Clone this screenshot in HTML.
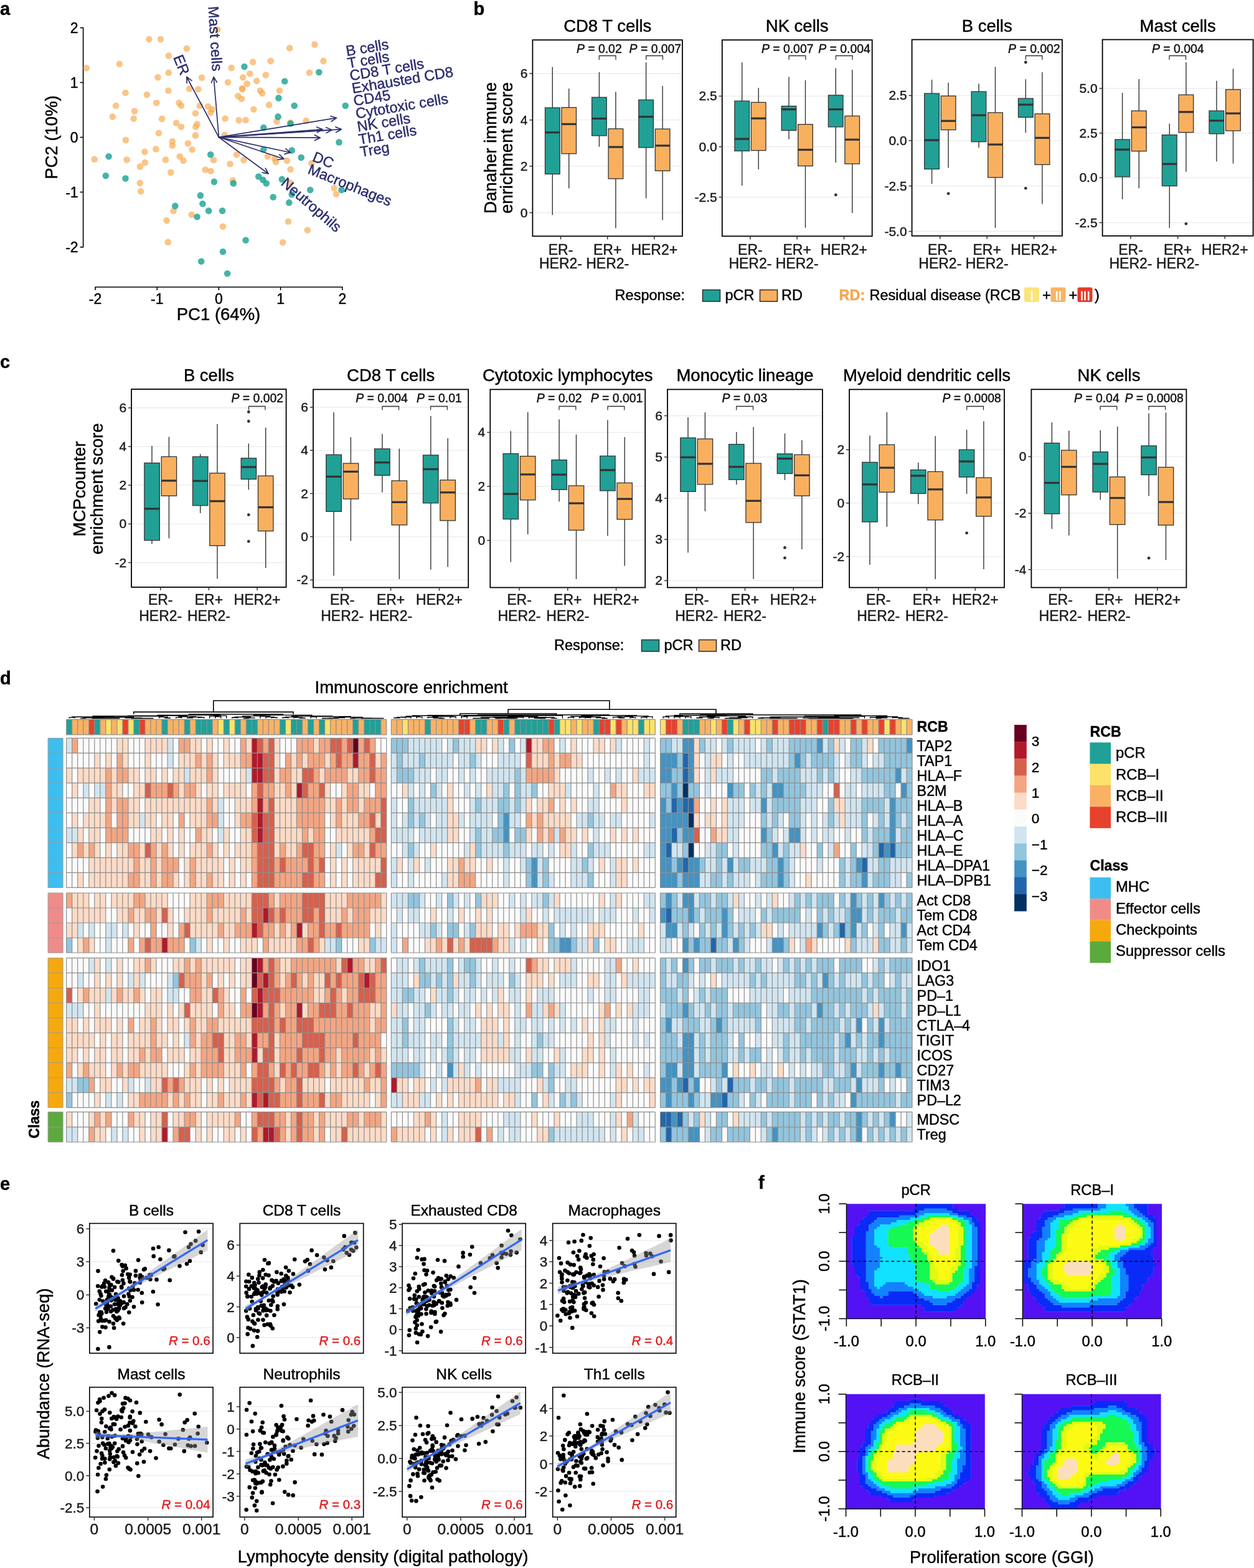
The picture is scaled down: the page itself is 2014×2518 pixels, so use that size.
<!DOCTYPE html>
<html><head><meta charset="utf-8"><title>Figure</title>
<style>html,body{margin:0;padding:0;background:#fff;}svg{display:block;}text{font-family:"Liberation Sans", Arial, Helvetica, sans-serif;}</style>
</head><body>
<svg width="2014" height="2518" viewBox="0 0 2014 2518">
<rect width="2014" height="2518" fill="#fff"/>
<text x="0" y="23.5" font-size="29" font-weight="bold" stroke="#000" stroke-width="0.45">a</text>
<line x1="133.6" y1="44" x2="133.6" y2="397.5" stroke="#000" stroke-width="1.6"/>
<line x1="128.6" y1="44.5" x2="133.6" y2="44.5" stroke="#000" stroke-width="1.6"/>
<text x="125.6" y="52.5" font-size="23" text-anchor="end" stroke="#000" stroke-width="0.45">2</text>
<line x1="128.6" y1="132.5" x2="133.6" y2="132.5" stroke="#000" stroke-width="1.6"/>
<text x="125.6" y="140.5" font-size="23" text-anchor="end" stroke="#000" stroke-width="0.45">1</text>
<line x1="128.6" y1="220.5" x2="133.6" y2="220.5" stroke="#000" stroke-width="1.6"/>
<text x="125.6" y="228.5" font-size="23" text-anchor="end" stroke="#000" stroke-width="0.45">0</text>
<line x1="128.6" y1="308.5" x2="133.6" y2="308.5" stroke="#000" stroke-width="1.6"/>
<text x="125.6" y="316.5" font-size="23" text-anchor="end" stroke="#000" stroke-width="0.45">-1</text>
<line x1="128.6" y1="396.8" x2="133.6" y2="396.8" stroke="#000" stroke-width="1.6"/>
<text x="125.6" y="404.8" font-size="23" text-anchor="end" stroke="#000" stroke-width="0.45">-2</text>
<line x1="152.5" y1="461" x2="550.5" y2="461" stroke="#000" stroke-width="1.6"/>
<line x1="153" y1="461" x2="153" y2="466" stroke="#000" stroke-width="1.6"/>
<text x="153" y="488" font-size="23" text-anchor="middle" stroke="#000" stroke-width="0.45">-2</text>
<line x1="252.3" y1="461" x2="252.3" y2="466" stroke="#000" stroke-width="1.6"/>
<text x="252.3" y="488" font-size="23" text-anchor="middle" stroke="#000" stroke-width="0.45">-1</text>
<line x1="351.4" y1="461" x2="351.4" y2="466" stroke="#000" stroke-width="1.6"/>
<text x="351.4" y="488" font-size="23" text-anchor="middle" stroke="#000" stroke-width="0.45">0</text>
<line x1="450.6" y1="461" x2="450.6" y2="466" stroke="#000" stroke-width="1.6"/>
<text x="450.6" y="488" font-size="23" text-anchor="middle" stroke="#000" stroke-width="0.45">1</text>
<line x1="549.8" y1="461" x2="549.8" y2="466" stroke="#000" stroke-width="1.6"/>
<text x="549.8" y="488" font-size="23" text-anchor="middle" stroke="#000" stroke-width="0.45">2</text>
<text x="351" y="514" font-size="27.5" text-anchor="middle" stroke="#000" stroke-width="0.45">PC1 (64%)</text>
<text x="92" y="220.5" font-size="27.5" text-anchor="middle" stroke="#000" stroke-width="0.45" transform="rotate(-90 92 220.5)">PC2 (10%)</text>
<g fill="#F7A94E" fill-opacity="0.68">
<circle cx="138.9" cy="109.3" r="5.3"/>
<circle cx="239.4" cy="63.1" r="5.3"/>
<circle cx="257.9" cy="63.1" r="5.3"/>
<circle cx="299.8" cy="78" r="5.3"/>
<circle cx="270.7" cy="89.5" r="5.3"/>
<circle cx="191.8" cy="102.7" r="5.3"/>
<circle cx="349.2" cy="47.6" r="5.3"/>
<circle cx="465.2" cy="77.2" r="5.3"/>
<circle cx="505.3" cy="71.4" r="5.3"/>
<circle cx="519.4" cy="97.9" r="5.3"/>
<circle cx="434.7" cy="97.9" r="5.3"/>
<circle cx="406.1" cy="99.6" r="5.3"/>
<circle cx="371.7" cy="108.9" r="5.3"/>
<circle cx="270.7" cy="116.8" r="5.3"/>
<circle cx="253.5" cy="124.3" r="5.3"/>
<circle cx="324.1" cy="124.8" r="5.3"/>
<circle cx="401.2" cy="118.2" r="5.3"/>
<circle cx="426.8" cy="120.4" r="5.3"/>
<circle cx="496.9" cy="116.8" r="5.3"/>
<circle cx="201.5" cy="149" r="5.3"/>
<circle cx="235.9" cy="152.1" r="5.3"/>
<circle cx="270.3" cy="145.5" r="5.3"/>
<circle cx="304.2" cy="142.4" r="5.3"/>
<circle cx="318.3" cy="143.3" r="5.3"/>
<circle cx="366" cy="132.3" r="5.3"/>
<circle cx="412.3" cy="130.1" r="5.3"/>
<circle cx="390.2" cy="124.3" r="5.3"/>
<circle cx="396.8" cy="134.5" r="5.3"/>
<circle cx="388.9" cy="142" r="5.3"/>
<circle cx="382.3" cy="154.3" r="5.3"/>
<circle cx="388" cy="158.7" r="5.3"/>
<circle cx="389.3" cy="143.3" r="5.3"/>
<circle cx="418" cy="145.5" r="5.3"/>
<circle cx="421.1" cy="149.9" r="5.3"/>
<circle cx="448.9" cy="145.5" r="5.3"/>
<circle cx="186.1" cy="169.8" r="5.3"/>
<circle cx="216" cy="178.6" r="5.3"/>
<circle cx="251.3" cy="165.3" r="5.3"/>
<circle cx="287.5" cy="165.3" r="5.3"/>
<circle cx="291" cy="169.8" r="5.3"/>
<circle cx="321" cy="169.8" r="5.3"/>
<circle cx="334.2" cy="171.1" r="5.3"/>
<circle cx="340.8" cy="175.5" r="5.3"/>
<circle cx="338.2" cy="180.8" r="5.3"/>
<circle cx="313.9" cy="182.1" r="5.3"/>
<circle cx="432.1" cy="168.4" r="5.3"/>
<circle cx="407.4" cy="175.5" r="5.3"/>
<circle cx="180.8" cy="187.4" r="5.3"/>
<circle cx="214.7" cy="190.5" r="5.3"/>
<circle cx="260.1" cy="190.9" r="5.3"/>
<circle cx="283.1" cy="197.5" r="5.3"/>
<circle cx="291" cy="203.7" r="5.3"/>
<circle cx="316.6" cy="199.3" r="5.3"/>
<circle cx="314.4" cy="203.7" r="5.3"/>
<circle cx="361.6" cy="190.5" r="5.3"/>
<circle cx="383.6" cy="193.1" r="5.3"/>
<circle cx="394.6" cy="192.7" r="5.3"/>
<circle cx="444.4" cy="194.9" r="5.3"/>
<circle cx="491.6" cy="194" r="5.3"/>
<circle cx="466.5" cy="197.1" r="5.3"/>
<circle cx="254.9" cy="213.8" r="5.3"/>
<circle cx="313.9" cy="217.4" r="5.3"/>
<circle cx="360.7" cy="216.9" r="5.3"/>
<circle cx="201.9" cy="224.9" r="5.3"/>
<circle cx="276.9" cy="227.1" r="5.3"/>
<circle cx="302" cy="230.2" r="5.3"/>
<circle cx="276.9" cy="233.7" r="5.3"/>
<circle cx="250.4" cy="239.4" r="5.3"/>
<circle cx="308.6" cy="240.3" r="5.3"/>
<circle cx="232.4" cy="243.8" r="5.3"/>
<circle cx="151.7" cy="255.7" r="5.3"/>
<circle cx="203.7" cy="256.6" r="5.3"/>
<circle cx="288.8" cy="251.3" r="5.3"/>
<circle cx="294.5" cy="257.9" r="5.3"/>
<circle cx="232.8" cy="261" r="5.3"/>
<circle cx="265.9" cy="256.6" r="5.3"/>
<circle cx="343" cy="257.1" r="5.3"/>
<circle cx="380.1" cy="248.2" r="5.3"/>
<circle cx="391.5" cy="257.1" r="5.3"/>
<circle cx="429.9" cy="251.3" r="5.3"/>
<circle cx="440.9" cy="254.9" r="5.3"/>
<circle cx="443.1" cy="260.1" r="5.3"/>
<circle cx="460.8" cy="257.9" r="5.3"/>
<circle cx="500.4" cy="262.3" r="5.3"/>
<circle cx="224.9" cy="267.6" r="5.3"/>
<circle cx="274.3" cy="276.9" r="5.3"/>
<circle cx="329.8" cy="272.5" r="5.3"/>
<circle cx="338.6" cy="274.7" r="5.3"/>
<circle cx="369.5" cy="263.2" r="5.3"/>
<circle cx="466.5" cy="272" r="5.3"/>
<circle cx="224.9" cy="294.1" r="5.3"/>
<circle cx="226.2" cy="307.3" r="5.3"/>
<circle cx="373.9" cy="289.7" r="5.3"/>
<circle cx="466" cy="293.2" r="5.3"/>
<circle cx="536.6" cy="302" r="5.3"/>
<circle cx="540.1" cy="311.7" r="5.3"/>
<circle cx="278.7" cy="338.6" r="5.3"/>
<circle cx="307.8" cy="344.8" r="5.3"/>
<circle cx="267.6" cy="354.1" r="5.3"/>
<circle cx="358" cy="363.8" r="5.3"/>
<circle cx="463" cy="355.8" r="5.3"/>
<circle cx="493.8" cy="369.5" r="5.3"/>
<circle cx="269.8" cy="388.9" r="5.3"/>
<circle cx="454.1" cy="389.3" r="5.3"/>
</g><g fill="#17A093" fill-opacity="0.8">
<circle cx="392.4" cy="107.1" r="5.3"/>
<circle cx="512.3" cy="116" r="5.3"/>
<circle cx="457.2" cy="130.5" r="5.3"/>
<circle cx="447.5" cy="157.4" r="5.3"/>
<circle cx="472.7" cy="169.8" r="5.3"/>
<circle cx="554.7" cy="169.8" r="5.3"/>
<circle cx="446.6" cy="187.4" r="5.3"/>
<circle cx="423.3" cy="205" r="5.3"/>
<circle cx="466.5" cy="198.4" r="5.3"/>
<circle cx="544.5" cy="228.4" r="5.3"/>
<circle cx="423.3" cy="240.3" r="5.3"/>
<circle cx="468.7" cy="241.6" r="5.3"/>
<circle cx="483.7" cy="253.1" r="5.3"/>
<circle cx="338.2" cy="248.2" r="5.3"/>
<circle cx="174.6" cy="251.3" r="5.3"/>
<circle cx="169.8" cy="282.2" r="5.3"/>
<circle cx="201.5" cy="286.6" r="5.3"/>
<circle cx="343.9" cy="291.9" r="5.3"/>
<circle cx="374.8" cy="294.5" r="5.3"/>
<circle cx="415.3" cy="283.5" r="5.3"/>
<circle cx="422.4" cy="288.8" r="5.3"/>
<circle cx="427.7" cy="294.5" r="5.3"/>
<circle cx="452.8" cy="287.9" r="5.3"/>
<circle cx="498.2" cy="305.1" r="5.3"/>
<circle cx="548.5" cy="305.1" r="5.3"/>
<circle cx="438.7" cy="316.6" r="5.3"/>
<circle cx="468.7" cy="312.2" r="5.3"/>
<circle cx="464.3" cy="325.4" r="5.3"/>
<circle cx="321.9" cy="313.9" r="5.3"/>
<circle cx="325.4" cy="327.2" r="5.3"/>
<circle cx="281.3" cy="330.7" r="5.3"/>
<circle cx="335.1" cy="338.6" r="5.3"/>
<circle cx="316.6" cy="348.3" r="5.3"/>
<circle cx="357.1" cy="338.6" r="5.3"/>
<circle cx="394.6" cy="385.8" r="5.3"/>
<circle cx="358" cy="404.3" r="5.3"/>
<circle cx="323.2" cy="419.8" r="5.3"/>
<circle cx="365.1" cy="439.2" r="5.3"/>
</g>
<g stroke="#2B2E6E" stroke-width="1.7" fill="none" stroke-linecap="round" stroke-linejoin="round">
<path d="M351.4 220.3L540.5 189.3M532.3 195L540.5 189.3L530.9 186.5"/>
<path d="M351.4 220.3L517.9 207.7M509.2 212.7L517.9 207.7L508.6 204"/>
<path d="M351.4 220.3L533 208.5M524.3 213.4L533 208.5L523.7 204.7"/>
<path d="M351.4 220.3L548.3 207.7M539.6 212.6L548.3 207.7L539 203.9"/>
<path d="M351.4 220.3L514.3 221.2M505.3 225.5L514.3 221.2L505.3 216.8"/>
<path d="M351.4 220.3L466.7 245M457 247.4L466.7 245L458.8 238.9"/>
<path d="M351.4 220.3L456 255.2M446.1 256.5L456 255.2L448.8 248.2"/>
<path d="M351.4 220.3L431 279M421.2 277.2L431 279L426.3 270.2"/>
<path d="M351.4 220.3L299.8 123.5M307.9 129.4L299.8 123.5L300.2 133.5"/>
<path d="M351.4 220.3L343.2 123.5M348.3 132.1L343.2 123.5L339.6 132.8"/>
</g>
<text x="557" y="90" font-size="23.5" fill="#2B2E6E" stroke="#2B2E6E" stroke-width="0.45" transform="rotate(-9.5 557 90)">B cells</text>
<text x="559.5" y="109.5" font-size="23.5" fill="#2B2E6E" stroke="#2B2E6E" stroke-width="0.45" transform="rotate(-9.5 559.5 109.5)">T cells</text>
<text x="563" y="129.5" font-size="23.5" fill="#2B2E6E" stroke="#2B2E6E" stroke-width="0.45" transform="rotate(-9.5 563 129.5)">CD8 T cells</text>
<text x="566.6" y="150" font-size="23.5" fill="#2B2E6E" stroke="#2B2E6E" stroke-width="0.45" transform="rotate(-9.5 566.6 150)">Exhausted CD8</text>
<text x="569" y="170" font-size="23.5" fill="#2B2E6E" stroke="#2B2E6E" stroke-width="0.45" transform="rotate(-9.5 569 170)">CD45</text>
<text x="572.6" y="190.5" font-size="23.5" fill="#2B2E6E" stroke="#2B2E6E" stroke-width="0.45" transform="rotate(-9.5 572.6 190.5)">Cytotoxic cells</text>
<text x="575" y="211.5" font-size="23.5" fill="#2B2E6E" stroke="#2B2E6E" stroke-width="0.45" transform="rotate(-9.5 575 211.5)">NK cells</text>
<text x="577.3" y="232" font-size="23.5" fill="#2B2E6E" stroke="#2B2E6E" stroke-width="0.45" transform="rotate(-9.5 577.3 232)">Th1 cells</text>
<text x="579.7" y="252" font-size="23.5" fill="#2B2E6E" stroke="#2B2E6E" stroke-width="0.45" transform="rotate(-9.5 579.7 252)">Treg</text>
<text x="500.5" y="258" font-size="23.5" fill="#2B2E6E" stroke="#2B2E6E" stroke-width="0.45" transform="rotate(22 500.5 258)">DC</text>
<text x="493" y="278" font-size="23.5" fill="#2B2E6E" stroke="#2B2E6E" stroke-width="0.45" transform="rotate(22 493 278)">Macrophages</text>
<text x="450" y="296" font-size="23.5" fill="#2B2E6E" stroke="#2B2E6E" stroke-width="0.45" transform="rotate(41 450 296)">Neutrophils</text>
<text x="278" y="92" font-size="23.5" fill="#2B2E6E" stroke="#2B2E6E" stroke-width="0.45" transform="rotate(68 278 92)">ER</text>
<text x="334.5" y="10.5" font-size="23.5" fill="#2B2E6E" stroke="#2B2E6E" stroke-width="0.45" transform="rotate(86.5 334.5 10.5)">Mast cells</text>
<text x="760.5" y="24" font-size="29" font-weight="bold" stroke="#000" stroke-width="0.45">b</text>
<line x1="855.4" y1="118" x2="1095.9" y2="118" stroke="#EBEBEB" stroke-width="1.3"/>
<line x1="855.4" y1="192.7" x2="1095.9" y2="192.7" stroke="#EBEBEB" stroke-width="1.3"/>
<line x1="855.4" y1="266.9" x2="1095.9" y2="266.9" stroke="#EBEBEB" stroke-width="1.3"/>
<line x1="855.4" y1="341.5" x2="1095.9" y2="341.5" stroke="#EBEBEB" stroke-width="1.3"/>
<line x1="887.3" y1="107.6" x2="887.3" y2="173" stroke="#333" stroke-width="1.4"/>
<line x1="887.3" y1="279.5" x2="887.3" y2="345.2" stroke="#333" stroke-width="1.4"/>
<rect x="875.5" y="173" width="23.6" height="106.5" fill="#21A096" stroke="#333" stroke-width="1.3"/>
<line x1="875.5" y1="212.7" x2="899.1" y2="212.7" stroke="#333" stroke-width="3.2"/>
<line x1="913.7" y1="142.2" x2="913.7" y2="172.6" stroke="#333" stroke-width="1.4"/>
<line x1="913.7" y1="246.8" x2="913.7" y2="302.5" stroke="#333" stroke-width="1.4"/>
<rect x="901.9" y="172.6" width="23.6" height="74.2" fill="#F9B05E" stroke="#333" stroke-width="1.3"/>
<line x1="901.9" y1="199.3" x2="925.5" y2="199.3" stroke="#333" stroke-width="3.2"/>
<line x1="962.4" y1="115.8" x2="962.4" y2="156.3" stroke="#333" stroke-width="1.4"/>
<line x1="962.4" y1="217.9" x2="962.4" y2="235.7" stroke="#333" stroke-width="1.4"/>
<rect x="950.6" y="156.3" width="23.6" height="61.6" fill="#21A096" stroke="#333" stroke-width="1.3"/>
<line x1="950.6" y1="190.4" x2="974.2" y2="190.4" stroke="#333" stroke-width="3.2"/>
<line x1="988.9" y1="147.4" x2="988.9" y2="206.8" stroke="#333" stroke-width="1.4"/>
<line x1="988.9" y1="286.9" x2="988.9" y2="366.4" stroke="#333" stroke-width="1.4"/>
<rect x="977.1" y="206.8" width="23.6" height="80.2" fill="#F9B05E" stroke="#333" stroke-width="1.3"/>
<line x1="977.1" y1="236.1" x2="1000.7" y2="236.1" stroke="#333" stroke-width="3.2"/>
<line x1="1037.6" y1="100.2" x2="1037.6" y2="160.4" stroke="#333" stroke-width="1.4"/>
<line x1="1037.6" y1="236.8" x2="1037.6" y2="318.5" stroke="#333" stroke-width="1.4"/>
<rect x="1025.8" y="160.4" width="23.6" height="76.5" fill="#21A096" stroke="#333" stroke-width="1.3"/>
<line x1="1025.8" y1="187.5" x2="1049.4" y2="187.5" stroke="#333" stroke-width="3.2"/>
<line x1="1064.1" y1="138.1" x2="1064.1" y2="207.1" stroke="#333" stroke-width="1.4"/>
<line x1="1064.1" y1="274.3" x2="1064.1" y2="353.4" stroke="#333" stroke-width="1.4"/>
<rect x="1052.3" y="207.1" width="23.6" height="67.2" fill="#F9B05E" stroke="#333" stroke-width="1.3"/>
<line x1="1052.3" y1="233.9" x2="1075.9" y2="233.9" stroke="#333" stroke-width="3.2"/>
<rect x="855.4" y="64.2" width="240.5" height="315.1" fill="none" stroke="#000" stroke-width="1.8"/>
<line x1="850.4" y1="118" x2="855.4" y2="118" stroke="#333" stroke-width="1.5"/>
<text x="847.4" y="125" font-size="21" text-anchor="end" fill="#1a1a1a" stroke="#1a1a1a" stroke-width="0.45">6</text>
<line x1="850.4" y1="192.7" x2="855.4" y2="192.7" stroke="#333" stroke-width="1.5"/>
<text x="847.4" y="199.7" font-size="21" text-anchor="end" fill="#1a1a1a" stroke="#1a1a1a" stroke-width="0.45">4</text>
<line x1="850.4" y1="266.9" x2="855.4" y2="266.9" stroke="#333" stroke-width="1.5"/>
<text x="847.4" y="273.9" font-size="21" text-anchor="end" fill="#1a1a1a" stroke="#1a1a1a" stroke-width="0.45">2</text>
<line x1="850.4" y1="341.5" x2="855.4" y2="341.5" stroke="#333" stroke-width="1.5"/>
<text x="847.4" y="348.5" font-size="21" text-anchor="end" fill="#1a1a1a" stroke="#1a1a1a" stroke-width="0.45">0</text>
<line x1="900.5" y1="379.4" x2="900.5" y2="384.4" stroke="#333" stroke-width="1.5"/>
<line x1="975.7" y1="379.4" x2="975.7" y2="384.4" stroke="#333" stroke-width="1.5"/>
<line x1="1050.8" y1="379.4" x2="1050.8" y2="384.4" stroke="#333" stroke-width="1.5"/>
<text x="900.5" y="408.5" font-size="23" text-anchor="middle" fill="#1a1a1a" stroke="#1a1a1a" stroke-width="0.45">ER-</text>
<text x="975.7" y="408.5" font-size="23" text-anchor="middle" fill="#1a1a1a" stroke="#1a1a1a" stroke-width="0.45">ER+</text>
<text x="1050.8" y="408.5" font-size="23" text-anchor="middle" fill="#1a1a1a" stroke="#1a1a1a" stroke-width="0.45">HER2+</text>
<text x="900.5" y="431" font-size="23" text-anchor="middle" fill="#1a1a1a" stroke="#1a1a1a" stroke-width="0.45">HER2-</text>
<text x="975.7" y="431" font-size="23" text-anchor="middle" fill="#1a1a1a" stroke="#1a1a1a" stroke-width="0.45">HER2-</text>
<text x="975.7" y="50.5" font-size="27.5" text-anchor="middle" stroke="#000" stroke-width="0.45">CD8 T cells</text>
<text x="925.9" y="84.5" font-size="19.4" fill="#111" stroke="#111" stroke-width="0.45"><tspan font-style="italic">P</tspan> = 0.02</text>
<path d="M962.3 96V89.5H989V96" stroke="#333" stroke-width="1.3" fill="none"/>
<text x="1010.6" y="84.5" font-size="19.4" fill="#111" stroke="#111" stroke-width="0.45"><tspan font-style="italic">P</tspan> = 0.007</text>
<path d="M1037.7 96V89.5H1064.4V96" stroke="#333" stroke-width="1.3" fill="none"/>
<line x1="1159.8" y1="154.4" x2="1400.7" y2="154.4" stroke="#EBEBEB" stroke-width="1.3"/>
<line x1="1159.8" y1="235.7" x2="1400.7" y2="235.7" stroke="#EBEBEB" stroke-width="1.3"/>
<line x1="1159.8" y1="316.6" x2="1400.7" y2="316.6" stroke="#EBEBEB" stroke-width="1.3"/>
<line x1="1191.7" y1="100.2" x2="1191.7" y2="162.2" stroke="#333" stroke-width="1.4"/>
<line x1="1191.7" y1="242.4" x2="1191.7" y2="298.1" stroke="#333" stroke-width="1.4"/>
<rect x="1179.9" y="162.2" width="23.6" height="80.2" fill="#21A096" stroke="#333" stroke-width="1.3"/>
<line x1="1179.9" y1="223.1" x2="1203.5" y2="223.1" stroke="#333" stroke-width="3.2"/>
<line x1="1218.2" y1="141.1" x2="1218.2" y2="164.4" stroke="#333" stroke-width="1.4"/>
<line x1="1218.2" y1="241.6" x2="1218.2" y2="272.1" stroke="#333" stroke-width="1.4"/>
<rect x="1206.4" y="164.4" width="23.6" height="77.2" fill="#F9B05E" stroke="#333" stroke-width="1.3"/>
<line x1="1206.4" y1="190.1" x2="1230" y2="190.1" stroke="#333" stroke-width="3.2"/>
<line x1="1267" y1="123.6" x2="1267" y2="170.4" stroke="#333" stroke-width="1.4"/>
<line x1="1267" y1="209.4" x2="1267" y2="223.8" stroke="#333" stroke-width="1.4"/>
<rect x="1255.2" y="170.4" width="23.6" height="39" fill="#21A096" stroke="#333" stroke-width="1.3"/>
<line x1="1255.2" y1="175.6" x2="1278.8" y2="175.6" stroke="#333" stroke-width="3.2"/>
<line x1="1293.5" y1="128.8" x2="1293.5" y2="199.7" stroke="#333" stroke-width="1.4"/>
<line x1="1293.5" y1="266.5" x2="1293.5" y2="365.6" stroke="#333" stroke-width="1.4"/>
<rect x="1281.7" y="199.7" width="23.6" height="66.8" fill="#F9B05E" stroke="#333" stroke-width="1.3"/>
<line x1="1281.7" y1="240.5" x2="1305.3" y2="240.5" stroke="#333" stroke-width="3.2"/>
<line x1="1342.3" y1="109.5" x2="1342.3" y2="152.9" stroke="#333" stroke-width="1.4"/>
<line x1="1342.3" y1="203.8" x2="1342.3" y2="261" stroke="#333" stroke-width="1.4"/>
<rect x="1330.4" y="152.9" width="23.6" height="50.9" fill="#21A096" stroke="#333" stroke-width="1.3"/>
<line x1="1330.4" y1="175.6" x2="1354.1" y2="175.6" stroke="#333" stroke-width="3.2"/>
<circle cx="1342.3" cy="312.9" r="2.4" fill="#333"/>
<line x1="1368.8" y1="112.1" x2="1368.8" y2="186.3" stroke="#333" stroke-width="1.4"/>
<line x1="1368.8" y1="263.2" x2="1368.8" y2="342.2" stroke="#333" stroke-width="1.4"/>
<rect x="1356.9" y="186.3" width="23.6" height="76.8" fill="#F9B05E" stroke="#333" stroke-width="1.3"/>
<line x1="1356.9" y1="224.2" x2="1380.6" y2="224.2" stroke="#333" stroke-width="3.2"/>
<rect x="1159.8" y="64.2" width="240.9" height="315.1" fill="none" stroke="#000" stroke-width="1.8"/>
<line x1="1154.8" y1="154.4" x2="1159.8" y2="154.4" stroke="#333" stroke-width="1.5"/>
<text x="1151.8" y="161.4" font-size="21" text-anchor="end" fill="#1a1a1a" stroke="#1a1a1a" stroke-width="0.45">2.5</text>
<line x1="1154.8" y1="235.7" x2="1159.8" y2="235.7" stroke="#333" stroke-width="1.5"/>
<text x="1151.8" y="242.7" font-size="21" text-anchor="end" fill="#1a1a1a" stroke="#1a1a1a" stroke-width="0.45">0.0</text>
<line x1="1154.8" y1="316.6" x2="1159.8" y2="316.6" stroke="#333" stroke-width="1.5"/>
<text x="1151.8" y="323.6" font-size="21" text-anchor="end" fill="#1a1a1a" stroke="#1a1a1a" stroke-width="0.45">-2.5</text>
<line x1="1204.9" y1="379.4" x2="1204.9" y2="384.4" stroke="#333" stroke-width="1.5"/>
<line x1="1280.2" y1="379.4" x2="1280.2" y2="384.4" stroke="#333" stroke-width="1.5"/>
<line x1="1355.5" y1="379.4" x2="1355.5" y2="384.4" stroke="#333" stroke-width="1.5"/>
<text x="1204.9" y="408.5" font-size="23" text-anchor="middle" fill="#1a1a1a" stroke="#1a1a1a" stroke-width="0.45">ER-</text>
<text x="1280.2" y="408.5" font-size="23" text-anchor="middle" fill="#1a1a1a" stroke="#1a1a1a" stroke-width="0.45">ER+</text>
<text x="1355.5" y="408.5" font-size="23" text-anchor="middle" fill="#1a1a1a" stroke="#1a1a1a" stroke-width="0.45">HER2+</text>
<text x="1204.9" y="431" font-size="23" text-anchor="middle" fill="#1a1a1a" stroke="#1a1a1a" stroke-width="0.45">HER2-</text>
<text x="1280.2" y="431" font-size="23" text-anchor="middle" fill="#1a1a1a" stroke="#1a1a1a" stroke-width="0.45">HER2-</text>
<text x="1280.2" y="50.5" font-size="27.5" text-anchor="middle" stroke="#000" stroke-width="0.45">NK cells</text>
<text x="1222.9" y="84.5" font-size="19.4" fill="#111" stroke="#111" stroke-width="0.45"><tspan font-style="italic">P</tspan> = 0.007</text>
<path d="M1267.1 96V89.5H1293.8V96" stroke="#333" stroke-width="1.3" fill="none"/>
<text x="1314.2" y="84.5" font-size="19.4" fill="#111" stroke="#111" stroke-width="0.45"><tspan font-style="italic">P</tspan> = 0.004</text>
<path d="M1342.4 96V89.5H1369.1V96" stroke="#333" stroke-width="1.3" fill="none"/>
<line x1="1464.6" y1="153.4" x2="1705.9" y2="153.4" stroke="#EBEBEB" stroke-width="1.3"/>
<line x1="1464.6" y1="225.8" x2="1705.9" y2="225.8" stroke="#EBEBEB" stroke-width="1.3"/>
<line x1="1464.6" y1="298.6" x2="1705.9" y2="298.6" stroke="#EBEBEB" stroke-width="1.3"/>
<line x1="1464.6" y1="371.5" x2="1705.9" y2="371.5" stroke="#EBEBEB" stroke-width="1.3"/>
<line x1="1496.6" y1="128" x2="1496.6" y2="150.1" stroke="#333" stroke-width="1.4"/>
<line x1="1496.6" y1="271.4" x2="1496.6" y2="295.3" stroke="#333" stroke-width="1.4"/>
<rect x="1484.7" y="150.1" width="23.7" height="121.4" fill="#21A096" stroke="#333" stroke-width="1.3"/>
<line x1="1484.7" y1="225.1" x2="1508.4" y2="225.1" stroke="#333" stroke-width="3.2"/>
<line x1="1523.1" y1="132.8" x2="1523.1" y2="154.1" stroke="#333" stroke-width="1.4"/>
<line x1="1523.1" y1="208.5" x2="1523.1" y2="269.6" stroke="#333" stroke-width="1.4"/>
<rect x="1511.3" y="154.1" width="23.7" height="54.4" fill="#F9B05E" stroke="#333" stroke-width="1.3"/>
<line x1="1511.3" y1="194.2" x2="1534.9" y2="194.2" stroke="#333" stroke-width="3.2"/>
<circle cx="1523.1" cy="310.8" r="2.4" fill="#333"/>
<line x1="1572" y1="134.6" x2="1572" y2="147.1" stroke="#333" stroke-width="1.4"/>
<line x1="1572" y1="227.7" x2="1572" y2="237.2" stroke="#333" stroke-width="1.4"/>
<rect x="1560.1" y="147.1" width="23.7" height="80.5" fill="#21A096" stroke="#333" stroke-width="1.3"/>
<line x1="1560.1" y1="185" x2="1583.8" y2="185" stroke="#333" stroke-width="3.2"/>
<line x1="1598.5" y1="107.4" x2="1598.5" y2="180.9" stroke="#333" stroke-width="1.4"/>
<line x1="1598.5" y1="285" x2="1598.5" y2="365.9" stroke="#333" stroke-width="1.4"/>
<rect x="1586.7" y="180.9" width="23.7" height="104.1" fill="#F9B05E" stroke="#333" stroke-width="1.3"/>
<line x1="1586.7" y1="232.1" x2="1610.3" y2="232.1" stroke="#333" stroke-width="3.2"/>
<line x1="1647.3" y1="127.3" x2="1647.3" y2="158.1" stroke="#333" stroke-width="1.4"/>
<line x1="1647.3" y1="188.3" x2="1647.3" y2="213.3" stroke="#333" stroke-width="1.4"/>
<rect x="1635.5" y="158.1" width="23.7" height="30.2" fill="#21A096" stroke="#333" stroke-width="1.3"/>
<line x1="1635.5" y1="168.1" x2="1659.2" y2="168.1" stroke="#333" stroke-width="3.2"/>
<circle cx="1647.3" cy="100" r="2.4" fill="#333"/>
<circle cx="1647.3" cy="302.3" r="2.4" fill="#333"/>
<line x1="1673.9" y1="115.9" x2="1673.9" y2="182.8" stroke="#333" stroke-width="1.4"/>
<line x1="1673.9" y1="264.4" x2="1673.9" y2="327.7" stroke="#333" stroke-width="1.4"/>
<rect x="1662.1" y="182.8" width="23.7" height="81.6" fill="#F9B05E" stroke="#333" stroke-width="1.3"/>
<line x1="1662.1" y1="221.4" x2="1685.7" y2="221.4" stroke="#333" stroke-width="3.2"/>
<rect x="1464.6" y="63.6" width="241.3" height="315.2" fill="none" stroke="#000" stroke-width="1.8"/>
<line x1="1459.6" y1="153.4" x2="1464.6" y2="153.4" stroke="#333" stroke-width="1.5"/>
<text x="1456.6" y="160.4" font-size="21" text-anchor="end" fill="#1a1a1a" stroke="#1a1a1a" stroke-width="0.45">2.5</text>
<line x1="1459.6" y1="225.8" x2="1464.6" y2="225.8" stroke="#333" stroke-width="1.5"/>
<text x="1456.6" y="232.8" font-size="21" text-anchor="end" fill="#1a1a1a" stroke="#1a1a1a" stroke-width="0.45">0.0</text>
<line x1="1459.6" y1="298.6" x2="1464.6" y2="298.6" stroke="#333" stroke-width="1.5"/>
<text x="1456.6" y="305.6" font-size="21" text-anchor="end" fill="#1a1a1a" stroke="#1a1a1a" stroke-width="0.45">-2.5</text>
<line x1="1459.6" y1="371.5" x2="1464.6" y2="371.5" stroke="#333" stroke-width="1.5"/>
<text x="1456.6" y="378.5" font-size="21" text-anchor="end" fill="#1a1a1a" stroke="#1a1a1a" stroke-width="0.45">-5.0</text>
<line x1="1509.8" y1="378.8" x2="1509.8" y2="383.8" stroke="#333" stroke-width="1.5"/>
<line x1="1585.2" y1="378.8" x2="1585.2" y2="383.8" stroke="#333" stroke-width="1.5"/>
<line x1="1660.6" y1="378.8" x2="1660.6" y2="383.8" stroke="#333" stroke-width="1.5"/>
<text x="1509.8" y="408.5" font-size="23" text-anchor="middle" fill="#1a1a1a" stroke="#1a1a1a" stroke-width="0.45">ER-</text>
<text x="1585.2" y="408.5" font-size="23" text-anchor="middle" fill="#1a1a1a" stroke="#1a1a1a" stroke-width="0.45">ER+</text>
<text x="1660.6" y="408.5" font-size="23" text-anchor="middle" fill="#1a1a1a" stroke="#1a1a1a" stroke-width="0.45">HER2+</text>
<text x="1509.8" y="431" font-size="23" text-anchor="middle" fill="#1a1a1a" stroke="#1a1a1a" stroke-width="0.45">HER2-</text>
<text x="1585.2" y="431" font-size="23" text-anchor="middle" fill="#1a1a1a" stroke="#1a1a1a" stroke-width="0.45">HER2-</text>
<text x="1585.2" y="50.5" font-size="27.5" text-anchor="middle" stroke="#000" stroke-width="0.45">B cells</text>
<text x="1619.1" y="84.5" font-size="19.4" fill="#111" stroke="#111" stroke-width="0.45"><tspan font-style="italic">P</tspan> = 0.002</text>
<path d="M1647.4 96V89.5H1673.9V96" stroke="#333" stroke-width="1.3" fill="none"/>
<line x1="1770.6" y1="142" x2="2012.6" y2="142" stroke="#EBEBEB" stroke-width="1.3"/>
<line x1="1770.6" y1="213.7" x2="2012.6" y2="213.7" stroke="#EBEBEB" stroke-width="1.3"/>
<line x1="1770.6" y1="285.4" x2="2012.6" y2="285.4" stroke="#EBEBEB" stroke-width="1.3"/>
<line x1="1770.6" y1="357.5" x2="2012.6" y2="357.5" stroke="#EBEBEB" stroke-width="1.3"/>
<line x1="1802.6" y1="149" x2="1802.6" y2="224" stroke="#333" stroke-width="1.4"/>
<line x1="1802.6" y1="283.9" x2="1802.6" y2="320" stroke="#333" stroke-width="1.4"/>
<rect x="1790.8" y="224" width="23.7" height="59.9" fill="#21A096" stroke="#333" stroke-width="1.3"/>
<line x1="1790.8" y1="240.2" x2="1814.5" y2="240.2" stroke="#333" stroke-width="3.2"/>
<line x1="1829.3" y1="126.9" x2="1829.3" y2="178" stroke="#333" stroke-width="1.4"/>
<line x1="1829.3" y1="242.7" x2="1829.3" y2="302.3" stroke="#333" stroke-width="1.4"/>
<rect x="1817.4" y="178" width="23.7" height="64.7" fill="#F9B05E" stroke="#333" stroke-width="1.3"/>
<line x1="1817.4" y1="204.5" x2="1841.1" y2="204.5" stroke="#333" stroke-width="3.2"/>
<line x1="1878.3" y1="198.6" x2="1878.3" y2="216.6" stroke="#333" stroke-width="1.4"/>
<line x1="1878.3" y1="298.6" x2="1878.3" y2="365.9" stroke="#333" stroke-width="1.4"/>
<rect x="1866.4" y="216.6" width="23.7" height="82" fill="#21A096" stroke="#333" stroke-width="1.3"/>
<line x1="1866.4" y1="263.3" x2="1890.1" y2="263.3" stroke="#333" stroke-width="3.2"/>
<line x1="1904.9" y1="100" x2="1904.9" y2="152.3" stroke="#333" stroke-width="1.4"/>
<line x1="1904.9" y1="212.6" x2="1904.9" y2="275.8" stroke="#333" stroke-width="1.4"/>
<rect x="1893" y="152.3" width="23.7" height="60.3" fill="#F9B05E" stroke="#333" stroke-width="1.3"/>
<line x1="1893" y1="179.8" x2="1916.8" y2="179.8" stroke="#333" stroke-width="3.2"/>
<circle cx="1904.9" cy="359.3" r="2.4" fill="#333"/>
<line x1="1953.9" y1="129.8" x2="1953.9" y2="178" stroke="#333" stroke-width="1.4"/>
<line x1="1953.9" y1="214.8" x2="1953.9" y2="259.3" stroke="#333" stroke-width="1.4"/>
<rect x="1942" y="178" width="23.7" height="36.8" fill="#21A096" stroke="#333" stroke-width="1.3"/>
<line x1="1942" y1="193.8" x2="1965.8" y2="193.8" stroke="#333" stroke-width="3.2"/>
<line x1="1980.5" y1="110.3" x2="1980.5" y2="143.8" stroke="#333" stroke-width="1.4"/>
<line x1="1980.5" y1="210" x2="1980.5" y2="262.6" stroke="#333" stroke-width="1.4"/>
<rect x="1968.6" y="143.8" width="23.7" height="66.2" fill="#F9B05E" stroke="#333" stroke-width="1.3"/>
<line x1="1968.6" y1="182.1" x2="1992.4" y2="182.1" stroke="#333" stroke-width="3.2"/>
<rect x="1770.6" y="63.6" width="242" height="315.2" fill="none" stroke="#000" stroke-width="1.8"/>
<line x1="1765.6" y1="142" x2="1770.6" y2="142" stroke="#333" stroke-width="1.5"/>
<text x="1762.6" y="149" font-size="21" text-anchor="end" fill="#1a1a1a" stroke="#1a1a1a" stroke-width="0.45">5.0</text>
<line x1="1765.6" y1="213.7" x2="1770.6" y2="213.7" stroke="#333" stroke-width="1.5"/>
<text x="1762.6" y="220.7" font-size="21" text-anchor="end" fill="#1a1a1a" stroke="#1a1a1a" stroke-width="0.45">2.5</text>
<line x1="1765.6" y1="285.4" x2="1770.6" y2="285.4" stroke="#333" stroke-width="1.5"/>
<text x="1762.6" y="292.4" font-size="21" text-anchor="end" fill="#1a1a1a" stroke="#1a1a1a" stroke-width="0.45">0.0</text>
<line x1="1765.6" y1="357.5" x2="1770.6" y2="357.5" stroke="#333" stroke-width="1.5"/>
<text x="1762.6" y="364.5" font-size="21" text-anchor="end" fill="#1a1a1a" stroke="#1a1a1a" stroke-width="0.45">-2.5</text>
<line x1="1816" y1="378.8" x2="1816" y2="383.8" stroke="#333" stroke-width="1.5"/>
<line x1="1891.6" y1="378.8" x2="1891.6" y2="383.8" stroke="#333" stroke-width="1.5"/>
<line x1="1967.2" y1="378.8" x2="1967.2" y2="383.8" stroke="#333" stroke-width="1.5"/>
<text x="1816" y="408.5" font-size="23" text-anchor="middle" fill="#1a1a1a" stroke="#1a1a1a" stroke-width="0.45">ER-</text>
<text x="1891.6" y="408.5" font-size="23" text-anchor="middle" fill="#1a1a1a" stroke="#1a1a1a" stroke-width="0.45">ER+</text>
<text x="1967.2" y="408.5" font-size="23" text-anchor="middle" fill="#1a1a1a" stroke="#1a1a1a" stroke-width="0.45">HER2+</text>
<text x="1816" y="431" font-size="23" text-anchor="middle" fill="#1a1a1a" stroke="#1a1a1a" stroke-width="0.45">HER2-</text>
<text x="1891.6" y="431" font-size="23" text-anchor="middle" fill="#1a1a1a" stroke="#1a1a1a" stroke-width="0.45">HER2-</text>
<text x="1891.6" y="50.5" font-size="27.5" text-anchor="middle" stroke="#000" stroke-width="0.45">Mast cells</text>
<text x="1850" y="84.5" font-size="19.4" fill="#111" stroke="#111" stroke-width="0.45"><tspan font-style="italic">P</tspan> = 0.004</text>
<path d="M1878 96V89.5H1904.5V96" stroke="#333" stroke-width="1.3" fill="none"/>
<text x="797" y="237.5" font-size="27.5" text-anchor="middle" stroke="#000" stroke-width="0.45" transform="rotate(-90 797 237.5)">Danaher immune</text>
<text x="823" y="237.5" font-size="27.5" text-anchor="middle" stroke="#000" stroke-width="0.45" transform="rotate(-90 823 237.5)">enrichment score</text>
<text x="987.6" y="482" font-size="23.5" stroke="#000" stroke-width="0.45">Response:</text>
<rect x="1128.5" y="465.5" width="28" height="18.5" fill="#21A096" stroke="#333" stroke-width="1.6"/>
<text x="1164.5" y="482" font-size="23.5" stroke="#000" stroke-width="0.45">pCR</text>
<rect x="1220.5" y="465.5" width="28" height="18.5" fill="#F9B05E" stroke="#333" stroke-width="1.6"/>
<text x="1255" y="482" font-size="23.5" stroke="#000" stroke-width="0.45">RD</text>
<text x="1347.5" y="482" font-size="23.5" font-weight="bold" fill="#F5A64A" stroke="#F5A64A" stroke-width="0.45">RD:</text>
<text x="1396.5" y="482" font-size="23.5" stroke="#000" stroke-width="0.45">Residual disease (RCB</text>
<rect x="1645" y="461.5" width="24" height="23.5" rx="2.5" fill="#FBE47A"/>
<text x="1657" y="482" font-size="21" text-anchor="middle" fill="#fff" stroke="#fff" stroke-width="0.45" letter-spacing="-0.5">I</text>
<rect x="1687.5" y="461.5" width="24" height="23.5" rx="2.5" fill="#F8B467"/>
<text x="1699.5" y="482" font-size="21" text-anchor="middle" fill="#fff" stroke="#fff" stroke-width="0.45" letter-spacing="-0.5">II</text>
<rect x="1730.5" y="461.5" width="24" height="23.5" rx="2.5" fill="#E43A26"/>
<text x="1742.5" y="482" font-size="21" text-anchor="middle" fill="#fff" stroke="#fff" stroke-width="0.45" letter-spacing="-0.5">III</text>
<text x="1674" y="482" font-size="23.5" stroke="#000" stroke-width="0.45">+</text>
<text x="1716.5" y="482" font-size="23.5" stroke="#000" stroke-width="0.45">+</text>
<text x="1758" y="482" font-size="23.5" stroke="#000" stroke-width="0.45">)</text>
<text x="0" y="590.5" font-size="29" font-weight="bold" stroke="#000" stroke-width="0.45">c</text>
<line x1="211.1" y1="655" x2="459.6" y2="655" stroke="#EBEBEB" stroke-width="1.3"/>
<line x1="211.1" y1="717.1" x2="459.6" y2="717.1" stroke="#EBEBEB" stroke-width="1.3"/>
<line x1="211.1" y1="779.2" x2="459.6" y2="779.2" stroke="#EBEBEB" stroke-width="1.3"/>
<line x1="211.1" y1="841.4" x2="459.6" y2="841.4" stroke="#EBEBEB" stroke-width="1.3"/>
<line x1="211.1" y1="903.5" x2="459.6" y2="903.5" stroke="#EBEBEB" stroke-width="1.3"/>
<line x1="244" y1="715.9" x2="244" y2="743.5" stroke="#333" stroke-width="1.4"/>
<line x1="244" y1="867.8" x2="244" y2="873.4" stroke="#333" stroke-width="1.4"/>
<rect x="231.9" y="743.5" width="24.4" height="124.2" fill="#21A096" stroke="#333" stroke-width="1.3"/>
<line x1="231.9" y1="817" x2="256.2" y2="817" stroke="#333" stroke-width="3.2"/>
<line x1="271.4" y1="701.7" x2="271.4" y2="733.4" stroke="#333" stroke-width="1.4"/>
<line x1="271.4" y1="796.3" x2="271.4" y2="864.5" stroke="#333" stroke-width="1.4"/>
<rect x="259.2" y="733.4" width="24.4" height="62.9" fill="#F9B05E" stroke="#333" stroke-width="1.3"/>
<line x1="259.2" y1="771.9" x2="283.6" y2="771.9" stroke="#333" stroke-width="3.2"/>
<line x1="321.7" y1="728.9" x2="321.7" y2="733.4" stroke="#333" stroke-width="1.4"/>
<line x1="321.7" y1="811.7" x2="321.7" y2="823.9" stroke="#333" stroke-width="1.4"/>
<rect x="309.5" y="733.4" width="24.4" height="78.4" fill="#21A096" stroke="#333" stroke-width="1.3"/>
<line x1="309.5" y1="772.3" x2="333.9" y2="772.3" stroke="#333" stroke-width="3.2"/>
<line x1="349" y1="681" x2="349" y2="759.8" stroke="#333" stroke-width="1.4"/>
<line x1="349" y1="876.3" x2="349" y2="929.5" stroke="#333" stroke-width="1.4"/>
<rect x="336.8" y="759.8" width="24.4" height="116.5" fill="#F9B05E" stroke="#333" stroke-width="1.3"/>
<line x1="336.8" y1="804.8" x2="361.2" y2="804.8" stroke="#333" stroke-width="3.2"/>
<line x1="399.3" y1="712.3" x2="399.3" y2="735.8" stroke="#333" stroke-width="1.4"/>
<line x1="399.3" y1="769.5" x2="399.3" y2="786.6" stroke="#333" stroke-width="1.4"/>
<rect x="387.2" y="735.8" width="24.4" height="33.7" fill="#21A096" stroke="#333" stroke-width="1.3"/>
<line x1="387.2" y1="750" x2="411.5" y2="750" stroke="#333" stroke-width="3.2"/>
<circle cx="399.3" cy="661.5" r="2.4" fill="#333"/>
<circle cx="399.3" cy="676.5" r="2.4" fill="#333"/>
<circle cx="399.3" cy="826.7" r="2.4" fill="#333"/>
<circle cx="399.3" cy="869.4" r="2.4" fill="#333"/>
<line x1="426.7" y1="686.7" x2="426.7" y2="764.2" stroke="#333" stroke-width="1.4"/>
<line x1="426.7" y1="852.7" x2="426.7" y2="912" stroke="#333" stroke-width="1.4"/>
<rect x="414.5" y="764.2" width="24.4" height="88.5" fill="#F9B05E" stroke="#333" stroke-width="1.3"/>
<line x1="414.5" y1="814.6" x2="438.9" y2="814.6" stroke="#333" stroke-width="3.2"/>
<rect x="211.1" y="625" width="248.5" height="317.9" fill="none" stroke="#000" stroke-width="1.8"/>
<line x1="206.1" y1="655" x2="211.1" y2="655" stroke="#333" stroke-width="1.5"/>
<text x="203.1" y="662" font-size="21" text-anchor="end" fill="#1a1a1a" stroke="#1a1a1a" stroke-width="0.45">6</text>
<line x1="206.1" y1="717.1" x2="211.1" y2="717.1" stroke="#333" stroke-width="1.5"/>
<text x="203.1" y="724.1" font-size="21" text-anchor="end" fill="#1a1a1a" stroke="#1a1a1a" stroke-width="0.45">4</text>
<line x1="206.1" y1="779.2" x2="211.1" y2="779.2" stroke="#333" stroke-width="1.5"/>
<text x="203.1" y="786.2" font-size="21" text-anchor="end" fill="#1a1a1a" stroke="#1a1a1a" stroke-width="0.45">2</text>
<line x1="206.1" y1="841.4" x2="211.1" y2="841.4" stroke="#333" stroke-width="1.5"/>
<text x="203.1" y="848.4" font-size="21" text-anchor="end" fill="#1a1a1a" stroke="#1a1a1a" stroke-width="0.45">0</text>
<line x1="206.1" y1="903.5" x2="211.1" y2="903.5" stroke="#333" stroke-width="1.5"/>
<text x="203.1" y="910.5" font-size="21" text-anchor="end" fill="#1a1a1a" stroke="#1a1a1a" stroke-width="0.45">-2</text>
<line x1="257.7" y1="942.9" x2="257.7" y2="947.9" stroke="#333" stroke-width="1.5"/>
<line x1="335.4" y1="942.9" x2="335.4" y2="947.9" stroke="#333" stroke-width="1.5"/>
<line x1="413" y1="942.9" x2="413" y2="947.9" stroke="#333" stroke-width="1.5"/>
<text x="257.7" y="971" font-size="23" text-anchor="middle" fill="#1a1a1a" stroke="#1a1a1a" stroke-width="0.45">ER-</text>
<text x="335.4" y="971" font-size="23" text-anchor="middle" fill="#1a1a1a" stroke="#1a1a1a" stroke-width="0.45">ER+</text>
<text x="413" y="971" font-size="23" text-anchor="middle" fill="#1a1a1a" stroke="#1a1a1a" stroke-width="0.45">HER2+</text>
<text x="257.7" y="996.5" font-size="23" text-anchor="middle" fill="#1a1a1a" stroke="#1a1a1a" stroke-width="0.45">HER2-</text>
<text x="335.4" y="996.5" font-size="23" text-anchor="middle" fill="#1a1a1a" stroke="#1a1a1a" stroke-width="0.45">HER2-</text>
<text x="335.4" y="612" font-size="27.5" text-anchor="middle" stroke="#000" stroke-width="0.45">B cells</text>
<text x="371.5" y="646" font-size="19.4" fill="#111" stroke="#111" stroke-width="0.45"><tspan font-style="italic">P</tspan> = 0.002</text>
<path d="M399.5 658.5V652.5H425.9V658.5" stroke="#333" stroke-width="1.3" fill="none"/>
<line x1="503" y1="654" x2="752.2" y2="654" stroke="#EBEBEB" stroke-width="1.3"/>
<line x1="503" y1="723.2" x2="752.2" y2="723.2" stroke="#EBEBEB" stroke-width="1.3"/>
<line x1="503" y1="792.5" x2="752.2" y2="792.5" stroke="#EBEBEB" stroke-width="1.3"/>
<line x1="503" y1="861.8" x2="752.2" y2="861.8" stroke="#EBEBEB" stroke-width="1.3"/>
<line x1="503" y1="931.4" x2="752.2" y2="931.4" stroke="#EBEBEB" stroke-width="1.3"/>
<line x1="536" y1="662" x2="536" y2="730.2" stroke="#333" stroke-width="1.4"/>
<line x1="536" y1="821.4" x2="536" y2="924.4" stroke="#333" stroke-width="1.4"/>
<rect x="523.8" y="730.2" width="24.5" height="91.2" fill="#21A096" stroke="#333" stroke-width="1.3"/>
<line x1="523.8" y1="765.4" x2="548.2" y2="765.4" stroke="#333" stroke-width="3.2"/>
<line x1="563.4" y1="702" x2="563.4" y2="744.1" stroke="#333" stroke-width="1.4"/>
<line x1="563.4" y1="801.2" x2="563.4" y2="868.7" stroke="#333" stroke-width="1.4"/>
<rect x="551.2" y="744.1" width="24.5" height="57.1" fill="#F9B05E" stroke="#333" stroke-width="1.3"/>
<line x1="551.2" y1="757.4" x2="575.6" y2="757.4" stroke="#333" stroke-width="3.2"/>
<line x1="613.9" y1="696.8" x2="613.9" y2="720.8" stroke="#333" stroke-width="1.4"/>
<line x1="613.9" y1="763.3" x2="613.9" y2="790.8" stroke="#333" stroke-width="1.4"/>
<rect x="601.6" y="720.8" width="24.5" height="42.5" fill="#21A096" stroke="#333" stroke-width="1.3"/>
<line x1="601.6" y1="742.7" x2="626.1" y2="742.7" stroke="#333" stroke-width="3.2"/>
<line x1="641.3" y1="720.5" x2="641.3" y2="772" stroke="#333" stroke-width="1.4"/>
<line x1="641.3" y1="843" x2="641.3" y2="930" stroke="#333" stroke-width="1.4"/>
<rect x="629.1" y="772" width="24.5" height="71" fill="#F9B05E" stroke="#333" stroke-width="1.3"/>
<line x1="629.1" y1="806.4" x2="653.5" y2="806.4" stroke="#333" stroke-width="3.2"/>
<line x1="691.8" y1="667.9" x2="691.8" y2="730.9" stroke="#333" stroke-width="1.4"/>
<line x1="691.8" y1="807.8" x2="691.8" y2="914.7" stroke="#333" stroke-width="1.4"/>
<rect x="679.5" y="730.9" width="24.5" height="76.9" fill="#21A096" stroke="#333" stroke-width="1.3"/>
<line x1="679.5" y1="753.5" x2="704" y2="753.5" stroke="#333" stroke-width="3.2"/>
<line x1="719.2" y1="703.8" x2="719.2" y2="770.9" stroke="#333" stroke-width="1.4"/>
<line x1="719.2" y1="836" x2="719.2" y2="910.5" stroke="#333" stroke-width="1.4"/>
<rect x="706.9" y="770.9" width="24.5" height="65.1" fill="#F9B05E" stroke="#333" stroke-width="1.3"/>
<line x1="706.9" y1="790.8" x2="731.4" y2="790.8" stroke="#333" stroke-width="3.2"/>
<rect x="503" y="625.4" width="249.2" height="318.1" fill="none" stroke="#000" stroke-width="1.8"/>
<line x1="498" y1="654" x2="503" y2="654" stroke="#333" stroke-width="1.5"/>
<text x="495" y="661" font-size="21" text-anchor="end" fill="#1a1a1a" stroke="#1a1a1a" stroke-width="0.45">6</text>
<line x1="498" y1="723.2" x2="503" y2="723.2" stroke="#333" stroke-width="1.5"/>
<text x="495" y="730.2" font-size="21" text-anchor="end" fill="#1a1a1a" stroke="#1a1a1a" stroke-width="0.45">4</text>
<line x1="498" y1="792.5" x2="503" y2="792.5" stroke="#333" stroke-width="1.5"/>
<text x="495" y="799.5" font-size="21" text-anchor="end" fill="#1a1a1a" stroke="#1a1a1a" stroke-width="0.45">2</text>
<line x1="498" y1="861.8" x2="503" y2="861.8" stroke="#333" stroke-width="1.5"/>
<text x="495" y="868.8" font-size="21" text-anchor="end" fill="#1a1a1a" stroke="#1a1a1a" stroke-width="0.45">0</text>
<line x1="498" y1="931.4" x2="503" y2="931.4" stroke="#333" stroke-width="1.5"/>
<text x="495" y="938.4" font-size="21" text-anchor="end" fill="#1a1a1a" stroke="#1a1a1a" stroke-width="0.45">-2</text>
<line x1="549.7" y1="943.6" x2="549.7" y2="948.6" stroke="#333" stroke-width="1.5"/>
<line x1="627.6" y1="943.6" x2="627.6" y2="948.6" stroke="#333" stroke-width="1.5"/>
<line x1="705.5" y1="943.6" x2="705.5" y2="948.6" stroke="#333" stroke-width="1.5"/>
<text x="549.7" y="971" font-size="23" text-anchor="middle" fill="#1a1a1a" stroke="#1a1a1a" stroke-width="0.45">ER-</text>
<text x="627.6" y="971" font-size="23" text-anchor="middle" fill="#1a1a1a" stroke="#1a1a1a" stroke-width="0.45">ER+</text>
<text x="705.5" y="971" font-size="23" text-anchor="middle" fill="#1a1a1a" stroke="#1a1a1a" stroke-width="0.45">HER2+</text>
<text x="549.7" y="996.5" font-size="23" text-anchor="middle" fill="#1a1a1a" stroke="#1a1a1a" stroke-width="0.45">HER2-</text>
<text x="627.6" y="996.5" font-size="23" text-anchor="middle" fill="#1a1a1a" stroke="#1a1a1a" stroke-width="0.45">HER2-</text>
<text x="627.6" y="612" font-size="27.5" text-anchor="middle" stroke="#000" stroke-width="0.45">CD8 T cells</text>
<text x="571.2" y="646" font-size="19.4" fill="#111" stroke="#111" stroke-width="0.45"><tspan font-style="italic">P</tspan> = 0.004</text>
<path d="M614 658.5V652.5H640.5V658.5" stroke="#333" stroke-width="1.3" fill="none"/>
<text x="669" y="646" font-size="19.4" fill="#111" stroke="#111" stroke-width="0.45"><tspan font-style="italic">P</tspan> = 0.01</text>
<path d="M691.6 658.5V652.5H718.4V658.5" stroke="#333" stroke-width="1.3" fill="none"/>
<line x1="787.3" y1="694.4" x2="1036.2" y2="694.4" stroke="#EBEBEB" stroke-width="1.3"/>
<line x1="787.3" y1="781" x2="1036.2" y2="781" stroke="#EBEBEB" stroke-width="1.3"/>
<line x1="787.3" y1="867.7" x2="1036.2" y2="867.7" stroke="#EBEBEB" stroke-width="1.3"/>
<line x1="820.3" y1="692.3" x2="820.3" y2="728.5" stroke="#333" stroke-width="1.4"/>
<line x1="820.3" y1="833.6" x2="820.3" y2="902.5" stroke="#333" stroke-width="1.4"/>
<rect x="808.1" y="728.5" width="24.4" height="105.1" fill="#21A096" stroke="#333" stroke-width="1.3"/>
<line x1="808.1" y1="793.2" x2="832.5" y2="793.2" stroke="#333" stroke-width="3.2"/>
<line x1="847.7" y1="662" x2="847.7" y2="732.6" stroke="#333" stroke-width="1.4"/>
<line x1="847.7" y1="803" x2="847.7" y2="857.9" stroke="#333" stroke-width="1.4"/>
<rect x="835.5" y="732.6" width="24.4" height="70.3" fill="#F9B05E" stroke="#333" stroke-width="1.3"/>
<line x1="835.5" y1="761.9" x2="859.9" y2="761.9" stroke="#333" stroke-width="3.2"/>
<line x1="898.1" y1="673.5" x2="898.1" y2="738.6" stroke="#333" stroke-width="1.4"/>
<line x1="898.1" y1="786.2" x2="898.1" y2="805.4" stroke="#333" stroke-width="1.4"/>
<rect x="885.9" y="738.6" width="24.4" height="47.7" fill="#21A096" stroke="#333" stroke-width="1.3"/>
<line x1="885.9" y1="762.2" x2="910.3" y2="762.2" stroke="#333" stroke-width="3.2"/>
<line x1="925.5" y1="697.8" x2="925.5" y2="780" stroke="#333" stroke-width="1.4"/>
<line x1="925.5" y1="851.3" x2="925.5" y2="930" stroke="#333" stroke-width="1.4"/>
<rect x="913.3" y="780" width="24.4" height="71.4" fill="#F9B05E" stroke="#333" stroke-width="1.3"/>
<line x1="913.3" y1="808.2" x2="937.7" y2="808.2" stroke="#333" stroke-width="3.2"/>
<line x1="975.9" y1="674.5" x2="975.9" y2="732.3" stroke="#333" stroke-width="1.4"/>
<line x1="975.9" y1="788" x2="975.9" y2="860.4" stroke="#333" stroke-width="1.4"/>
<rect x="963.7" y="732.3" width="24.4" height="55.7" fill="#21A096" stroke="#333" stroke-width="1.3"/>
<line x1="963.7" y1="754.9" x2="988.1" y2="754.9" stroke="#333" stroke-width="3.2"/>
<line x1="1003.2" y1="702" x2="1003.2" y2="775.5" stroke="#333" stroke-width="1.4"/>
<line x1="1003.2" y1="833.9" x2="1003.2" y2="908.8" stroke="#333" stroke-width="1.4"/>
<rect x="991" y="775.5" width="24.4" height="58.5" fill="#F9B05E" stroke="#333" stroke-width="1.3"/>
<line x1="991" y1="801.2" x2="1015.4" y2="801.2" stroke="#333" stroke-width="3.2"/>
<rect x="787.3" y="625.4" width="248.9" height="318.1" fill="none" stroke="#000" stroke-width="1.8"/>
<line x1="782.3" y1="694.4" x2="787.3" y2="694.4" stroke="#333" stroke-width="1.5"/>
<text x="779.3" y="701.4" font-size="21" text-anchor="end" fill="#1a1a1a" stroke="#1a1a1a" stroke-width="0.45">4</text>
<line x1="782.3" y1="781" x2="787.3" y2="781" stroke="#333" stroke-width="1.5"/>
<text x="779.3" y="788" font-size="21" text-anchor="end" fill="#1a1a1a" stroke="#1a1a1a" stroke-width="0.45">2</text>
<line x1="782.3" y1="867.7" x2="787.3" y2="867.7" stroke="#333" stroke-width="1.5"/>
<text x="779.3" y="874.7" font-size="21" text-anchor="end" fill="#1a1a1a" stroke="#1a1a1a" stroke-width="0.45">0</text>
<line x1="834" y1="943.6" x2="834" y2="948.6" stroke="#333" stroke-width="1.5"/>
<line x1="911.8" y1="943.6" x2="911.8" y2="948.6" stroke="#333" stroke-width="1.5"/>
<line x1="989.6" y1="943.6" x2="989.6" y2="948.6" stroke="#333" stroke-width="1.5"/>
<text x="834" y="971" font-size="23" text-anchor="middle" fill="#1a1a1a" stroke="#1a1a1a" stroke-width="0.45">ER-</text>
<text x="911.8" y="971" font-size="23" text-anchor="middle" fill="#1a1a1a" stroke="#1a1a1a" stroke-width="0.45">ER+</text>
<text x="989.6" y="971" font-size="23" text-anchor="middle" fill="#1a1a1a" stroke="#1a1a1a" stroke-width="0.45">HER2+</text>
<text x="834" y="996.5" font-size="23" text-anchor="middle" fill="#1a1a1a" stroke="#1a1a1a" stroke-width="0.45">HER2-</text>
<text x="911.8" y="996.5" font-size="23" text-anchor="middle" fill="#1a1a1a" stroke="#1a1a1a" stroke-width="0.45">HER2-</text>
<text x="911.8" y="612" font-size="27.5" text-anchor="middle" stroke="#000" stroke-width="0.45">Cytotoxic lymphocytes</text>
<text x="861.8" y="646" font-size="19.4" fill="#111" stroke="#111" stroke-width="0.45"><tspan font-style="italic">P</tspan> = 0.02</text>
<path d="M898 658.5V652.5H924.8V658.5" stroke="#333" stroke-width="1.3" fill="none"/>
<text x="948.8" y="646" font-size="19.4" fill="#111" stroke="#111" stroke-width="0.45"><tspan font-style="italic">P</tspan> = 0.001</text>
<path d="M976 658.5V652.5H1002.8V658.5" stroke="#333" stroke-width="1.3" fill="none"/>
<line x1="1072" y1="667.6" x2="1320.9" y2="667.6" stroke="#EBEBEB" stroke-width="1.3"/>
<line x1="1072" y1="734" x2="1320.9" y2="734" stroke="#EBEBEB" stroke-width="1.3"/>
<line x1="1072" y1="800.2" x2="1320.9" y2="800.2" stroke="#EBEBEB" stroke-width="1.3"/>
<line x1="1072" y1="866.3" x2="1320.9" y2="866.3" stroke="#EBEBEB" stroke-width="1.3"/>
<line x1="1072" y1="932.4" x2="1320.9" y2="932.4" stroke="#EBEBEB" stroke-width="1.3"/>
<line x1="1105" y1="670" x2="1105" y2="703.1" stroke="#333" stroke-width="1.4"/>
<line x1="1105" y1="789.4" x2="1105" y2="887.5" stroke="#333" stroke-width="1.4"/>
<rect x="1092.8" y="703.1" width="24.4" height="86.3" fill="#21A096" stroke="#333" stroke-width="1.3"/>
<line x1="1092.8" y1="734.4" x2="1117.2" y2="734.4" stroke="#333" stroke-width="3.2"/>
<line x1="1132.4" y1="662.3" x2="1132.4" y2="704.8" stroke="#333" stroke-width="1.4"/>
<line x1="1132.4" y1="777.9" x2="1132.4" y2="821.1" stroke="#333" stroke-width="1.4"/>
<rect x="1120.2" y="704.8" width="24.4" height="73.1" fill="#F9B05E" stroke="#333" stroke-width="1.3"/>
<line x1="1120.2" y1="744.8" x2="1144.6" y2="744.8" stroke="#333" stroke-width="3.2"/>
<line x1="1182.8" y1="693.7" x2="1182.8" y2="713.5" stroke="#333" stroke-width="1.4"/>
<line x1="1182.8" y1="770.2" x2="1182.8" y2="778.2" stroke="#333" stroke-width="1.4"/>
<rect x="1170.6" y="713.5" width="24.4" height="56.7" fill="#21A096" stroke="#333" stroke-width="1.3"/>
<line x1="1170.6" y1="749.7" x2="1195" y2="749.7" stroke="#333" stroke-width="3.2"/>
<line x1="1210.1" y1="685.7" x2="1210.1" y2="744.1" stroke="#333" stroke-width="1.4"/>
<line x1="1210.1" y1="839.2" x2="1210.1" y2="930" stroke="#333" stroke-width="1.4"/>
<rect x="1197.9" y="744.1" width="24.4" height="95" fill="#F9B05E" stroke="#333" stroke-width="1.3"/>
<line x1="1197.9" y1="804.3" x2="1222.4" y2="804.3" stroke="#333" stroke-width="3.2"/>
<line x1="1260.5" y1="696.1" x2="1260.5" y2="728.8" stroke="#333" stroke-width="1.4"/>
<line x1="1260.5" y1="760.5" x2="1260.5" y2="770.9" stroke="#333" stroke-width="1.4"/>
<rect x="1248.3" y="728.8" width="24.4" height="31.7" fill="#21A096" stroke="#333" stroke-width="1.3"/>
<line x1="1248.3" y1="736.5" x2="1272.8" y2="736.5" stroke="#333" stroke-width="3.2"/>
<circle cx="1260.5" cy="879.5" r="2.4" fill="#333"/>
<circle cx="1260.5" cy="895.9" r="2.4" fill="#333"/>
<line x1="1287.9" y1="706.9" x2="1287.9" y2="730.2" stroke="#333" stroke-width="1.4"/>
<line x1="1287.9" y1="796.3" x2="1287.9" y2="882" stroke="#333" stroke-width="1.4"/>
<rect x="1275.7" y="730.2" width="24.4" height="66.1" fill="#F9B05E" stroke="#333" stroke-width="1.3"/>
<line x1="1275.7" y1="763.3" x2="1300.1" y2="763.3" stroke="#333" stroke-width="3.2"/>
<rect x="1072" y="625.4" width="248.9" height="318.1" fill="none" stroke="#000" stroke-width="1.8"/>
<line x1="1067" y1="667.6" x2="1072" y2="667.6" stroke="#333" stroke-width="1.5"/>
<text x="1064" y="674.6" font-size="21" text-anchor="end" fill="#1a1a1a" stroke="#1a1a1a" stroke-width="0.45">6</text>
<line x1="1067" y1="734" x2="1072" y2="734" stroke="#333" stroke-width="1.5"/>
<text x="1064" y="741" font-size="21" text-anchor="end" fill="#1a1a1a" stroke="#1a1a1a" stroke-width="0.45">5</text>
<line x1="1067" y1="800.2" x2="1072" y2="800.2" stroke="#333" stroke-width="1.5"/>
<text x="1064" y="807.2" font-size="21" text-anchor="end" fill="#1a1a1a" stroke="#1a1a1a" stroke-width="0.45">4</text>
<line x1="1067" y1="866.3" x2="1072" y2="866.3" stroke="#333" stroke-width="1.5"/>
<text x="1064" y="873.3" font-size="21" text-anchor="end" fill="#1a1a1a" stroke="#1a1a1a" stroke-width="0.45">3</text>
<line x1="1067" y1="932.4" x2="1072" y2="932.4" stroke="#333" stroke-width="1.5"/>
<text x="1064" y="939.4" font-size="21" text-anchor="end" fill="#1a1a1a" stroke="#1a1a1a" stroke-width="0.45">2</text>
<line x1="1118.7" y1="943.6" x2="1118.7" y2="948.6" stroke="#333" stroke-width="1.5"/>
<line x1="1196.5" y1="943.6" x2="1196.5" y2="948.6" stroke="#333" stroke-width="1.5"/>
<line x1="1274.2" y1="943.6" x2="1274.2" y2="948.6" stroke="#333" stroke-width="1.5"/>
<text x="1118.7" y="971" font-size="23" text-anchor="middle" fill="#1a1a1a" stroke="#1a1a1a" stroke-width="0.45">ER-</text>
<text x="1196.5" y="971" font-size="23" text-anchor="middle" fill="#1a1a1a" stroke="#1a1a1a" stroke-width="0.45">ER+</text>
<text x="1274.2" y="971" font-size="23" text-anchor="middle" fill="#1a1a1a" stroke="#1a1a1a" stroke-width="0.45">HER2+</text>
<text x="1118.7" y="996.5" font-size="23" text-anchor="middle" fill="#1a1a1a" stroke="#1a1a1a" stroke-width="0.45">HER2-</text>
<text x="1196.5" y="996.5" font-size="23" text-anchor="middle" fill="#1a1a1a" stroke="#1a1a1a" stroke-width="0.45">HER2-</text>
<text x="1196.5" y="612" font-size="27.5" text-anchor="middle" stroke="#000" stroke-width="0.45">Monocytic lineage</text>
<text x="1159.4" y="646" font-size="19.4" fill="#111" stroke="#111" stroke-width="0.45"><tspan font-style="italic">P</tspan> = 0.03</text>
<path d="M1182.7 658.5V652.5H1209.5V658.5" stroke="#333" stroke-width="1.3" fill="none"/>
<line x1="1364.1" y1="722.2" x2="1612.9" y2="722.2" stroke="#EBEBEB" stroke-width="1.3"/>
<line x1="1364.1" y1="807.8" x2="1612.9" y2="807.8" stroke="#EBEBEB" stroke-width="1.3"/>
<line x1="1364.1" y1="893.8" x2="1612.9" y2="893.8" stroke="#EBEBEB" stroke-width="1.3"/>
<line x1="1397" y1="699.6" x2="1397" y2="742.4" stroke="#333" stroke-width="1.4"/>
<line x1="1397" y1="838.1" x2="1397" y2="907" stroke="#333" stroke-width="1.4"/>
<rect x="1384.8" y="742.4" width="24.4" height="95.7" fill="#21A096" stroke="#333" stroke-width="1.3"/>
<line x1="1384.8" y1="777.9" x2="1409.2" y2="777.9" stroke="#333" stroke-width="3.2"/>
<line x1="1424.4" y1="662" x2="1424.4" y2="714.2" stroke="#333" stroke-width="1.4"/>
<line x1="1424.4" y1="790.4" x2="1424.4" y2="846.1" stroke="#333" stroke-width="1.4"/>
<rect x="1412.2" y="714.2" width="24.4" height="76.2" fill="#F9B05E" stroke="#333" stroke-width="1.3"/>
<line x1="1412.2" y1="751.1" x2="1436.6" y2="751.1" stroke="#333" stroke-width="3.2"/>
<line x1="1474.8" y1="742.7" x2="1474.8" y2="754.6" stroke="#333" stroke-width="1.4"/>
<line x1="1474.8" y1="792.5" x2="1474.8" y2="809.6" stroke="#333" stroke-width="1.4"/>
<rect x="1462.6" y="754.6" width="24.4" height="37.9" fill="#21A096" stroke="#333" stroke-width="1.3"/>
<line x1="1462.6" y1="764" x2="1487" y2="764" stroke="#333" stroke-width="3.2"/>
<line x1="1502.2" y1="700.3" x2="1502.2" y2="757.4" stroke="#333" stroke-width="1.4"/>
<line x1="1502.2" y1="835" x2="1502.2" y2="930" stroke="#333" stroke-width="1.4"/>
<rect x="1490" y="757.4" width="24.4" height="77.6" fill="#F9B05E" stroke="#333" stroke-width="1.3"/>
<line x1="1490" y1="785.9" x2="1514.4" y2="785.9" stroke="#333" stroke-width="3.2"/>
<line x1="1552.6" y1="690.2" x2="1552.6" y2="722.2" stroke="#333" stroke-width="1.4"/>
<line x1="1552.6" y1="766.1" x2="1552.6" y2="793.2" stroke="#333" stroke-width="1.4"/>
<rect x="1540.4" y="722.2" width="24.4" height="43.9" fill="#21A096" stroke="#333" stroke-width="1.3"/>
<line x1="1540.4" y1="741" x2="1564.8" y2="741" stroke="#333" stroke-width="3.2"/>
<circle cx="1552.6" cy="855.9" r="2.4" fill="#333"/>
<line x1="1579.9" y1="676.6" x2="1579.9" y2="767.1" stroke="#333" stroke-width="1.4"/>
<line x1="1579.9" y1="829.1" x2="1579.9" y2="914" stroke="#333" stroke-width="1.4"/>
<rect x="1567.7" y="767.1" width="24.4" height="62" fill="#F9B05E" stroke="#333" stroke-width="1.3"/>
<line x1="1567.7" y1="798.8" x2="1592.2" y2="798.8" stroke="#333" stroke-width="3.2"/>
<rect x="1364.1" y="625.4" width="248.9" height="318.1" fill="none" stroke="#000" stroke-width="1.8"/>
<line x1="1359.1" y1="722.2" x2="1364.1" y2="722.2" stroke="#333" stroke-width="1.5"/>
<text x="1356.1" y="729.2" font-size="21" text-anchor="end" fill="#1a1a1a" stroke="#1a1a1a" stroke-width="0.45">2</text>
<line x1="1359.1" y1="807.8" x2="1364.1" y2="807.8" stroke="#333" stroke-width="1.5"/>
<text x="1356.1" y="814.8" font-size="21" text-anchor="end" fill="#1a1a1a" stroke="#1a1a1a" stroke-width="0.45">0</text>
<line x1="1359.1" y1="893.8" x2="1364.1" y2="893.8" stroke="#333" stroke-width="1.5"/>
<text x="1356.1" y="900.8" font-size="21" text-anchor="end" fill="#1a1a1a" stroke="#1a1a1a" stroke-width="0.45">-2</text>
<line x1="1410.7" y1="943.6" x2="1410.7" y2="948.6" stroke="#333" stroke-width="1.5"/>
<line x1="1488.5" y1="943.6" x2="1488.5" y2="948.6" stroke="#333" stroke-width="1.5"/>
<line x1="1566.3" y1="943.6" x2="1566.3" y2="948.6" stroke="#333" stroke-width="1.5"/>
<text x="1410.7" y="971" font-size="23" text-anchor="middle" fill="#1a1a1a" stroke="#1a1a1a" stroke-width="0.45">ER-</text>
<text x="1488.5" y="971" font-size="23" text-anchor="middle" fill="#1a1a1a" stroke="#1a1a1a" stroke-width="0.45">ER+</text>
<text x="1566.3" y="971" font-size="23" text-anchor="middle" fill="#1a1a1a" stroke="#1a1a1a" stroke-width="0.45">HER2+</text>
<text x="1410.7" y="996.5" font-size="23" text-anchor="middle" fill="#1a1a1a" stroke="#1a1a1a" stroke-width="0.45">HER2-</text>
<text x="1488.5" y="996.5" font-size="23" text-anchor="middle" fill="#1a1a1a" stroke="#1a1a1a" stroke-width="0.45">HER2-</text>
<text x="1488.5" y="612" font-size="27.5" text-anchor="middle" stroke="#000" stroke-width="0.45">Myeloid dendritic cells</text>
<text x="1513.4" y="646" font-size="19.4" fill="#111" stroke="#111" stroke-width="0.45"><tspan font-style="italic">P</tspan> = 0.0008</text>
<path d="M1552.7 658.5V652.5H1579.5V658.5" stroke="#333" stroke-width="1.3" fill="none"/>
<line x1="1656.4" y1="733.4" x2="1905.5" y2="733.4" stroke="#EBEBEB" stroke-width="1.3"/>
<line x1="1656.4" y1="824.2" x2="1905.5" y2="824.2" stroke="#EBEBEB" stroke-width="1.3"/>
<line x1="1656.4" y1="914.7" x2="1905.5" y2="914.7" stroke="#EBEBEB" stroke-width="1.3"/>
<line x1="1689.4" y1="678.2" x2="1689.4" y2="711.5" stroke="#333" stroke-width="1.4"/>
<line x1="1689.4" y1="825.1" x2="1689.4" y2="849.4" stroke="#333" stroke-width="1.4"/>
<rect x="1677.2" y="711.5" width="24.4" height="113.6" fill="#21A096" stroke="#333" stroke-width="1.3"/>
<line x1="1677.2" y1="775.4" x2="1701.7" y2="775.4" stroke="#333" stroke-width="3.2"/>
<line x1="1716.8" y1="691.6" x2="1716.8" y2="723.1" stroke="#333" stroke-width="1.4"/>
<line x1="1716.8" y1="794.6" x2="1716.8" y2="859.7" stroke="#333" stroke-width="1.4"/>
<rect x="1704.6" y="723.1" width="24.4" height="71.6" fill="#F9B05E" stroke="#333" stroke-width="1.3"/>
<line x1="1704.6" y1="749.7" x2="1729" y2="749.7" stroke="#333" stroke-width="3.2"/>
<line x1="1767.3" y1="690.9" x2="1767.3" y2="725.7" stroke="#333" stroke-width="1.4"/>
<line x1="1767.3" y1="790.1" x2="1767.3" y2="802.6" stroke="#333" stroke-width="1.4"/>
<rect x="1755" y="725.7" width="24.4" height="64.4" fill="#21A096" stroke="#333" stroke-width="1.3"/>
<line x1="1755" y1="744.9" x2="1779.5" y2="744.9" stroke="#333" stroke-width="3.2"/>
<line x1="1794.7" y1="685.1" x2="1794.7" y2="765.8" stroke="#333" stroke-width="1.4"/>
<line x1="1794.7" y1="842.4" x2="1794.7" y2="929.1" stroke="#333" stroke-width="1.4"/>
<rect x="1782.4" y="765.8" width="24.4" height="76.6" fill="#F9B05E" stroke="#333" stroke-width="1.3"/>
<line x1="1782.4" y1="799.7" x2="1806.9" y2="799.7" stroke="#333" stroke-width="3.2"/>
<line x1="1845.1" y1="663.7" x2="1845.1" y2="715.9" stroke="#333" stroke-width="1.4"/>
<line x1="1845.1" y1="762.4" x2="1845.1" y2="796.6" stroke="#333" stroke-width="1.4"/>
<rect x="1832.9" y="715.9" width="24.4" height="46.6" fill="#21A096" stroke="#333" stroke-width="1.3"/>
<line x1="1832.9" y1="734.6" x2="1857.3" y2="734.6" stroke="#333" stroke-width="3.2"/>
<circle cx="1845.1" cy="896.2" r="2.4" fill="#333"/>
<line x1="1872.5" y1="662.5" x2="1872.5" y2="750.4" stroke="#333" stroke-width="1.4"/>
<line x1="1872.5" y1="843.4" x2="1872.5" y2="899.3" stroke="#333" stroke-width="1.4"/>
<rect x="1860.3" y="750.4" width="24.4" height="92.9" fill="#F9B05E" stroke="#333" stroke-width="1.3"/>
<line x1="1860.3" y1="806.2" x2="1884.7" y2="806.2" stroke="#333" stroke-width="3.2"/>
<rect x="1656.4" y="625.3" width="249" height="318.2" fill="none" stroke="#000" stroke-width="1.8"/>
<line x1="1651.4" y1="733.4" x2="1656.4" y2="733.4" stroke="#333" stroke-width="1.5"/>
<text x="1648.4" y="740.4" font-size="21" text-anchor="end" fill="#1a1a1a" stroke="#1a1a1a" stroke-width="0.45">0</text>
<line x1="1651.4" y1="824.2" x2="1656.4" y2="824.2" stroke="#333" stroke-width="1.5"/>
<text x="1648.4" y="831.2" font-size="21" text-anchor="end" fill="#1a1a1a" stroke="#1a1a1a" stroke-width="0.45">-2</text>
<line x1="1651.4" y1="914.7" x2="1656.4" y2="914.7" stroke="#333" stroke-width="1.5"/>
<text x="1648.4" y="921.7" font-size="21" text-anchor="end" fill="#1a1a1a" stroke="#1a1a1a" stroke-width="0.45">-4</text>
<line x1="1703.1" y1="943.5" x2="1703.1" y2="948.5" stroke="#333" stroke-width="1.5"/>
<line x1="1781" y1="943.5" x2="1781" y2="948.5" stroke="#333" stroke-width="1.5"/>
<line x1="1858.8" y1="943.5" x2="1858.8" y2="948.5" stroke="#333" stroke-width="1.5"/>
<text x="1703.1" y="971" font-size="23" text-anchor="middle" fill="#1a1a1a" stroke="#1a1a1a" stroke-width="0.45">ER-</text>
<text x="1781" y="971" font-size="23" text-anchor="middle" fill="#1a1a1a" stroke="#1a1a1a" stroke-width="0.45">ER+</text>
<text x="1858.8" y="971" font-size="23" text-anchor="middle" fill="#1a1a1a" stroke="#1a1a1a" stroke-width="0.45">HER2+</text>
<text x="1703.1" y="996.5" font-size="23" text-anchor="middle" fill="#1a1a1a" stroke="#1a1a1a" stroke-width="0.45">HER2-</text>
<text x="1781" y="996.5" font-size="23" text-anchor="middle" fill="#1a1a1a" stroke="#1a1a1a" stroke-width="0.45">HER2-</text>
<text x="1781" y="612" font-size="27.5" text-anchor="middle" stroke="#000" stroke-width="0.45">NK cells</text>
<text x="1724.9" y="646" font-size="19.4" fill="#111" stroke="#111" stroke-width="0.45"><tspan font-style="italic">P</tspan> = 0.04</text>
<path d="M1767.1 658.5V652.5H1793.8V658.5" stroke="#333" stroke-width="1.3" fill="none"/>
<text x="1806.5" y="646" font-size="19.4" fill="#111" stroke="#111" stroke-width="0.45"><tspan font-style="italic">P</tspan> = 0.0008</text>
<path d="M1845 658.5V652.5H1871.6V658.5" stroke="#333" stroke-width="1.3" fill="none"/>
<text x="137" y="785" font-size="27.5" text-anchor="middle" stroke="#000" stroke-width="0.45" transform="rotate(-90 137 785)">MCPcounter</text>
<text x="165" y="785" font-size="27.5" text-anchor="middle" stroke="#000" stroke-width="0.45" transform="rotate(-90 165 785)">enrichment score</text>
<text x="890" y="1044" font-size="23.5" stroke="#000" stroke-width="0.45">Response:</text>
<rect x="1030.5" y="1027.5" width="28" height="18.5" fill="#21A096" stroke="#333" stroke-width="1.6"/>
<text x="1066.5" y="1044" font-size="23.5" stroke="#000" stroke-width="0.45">pCR</text>
<rect x="1122.5" y="1027.5" width="28" height="18.5" fill="#F9B05E" stroke="#333" stroke-width="1.6"/>
<text x="1157" y="1044" font-size="23.5" stroke="#000" stroke-width="0.45">RD</text>
<text x="0" y="1098.5" font-size="29" font-weight="bold" stroke="#000" stroke-width="0.45">d</text>
<text x="505.5" y="1112.8" font-size="27.5" stroke="#000" stroke-width="0.45">Immunoscore enrichment</text>
<path fill="#1FA198" d="M106.7 1155.4h9v24.4h-9zM151.8 1155.4h9v24.4h-9zM214.9 1155.4h9v24.4h-9zM260 1155.4h9v24.4h-9zM296.1 1155.4h9v24.4h-9zM314.2 1155.4h9v24.4h-9zM323.2 1155.4h9v24.4h-9zM332.2 1155.4h9v24.4h-9zM359.3 1155.4h9v24.4h-9zM377.3 1155.4h9v24.4h-9zM395.3 1155.4h9v24.4h-9zM404.4 1155.4h9v24.4h-9zM449.5 1155.4h9v24.4h-9zM467.5 1155.4h9v24.4h-9zM476.5 1155.4h9v24.4h-9zM494.6 1155.4h9v24.4h-9zM512.6 1155.4h9v24.4h-9zM566.7 1155.4h9v24.4h-9zM584.8 1155.4h9v24.4h-9zM593.8 1155.4h9v24.4h-9zM602.8 1155.4h9v24.4h-9zM682.5 1155.4h9v24.4h-9zM763.7 1155.4h9v24.4h-9zM772.7 1155.4h9v24.4h-9zM808.8 1155.4h9v24.4h-9zM826.8 1155.4h9v24.4h-9zM835.9 1155.4h9v24.4h-9zM844.9 1155.4h9v24.4h-9zM853.9 1155.4h9v24.4h-9zM862.9 1155.4h9v24.4h-9zM871.9 1155.4h9v24.4h-9zM890 1155.4h9v24.4h-9zM953.1 1155.4h9v24.4h-9zM1025.3 1155.4h9v24.4h-9zM1096.5 1155.4h9v24.4h-9zM1105.5 1155.4h9v24.4h-9zM1114.4 1155.4h9v24.4h-9zM1168.4 1155.4h9v24.4h-9zM1321.2 1155.4h9v24.4h-9z"/>
<path fill="#F9B264" d="M115.7 1155.4h9v24.4h-9zM124.7 1155.4h9v24.4h-9zM133.8 1155.4h9v24.4h-9zM160.8 1155.4h9v24.4h-9zM178.9 1155.4h9v24.4h-9zM233 1155.4h9v24.4h-9zM242 1155.4h9v24.4h-9zM251 1155.4h9v24.4h-9zM269.1 1155.4h9v24.4h-9zM278.1 1155.4h9v24.4h-9zM287.1 1155.4h9v24.4h-9zM305.1 1155.4h9v24.4h-9zM341.2 1155.4h9v24.4h-9zM386.3 1155.4h9v24.4h-9zM413.4 1155.4h9v24.4h-9zM422.4 1155.4h9v24.4h-9zM431.4 1155.4h9v24.4h-9zM440.4 1155.4h9v24.4h-9zM485.5 1155.4h9v24.4h-9zM503.6 1155.4h9v24.4h-9zM530.6 1155.4h9v24.4h-9zM539.7 1155.4h9v24.4h-9zM548.7 1155.4h9v24.4h-9zM557.7 1155.4h9v24.4h-9zM575.7 1155.4h9v24.4h-9zM611.8 1155.4h9v24.4h-9zM628.4 1155.4h9v24.4h-9zM637.4 1155.4h9v24.4h-9zM655.5 1155.4h9v24.4h-9zM664.5 1155.4h9v24.4h-9zM673.5 1155.4h9v24.4h-9zM691.5 1155.4h9v24.4h-9zM700.6 1155.4h9v24.4h-9zM709.6 1155.4h9v24.4h-9zM718.6 1155.4h9v24.4h-9zM727.6 1155.4h9v24.4h-9zM754.7 1155.4h9v24.4h-9zM781.7 1155.4h9v24.4h-9zM790.8 1155.4h9v24.4h-9zM817.8 1155.4h9v24.4h-9zM917 1155.4h9v24.4h-9zM935.1 1155.4h9v24.4h-9zM944.1 1155.4h9v24.4h-9zM998.2 1155.4h9v24.4h-9zM1087.5 1155.4h9v24.4h-9zM1123.4 1155.4h9v24.4h-9zM1132.4 1155.4h9v24.4h-9zM1150.4 1155.4h9v24.4h-9zM1186.4 1155.4h9v24.4h-9zM1222.3 1155.4h9v24.4h-9zM1231.3 1155.4h9v24.4h-9zM1249.3 1155.4h9v24.4h-9zM1258.3 1155.4h9v24.4h-9zM1294.2 1155.4h9v24.4h-9zM1303.2 1155.4h9v24.4h-9zM1348.2 1155.4h9v24.4h-9zM1357.2 1155.4h9v24.4h-9zM1375.2 1155.4h9v24.4h-9zM1393.1 1155.4h9v24.4h-9zM1402.1 1155.4h9v24.4h-9zM1438.1 1155.4h9v24.4h-9zM1456.1 1155.4h9v24.4h-9z"/>
<path fill="#E8412C" d="M142.8 1155.4h9v24.4h-9zM196.9 1155.4h9v24.4h-9zM224 1155.4h9v24.4h-9zM736.6 1155.4h9v24.4h-9zM745.7 1155.4h9v24.4h-9zM799.8 1155.4h9v24.4h-9zM881 1155.4h9v24.4h-9zM962.1 1155.4h9v24.4h-9zM971.2 1155.4h9v24.4h-9zM989.2 1155.4h9v24.4h-9zM1069.5 1155.4h9v24.4h-9zM1078.5 1155.4h9v24.4h-9zM1159.4 1155.4h9v24.4h-9zM1195.3 1155.4h9v24.4h-9zM1240.3 1155.4h9v24.4h-9zM1267.3 1155.4h9v24.4h-9zM1276.3 1155.4h9v24.4h-9zM1285.2 1155.4h9v24.4h-9zM1312.2 1155.4h9v24.4h-9zM1330.2 1155.4h9v24.4h-9zM1339.2 1155.4h9v24.4h-9zM1366.2 1155.4h9v24.4h-9zM1384.1 1155.4h9v24.4h-9zM1411.1 1155.4h9v24.4h-9zM1429.1 1155.4h9v24.4h-9z"/>
<path fill="#FCE269" d="M169.8 1155.4h9v24.4h-9zM187.9 1155.4h9v24.4h-9zM205.9 1155.4h9v24.4h-9zM350.2 1155.4h9v24.4h-9zM368.3 1155.4h9v24.4h-9zM458.5 1155.4h9v24.4h-9zM521.6 1155.4h9v24.4h-9zM646.4 1155.4h9v24.4h-9zM899 1155.4h9v24.4h-9zM908 1155.4h9v24.4h-9zM926.1 1155.4h9v24.4h-9zM980.2 1155.4h9v24.4h-9zM1007.2 1155.4h9v24.4h-9zM1016.3 1155.4h9v24.4h-9zM1034.3 1155.4h9v24.4h-9zM1043.3 1155.4h9v24.4h-9zM1060.5 1155.4h9v24.4h-9zM1141.4 1155.4h9v24.4h-9zM1177.4 1155.4h9v24.4h-9zM1204.3 1155.4h9v24.4h-9zM1213.3 1155.4h9v24.4h-9zM1420.1 1155.4h9v24.4h-9zM1447.1 1155.4h9v24.4h-9z"/>
<path fill="#D1E5F0" d="M106.7 1185.4h9v24h-9zM269.1 1185.4h9v24h-9zM269.1 1209.4h9v24h-9zM296.1 1233.4h9v24h-9zM395.3 1233.4h9v24h-9zM133.8 1257.4h9v24h-9zM151.8 1257.4h18v24h-18zM350.2 1281.4h9v24h-9zM224 1305.4h9v24h-9zM350.2 1305.4h9v24h-9zM106.7 1329.4h18v24h-18zM350.2 1329.4h9v24h-9zM539.7 1353.4h9v24h-9zM124.7 1482h9v24h-9zM142.8 1482h9v24h-9zM169.8 1482h18v24h-18zM196.9 1482h9v24h-9zM169.8 1506h9v24h-9zM314.2 1506h9v24h-9zM521.6 1506h18v24h-18zM602.8 1506h18v24h-18zM142.8 1538.4h9v24h-9zM169.8 1538.4h9v24h-9zM124.7 1562.4h9v24h-9zM205.9 1562.4h9v24h-9zM224 1562.4h9v24h-9zM269.1 1562.4h9v24h-9zM169.8 1586.5h9v24h-9zM269.1 1586.5h18v24h-18zM106.7 1610.5h27.1v24h-27.1zM296.1 1658.6h9v24h-9zM106.7 1730.6h18v24h-18zM205.9 1730.6h9v24h-9zM233 1730.6h9v24h-9zM169.8 1754.7h9v24h-9zM187.9 1754.7h9v24h-9zM106.7 1809.9h18v24.1h-18zM178.9 1809.9h9v24.1h-9zM196.9 1809.9h9v24.1h-9zM655.5 1185.4h54.1v24h-54.1zM718.6 1185.4h9v24h-9zM736.6 1185.4h27.1v24h-27.1zM799.8 1185.4h9v24h-9zM835.9 1185.4h9v24h-9zM899 1185.4h9v24h-9zM989.2 1185.4h9v24h-9zM1034.3 1185.4h9v24h-9zM628.4 1209.4h9v24h-9zM646.4 1209.4h27.1v24h-27.1zM682.5 1209.4h45.1v24h-45.1zM736.6 1209.4h18v24h-18zM763.7 1209.4h9v24h-9zM799.8 1209.4h36.1v24h-36.1zM1034.3 1209.4h9v24h-9zM628.4 1233.4h9v24h-9zM664.5 1233.4h27.1v24h-27.1zM700.6 1233.4h18v24h-18zM736.6 1233.4h9v24h-9zM754.7 1233.4h9v24h-9zM781.7 1233.4h45.1v24h-45.1zM835.9 1233.4h9v24h-9zM944.1 1233.4h9v24h-9zM971.2 1233.4h9v24h-9zM989.2 1233.4h9v24h-9zM1025.3 1233.4h27.1v24h-27.1zM655.5 1257.4h9v24h-9zM673.5 1257.4h9v24h-9zM700.6 1257.4h9v24h-9zM745.7 1257.4h9v24h-9zM763.7 1257.4h9v24h-9zM790.8 1257.4h18v24h-18zM835.9 1257.4h18v24h-18zM908 1257.4h9v24h-9zM953.1 1257.4h9v24h-9zM628.4 1281.4h9v24h-9zM664.5 1281.4h54.1v24h-54.1zM754.7 1281.4h9v24h-9zM772.7 1281.4h27.1v24h-27.1zM817.8 1281.4h9v24h-9zM835.9 1281.4h9v24h-9zM944.1 1281.4h18v24h-18zM628.4 1305.4h9v24h-9zM646.4 1305.4h9v24h-9zM664.5 1305.4h9v24h-9zM682.5 1305.4h9v24h-9zM700.6 1305.4h18v24h-18zM736.6 1305.4h9v24h-9zM754.7 1305.4h36.1v24h-36.1zM817.8 1305.4h18v24h-18zM926.1 1305.4h18v24h-18zM953.1 1305.4h18v24h-18zM980.2 1305.4h18v24h-18zM1043.3 1305.4h9v24h-9zM628.4 1329.4h36.1v24h-36.1zM673.5 1329.4h45.1v24h-45.1zM754.7 1329.4h9v24h-9zM772.7 1329.4h18v24h-18zM890 1329.4h9v24h-9zM953.1 1329.4h9v24h-9zM646.4 1353.4h9v24h-9zM664.5 1353.4h9v24h-9zM745.7 1353.4h9v24h-9zM772.7 1353.4h36.1v24h-36.1zM817.8 1353.4h27.1v24h-27.1zM853.9 1353.4h18v24h-18zM881 1353.4h9v24h-9zM917 1353.4h9v24h-9zM953.1 1353.4h27.1v24h-27.1zM1034.3 1353.4h18v24h-18zM628.4 1377.4h9v24h-9zM655.5 1377.4h9v24h-9zM682.5 1377.4h9v24h-9zM808.8 1377.4h9v24h-9zM835.9 1377.4h9v24h-9zM862.9 1377.4h9v24h-9zM917 1377.4h18v24h-18zM944.1 1377.4h9v24h-9zM980.2 1377.4h9v24h-9zM628.4 1401.4h9v24h-9zM655.5 1401.4h9v24h-9zM709.6 1401.4h9v24h-9zM808.8 1401.4h9v24h-9zM862.9 1401.4h9v24h-9zM881 1401.4h9v24h-9zM917 1401.4h27.1v24h-27.1zM980.2 1401.4h9v24h-9zM628.4 1434h27.1v24h-27.1zM673.5 1434h9v24h-9zM700.6 1434h9v24h-9zM727.6 1434h9v24h-9zM745.7 1434h9v24h-9zM817.8 1434h9v24h-9zM835.9 1434h9v24h-9zM853.9 1434h18v24h-18zM881 1434h9v24h-9zM980.2 1434h9v24h-9zM1034.3 1434h18v24h-18zM637.4 1458h9v24h-9zM655.5 1458h18v24h-18zM718.6 1458h9v24h-9zM835.9 1458h9v24h-9zM871.9 1458h9v24h-9zM890 1458h63.1v24h-63.1zM962.1 1458h27.1v24h-27.1zM1016.3 1458h9v24h-9zM1043.3 1458h9v24h-9zM628.4 1482h9v24h-9zM673.5 1482h18v24h-18zM700.6 1482h9v24h-9zM745.7 1482h9v24h-9zM899 1482h9v24h-9zM917 1482h9v24h-9zM628.4 1506h9v24h-9zM817.8 1506h9v24h-9zM835.9 1506h9v24h-9zM926.1 1506h18v24h-18zM1007.2 1506h27.1v24h-27.1zM637.4 1538.4h18v24h-18zM664.5 1538.4h9v24h-9zM682.5 1538.4h36.1v24h-36.1zM736.6 1538.4h9v24h-9zM763.7 1538.4h9v24h-9zM790.8 1538.4h9v24h-9zM817.8 1538.4h9v24h-9zM917 1538.4h9v24h-9zM971.2 1538.4h18v24h-18zM628.4 1562.4h27.1v24h-27.1zM691.5 1562.4h9v24h-9zM709.6 1562.4h9v24h-9zM736.6 1562.4h18v24h-18zM763.7 1562.4h9v24h-9zM781.7 1562.4h27.1v24h-27.1zM826.8 1562.4h9v24h-9zM899 1562.4h27.1v24h-27.1zM971.2 1562.4h18v24h-18zM1007.2 1562.4h45.1v24h-45.1zM628.4 1586.5h18v24h-18zM664.5 1586.5h18v24h-18zM700.6 1586.5h18v24h-18zM727.6 1586.5h9v24h-9zM745.7 1586.5h18v24h-18zM772.7 1586.5h9v24h-9zM790.8 1586.5h9v24h-9zM817.8 1586.5h18v24h-18zM862.9 1586.5h27.1v24h-27.1zM944.1 1586.5h9v24h-9zM971.2 1586.5h18v24h-18zM1025.3 1586.5h18v24h-18zM637.4 1610.5h18v24h-18zM664.5 1610.5h18v24h-18zM691.5 1610.5h9v24h-9zM709.6 1610.5h18v24h-18zM736.6 1610.5h18v24h-18zM826.8 1610.5h9v24h-9zM853.9 1610.5h18v24h-18zM899 1610.5h9v24h-9zM1016.3 1610.5h27.1v24h-27.1zM628.4 1634.5h18v24h-18zM664.5 1634.5h18v24h-18zM727.6 1634.5h9v24h-9zM745.7 1634.5h18v24h-18zM826.8 1634.5h18v24h-18zM853.9 1634.5h18v24h-18zM881 1634.5h9v24h-9zM899 1634.5h9v24h-9zM917 1634.5h9v24h-9zM971.2 1634.5h18v24h-18zM1016.3 1634.5h9v24h-9zM628.4 1658.6h18v24h-18zM655.5 1658.6h27.1v24h-27.1zM691.5 1658.6h18v24h-18zM727.6 1658.6h45.1v24h-45.1zM799.8 1658.6h9v24h-9zM826.8 1658.6h9v24h-9zM853.9 1658.6h9v24h-9zM871.9 1658.6h18v24h-18zM971.2 1658.6h9v24h-9zM1016.3 1658.6h9v24h-9zM1034.3 1658.6h9v24h-9zM628.4 1682.6h27.1v24h-27.1zM664.5 1682.6h18v24h-18zM691.5 1682.6h9v24h-9zM709.6 1682.6h9v24h-9zM727.6 1682.6h9v24h-9zM745.7 1682.6h18v24h-18zM817.8 1682.6h18v24h-18zM853.9 1682.6h18v24h-18zM899 1682.6h9v24h-9zM980.2 1682.6h9v24h-9zM673.5 1706.6h9v24h-9zM700.6 1706.6h9v24h-9zM727.6 1706.6h9v24h-9zM745.7 1706.6h9v24h-9zM763.7 1706.6h9v24h-9zM826.8 1706.6h27.1v24h-27.1zM890 1706.6h18v24h-18zM980.2 1706.6h9v24h-9zM1034.3 1706.6h9v24h-9zM691.5 1730.6h9v24h-9zM709.6 1730.6h9v24h-9zM799.8 1730.6h36.1v24h-36.1zM871.9 1730.6h9v24h-9zM908 1730.6h18v24h-18zM628.4 1754.7h18v24h-18zM673.5 1754.7h18v24h-18zM826.8 1754.7h9v24h-9zM881 1754.7h9v24h-9zM908 1754.7h9v24h-9zM926.1 1754.7h9v24h-9zM980.2 1754.7h9v24h-9zM709.6 1785.7h9v24.1h-9zM808.8 1785.7h27.1v24.1h-27.1zM926.1 1785.7h27.1v24.1h-27.1zM980.2 1785.7h9v24.1h-9zM1016.3 1785.7h9v24.1h-9zM709.6 1809.9h9v24.1h-9zM799.8 1809.9h9v24.1h-9zM817.8 1809.9h18v24.1h-18zM890 1809.9h81.2v24.1h-81.2zM980.2 1809.9h9v24.1h-9zM1016.3 1809.9h18v24.1h-18zM1078.5 1185.4h18v24h-18zM1132.4 1185.4h18v24h-18zM1159.4 1185.4h9v24h-9zM1177.4 1185.4h36v24h-36zM1222.3 1185.4h9v24h-9zM1240.3 1185.4h27v24h-27zM1321.2 1185.4h9v24h-9zM1348.2 1185.4h9v24h-9zM1384.1 1185.4h9v24h-9zM1132.4 1209.4h9v24h-9zM1168.4 1209.4h9v24h-9zM1195.3 1209.4h71.9v24h-71.9zM1294.2 1209.4h9v24h-9zM1339.2 1209.4h9v24h-9zM1357.2 1209.4h9v24h-9zM1384.1 1209.4h9v24h-9zM1402.1 1209.4h18v24h-18zM1132.4 1233.4h9v24h-9zM1150.4 1233.4h27v24h-27zM1240.3 1233.4h9v24h-9zM1285.2 1233.4h27v24h-27zM1321.2 1233.4h9v24h-9zM1339.2 1233.4h9v24h-9zM1366.2 1233.4h18v24h-18zM1447.1 1233.4h9v24h-9zM1132.4 1257.4h9v24h-9zM1213.3 1257.4h9v24h-9zM1231.3 1257.4h9v24h-9zM1294.2 1257.4h27v24h-27zM1357.2 1257.4h18v24h-18zM1384.1 1257.4h36v24h-36zM1168.4 1281.4h27v24h-27zM1204.3 1281.4h18v24h-18zM1231.3 1281.4h9v24h-9zM1285.2 1281.4h27v24h-27zM1357.2 1281.4h27v24h-27zM1420.1 1281.4h9v24h-9zM1168.4 1305.4h27v24h-27zM1231.3 1305.4h9v24h-9zM1249.3 1305.4h9v24h-9zM1285.2 1305.4h9v24h-9zM1303.2 1305.4h9v24h-9zM1321.2 1305.4h9v24h-9zM1339.2 1305.4h9v24h-9zM1357.2 1305.4h27v24h-27zM1402.1 1305.4h9v24h-9zM1420.1 1305.4h9v24h-9zM1447.1 1305.4h9v24h-9zM1168.4 1329.4h18v24h-18zM1240.3 1329.4h9v24h-9zM1258.3 1329.4h9v24h-9zM1285.2 1329.4h9v24h-9zM1303.2 1329.4h9v24h-9zM1321.2 1329.4h18v24h-18zM1357.2 1329.4h9v24h-9zM1393.1 1329.4h9v24h-9zM1438.1 1329.4h9v24h-9zM1078.5 1353.4h18v24h-18zM1132.4 1353.4h18v24h-18zM1177.4 1353.4h9v24h-9zM1249.3 1353.4h9v24h-9zM1267.3 1353.4h18v24h-18zM1330.2 1353.4h9v24h-9zM1384.1 1353.4h18v24h-18zM1132.4 1377.4h18v24h-18zM1159.4 1377.4h9v24h-9zM1177.4 1377.4h9v24h-9zM1204.3 1377.4h27v24h-27zM1267.3 1377.4h9v24h-9zM1312.2 1377.4h9v24h-9zM1357.2 1377.4h9v24h-9zM1393.1 1377.4h18v24h-18zM1429.1 1377.4h36v24h-36zM1123.4 1401.4h18v24h-18zM1159.4 1401.4h9v24h-9zM1177.4 1401.4h27v24h-27zM1213.3 1401.4h9v24h-9zM1267.3 1401.4h9v24h-9zM1357.2 1401.4h9v24h-9zM1393.1 1401.4h9v24h-9zM1429.1 1401.4h18v24h-18zM1087.5 1434h9v24h-9zM1114.4 1434h9v24h-9zM1141.4 1434h9v24h-9zM1168.4 1434h9v24h-9zM1186.4 1434h9v24h-9zM1213.3 1434h9v24h-9zM1231.3 1434h9v24h-9zM1267.3 1434h9v24h-9zM1285.2 1434h9v24h-9zM1303.2 1434h9v24h-9zM1357.2 1434h9v24h-9zM1384.1 1434h9v24h-9zM1402.1 1434h9v24h-9zM1429.1 1434h9v24h-9zM1447.1 1434h9v24h-9zM1123.4 1458h9v24h-9zM1186.4 1458h27v24h-27zM1231.3 1458h9v24h-9zM1294.2 1458h9v24h-9zM1321.2 1458h9v24h-9zM1339.2 1458h18v24h-18zM1384.1 1458h9v24h-9zM1402.1 1458h9v24h-9zM1438.1 1458h9v24h-9zM1060.5 1482h9v24h-9zM1087.5 1482h9v24h-9zM1105.5 1482h9v24h-9zM1132.4 1482h9v24h-9zM1150.4 1482h9v24h-9zM1177.4 1482h9v24h-9zM1195.3 1482h9v24h-9zM1213.3 1482h9v24h-9zM1249.3 1482h9v24h-9zM1267.3 1482h45v24h-45zM1330.2 1482h9v24h-9zM1375.2 1482h9v24h-9zM1402.1 1482h9v24h-9zM1429.1 1482h18v24h-18zM1456.1 1482h9v24h-9zM1060.5 1506h18v24h-18zM1168.4 1506h9v24h-9zM1195.3 1506h9v24h-9zM1231.3 1506h9v24h-9zM1285.2 1506h9v24h-9zM1375.2 1506h27v24h-27zM1429.1 1506h18v24h-18zM1456.1 1506h9v24h-9zM1069.5 1538.4h9v24h-9zM1141.4 1538.4h9v24h-9zM1177.4 1538.4h9v24h-9zM1195.3 1538.4h18v24h-18zM1222.3 1538.4h18v24h-18zM1249.3 1538.4h9v24h-9zM1267.3 1538.4h9v24h-9zM1285.2 1538.4h9v24h-9zM1303.2 1538.4h9v24h-9zM1402.1 1538.4h9v24h-9zM1420.1 1538.4h9v24h-9zM1069.5 1562.4h18v24h-18zM1105.5 1562.4h9v24h-9zM1123.4 1562.4h9v24h-9zM1159.4 1562.4h45v24h-45zM1213.3 1562.4h9v24h-9zM1231.3 1562.4h45v24h-45zM1294.2 1562.4h9v24h-9zM1312.2 1562.4h9v24h-9zM1339.2 1562.4h9v24h-9zM1357.2 1562.4h27v24h-27zM1393.1 1562.4h9v24h-9zM1429.1 1562.4h9v24h-9zM1447.1 1562.4h18v24h-18zM1087.5 1586.5h9v24h-9zM1114.4 1586.5h9v24h-9zM1132.4 1586.5h9v24h-9zM1204.3 1586.5h53.9v24h-53.9zM1267.3 1586.5h36v24h-36zM1384.1 1586.5h9v24h-9zM1402.1 1586.5h9v24h-9zM1447.1 1586.5h9v24h-9zM1060.5 1610.5h9v24h-9zM1114.4 1610.5h18v24h-18zM1141.4 1610.5h9v24h-9zM1168.4 1610.5h9v24h-9zM1231.3 1610.5h18v24h-18zM1267.3 1610.5h9v24h-9zM1303.2 1610.5h9v24h-9zM1339.2 1610.5h9v24h-9zM1357.2 1610.5h9v24h-9zM1393.1 1610.5h9v24h-9zM1411.1 1610.5h9v24h-9zM1447.1 1610.5h9v24h-9zM1078.5 1634.5h18v24h-18zM1123.4 1634.5h18v24h-18zM1168.4 1634.5h45v24h-45zM1240.3 1634.5h36v24h-36zM1294.2 1634.5h9v24h-9zM1348.2 1634.5h9v24h-9zM1366.2 1634.5h9v24h-9zM1402.1 1634.5h9v24h-9zM1420.1 1634.5h9v24h-9zM1087.5 1658.6h9v24h-9zM1114.4 1658.6h9v24h-9zM1132.4 1658.6h9v24h-9zM1168.4 1658.6h9v24h-9zM1213.3 1658.6h9v24h-9zM1240.3 1658.6h18v24h-18zM1267.3 1658.6h18v24h-18zM1339.2 1658.6h9v24h-9zM1366.2 1658.6h9v24h-9zM1384.1 1658.6h9v24h-9zM1114.4 1682.6h9v24h-9zM1132.4 1682.6h9v24h-9zM1168.4 1682.6h18v24h-18zM1195.3 1682.6h9v24h-9zM1231.3 1682.6h9v24h-9zM1249.3 1682.6h9v24h-9zM1267.3 1682.6h18v24h-18zM1294.2 1682.6h9v24h-9zM1339.2 1682.6h9v24h-9zM1375.2 1682.6h18v24h-18zM1402.1 1682.6h9v24h-9zM1420.1 1682.6h9v24h-9zM1087.5 1706.6h9v24h-9zM1114.4 1706.6h9v24h-9zM1222.3 1706.6h18v24h-18zM1267.3 1706.6h9v24h-9zM1285.2 1706.6h9v24h-9zM1303.2 1706.6h18v24h-18zM1339.2 1706.6h18v24h-18zM1375.2 1706.6h9v24h-9zM1141.4 1730.6h9v24h-9zM1159.4 1730.6h9v24h-9zM1204.3 1730.6h9v24h-9zM1231.3 1730.6h9v24h-9zM1267.3 1730.6h9v24h-9zM1321.2 1730.6h18v24h-18zM1366.2 1730.6h9v24h-9zM1384.1 1730.6h27v24h-27zM1429.1 1730.6h9v24h-9zM1123.4 1754.7h18v24h-18zM1186.4 1754.7h9v24h-9zM1213.3 1754.7h9v24h-9zM1267.3 1754.7h9v24h-9zM1321.2 1754.7h9v24h-9zM1339.2 1754.7h18v24h-18zM1438.1 1754.7h9v24h-9zM1105.5 1785.7h9v24.1h-9zM1132.4 1785.7h9v24.1h-9zM1186.4 1785.7h36v24.1h-36zM1231.3 1785.7h9v24.1h-9zM1285.2 1785.7h9v24.1h-9zM1303.2 1785.7h9v24.1h-9zM1321.2 1785.7h9v24.1h-9zM1348.2 1785.7h9v24.1h-9zM1393.1 1785.7h9v24.1h-9zM1411.1 1785.7h9v24.1h-9zM1456.1 1785.7h9v24.1h-9zM1132.4 1809.9h9v24.1h-9zM1222.3 1809.9h9v24.1h-9zM1285.2 1809.9h9v24.1h-9zM1303.2 1809.9h9v24.1h-9zM1321.2 1809.9h9v24.1h-9zM1339.2 1809.9h9v24.1h-9zM1357.2 1809.9h9v24.1h-9zM1402.1 1809.9h9v24.1h-9zM1420.1 1809.9h9v24.1h-9zM1438.1 1809.9h9v24.1h-9zM1456.1 1809.9h9v24.1h-9z"/>
<path fill="#F4A582" d="M115.7 1185.4h9v24h-9zM287.1 1185.4h18v24h-18zM386.3 1185.4h9v24h-9zM422.4 1185.4h9v24h-9zM476.5 1185.4h27.1v24h-27.1zM512.6 1185.4h18v24h-18zM548.7 1185.4h9v24h-9zM575.7 1185.4h9v24h-9zM593.8 1185.4h9v24h-9zM187.9 1209.4h9v24h-9zM314.2 1209.4h9v24h-9zM332.2 1209.4h9v24h-9zM386.3 1209.4h18v24h-18zM458.5 1209.4h9v24h-9zM476.5 1209.4h9v24h-9zM494.6 1209.4h27.1v24h-27.1zM530.6 1209.4h9v24h-9zM548.7 1209.4h18v24h-18zM575.7 1209.4h18v24h-18zM611.8 1209.4h9v24h-9zM169.8 1233.4h9v24h-9zM187.9 1233.4h18v24h-18zM332.2 1233.4h9v24h-9zM449.5 1233.4h18v24h-18zM503.6 1233.4h9v24h-9zM521.6 1233.4h36.1v24h-36.1zM575.7 1233.4h18v24h-18zM602.8 1233.4h18v24h-18zM169.8 1257.4h9v24h-9zM242 1257.4h27.1v24h-27.1zM278.1 1257.4h9v24h-9zM296.1 1257.4h18v24h-18zM404.4 1257.4h9v24h-9zM422.4 1257.4h18v24h-18zM458.5 1257.4h9v24h-9zM494.6 1257.4h18v24h-18zM557.7 1257.4h18v24h-18zM602.8 1257.4h18v24h-18zM169.8 1281.4h9v24h-9zM187.9 1281.4h18v24h-18zM332.2 1281.4h9v24h-9zM404.4 1281.4h9v24h-9zM422.4 1281.4h9v24h-9zM476.5 1281.4h45.1v24h-45.1zM539.7 1281.4h9v24h-9zM557.7 1281.4h18v24h-18zM584.8 1281.4h27.1v24h-27.1zM169.8 1305.4h9v24h-9zM187.9 1305.4h18v24h-18zM287.1 1305.4h9v24h-9zM332.2 1305.4h18v24h-18zM386.3 1305.4h18v24h-18zM476.5 1305.4h45.1v24h-45.1zM539.7 1305.4h9v24h-9zM575.7 1305.4h18v24h-18zM169.8 1329.4h36.1v24h-36.1zM314.2 1329.4h9v24h-9zM485.5 1329.4h9v24h-9zM503.6 1329.4h18v24h-18zM593.8 1329.4h9v24h-9zM124.7 1353.4h9v24h-9zM142.8 1353.4h9v24h-9zM205.9 1353.4h18v24h-18zM242 1353.4h9v24h-9zM260 1353.4h9v24h-9zM332.2 1353.4h9v24h-9zM404.4 1353.4h9v24h-9zM449.5 1353.4h9v24h-9zM476.5 1353.4h9v24h-9zM503.6 1353.4h18v24h-18zM566.7 1353.4h18v24h-18zM602.8 1353.4h18v24h-18zM214.9 1377.4h9v24h-9zM242 1377.4h9v24h-9zM260 1377.4h27.1v24h-27.1zM305.1 1377.4h9v24h-9zM404.4 1377.4h9v24h-9zM440.4 1377.4h9v24h-9zM458.5 1377.4h36.1v24h-36.1zM503.6 1377.4h9v24h-9zM205.9 1401.4h18v24h-18zM242 1401.4h9v24h-9zM260 1401.4h18v24h-18zM305.1 1401.4h9v24h-9zM332.2 1401.4h9v24h-9zM404.4 1401.4h9v24h-9zM440.4 1401.4h45.1v24h-45.1zM503.6 1401.4h18v24h-18zM106.7 1434h9v24h-9zM214.9 1434h18v24h-18zM332.2 1434h27.1v24h-27.1zM431.4 1434h9v24h-9zM449.5 1434h36.1v24h-36.1zM557.7 1434h54.1v24h-54.1zM205.9 1458h9v24h-9zM233 1458h18v24h-18zM332.2 1458h9v24h-9zM386.3 1458h9v24h-9zM440.4 1458h9v24h-9zM458.5 1458h27.1v24h-27.1zM503.6 1458h9v24h-9zM548.7 1458h9v24h-9zM566.7 1458h27.1v24h-27.1zM242 1482h9v24h-9zM287.1 1482h9v24h-9zM350.2 1482h9v24h-9zM377.3 1482h27.1v24h-27.1zM422.4 1482h18v24h-18zM449.5 1482h9v24h-9zM467.5 1482h9v24h-9zM494.6 1482h18v24h-18zM521.6 1482h18v24h-18zM548.7 1482h45.1v24h-45.1zM133.8 1506h9v24h-9zM205.9 1506h9v24h-9zM224 1506h9v24h-9zM242 1506h18v24h-18zM269.1 1506h27.1v24h-27.1zM422.4 1506h9v24h-9zM476.5 1506h18v24h-18zM503.6 1506h9v24h-9zM233 1538.4h9v24h-9zM296.1 1538.4h9v24h-9zM314.2 1538.4h9v24h-9zM422.4 1538.4h9v24h-9zM440.4 1538.4h9v24h-9zM467.5 1538.4h72.2v24h-72.2zM566.7 1538.4h18v24h-18zM602.8 1538.4h9v24h-9zM296.1 1562.4h27.1v24h-27.1zM332.2 1562.4h9v24h-9zM440.4 1562.4h9v24h-9zM458.5 1562.4h9v24h-9zM476.5 1562.4h9v24h-9zM494.6 1562.4h9v24h-9zM530.6 1562.4h9v24h-9zM548.7 1562.4h27.1v24h-27.1zM602.8 1562.4h18v24h-18zM133.8 1586.5h9v24h-9zM187.9 1586.5h9v24h-9zM214.9 1586.5h9v24h-9zM305.1 1586.5h18v24h-18zM350.2 1586.5h9v24h-9zM386.3 1586.5h9v24h-9zM449.5 1586.5h54.1v24h-54.1zM521.6 1586.5h9v24h-9zM539.7 1586.5h9v24h-9zM557.7 1586.5h18v24h-18zM602.8 1586.5h18v24h-18zM350.2 1610.5h9v24h-9zM386.3 1610.5h18v24h-18zM422.4 1610.5h9v24h-9zM440.4 1610.5h9v24h-9zM458.5 1610.5h18v24h-18zM494.6 1610.5h18v24h-18zM539.7 1610.5h18v24h-18zM566.7 1610.5h27.1v24h-27.1zM611.8 1610.5h9v24h-9zM205.9 1634.5h9v24h-9zM242 1634.5h9v24h-9zM305.1 1634.5h9v24h-9zM332.2 1634.5h18v24h-18zM440.4 1634.5h9v24h-9zM458.5 1634.5h18v24h-18zM503.6 1634.5h90.2v24h-90.2zM602.8 1634.5h18v24h-18zM242 1658.6h9v24h-9zM305.1 1658.6h9v24h-9zM323.2 1658.6h18v24h-18zM377.3 1658.6h18v24h-18zM413.4 1658.6h18v24h-18zM449.5 1658.6h36.1v24h-36.1zM521.6 1658.6h45.1v24h-45.1zM575.7 1658.6h36.1v24h-36.1zM224 1682.6h9v24h-9zM242 1682.6h18v24h-18zM323.2 1682.6h27.1v24h-27.1zM377.3 1682.6h27.1v24h-27.1zM449.5 1682.6h27.1v24h-27.1zM485.5 1682.6h27.1v24h-27.1zM521.6 1682.6h18v24h-18zM548.7 1682.6h45.1v24h-45.1zM602.8 1682.6h9v24h-9zM106.7 1706.6h9v24h-9zM133.8 1706.6h9v24h-9zM187.9 1706.6h9v24h-9zM205.9 1706.6h18v24h-18zM305.1 1706.6h9v24h-9zM323.2 1706.6h36.1v24h-36.1zM386.3 1706.6h9v24h-9zM404.4 1706.6h9v24h-9zM431.4 1706.6h9v24h-9zM458.5 1706.6h9v24h-9zM476.5 1706.6h18v24h-18zM512.6 1706.6h9v24h-9zM530.6 1706.6h9v24h-9zM548.7 1706.6h18v24h-18zM575.7 1706.6h9v24h-9zM593.8 1706.6h9v24h-9zM611.8 1706.6h9v24h-9zM142.8 1730.6h9v24h-9zM269.1 1730.6h9v24h-9zM287.1 1730.6h9v24h-9zM440.4 1730.6h9v24h-9zM458.5 1730.6h18v24h-18zM584.8 1730.6h9v24h-9zM611.8 1730.6h9v24h-9zM224 1754.7h45.1v24h-45.1zM278.1 1754.7h9v24h-9zM296.1 1754.7h9v24h-9zM350.2 1754.7h9v24h-9zM386.3 1754.7h9v24h-9zM449.5 1754.7h27.1v24h-27.1zM485.5 1754.7h27.1v24h-27.1zM530.6 1754.7h18v24h-18zM611.8 1754.7h9v24h-9zM151.8 1785.7h9v24.1h-9zM169.8 1785.7h9v24.1h-9zM205.9 1785.7h9v24.1h-9zM296.1 1785.7h18v24.1h-18zM377.3 1785.7h9v24.1h-9zM404.4 1785.7h9v24.1h-9zM440.4 1785.7h18v24.1h-18zM467.5 1785.7h9v24.1h-9zM485.5 1785.7h18v24.1h-18zM512.6 1785.7h9v24.1h-9zM557.7 1785.7h18v24.1h-18zM584.8 1785.7h27.1v24.1h-27.1zM142.8 1809.9h9v24.1h-9zM278.1 1809.9h9v24.1h-9zM413.4 1809.9h9v24.1h-9zM449.5 1809.9h9v24.1h-9zM467.5 1809.9h9v24.1h-9zM485.5 1809.9h18v24.1h-18zM512.6 1809.9h9v24.1h-9zM871.9 1185.4h18v24h-18zM881 1209.4h9v24h-9zM899 1209.4h18v24h-18zM844.9 1233.4h45.1v24h-45.1zM980.2 1257.4h9v24h-9zM881 1281.4h9v24h-9zM844.9 1305.4h9v24h-9zM862.9 1305.4h9v24h-9zM862.9 1329.4h9v24h-9zM881 1329.4h9v24h-9zM899 1329.4h9v24h-9zM736.6 1377.4h9v24h-9zM736.6 1401.4h27.1v24h-27.1zM835.9 1482h27.1v24h-27.1zM646.4 1506h9v24h-9zM700.6 1506h9v24h-9zM736.6 1506h9v24h-9zM790.8 1506h9v24h-9zM853.9 1538.4h9v24h-9zM989.2 1538.4h9v24h-9zM844.9 1610.5h9v24h-9zM881 1610.5h9v24h-9zM971.2 1610.5h9v24h-9zM763.7 1730.6h9v24h-9zM682.5 1785.7h9v24.1h-9zM1007.2 1785.7h9v24.1h-9zM628.4 1809.9h9v24.1h-9zM781.7 1809.9h9v24.1h-9zM1114.4 1281.4h9v24h-9zM1141.4 1329.4h9v24h-9zM1339.2 1353.4h9v24h-9zM1294.2 1506h9v24h-9z"/>
<path fill="#FBFBFB" d="M124.7 1185.4h63.1v24h-63.1zM205.9 1185.4h27.1v24h-27.1zM278.1 1185.4h9v24h-9zM323.2 1185.4h9v24h-9zM341.2 1185.4h18v24h-18zM368.3 1185.4h18v24h-18zM449.5 1185.4h27.1v24h-27.1zM602.8 1185.4h18v24h-18zM106.7 1209.4h45.1v24h-45.1zM160.8 1209.4h9v24h-9zM178.9 1209.4h9v24h-9zM205.9 1209.4h27.1v24h-27.1zM242 1209.4h27.1v24h-27.1zM278.1 1209.4h9v24h-9zM350.2 1209.4h9v24h-9zM449.5 1209.4h9v24h-9zM115.7 1233.4h9v24h-9zM224 1233.4h9v24h-9zM251 1233.4h9v24h-9zM269.1 1233.4h9v24h-9zM350.2 1233.4h36.1v24h-36.1zM106.7 1257.4h9v24h-9zM124.7 1257.4h9v24h-9zM142.8 1257.4h9v24h-9zM196.9 1257.4h18v24h-18zM323.2 1257.4h9v24h-9zM350.2 1257.4h9v24h-9zM395.3 1257.4h9v24h-9zM530.6 1257.4h18v24h-18zM593.8 1257.4h9v24h-9zM106.7 1281.4h36.1v24h-36.1zM160.8 1281.4h9v24h-9zM224 1281.4h9v24h-9zM359.3 1281.4h18v24h-18zM106.7 1305.4h9v24h-9zM124.7 1305.4h9v24h-9zM178.9 1305.4h9v24h-9zM251 1305.4h9v24h-9zM278.1 1305.4h9v24h-9zM296.1 1305.4h9v24h-9zM359.3 1305.4h18v24h-18zM521.6 1305.4h9v24h-9zM133.8 1329.4h9v24h-9zM160.8 1329.4h9v24h-9zM205.9 1329.4h36.1v24h-36.1zM260 1329.4h9v24h-9zM278.1 1329.4h9v24h-9zM296.1 1329.4h18v24h-18zM341.2 1329.4h9v24h-9zM368.3 1329.4h18v24h-18zM521.6 1329.4h18v24h-18zM106.7 1353.4h9v24h-9zM160.8 1353.4h9v24h-9zM178.9 1353.4h9v24h-9zM278.1 1353.4h9v24h-9zM296.1 1353.4h9v24h-9zM350.2 1353.4h9v24h-9zM368.3 1353.4h9v24h-9zM521.6 1353.4h9v24h-9zM548.7 1353.4h9v24h-9zM106.7 1377.4h36.1v24h-36.1zM287.1 1377.4h9v24h-9zM359.3 1377.4h9v24h-9zM377.3 1377.4h9v24h-9zM521.6 1377.4h9v24h-9zM539.7 1377.4h9v24h-9zM557.7 1377.4h9v24h-9zM106.7 1401.4h18v24h-18zM133.8 1401.4h9v24h-9zM287.1 1401.4h9v24h-9zM359.3 1401.4h9v24h-9zM377.3 1401.4h9v24h-9zM395.3 1401.4h9v24h-9zM521.6 1401.4h9v24h-9zM539.7 1401.4h9v24h-9zM557.7 1401.4h9v24h-9zM142.8 1434h9v24h-9zM169.8 1434h9v24h-9zM269.1 1434h36.1v24h-36.1zM106.7 1458h9v24h-9zM169.8 1458h18v24h-18zM278.1 1458h18v24h-18zM133.8 1482h9v24h-9zM151.8 1482h18v24h-18zM187.9 1482h9v24h-9zM205.9 1482h9v24h-9zM224 1482h18v24h-18zM251 1482h18v24h-18zM278.1 1482h9v24h-9zM593.8 1482h9v24h-9zM611.8 1482h9v24h-9zM115.7 1506h9v24h-9zM151.8 1506h18v24h-18zM178.9 1506h27.1v24h-27.1zM214.9 1506h9v24h-9zM296.1 1506h9v24h-9zM323.2 1506h9v24h-9zM341.2 1506h18v24h-18zM368.3 1506h18v24h-18zM413.4 1506h9v24h-9zM548.7 1506h27.1v24h-27.1zM106.7 1538.4h36.1v24h-36.1zM160.8 1538.4h9v24h-9zM178.9 1538.4h9v24h-9zM196.9 1538.4h18v24h-18zM251 1538.4h27.1v24h-27.1zM377.3 1538.4h9v24h-9zM106.7 1562.4h18v24h-18zM133.8 1562.4h18v24h-18zM160.8 1562.4h9v24h-9zM178.9 1562.4h9v24h-9zM196.9 1562.4h9v24h-9zM233 1562.4h36.1v24h-36.1zM341.2 1562.4h9v24h-9zM359.3 1562.4h9v24h-9zM377.3 1562.4h9v24h-9zM115.7 1586.5h9v24h-9zM233 1586.5h9v24h-9zM260 1586.5h9v24h-9zM287.1 1586.5h18v24h-18zM368.3 1586.5h18v24h-18zM395.3 1586.5h9v24h-9zM133.8 1610.5h18v24h-18zM160.8 1610.5h72.2v24h-72.2zM260 1610.5h9v24h-9zM278.1 1610.5h9v24h-9zM341.2 1610.5h9v24h-9zM377.3 1610.5h9v24h-9zM124.7 1634.5h9v24h-9zM142.8 1634.5h9v24h-9zM178.9 1634.5h9v24h-9zM196.9 1634.5h9v24h-9zM214.9 1634.5h9v24h-9zM260 1634.5h9v24h-9zM287.1 1634.5h9v24h-9zM151.8 1658.6h9v24h-9zM169.8 1658.6h9v24h-9zM196.9 1658.6h9v24h-9zM269.1 1658.6h9v24h-9zM287.1 1658.6h9v24h-9zM611.8 1658.6h9v24h-9zM124.7 1682.6h9v24h-9zM142.8 1682.6h9v24h-9zM169.8 1682.6h9v24h-9zM196.9 1682.6h9v24h-9zM260 1682.6h9v24h-9zM296.1 1682.6h9v24h-9zM115.7 1706.6h9v24h-9zM169.8 1706.6h9v24h-9zM269.1 1706.6h27.1v24h-27.1zM395.3 1706.6h9v24h-9zM151.8 1730.6h9v24h-9zM178.9 1730.6h18v24h-18zM214.9 1730.6h18v24h-18zM323.2 1730.6h9v24h-9zM341.2 1730.6h9v24h-9zM359.3 1730.6h9v24h-9zM521.6 1730.6h9v24h-9zM115.7 1754.7h36.1v24h-36.1zM160.8 1754.7h9v24h-9zM178.9 1754.7h9v24h-9zM196.9 1754.7h9v24h-9zM323.2 1754.7h9v24h-9zM593.8 1754.7h9v24h-9zM115.7 1785.7h27.1v24.1h-27.1zM178.9 1785.7h27.1v24.1h-27.1zM233 1785.7h9v24.1h-9zM269.1 1785.7h9v24.1h-9zM323.2 1785.7h9v24.1h-9zM386.3 1785.7h18v24.1h-18zM124.7 1809.9h18v24.1h-18zM169.8 1809.9h9v24.1h-9zM187.9 1809.9h9v24.1h-9zM205.9 1809.9h18v24.1h-18zM233 1809.9h9v24.1h-9zM269.1 1809.9h9v24.1h-9zM305.1 1809.9h9v24.1h-9zM323.2 1809.9h9v24.1h-9zM341.2 1809.9h18v24.1h-18zM377.3 1809.9h9v24.1h-9zM395.3 1809.9h9v24.1h-9zM521.6 1809.9h9v24.1h-9zM709.6 1185.4h9v24h-9zM781.7 1185.4h9v24h-9zM808.8 1185.4h9v24h-9zM826.8 1185.4h9v24h-9zM890 1185.4h9v24h-9zM908 1185.4h9v24h-9zM926.1 1185.4h27.1v24h-27.1zM971.2 1185.4h9v24h-9zM998.2 1185.4h36.1v24h-36.1zM1043.3 1185.4h9v24h-9zM727.6 1209.4h9v24h-9zM772.7 1209.4h27.1v24h-27.1zM835.9 1209.4h9v24h-9zM935.1 1209.4h99.2v24h-99.2zM1043.3 1209.4h9v24h-9zM691.5 1233.4h9v24h-9zM718.6 1233.4h18v24h-18zM745.7 1233.4h9v24h-9zM763.7 1233.4h18v24h-18zM899 1233.4h45.1v24h-45.1zM953.1 1233.4h18v24h-18zM980.2 1233.4h9v24h-9zM998.2 1233.4h18v24h-18zM628.4 1257.4h18v24h-18zM664.5 1257.4h9v24h-9zM682.5 1257.4h9v24h-9zM709.6 1257.4h9v24h-9zM727.6 1257.4h18v24h-18zM754.7 1257.4h9v24h-9zM772.7 1257.4h9v24h-9zM817.8 1257.4h9v24h-9zM862.9 1257.4h18v24h-18zM917 1257.4h36.1v24h-36.1zM962.1 1257.4h18v24h-18zM1007.2 1257.4h27.1v24h-27.1zM637.4 1281.4h18v24h-18zM727.6 1281.4h27.1v24h-27.1zM853.9 1281.4h9v24h-9zM890 1281.4h9v24h-9zM908 1281.4h9v24h-9zM926.1 1281.4h18v24h-18zM962.1 1281.4h36.1v24h-36.1zM1007.2 1281.4h45.1v24h-45.1zM637.4 1305.4h9v24h-9zM691.5 1305.4h9v24h-9zM745.7 1305.4h9v24h-9zM790.8 1305.4h9v24h-9zM835.9 1305.4h9v24h-9zM917 1305.4h9v24h-9zM971.2 1305.4h9v24h-9zM998.2 1305.4h45.1v24h-45.1zM664.5 1329.4h9v24h-9zM736.6 1329.4h18v24h-18zM817.8 1329.4h9v24h-9zM853.9 1329.4h9v24h-9zM926.1 1329.4h9v24h-9zM944.1 1329.4h9v24h-9zM962.1 1329.4h18v24h-18zM989.2 1329.4h9v24h-9zM1007.2 1329.4h9v24h-9zM1025.3 1329.4h27.1v24h-27.1zM628.4 1353.4h18v24h-18zM673.5 1353.4h18v24h-18zM700.6 1353.4h45.1v24h-45.1zM844.9 1353.4h9v24h-9zM871.9 1353.4h9v24h-9zM890 1353.4h9v24h-9zM926.1 1353.4h18v24h-18zM980.2 1353.4h54.1v24h-54.1zM646.4 1377.4h9v24h-9zM673.5 1377.4h9v24h-9zM691.5 1377.4h27.1v24h-27.1zM763.7 1377.4h18v24h-18zM790.8 1377.4h18v24h-18zM817.8 1377.4h18v24h-18zM881 1377.4h36.1v24h-36.1zM953.1 1377.4h9v24h-9zM971.2 1377.4h9v24h-9zM1007.2 1377.4h9v24h-9zM1025.3 1377.4h27.1v24h-27.1zM637.4 1401.4h18v24h-18zM664.5 1401.4h45.1v24h-45.1zM763.7 1401.4h45.1v24h-45.1zM817.8 1401.4h27.1v24h-27.1zM890 1401.4h27.1v24h-27.1zM953.1 1401.4h27.1v24h-27.1zM1007.2 1401.4h45.1v24h-45.1zM682.5 1434h18v24h-18zM709.6 1434h9v24h-9zM736.6 1434h9v24h-9zM754.7 1434h9v24h-9zM799.8 1434h18v24h-18zM826.8 1434h9v24h-9zM844.9 1434h9v24h-9zM899 1434h63.1v24h-63.1zM971.2 1434h9v24h-9zM998.2 1434h36.1v24h-36.1zM628.4 1458h9v24h-9zM646.4 1458h9v24h-9zM673.5 1458h18v24h-18zM700.6 1458h18v24h-18zM727.6 1458h9v24h-9zM745.7 1458h18v24h-18zM772.7 1458h9v24h-9zM790.8 1458h45.1v24h-45.1zM853.9 1458h18v24h-18zM881 1458h9v24h-9zM953.1 1458h9v24h-9zM989.2 1458h27.1v24h-27.1zM1025.3 1458h18v24h-18zM637.4 1482h36.1v24h-36.1zM709.6 1482h9v24h-9zM736.6 1482h9v24h-9zM790.8 1482h9v24h-9zM817.8 1482h9v24h-9zM890 1482h9v24h-9zM908 1482h9v24h-9zM926.1 1482h18v24h-18zM971.2 1482h54.1v24h-54.1zM1034.3 1482h18v24h-18zM637.4 1506h9v24h-9zM655.5 1506h27.1v24h-27.1zM826.8 1506h9v24h-9zM844.9 1506h18v24h-18zM871.9 1506h9v24h-9zM962.1 1506h9v24h-9zM989.2 1506h18v24h-18zM1034.3 1506h18v24h-18zM628.4 1538.4h9v24h-9zM655.5 1538.4h9v24h-9zM727.6 1538.4h9v24h-9zM772.7 1538.4h18v24h-18zM799.8 1538.4h18v24h-18zM826.8 1538.4h18v24h-18zM881 1538.4h9v24h-9zM926.1 1538.4h45.1v24h-45.1zM998.2 1538.4h18v24h-18zM1025.3 1538.4h27.1v24h-27.1zM655.5 1562.4h9v24h-9zM772.7 1562.4h9v24h-9zM808.8 1562.4h9v24h-9zM835.9 1562.4h9v24h-9zM871.9 1562.4h9v24h-9zM890 1562.4h9v24h-9zM926.1 1562.4h18v24h-18zM962.1 1562.4h9v24h-9zM989.2 1562.4h9v24h-9zM682.5 1586.5h9v24h-9zM736.6 1586.5h9v24h-9zM763.7 1586.5h9v24h-9zM781.7 1586.5h9v24h-9zM808.8 1586.5h9v24h-9zM835.9 1586.5h9v24h-9zM853.9 1586.5h9v24h-9zM890 1586.5h54.1v24h-54.1zM953.1 1586.5h18v24h-18zM989.2 1586.5h36.1v24h-36.1zM1043.3 1586.5h9v24h-9zM655.5 1610.5h9v24h-9zM700.6 1610.5h9v24h-9zM727.6 1610.5h9v24h-9zM754.7 1610.5h9v24h-9zM772.7 1610.5h9v24h-9zM790.8 1610.5h9v24h-9zM817.8 1610.5h9v24h-9zM835.9 1610.5h9v24h-9zM908 1610.5h54.1v24h-54.1zM980.2 1610.5h9v24h-9zM998.2 1610.5h9v24h-9zM1043.3 1610.5h9v24h-9zM655.5 1634.5h9v24h-9zM682.5 1634.5h36.1v24h-36.1zM736.6 1634.5h9v24h-9zM763.7 1634.5h9v24h-9zM799.8 1634.5h9v24h-9zM817.8 1634.5h9v24h-9zM844.9 1634.5h9v24h-9zM871.9 1634.5h9v24h-9zM890 1634.5h9v24h-9zM908 1634.5h9v24h-9zM926.1 1634.5h9v24h-9zM944.1 1634.5h18v24h-18zM989.2 1634.5h27.1v24h-27.1zM1025.3 1634.5h27.1v24h-27.1zM682.5 1658.6h9v24h-9zM709.6 1658.6h9v24h-9zM817.8 1658.6h9v24h-9zM835.9 1658.6h18v24h-18zM890 1658.6h54.1v24h-54.1zM953.1 1658.6h9v24h-9zM980.2 1658.6h36.1v24h-36.1zM1025.3 1658.6h9v24h-9zM1043.3 1658.6h9v24h-9zM655.5 1682.6h9v24h-9zM682.5 1682.6h9v24h-9zM700.6 1682.6h9v24h-9zM736.6 1682.6h9v24h-9zM763.7 1682.6h9v24h-9zM835.9 1682.6h9v24h-9zM871.9 1682.6h18v24h-18zM908 1682.6h27.1v24h-27.1zM953.1 1682.6h9v24h-9zM971.2 1682.6h9v24h-9zM989.2 1682.6h63.1v24h-63.1zM682.5 1706.6h18v24h-18zM709.6 1706.6h9v24h-9zM754.7 1706.6h9v24h-9zM772.7 1706.6h54.1v24h-54.1zM871.9 1706.6h9v24h-9zM908 1706.6h9v24h-9zM944.1 1706.6h18v24h-18zM971.2 1706.6h9v24h-9zM998.2 1706.6h9v24h-9zM1016.3 1706.6h18v24h-18zM1043.3 1706.6h9v24h-9zM655.5 1730.6h9v24h-9zM682.5 1730.6h9v24h-9zM700.6 1730.6h9v24h-9zM772.7 1730.6h9v24h-9zM835.9 1730.6h27.1v24h-27.1zM890 1730.6h18v24h-18zM926.1 1730.6h63.1v24h-63.1zM1007.2 1730.6h9v24h-9zM1025.3 1730.6h9v24h-9zM691.5 1754.7h9v24h-9zM709.6 1754.7h9v24h-9zM727.6 1754.7h9v24h-9zM799.8 1754.7h9v24h-9zM835.9 1754.7h18v24h-18zM862.9 1754.7h9v24h-9zM890 1754.7h9v24h-9zM935.1 1754.7h45.1v24h-45.1zM998.2 1754.7h45.1v24h-45.1zM628.4 1785.7h36.1v24.1h-36.1zM700.6 1785.7h9v24.1h-9zM718.6 1785.7h18v24.1h-18zM772.7 1785.7h36.1v24.1h-36.1zM835.9 1785.7h18v24.1h-18zM862.9 1785.7h27.1v24.1h-27.1zM899 1785.7h27.1v24.1h-27.1zM953.1 1785.7h27.1v24.1h-27.1zM998.2 1785.7h9v24.1h-9zM1025.3 1785.7h27.1v24.1h-27.1zM682.5 1809.9h9v24.1h-9zM700.6 1809.9h9v24.1h-9zM727.6 1809.9h9v24.1h-9zM772.7 1809.9h9v24.1h-9zM790.8 1809.9h9v24.1h-9zM808.8 1809.9h9v24.1h-9zM835.9 1809.9h27.1v24.1h-27.1zM971.2 1809.9h9v24.1h-9zM989.2 1809.9h9v24.1h-9zM1007.2 1809.9h9v24.1h-9zM1034.3 1809.9h18v24.1h-18zM1150.4 1185.4h9v24h-9zM1213.3 1185.4h9v24h-9zM1357.2 1185.4h9v24h-9zM1402.1 1185.4h9v24h-9zM1123.4 1209.4h9v24h-9zM1159.4 1209.4h9v24h-9zM1177.4 1209.4h18v24h-18zM1348.2 1209.4h9v24h-9zM1393.1 1209.4h9v24h-9zM1123.4 1233.4h9v24h-9zM1177.4 1233.4h45v24h-45zM1348.2 1233.4h18v24h-18zM1123.4 1257.4h9v24h-9zM1141.4 1257.4h27v24h-27zM1195.3 1257.4h9v24h-9zM1321.2 1257.4h18v24h-18zM1348.2 1257.4h9v24h-9zM1375.2 1257.4h9v24h-9zM1438.1 1257.4h9v24h-9zM1123.4 1281.4h18v24h-18zM1150.4 1281.4h9v24h-9zM1195.3 1281.4h9v24h-9zM1312.2 1281.4h18v24h-18zM1123.4 1305.4h9v24h-9zM1150.4 1305.4h9v24h-9zM1195.3 1305.4h27v24h-27zM1258.3 1305.4h9v24h-9zM1294.2 1305.4h9v24h-9zM1312.2 1305.4h9v24h-9zM1393.1 1305.4h9v24h-9zM1123.4 1329.4h18v24h-18zM1186.4 1329.4h36v24h-36zM1249.3 1329.4h9v24h-9zM1294.2 1329.4h9v24h-9zM1312.2 1329.4h9v24h-9zM1339.2 1329.4h18v24h-18zM1366.2 1329.4h18v24h-18zM1114.4 1353.4h18v24h-18zM1168.4 1353.4h9v24h-9zM1186.4 1353.4h36v24h-36zM1294.2 1353.4h18v24h-18zM1321.2 1353.4h9v24h-9zM1348.2 1353.4h18v24h-18zM1375.2 1353.4h9v24h-9zM1276.3 1377.4h36v24h-36zM1321.2 1377.4h27v24h-27zM1204.3 1401.4h9v24h-9zM1276.3 1401.4h18v24h-18zM1303.2 1401.4h45v24h-45zM1447.1 1401.4h9v24h-9zM1195.3 1434h18v24h-18zM1222.3 1434h9v24h-9zM1249.3 1434h18v24h-18zM1339.2 1434h9v24h-9zM1177.4 1458h9v24h-9zM1213.3 1458h9v24h-9zM1285.2 1458h9v24h-9zM1303.2 1458h9v24h-9zM1114.4 1482h9v24h-9zM1240.3 1482h9v24h-9zM1258.3 1482h9v24h-9zM1393.1 1482h9v24h-9zM1420.1 1482h9v24h-9zM1078.5 1506h18v24h-18zM1204.3 1506h27v24h-27zM1276.3 1506h9v24h-9zM1312.2 1506h45v24h-45zM1087.5 1538.4h9v24h-9zM1114.4 1538.4h9v24h-9zM1240.3 1538.4h9v24h-9zM1339.2 1538.4h9v24h-9zM1384.1 1538.4h18v24h-18zM1114.4 1562.4h9v24h-9zM1132.4 1562.4h9v24h-9zM1150.4 1562.4h9v24h-9zM1420.1 1562.4h9v24h-9zM1105.5 1586.5h9v24h-9zM1168.4 1586.5h36v24h-36zM1258.3 1586.5h9v24h-9zM1222.3 1610.5h9v24h-9zM1222.3 1634.5h18v24h-18zM1384.1 1634.5h9v24h-9zM1177.4 1658.6h9v24h-9zM1195.3 1658.6h18v24h-18zM1222.3 1658.6h18v24h-18zM1222.3 1682.6h9v24h-9zM1240.3 1682.6h9v24h-9zM1168.4 1706.6h9v24h-9zM1186.4 1706.6h18v24h-18zM1213.3 1706.6h9v24h-9zM1240.3 1706.6h9v24h-9zM1258.3 1706.6h9v24h-9zM1276.3 1706.6h9v24h-9zM1294.2 1706.6h9v24h-9zM1123.4 1730.6h18v24h-18zM1420.1 1730.6h9v24h-9zM1438.1 1730.6h18v24h-18zM1195.3 1754.7h9v24h-9zM1222.3 1754.7h9v24h-9zM1303.2 1754.7h9v24h-9zM1357.2 1754.7h9v24h-9zM1141.4 1785.7h9v24.1h-9zM1168.4 1785.7h9v24.1h-9zM1438.1 1785.7h18v24.1h-18zM1123.4 1809.9h9v24.1h-9zM1159.4 1809.9h9v24.1h-9zM1204.3 1809.9h18v24.1h-18zM1312.2 1809.9h9v24.1h-9zM1384.1 1809.9h9v24.1h-9z"/>
<path fill="#FDDBC7" d="M187.9 1185.4h18v24h-18zM233 1185.4h36.1v24h-36.1zM305.1 1185.4h18v24h-18zM332.2 1185.4h9v24h-9zM359.3 1185.4h9v24h-9zM395.3 1185.4h9v24h-9zM440.4 1185.4h9v24h-9zM503.6 1185.4h9v24h-9zM151.8 1209.4h9v24h-9zM169.8 1209.4h9v24h-9zM196.9 1209.4h9v24h-9zM233 1209.4h9v24h-9zM287.1 1209.4h27.1v24h-27.1zM323.2 1209.4h9v24h-9zM341.2 1209.4h9v24h-9zM359.3 1209.4h27.1v24h-27.1zM440.4 1209.4h9v24h-9zM467.5 1209.4h9v24h-9zM485.5 1209.4h9v24h-9zM521.6 1209.4h9v24h-9zM602.8 1209.4h9v24h-9zM106.7 1233.4h9v24h-9zM124.7 1233.4h45.1v24h-45.1zM178.9 1233.4h9v24h-9zM205.9 1233.4h18v24h-18zM233 1233.4h18v24h-18zM260 1233.4h9v24h-9zM278.1 1233.4h18v24h-18zM305.1 1233.4h27.1v24h-27.1zM341.2 1233.4h9v24h-9zM386.3 1233.4h9v24h-9zM440.4 1233.4h9v24h-9zM467.5 1233.4h18v24h-18zM512.6 1233.4h9v24h-9zM557.7 1233.4h18v24h-18zM115.7 1257.4h9v24h-9zM178.9 1257.4h18v24h-18zM214.9 1257.4h18v24h-18zM287.1 1257.4h9v24h-9zM314.2 1257.4h9v24h-9zM332.2 1257.4h18v24h-18zM359.3 1257.4h36.1v24h-36.1zM440.4 1257.4h18v24h-18zM467.5 1257.4h9v24h-9zM521.6 1257.4h9v24h-9zM548.7 1257.4h9v24h-9zM575.7 1257.4h18v24h-18zM142.8 1281.4h18v24h-18zM178.9 1281.4h9v24h-9zM205.9 1281.4h18v24h-18zM233 1281.4h99.2v24h-99.2zM341.2 1281.4h9v24h-9zM377.3 1281.4h27.1v24h-27.1zM440.4 1281.4h36.1v24h-36.1zM521.6 1281.4h18v24h-18zM548.7 1281.4h9v24h-9zM575.7 1281.4h9v24h-9zM115.7 1305.4h9v24h-9zM133.8 1305.4h36.1v24h-36.1zM205.9 1305.4h18v24h-18zM233 1305.4h18v24h-18zM260 1305.4h18v24h-18zM305.1 1305.4h27.1v24h-27.1zM377.3 1305.4h9v24h-9zM440.4 1305.4h36.1v24h-36.1zM530.6 1305.4h9v24h-9zM548.7 1305.4h27.1v24h-27.1zM602.8 1305.4h9v24h-9zM124.7 1329.4h9v24h-9zM142.8 1329.4h18v24h-18zM242 1329.4h18v24h-18zM269.1 1329.4h9v24h-9zM287.1 1329.4h9v24h-9zM323.2 1329.4h18v24h-18zM359.3 1329.4h9v24h-9zM386.3 1329.4h18v24h-18zM440.4 1329.4h45.1v24h-45.1zM494.6 1329.4h9v24h-9zM539.7 1329.4h54.1v24h-54.1zM115.7 1353.4h9v24h-9zM133.8 1353.4h9v24h-9zM151.8 1353.4h9v24h-9zM169.8 1353.4h9v24h-9zM187.9 1353.4h18v24h-18zM224 1353.4h9v24h-9zM251 1353.4h9v24h-9zM269.1 1353.4h9v24h-9zM287.1 1353.4h9v24h-9zM305.1 1353.4h27.1v24h-27.1zM341.2 1353.4h9v24h-9zM359.3 1353.4h9v24h-9zM377.3 1353.4h27.1v24h-27.1zM440.4 1353.4h9v24h-9zM458.5 1353.4h18v24h-18zM530.6 1353.4h9v24h-9zM557.7 1353.4h9v24h-9zM584.8 1353.4h9v24h-9zM142.8 1377.4h72.2v24h-72.2zM224 1377.4h18v24h-18zM251 1377.4h9v24h-9zM296.1 1377.4h9v24h-9zM314.2 1377.4h45.1v24h-45.1zM368.3 1377.4h9v24h-9zM386.3 1377.4h18v24h-18zM530.6 1377.4h9v24h-9zM548.7 1377.4h9v24h-9zM566.7 1377.4h45.1v24h-45.1zM124.7 1401.4h9v24h-9zM142.8 1401.4h63.1v24h-63.1zM224 1401.4h18v24h-18zM251 1401.4h9v24h-9zM278.1 1401.4h9v24h-9zM296.1 1401.4h9v24h-9zM314.2 1401.4h18v24h-18zM341.2 1401.4h18v24h-18zM368.3 1401.4h9v24h-9zM386.3 1401.4h9v24h-9zM530.6 1401.4h9v24h-9zM548.7 1401.4h9v24h-9zM566.7 1401.4h36.1v24h-36.1zM115.7 1434h27.1v24h-27.1zM151.8 1434h18v24h-18zM178.9 1434h36.1v24h-36.1zM233 1434h36.1v24h-36.1zM305.1 1434h27.1v24h-27.1zM359.3 1434h45.1v24h-45.1zM440.4 1434h9v24h-9zM521.6 1434h36.1v24h-36.1zM611.8 1434h9v24h-9zM115.7 1458h54.1v24h-54.1zM187.9 1458h18v24h-18zM214.9 1458h18v24h-18zM251 1458h9v24h-9zM269.1 1458h9v24h-9zM296.1 1458h36.1v24h-36.1zM341.2 1458h45.1v24h-45.1zM395.3 1458h9v24h-9zM521.6 1458h27.1v24h-27.1zM557.7 1458h9v24h-9zM593.8 1458h27.1v24h-27.1zM106.7 1482h18v24h-18zM214.9 1482h9v24h-9zM269.1 1482h9v24h-9zM305.1 1482h45.1v24h-45.1zM359.3 1482h18v24h-18zM440.4 1482h9v24h-9zM458.5 1482h9v24h-9zM485.5 1482h9v24h-9zM602.8 1482h9v24h-9zM124.7 1506h9v24h-9zM142.8 1506h9v24h-9zM332.2 1506h9v24h-9zM359.3 1506h9v24h-9zM386.3 1506h27.1v24h-27.1zM431.4 1506h45.1v24h-45.1zM512.6 1506h9v24h-9zM575.7 1506h18v24h-18zM151.8 1538.4h9v24h-9zM187.9 1538.4h9v24h-9zM214.9 1538.4h18v24h-18zM242 1538.4h9v24h-9zM278.1 1538.4h18v24h-18zM305.1 1538.4h9v24h-9zM323.2 1538.4h54.1v24h-54.1zM386.3 1538.4h18v24h-18zM449.5 1538.4h18v24h-18zM539.7 1538.4h9v24h-9zM584.8 1538.4h18v24h-18zM151.8 1562.4h9v24h-9zM169.8 1562.4h9v24h-9zM187.9 1562.4h9v24h-9zM214.9 1562.4h9v24h-9zM323.2 1562.4h9v24h-9zM350.2 1562.4h9v24h-9zM368.3 1562.4h9v24h-9zM386.3 1562.4h18v24h-18zM449.5 1562.4h9v24h-9zM485.5 1562.4h9v24h-9zM503.6 1562.4h18v24h-18zM124.7 1586.5h9v24h-9zM142.8 1586.5h27.1v24h-27.1zM178.9 1586.5h9v24h-9zM196.9 1586.5h18v24h-18zM224 1586.5h9v24h-9zM242 1586.5h18v24h-18zM323.2 1586.5h18v24h-18zM359.3 1586.5h9v24h-9zM503.6 1586.5h18v24h-18zM548.7 1586.5h9v24h-9zM151.8 1610.5h9v24h-9zM233 1610.5h27.1v24h-27.1zM269.1 1610.5h9v24h-9zM287.1 1610.5h9v24h-9zM305.1 1610.5h36.1v24h-36.1zM359.3 1610.5h18v24h-18zM449.5 1610.5h9v24h-9zM485.5 1610.5h9v24h-9zM593.8 1610.5h18v24h-18zM106.7 1634.5h18v24h-18zM133.8 1634.5h9v24h-9zM151.8 1634.5h27.1v24h-27.1zM187.9 1634.5h9v24h-9zM224 1634.5h18v24h-18zM251 1634.5h9v24h-9zM269.1 1634.5h18v24h-18zM296.1 1634.5h9v24h-9zM314.2 1634.5h18v24h-18zM350.2 1634.5h54.1v24h-54.1zM593.8 1634.5h9v24h-9zM106.7 1658.6h45.1v24h-45.1zM160.8 1658.6h9v24h-9zM178.9 1658.6h18v24h-18zM205.9 1658.6h36.1v24h-36.1zM251 1658.6h18v24h-18zM278.1 1658.6h9v24h-9zM314.2 1658.6h9v24h-9zM359.3 1658.6h18v24h-18zM395.3 1658.6h9v24h-9zM440.4 1658.6h9v24h-9zM106.7 1682.6h18v24h-18zM133.8 1682.6h9v24h-9zM151.8 1682.6h18v24h-18zM178.9 1682.6h18v24h-18zM205.9 1682.6h18v24h-18zM233 1682.6h9v24h-9zM269.1 1682.6h27.1v24h-27.1zM305.1 1682.6h18v24h-18zM359.3 1682.6h18v24h-18zM413.4 1682.6h9v24h-9zM440.4 1682.6h9v24h-9zM539.7 1682.6h9v24h-9zM593.8 1682.6h9v24h-9zM611.8 1682.6h9v24h-9zM124.7 1706.6h9v24h-9zM142.8 1706.6h27.1v24h-27.1zM178.9 1706.6h9v24h-9zM196.9 1706.6h9v24h-9zM224 1706.6h45.1v24h-45.1zM296.1 1706.6h9v24h-9zM314.2 1706.6h9v24h-9zM359.3 1706.6h27.1v24h-27.1zM440.4 1706.6h9v24h-9zM521.6 1706.6h9v24h-9zM539.7 1706.6h9v24h-9zM584.8 1706.6h9v24h-9zM160.8 1730.6h18v24h-18zM196.9 1730.6h9v24h-9zM242 1730.6h18v24h-18zM296.1 1730.6h27.1v24h-27.1zM332.2 1730.6h9v24h-9zM350.2 1730.6h9v24h-9zM368.3 1730.6h36.1v24h-36.1zM449.5 1730.6h9v24h-9zM485.5 1730.6h36.1v24h-36.1zM530.6 1730.6h54.1v24h-54.1zM593.8 1730.6h18v24h-18zM151.8 1754.7h9v24h-9zM205.9 1754.7h18v24h-18zM269.1 1754.7h9v24h-9zM287.1 1754.7h9v24h-9zM305.1 1754.7h18v24h-18zM332.2 1754.7h18v24h-18zM359.3 1754.7h27.1v24h-27.1zM395.3 1754.7h9v24h-9zM521.6 1754.7h9v24h-9zM548.7 1754.7h45.1v24h-45.1zM602.8 1754.7h9v24h-9zM106.7 1785.7h9v24.1h-9zM142.8 1785.7h9v24.1h-9zM160.8 1785.7h9v24.1h-9zM214.9 1785.7h18v24.1h-18zM242 1785.7h18v24.1h-18zM278.1 1785.7h18v24.1h-18zM314.2 1785.7h9v24.1h-9zM332.2 1785.7h45.1v24.1h-45.1zM458.5 1785.7h9v24.1h-9zM503.6 1785.7h9v24.1h-9zM521.6 1785.7h36.1v24.1h-36.1zM575.7 1785.7h9v24.1h-9zM611.8 1785.7h9v24.1h-9zM151.8 1809.9h18v24.1h-18zM224 1809.9h9v24.1h-9zM242 1809.9h18v24.1h-18zM314.2 1809.9h9v24.1h-9zM332.2 1809.9h9v24.1h-9zM359.3 1809.9h18v24.1h-18zM386.3 1809.9h9v24.1h-9zM458.5 1809.9h9v24.1h-9zM503.6 1809.9h9v24.1h-9zM530.6 1809.9h18v24.1h-18zM557.7 1809.9h63.1v24.1h-63.1zM763.7 1185.4h18v24h-18zM790.8 1185.4h9v24h-9zM853.9 1185.4h18v24h-18zM917 1185.4h9v24h-9zM953.1 1185.4h18v24h-18zM980.2 1185.4h9v24h-9zM853.9 1209.4h27.1v24h-27.1zM890 1209.4h9v24h-9zM917 1209.4h18v24h-18zM890 1233.4h9v24h-9zM1016.3 1233.4h9v24h-9zM646.4 1257.4h9v24h-9zM718.6 1257.4h9v24h-9zM781.7 1257.4h9v24h-9zM881 1257.4h27.1v24h-27.1zM989.2 1257.4h18v24h-18zM1034.3 1257.4h18v24h-18zM718.6 1281.4h9v24h-9zM844.9 1281.4h9v24h-9zM862.9 1281.4h18v24h-18zM899 1281.4h9v24h-9zM917 1281.4h9v24h-9zM998.2 1281.4h9v24h-9zM718.6 1305.4h18v24h-18zM853.9 1305.4h9v24h-9zM871.9 1305.4h45.1v24h-45.1zM718.6 1329.4h18v24h-18zM844.9 1329.4h9v24h-9zM871.9 1329.4h9v24h-9zM908 1329.4h18v24h-18zM935.1 1329.4h9v24h-9zM980.2 1329.4h9v24h-9zM998.2 1329.4h9v24h-9zM1016.3 1329.4h9v24h-9zM691.5 1353.4h9v24h-9zM754.7 1353.4h9v24h-9zM899 1353.4h18v24h-18zM637.4 1377.4h9v24h-9zM664.5 1377.4h9v24h-9zM718.6 1377.4h18v24h-18zM745.7 1377.4h18v24h-18zM781.7 1377.4h9v24h-9zM962.1 1377.4h9v24h-9zM989.2 1377.4h18v24h-18zM1016.3 1377.4h9v24h-9zM718.6 1401.4h18v24h-18zM989.2 1401.4h18v24h-18zM772.7 1434h27.1v24h-27.1zM890 1434h9v24h-9zM962.1 1434h9v24h-9zM989.2 1434h9v24h-9zM691.5 1458h9v24h-9zM736.6 1458h9v24h-9zM763.7 1458h9v24h-9zM781.7 1458h9v24h-9zM844.9 1458h9v24h-9zM763.7 1482h27.1v24h-27.1zM799.8 1482h18v24h-18zM826.8 1482h9v24h-9zM862.9 1482h18v24h-18zM944.1 1482h27.1v24h-27.1zM1025.3 1482h9v24h-9zM682.5 1506h18v24h-18zM709.6 1506h9v24h-9zM727.6 1506h9v24h-9zM745.7 1506h9v24h-9zM799.8 1506h18v24h-18zM862.9 1506h9v24h-9zM944.1 1506h9v24h-9zM971.2 1506h18v24h-18zM862.9 1538.4h18v24h-18zM890 1538.4h27.1v24h-27.1zM1016.3 1538.4h9v24h-9zM664.5 1562.4h9v24h-9zM727.6 1562.4h9v24h-9zM844.9 1562.4h27.1v24h-27.1zM881 1562.4h9v24h-9zM944.1 1562.4h18v24h-18zM998.2 1562.4h9v24h-9zM691.5 1586.5h9v24h-9zM799.8 1586.5h9v24h-9zM844.9 1586.5h9v24h-9zM628.4 1610.5h9v24h-9zM763.7 1610.5h9v24h-9zM781.7 1610.5h9v24h-9zM799.8 1610.5h18v24h-18zM871.9 1610.5h9v24h-9zM890 1610.5h9v24h-9zM962.1 1610.5h9v24h-9zM989.2 1610.5h9v24h-9zM1007.2 1610.5h9v24h-9zM772.7 1634.5h27.1v24h-27.1zM808.8 1634.5h9v24h-9zM935.1 1634.5h9v24h-9zM962.1 1634.5h9v24h-9zM772.7 1658.6h27.1v24h-27.1zM808.8 1658.6h9v24h-9zM944.1 1658.6h9v24h-9zM962.1 1658.6h9v24h-9zM772.7 1682.6h45.1v24h-45.1zM844.9 1682.6h9v24h-9zM890 1682.6h9v24h-9zM935.1 1682.6h18v24h-18zM962.1 1682.6h9v24h-9zM736.6 1706.6h9v24h-9zM917 1706.6h27.1v24h-27.1zM962.1 1706.6h9v24h-9zM989.2 1706.6h9v24h-9zM1007.2 1706.6h9v24h-9zM637.4 1730.6h18v24h-18zM664.5 1730.6h18v24h-18zM718.6 1730.6h45.1v24h-45.1zM781.7 1730.6h18v24h-18zM862.9 1730.6h9v24h-9zM989.2 1730.6h18v24h-18zM1016.3 1730.6h9v24h-9zM1034.3 1730.6h18v24h-18zM646.4 1754.7h27.1v24h-27.1zM700.6 1754.7h9v24h-9zM718.6 1754.7h9v24h-9zM736.6 1754.7h63.1v24h-63.1zM808.8 1754.7h18v24h-18zM871.9 1754.7h9v24h-9zM989.2 1754.7h9v24h-9zM1043.3 1754.7h9v24h-9zM664.5 1785.7h18v24.1h-18zM691.5 1785.7h9v24.1h-9zM736.6 1785.7h36.1v24.1h-36.1zM853.9 1785.7h9v24.1h-9zM890 1785.7h9v24.1h-9zM989.2 1785.7h9v24.1h-9zM637.4 1809.9h45.1v24.1h-45.1zM691.5 1809.9h9v24.1h-9zM718.6 1809.9h9v24.1h-9zM736.6 1809.9h27.1v24.1h-27.1zM862.9 1809.9h18v24.1h-18zM998.2 1809.9h9v24.1h-9zM1114.4 1185.4h9v24h-9zM1339.2 1185.4h9v24h-9zM1393.1 1185.4h9v24h-9zM1114.4 1209.4h9v24h-9zM1141.4 1209.4h18v24h-18zM1114.4 1233.4h9v24h-9zM1141.4 1233.4h9v24h-9zM1141.4 1281.4h9v24h-9zM1159.4 1281.4h9v24h-9zM1339.2 1281.4h18v24h-18zM1114.4 1305.4h9v24h-9zM1132.4 1305.4h18v24h-18zM1159.4 1305.4h9v24h-9zM1348.2 1305.4h9v24h-9zM1150.4 1329.4h18v24h-18zM1285.2 1353.4h9v24h-9zM1294.2 1401.4h9v24h-9zM1177.4 1434h9v24h-9zM1240.3 1434h9v24h-9zM1222.3 1482h18v24h-18zM1267.3 1506h9v24h-9zM1303.2 1506h9v24h-9zM1357.2 1506h9v24h-9zM1402.1 1506h9v24h-9zM1141.4 1562.4h9v24h-9zM1402.1 1610.5h9v24h-9zM1177.4 1706.6h9v24h-9zM1204.3 1706.6h9v24h-9zM1249.3 1706.6h9v24h-9zM1123.4 1785.7h9v24.1h-9zM1177.4 1785.7h9v24.1h-9z"/>
<path fill="#B2182B" d="M404.4 1185.4h9v24h-9zM404.4 1209.4h18v24h-18zM566.7 1209.4h9v24h-9zM404.4 1233.4h18v24h-18zM476.5 1257.4h9v24h-9zM413.4 1281.4h9v24h-9zM413.4 1305.4h9v24h-9zM413.4 1329.4h9v24h-9zM422.4 1458h9v24h-9zM404.4 1482h9v24h-9zM476.5 1482h9v24h-9zM260 1506h9v24h-9zM413.4 1538.4h9v24h-9zM557.7 1538.4h9v24h-9zM422.4 1562.4h9v24h-9zM584.8 1562.4h9v24h-9zM413.4 1586.5h9v24h-9zM413.4 1610.5h9v24h-9zM476.5 1610.5h9v24h-9zM404.4 1658.6h9v24h-9zM404.4 1682.6h9v24h-9zM404.4 1754.7h9v24h-9zM422.4 1754.7h9v24h-9zM260 1809.9h9v24.1h-9zM422.4 1809.9h18v24.1h-18zM844.9 1185.4h9v24h-9zM628.4 1730.6h9v24h-9z"/>
<path fill="#D6604D" d="M413.4 1185.4h9v24h-9zM431.4 1185.4h9v24h-9zM530.6 1185.4h18v24h-18zM557.7 1185.4h9v24h-9zM584.8 1185.4h9v24h-9zM422.4 1209.4h18v24h-18zM539.7 1209.4h9v24h-9zM593.8 1209.4h9v24h-9zM422.4 1233.4h18v24h-18zM485.5 1233.4h18v24h-18zM593.8 1233.4h9v24h-9zM233 1257.4h9v24h-9zM269.1 1257.4h9v24h-9zM413.4 1257.4h9v24h-9zM485.5 1257.4h9v24h-9zM512.6 1257.4h9v24h-9zM431.4 1281.4h9v24h-9zM611.8 1281.4h9v24h-9zM404.4 1305.4h9v24h-9zM422.4 1305.4h18v24h-18zM593.8 1305.4h9v24h-9zM611.8 1305.4h9v24h-9zM404.4 1329.4h9v24h-9zM422.4 1329.4h18v24h-18zM602.8 1329.4h18v24h-18zM233 1353.4h9v24h-9zM413.4 1353.4h27.1v24h-27.1zM485.5 1353.4h18v24h-18zM593.8 1353.4h9v24h-9zM413.4 1377.4h27.1v24h-27.1zM449.5 1377.4h9v24h-9zM494.6 1377.4h9v24h-9zM512.6 1377.4h9v24h-9zM611.8 1377.4h9v24h-9zM413.4 1401.4h27.1v24h-27.1zM485.5 1401.4h18v24h-18zM602.8 1401.4h18v24h-18zM404.4 1434h27.1v24h-27.1zM485.5 1434h36.1v24h-36.1zM260 1458h9v24h-9zM404.4 1458h18v24h-18zM431.4 1458h9v24h-9zM449.5 1458h9v24h-9zM485.5 1458h18v24h-18zM512.6 1458h9v24h-9zM296.1 1482h9v24h-9zM413.4 1482h9v24h-9zM512.6 1482h9v24h-9zM539.7 1482h9v24h-9zM233 1506h9v24h-9zM494.6 1506h9v24h-9zM431.4 1538.4h9v24h-9zM548.7 1538.4h9v24h-9zM611.8 1538.4h9v24h-9zM287.1 1562.4h9v24h-9zM413.4 1562.4h9v24h-9zM431.4 1562.4h9v24h-9zM467.5 1562.4h9v24h-9zM521.6 1562.4h9v24h-9zM539.7 1562.4h9v24h-9zM575.7 1562.4h9v24h-9zM593.8 1562.4h9v24h-9zM106.7 1586.5h9v24h-9zM341.2 1586.5h9v24h-9zM404.4 1586.5h9v24h-9zM422.4 1586.5h27.1v24h-27.1zM530.6 1586.5h9v24h-9zM575.7 1586.5h27.1v24h-27.1zM296.1 1610.5h9v24h-9zM431.4 1610.5h9v24h-9zM512.6 1610.5h27.1v24h-27.1zM557.7 1610.5h9v24h-9zM404.4 1634.5h36.1v24h-36.1zM449.5 1634.5h9v24h-9zM476.5 1634.5h27.1v24h-27.1zM341.2 1658.6h18v24h-18zM431.4 1658.6h9v24h-9zM485.5 1658.6h36.1v24h-36.1zM566.7 1658.6h9v24h-9zM350.2 1682.6h9v24h-9zM422.4 1682.6h18v24h-18zM476.5 1682.6h9v24h-9zM512.6 1682.6h9v24h-9zM413.4 1706.6h18v24h-18zM449.5 1706.6h9v24h-9zM467.5 1706.6h9v24h-9zM494.6 1706.6h18v24h-18zM566.7 1706.6h9v24h-9zM602.8 1706.6h9v24h-9zM260 1730.6h9v24h-9zM278.1 1730.6h9v24h-9zM404.4 1730.6h36.1v24h-36.1zM476.5 1730.6h9v24h-9zM413.4 1754.7h9v24h-9zM431.4 1754.7h18v24h-18zM476.5 1754.7h9v24h-9zM512.6 1754.7h9v24h-9zM260 1785.7h9v24.1h-9zM413.4 1785.7h27.1v24.1h-27.1zM476.5 1785.7h9v24.1h-9zM287.1 1809.9h18v24.1h-18zM404.4 1809.9h9v24.1h-9zM440.4 1809.9h9v24.1h-9zM476.5 1809.9h9v24.1h-9zM548.7 1809.9h9v24.1h-9zM844.9 1209.4h9v24h-9zM718.6 1506h9v24h-9zM754.7 1506h36.1v24h-36.1zM844.9 1538.4h9v24h-9zM763.7 1809.9h9v24.1h-9zM1339.2 1257.4h9v24h-9zM1114.4 1329.4h9v24h-9z"/>
<path fill="#67001F" d="M566.7 1185.4h9v24h-9zM404.4 1538.4h9v24h-9zM404.4 1562.4h9v24h-9zM404.4 1610.5h9v24h-9z"/>
<path fill="#92C5DE" d="M106.7 1506h9v24h-9zM305.1 1506h9v24h-9zM539.7 1506h9v24h-9zM593.8 1506h9v24h-9zM278.1 1562.4h9v24h-9zM124.7 1730.6h18v24h-18zM106.7 1754.7h9v24h-9zM628.4 1185.4h27.1v24h-27.1zM727.6 1185.4h9v24h-9zM817.8 1185.4h9v24h-9zM637.4 1209.4h9v24h-9zM673.5 1209.4h9v24h-9zM754.7 1209.4h9v24h-9zM637.4 1233.4h27.1v24h-27.1zM826.8 1233.4h9v24h-9zM691.5 1257.4h9v24h-9zM808.8 1257.4h9v24h-9zM826.8 1257.4h9v24h-9zM853.9 1257.4h9v24h-9zM655.5 1281.4h9v24h-9zM763.7 1281.4h9v24h-9zM799.8 1281.4h18v24h-18zM826.8 1281.4h9v24h-9zM655.5 1305.4h9v24h-9zM673.5 1305.4h9v24h-9zM799.8 1305.4h9v24h-9zM944.1 1305.4h9v24h-9zM763.7 1329.4h9v24h-9zM790.8 1329.4h18v24h-18zM826.8 1329.4h18v24h-18zM655.5 1353.4h9v24h-9zM763.7 1353.4h9v24h-9zM808.8 1353.4h9v24h-9zM944.1 1353.4h9v24h-9zM844.9 1377.4h9v24h-9zM871.9 1377.4h9v24h-9zM935.1 1377.4h9v24h-9zM844.9 1401.4h9v24h-9zM871.9 1401.4h9v24h-9zM944.1 1401.4h9v24h-9zM655.5 1434h18v24h-18zM718.6 1434h9v24h-9zM763.7 1434h9v24h-9zM871.9 1434h9v24h-9zM691.5 1482h9v24h-9zM718.6 1482h18v24h-18zM754.7 1482h9v24h-9zM881 1482h9v24h-9zM881 1506h18v24h-18zM917 1506h9v24h-9zM953.1 1506h9v24h-9zM673.5 1538.4h9v24h-9zM718.6 1538.4h9v24h-9zM745.7 1538.4h18v24h-18zM673.5 1562.4h18v24h-18zM700.6 1562.4h9v24h-9zM718.6 1562.4h9v24h-9zM754.7 1562.4h9v24h-9zM817.8 1562.4h9v24h-9zM646.4 1586.5h18v24h-18zM718.6 1586.5h9v24h-9zM682.5 1610.5h9v24h-9zM646.4 1634.5h9v24h-9zM718.6 1634.5h9v24h-9zM646.4 1658.6h9v24h-9zM718.6 1658.6h9v24h-9zM862.9 1658.6h9v24h-9zM718.6 1682.6h9v24h-9zM628.4 1706.6h45.1v24h-45.1zM853.9 1706.6h18v24h-18zM881 1706.6h9v24h-9zM881 1730.6h9v24h-9zM853.9 1754.7h9v24h-9zM899 1754.7h9v24h-9zM917 1754.7h9v24h-9zM881 1809.9h9v24.1h-9zM1060.5 1185.4h18v24h-18zM1123.4 1185.4h9v24h-9zM1168.4 1185.4h9v24h-9zM1231.3 1185.4h9v24h-9zM1267.3 1185.4h45v24h-45zM1330.2 1185.4h9v24h-9zM1366.2 1185.4h18v24h-18zM1411.1 1185.4h45v24h-45zM1087.5 1209.4h9v24h-9zM1267.3 1209.4h9v24h-9zM1285.2 1209.4h9v24h-9zM1303.2 1209.4h36v24h-36zM1366.2 1209.4h18v24h-18zM1420.1 1209.4h45v24h-45zM1078.5 1233.4h18v24h-18zM1222.3 1233.4h18v24h-18zM1249.3 1233.4h36v24h-36zM1312.2 1233.4h9v24h-9zM1330.2 1233.4h9v24h-9zM1384.1 1233.4h53.9v24h-53.9zM1456.1 1233.4h9v24h-9zM1060.5 1257.4h18v24h-18zM1087.5 1257.4h9v24h-9zM1105.5 1257.4h18v24h-18zM1177.4 1257.4h18v24h-18zM1204.3 1257.4h9v24h-9zM1222.3 1257.4h9v24h-9zM1258.3 1257.4h36v24h-36zM1420.1 1257.4h18v24h-18zM1456.1 1257.4h9v24h-9zM1069.5 1281.4h9v24h-9zM1240.3 1281.4h45v24h-45zM1330.2 1281.4h9v24h-9zM1384.1 1281.4h36v24h-36zM1438.1 1281.4h27v24h-27zM1222.3 1305.4h9v24h-9zM1240.3 1305.4h9v24h-9zM1267.3 1305.4h18v24h-18zM1330.2 1305.4h9v24h-9zM1384.1 1305.4h9v24h-9zM1411.1 1305.4h9v24h-9zM1438.1 1305.4h9v24h-9zM1456.1 1305.4h9v24h-9zM1087.5 1329.4h9v24h-9zM1231.3 1329.4h9v24h-9zM1384.1 1329.4h9v24h-9zM1402.1 1329.4h27v24h-27zM1447.1 1329.4h18v24h-18zM1096.5 1353.4h9v24h-9zM1150.4 1353.4h18v24h-18zM1222.3 1353.4h18v24h-18zM1258.3 1353.4h9v24h-9zM1312.2 1353.4h9v24h-9zM1366.2 1353.4h9v24h-9zM1402.1 1353.4h9v24h-9zM1438.1 1353.4h27v24h-27zM1078.5 1377.4h9v24h-9zM1123.4 1377.4h9v24h-9zM1150.4 1377.4h9v24h-9zM1186.4 1377.4h18v24h-18zM1231.3 1377.4h18v24h-18zM1258.3 1377.4h9v24h-9zM1348.2 1377.4h9v24h-9zM1366.2 1377.4h9v24h-9zM1411.1 1377.4h18v24h-18zM1087.5 1401.4h9v24h-9zM1141.4 1401.4h18v24h-18zM1168.4 1401.4h9v24h-9zM1222.3 1401.4h27v24h-27zM1258.3 1401.4h9v24h-9zM1348.2 1401.4h9v24h-9zM1366.2 1401.4h18v24h-18zM1402.1 1401.4h27v24h-27zM1456.1 1401.4h9v24h-9zM1060.5 1434h9v24h-9zM1078.5 1434h9v24h-9zM1123.4 1434h18v24h-18zM1150.4 1434h18v24h-18zM1276.3 1434h9v24h-9zM1294.2 1434h9v24h-9zM1312.2 1434h27v24h-27zM1348.2 1434h9v24h-9zM1375.2 1434h9v24h-9zM1393.1 1434h9v24h-9zM1420.1 1434h9v24h-9zM1438.1 1434h9v24h-9zM1456.1 1434h9v24h-9zM1078.5 1458h27v24h-27zM1114.4 1458h9v24h-9zM1132.4 1458h27v24h-27zM1168.4 1458h9v24h-9zM1222.3 1458h9v24h-9zM1240.3 1458h45v24h-45zM1312.2 1458h9v24h-9zM1330.2 1458h9v24h-9zM1357.2 1458h9v24h-9zM1393.1 1458h9v24h-9zM1411.1 1458h27v24h-27zM1447.1 1458h18v24h-18zM1096.5 1482h9v24h-9zM1123.4 1482h9v24h-9zM1141.4 1482h9v24h-9zM1168.4 1482h9v24h-9zM1186.4 1482h9v24h-9zM1204.3 1482h9v24h-9zM1321.2 1482h9v24h-9zM1339.2 1482h9v24h-9zM1357.2 1482h9v24h-9zM1384.1 1482h9v24h-9zM1411.1 1482h9v24h-9zM1105.5 1506h9v24h-9zM1123.4 1506h18v24h-18zM1150.4 1506h18v24h-18zM1186.4 1506h9v24h-9zM1258.3 1506h9v24h-9zM1366.2 1506h9v24h-9zM1411.1 1506h18v24h-18zM1447.1 1506h9v24h-9zM1060.5 1538.4h9v24h-9zM1078.5 1538.4h9v24h-9zM1105.5 1538.4h9v24h-9zM1123.4 1538.4h18v24h-18zM1150.4 1538.4h27v24h-27zM1186.4 1538.4h9v24h-9zM1213.3 1538.4h9v24h-9zM1258.3 1538.4h9v24h-9zM1276.3 1538.4h9v24h-9zM1294.2 1538.4h9v24h-9zM1312.2 1538.4h27v24h-27zM1348.2 1538.4h36v24h-36zM1411.1 1538.4h9v24h-9zM1429.1 1538.4h36v24h-36zM1060.5 1562.4h9v24h-9zM1087.5 1562.4h18v24h-18zM1204.3 1562.4h9v24h-9zM1222.3 1562.4h9v24h-9zM1276.3 1562.4h18v24h-18zM1303.2 1562.4h9v24h-9zM1330.2 1562.4h9v24h-9zM1348.2 1562.4h9v24h-9zM1384.1 1562.4h9v24h-9zM1402.1 1562.4h18v24h-18zM1438.1 1562.4h9v24h-9zM1060.5 1586.5h27v24h-27zM1096.5 1586.5h9v24h-9zM1123.4 1586.5h9v24h-9zM1141.4 1586.5h27v24h-27zM1303.2 1586.5h80.9v24h-80.9zM1393.1 1586.5h9v24h-9zM1411.1 1586.5h36v24h-36zM1456.1 1586.5h9v24h-9zM1069.5 1610.5h27v24h-27zM1105.5 1610.5h9v24h-9zM1132.4 1610.5h9v24h-9zM1150.4 1610.5h18v24h-18zM1177.4 1610.5h45v24h-45zM1249.3 1610.5h18v24h-18zM1276.3 1610.5h27v24h-27zM1321.2 1610.5h18v24h-18zM1348.2 1610.5h9v24h-9zM1366.2 1610.5h27v24h-27zM1420.1 1610.5h27v24h-27zM1456.1 1610.5h9v24h-9zM1060.5 1634.5h9v24h-9zM1096.5 1634.5h27v24h-27zM1141.4 1634.5h9v24h-9zM1159.4 1634.5h9v24h-9zM1213.3 1634.5h9v24h-9zM1276.3 1634.5h18v24h-18zM1303.2 1634.5h45v24h-45zM1357.2 1634.5h9v24h-9zM1393.1 1634.5h9v24h-9zM1429.1 1634.5h36v24h-36zM1060.5 1658.6h27v24h-27zM1123.4 1658.6h9v24h-9zM1141.4 1658.6h27v24h-27zM1186.4 1658.6h9v24h-9zM1258.3 1658.6h9v24h-9zM1285.2 1658.6h53.9v24h-53.9zM1348.2 1658.6h9v24h-9zM1375.2 1658.6h9v24h-9zM1393.1 1658.6h18v24h-18zM1420.1 1658.6h45v24h-45zM1060.5 1682.6h36v24h-36zM1123.4 1682.6h9v24h-9zM1141.4 1682.6h27v24h-27zM1186.4 1682.6h9v24h-9zM1204.3 1682.6h18v24h-18zM1258.3 1682.6h9v24h-9zM1285.2 1682.6h9v24h-9zM1303.2 1682.6h36v24h-36zM1348.2 1682.6h27v24h-27zM1393.1 1682.6h9v24h-9zM1411.1 1682.6h9v24h-9zM1429.1 1682.6h36v24h-36zM1060.5 1706.6h9v24h-9zM1123.4 1706.6h36v24h-36zM1321.2 1706.6h18v24h-18zM1357.2 1706.6h9v24h-9zM1384.1 1706.6h27v24h-27zM1420.1 1706.6h18v24h-18zM1447.1 1706.6h18v24h-18zM1078.5 1730.6h9v24h-9zM1105.5 1730.6h9v24h-9zM1150.4 1730.6h9v24h-9zM1177.4 1730.6h27v24h-27zM1213.3 1730.6h18v24h-18zM1240.3 1730.6h27v24h-27zM1276.3 1730.6h45v24h-45zM1339.2 1730.6h27v24h-27zM1411.1 1730.6h9v24h-9zM1456.1 1730.6h9v24h-9zM1060.5 1754.7h9v24h-9zM1078.5 1754.7h27v24h-27zM1114.4 1754.7h9v24h-9zM1168.4 1754.7h18v24h-18zM1204.3 1754.7h9v24h-9zM1231.3 1754.7h36v24h-36zM1276.3 1754.7h27v24h-27zM1312.2 1754.7h9v24h-9zM1330.2 1754.7h9v24h-9zM1375.2 1754.7h62.9v24h-62.9zM1447.1 1754.7h18v24h-18zM1096.5 1785.7h9v24.1h-9zM1114.4 1785.7h9v24.1h-9zM1150.4 1785.7h18v24.1h-18zM1222.3 1785.7h9v24.1h-9zM1240.3 1785.7h45v24.1h-45zM1294.2 1785.7h9v24.1h-9zM1312.2 1785.7h9v24.1h-9zM1330.2 1785.7h18v24.1h-18zM1357.2 1785.7h18v24.1h-18zM1384.1 1785.7h9v24.1h-9zM1402.1 1785.7h9v24.1h-9zM1420.1 1785.7h9v24.1h-9zM1060.5 1809.9h9v24.1h-9zM1078.5 1809.9h27v24.1h-27zM1141.4 1809.9h18v24.1h-18zM1168.4 1809.9h36v24.1h-36zM1231.3 1809.9h9v24.1h-9zM1249.3 1809.9h36v24.1h-36zM1294.2 1809.9h9v24.1h-9zM1330.2 1809.9h9v24.1h-9zM1348.2 1809.9h9v24.1h-9zM1366.2 1809.9h9v24.1h-9zM1393.1 1809.9h9v24.1h-9zM1411.1 1809.9h9v24.1h-9zM1429.1 1809.9h9v24.1h-9zM1447.1 1809.9h9v24.1h-9z"/>
<path fill="#4393C3" d="M808.8 1305.4h9v24h-9zM808.8 1329.4h9v24h-9zM853.9 1377.4h9v24h-9zM853.9 1401.4h9v24h-9zM899 1506h18v24h-18zM718.6 1706.6h9v24h-9zM1096.5 1185.4h18v24h-18zM1312.2 1185.4h9v24h-9zM1456.1 1185.4h9v24h-9zM1060.5 1209.4h27v24h-27zM1105.5 1209.4h9v24h-9zM1276.3 1209.4h9v24h-9zM1060.5 1233.4h18v24h-18zM1105.5 1233.4h9v24h-9zM1438.1 1233.4h9v24h-9zM1078.5 1257.4h9v24h-9zM1168.4 1257.4h9v24h-9zM1240.3 1257.4h18v24h-18zM1447.1 1257.4h9v24h-9zM1060.5 1281.4h9v24h-9zM1087.5 1281.4h9v24h-9zM1222.3 1281.4h9v24h-9zM1429.1 1281.4h9v24h-9zM1060.5 1305.4h45v24h-45zM1429.1 1305.4h9v24h-9zM1060.5 1329.4h18v24h-18zM1096.5 1329.4h18v24h-18zM1222.3 1329.4h9v24h-9zM1267.3 1329.4h18v24h-18zM1429.1 1329.4h9v24h-9zM1060.5 1353.4h9v24h-9zM1240.3 1353.4h9v24h-9zM1420.1 1353.4h9v24h-9zM1060.5 1377.4h18v24h-18zM1087.5 1377.4h9v24h-9zM1105.5 1377.4h18v24h-18zM1168.4 1377.4h9v24h-9zM1249.3 1377.4h9v24h-9zM1375.2 1377.4h9v24h-9zM1060.5 1401.4h27v24h-27zM1096.5 1401.4h27v24h-27zM1249.3 1401.4h9v24h-9zM1384.1 1401.4h9v24h-9zM1069.5 1434h9v24h-9zM1096.5 1434h18v24h-18zM1366.2 1434h9v24h-9zM1411.1 1434h9v24h-9zM1060.5 1458h9v24h-9zM1105.5 1458h9v24h-9zM1159.4 1458h9v24h-9zM1366.2 1458h18v24h-18zM1069.5 1482h18v24h-18zM1159.4 1482h9v24h-9zM1312.2 1482h9v24h-9zM1366.2 1482h9v24h-9zM1447.1 1482h9v24h-9zM1096.5 1506h9v24h-9zM1114.4 1506h9v24h-9zM1177.4 1506h9v24h-9zM1240.3 1506h18v24h-18zM1096.5 1538.4h9v24h-9zM1321.2 1562.4h9v24h-9zM1096.5 1610.5h9v24h-9zM1312.2 1610.5h9v24h-9zM1069.5 1634.5h9v24h-9zM1150.4 1634.5h9v24h-9zM1375.2 1634.5h9v24h-9zM1411.1 1634.5h9v24h-9zM1096.5 1658.6h18v24h-18zM1357.2 1658.6h9v24h-9zM1411.1 1658.6h9v24h-9zM1096.5 1682.6h18v24h-18zM1069.5 1706.6h18v24h-18zM1096.5 1706.6h18v24h-18zM1159.4 1706.6h9v24h-9zM1366.2 1706.6h9v24h-9zM1411.1 1706.6h9v24h-9zM1438.1 1706.6h9v24h-9zM1060.5 1730.6h18v24h-18zM1087.5 1730.6h9v24h-9zM1114.4 1730.6h9v24h-9zM1375.2 1730.6h9v24h-9zM1069.5 1754.7h9v24h-9zM1105.5 1754.7h9v24h-9zM1141.4 1754.7h18v24h-18zM1366.2 1754.7h9v24h-9zM1078.5 1785.7h9v24.1h-9zM1375.2 1785.7h9v24.1h-9zM1429.1 1785.7h9v24.1h-9zM1105.5 1809.9h18v24.1h-18zM1240.3 1809.9h9v24.1h-9zM1375.2 1809.9h9v24.1h-9z"/>
<path fill="#2166AC" d="M1096.5 1209.4h9v24h-9zM1096.5 1233.4h9v24h-9zM1078.5 1281.4h9v24h-9zM1096.5 1281.4h18v24h-18zM1078.5 1329.4h9v24h-9zM1069.5 1353.4h9v24h-9zM1411.1 1353.4h9v24h-9zM1429.1 1353.4h9v24h-9zM1096.5 1377.4h9v24h-9zM1384.1 1377.4h9v24h-9zM1069.5 1458h9v24h-9zM1348.2 1482h9v24h-9zM1141.4 1506h9v24h-9zM1096.5 1730.6h9v24h-9zM1168.4 1730.6h9v24h-9zM1159.4 1754.7h9v24h-9zM1060.5 1785.7h18v24.1h-18zM1087.5 1785.7h9v24.1h-9zM1069.5 1809.9h9v24.1h-9z"/>
<path fill="#053061" d="M1096.5 1257.4h9v24h-9zM1105.5 1305.4h9v24h-9zM1105.5 1353.4h9v24h-9z"/>
<path stroke="#8E8E8E" stroke-width="1.2" fill="none" d="M106.7 1185.4H620.8M106.7 1209.4H620.8M106.7 1233.4H620.8M106.7 1257.4H620.8M106.7 1281.4H620.8M106.7 1305.4H620.8M106.7 1329.4H620.8M106.7 1353.4H620.8M106.7 1377.4H620.8M106.7 1401.4H620.8M106.7 1425.4H620.8M106.7 1185.4V1425.4M115.7 1185.4V1425.4M124.7 1185.4V1425.4M133.8 1185.4V1425.4M142.8 1185.4V1425.4M151.8 1185.4V1425.4M160.8 1185.4V1425.4M169.8 1185.4V1425.4M178.9 1185.4V1425.4M187.9 1185.4V1425.4M196.9 1185.4V1425.4M205.9 1185.4V1425.4M214.9 1185.4V1425.4M224 1185.4V1425.4M233 1185.4V1425.4M242 1185.4V1425.4M251 1185.4V1425.4M260 1185.4V1425.4M269.1 1185.4V1425.4M278.1 1185.4V1425.4M287.1 1185.4V1425.4M296.1 1185.4V1425.4M305.1 1185.4V1425.4M314.2 1185.4V1425.4M323.2 1185.4V1425.4M332.2 1185.4V1425.4M341.2 1185.4V1425.4M350.2 1185.4V1425.4M359.3 1185.4V1425.4M368.3 1185.4V1425.4M377.3 1185.4V1425.4M386.3 1185.4V1425.4M395.3 1185.4V1425.4M404.4 1185.4V1425.4M413.4 1185.4V1425.4M422.4 1185.4V1425.4M431.4 1185.4V1425.4M440.4 1185.4V1425.4M449.5 1185.4V1425.4M458.5 1185.4V1425.4M467.5 1185.4V1425.4M476.5 1185.4V1425.4M485.5 1185.4V1425.4M494.6 1185.4V1425.4M503.6 1185.4V1425.4M512.6 1185.4V1425.4M521.6 1185.4V1425.4M530.6 1185.4V1425.4M539.7 1185.4V1425.4M548.7 1185.4V1425.4M557.7 1185.4V1425.4M566.7 1185.4V1425.4M575.7 1185.4V1425.4M584.8 1185.4V1425.4M593.8 1185.4V1425.4M602.8 1185.4V1425.4M611.8 1185.4V1425.4M620.8 1185.4V1425.4M106.7 1434H620.8M106.7 1458H620.8M106.7 1482H620.8M106.7 1506H620.8M106.7 1530H620.8M106.7 1434V1530M115.7 1434V1530M124.7 1434V1530M133.8 1434V1530M142.8 1434V1530M151.8 1434V1530M160.8 1434V1530M169.8 1434V1530M178.9 1434V1530M187.9 1434V1530M196.9 1434V1530M205.9 1434V1530M214.9 1434V1530M224 1434V1530M233 1434V1530M242 1434V1530M251 1434V1530M260 1434V1530M269.1 1434V1530M278.1 1434V1530M287.1 1434V1530M296.1 1434V1530M305.1 1434V1530M314.2 1434V1530M323.2 1434V1530M332.2 1434V1530M341.2 1434V1530M350.2 1434V1530M359.3 1434V1530M368.3 1434V1530M377.3 1434V1530M386.3 1434V1530M395.3 1434V1530M404.4 1434V1530M413.4 1434V1530M422.4 1434V1530M431.4 1434V1530M440.4 1434V1530M449.5 1434V1530M458.5 1434V1530M467.5 1434V1530M476.5 1434V1530M485.5 1434V1530M494.6 1434V1530M503.6 1434V1530M512.6 1434V1530M521.6 1434V1530M530.6 1434V1530M539.7 1434V1530M548.7 1434V1530M557.7 1434V1530M566.7 1434V1530M575.7 1434V1530M584.8 1434V1530M593.8 1434V1530M602.8 1434V1530M611.8 1434V1530M620.8 1434V1530M106.7 1538.4H620.8M106.7 1562.4H620.8M106.7 1586.5H620.8M106.7 1610.5H620.8M106.7 1634.5H620.8M106.7 1658.6H620.8M106.7 1682.6H620.8M106.7 1706.6H620.8M106.7 1730.6H620.8M106.7 1754.7H620.8M106.7 1778.7H620.8M106.7 1538.4V1778.7M115.7 1538.4V1778.7M124.7 1538.4V1778.7M133.8 1538.4V1778.7M142.8 1538.4V1778.7M151.8 1538.4V1778.7M160.8 1538.4V1778.7M169.8 1538.4V1778.7M178.9 1538.4V1778.7M187.9 1538.4V1778.7M196.9 1538.4V1778.7M205.9 1538.4V1778.7M214.9 1538.4V1778.7M224 1538.4V1778.7M233 1538.4V1778.7M242 1538.4V1778.7M251 1538.4V1778.7M260 1538.4V1778.7M269.1 1538.4V1778.7M278.1 1538.4V1778.7M287.1 1538.4V1778.7M296.1 1538.4V1778.7M305.1 1538.4V1778.7M314.2 1538.4V1778.7M323.2 1538.4V1778.7M332.2 1538.4V1778.7M341.2 1538.4V1778.7M350.2 1538.4V1778.7M359.3 1538.4V1778.7M368.3 1538.4V1778.7M377.3 1538.4V1778.7M386.3 1538.4V1778.7M395.3 1538.4V1778.7M404.4 1538.4V1778.7M413.4 1538.4V1778.7M422.4 1538.4V1778.7M431.4 1538.4V1778.7M440.4 1538.4V1778.7M449.5 1538.4V1778.7M458.5 1538.4V1778.7M467.5 1538.4V1778.7M476.5 1538.4V1778.7M485.5 1538.4V1778.7M494.6 1538.4V1778.7M503.6 1538.4V1778.7M512.6 1538.4V1778.7M521.6 1538.4V1778.7M530.6 1538.4V1778.7M539.7 1538.4V1778.7M548.7 1538.4V1778.7M557.7 1538.4V1778.7M566.7 1538.4V1778.7M575.7 1538.4V1778.7M584.8 1538.4V1778.7M593.8 1538.4V1778.7M602.8 1538.4V1778.7M611.8 1538.4V1778.7M620.8 1538.4V1778.7M106.7 1785.7H620.8M106.7 1809.9H620.8M106.7 1834H620.8M106.7 1785.7V1834M115.7 1785.7V1834M124.7 1785.7V1834M133.8 1785.7V1834M142.8 1785.7V1834M151.8 1785.7V1834M160.8 1785.7V1834M169.8 1785.7V1834M178.9 1785.7V1834M187.9 1785.7V1834M196.9 1785.7V1834M205.9 1785.7V1834M214.9 1785.7V1834M224 1785.7V1834M233 1785.7V1834M242 1785.7V1834M251 1785.7V1834M260 1785.7V1834M269.1 1785.7V1834M278.1 1785.7V1834M287.1 1785.7V1834M296.1 1785.7V1834M305.1 1785.7V1834M314.2 1785.7V1834M323.2 1785.7V1834M332.2 1785.7V1834M341.2 1785.7V1834M350.2 1785.7V1834M359.3 1785.7V1834M368.3 1785.7V1834M377.3 1785.7V1834M386.3 1785.7V1834M395.3 1785.7V1834M404.4 1785.7V1834M413.4 1785.7V1834M422.4 1785.7V1834M431.4 1785.7V1834M440.4 1785.7V1834M449.5 1785.7V1834M458.5 1785.7V1834M467.5 1785.7V1834M476.5 1785.7V1834M485.5 1785.7V1834M494.6 1785.7V1834M503.6 1785.7V1834M512.6 1785.7V1834M521.6 1785.7V1834M530.6 1785.7V1834M539.7 1785.7V1834M548.7 1785.7V1834M557.7 1785.7V1834M566.7 1785.7V1834M575.7 1785.7V1834M584.8 1785.7V1834M593.8 1785.7V1834M602.8 1785.7V1834M611.8 1785.7V1834M620.8 1785.7V1834M106.7 1155.4H620.8M106.7 1179.8H620.8M106.7 1155.4V1179.8M115.7 1155.4V1179.8M124.7 1155.4V1179.8M133.8 1155.4V1179.8M142.8 1155.4V1179.8M151.8 1155.4V1179.8M160.8 1155.4V1179.8M169.8 1155.4V1179.8M178.9 1155.4V1179.8M187.9 1155.4V1179.8M196.9 1155.4V1179.8M205.9 1155.4V1179.8M214.9 1155.4V1179.8M224 1155.4V1179.8M233 1155.4V1179.8M242 1155.4V1179.8M251 1155.4V1179.8M260 1155.4V1179.8M269.1 1155.4V1179.8M278.1 1155.4V1179.8M287.1 1155.4V1179.8M296.1 1155.4V1179.8M305.1 1155.4V1179.8M314.2 1155.4V1179.8M323.2 1155.4V1179.8M332.2 1155.4V1179.8M341.2 1155.4V1179.8M350.2 1155.4V1179.8M359.3 1155.4V1179.8M368.3 1155.4V1179.8M377.3 1155.4V1179.8M386.3 1155.4V1179.8M395.3 1155.4V1179.8M404.4 1155.4V1179.8M413.4 1155.4V1179.8M422.4 1155.4V1179.8M431.4 1155.4V1179.8M440.4 1155.4V1179.8M449.5 1155.4V1179.8M458.5 1155.4V1179.8M467.5 1155.4V1179.8M476.5 1155.4V1179.8M485.5 1155.4V1179.8M494.6 1155.4V1179.8M503.6 1155.4V1179.8M512.6 1155.4V1179.8M521.6 1155.4V1179.8M530.6 1155.4V1179.8M539.7 1155.4V1179.8M548.7 1155.4V1179.8M557.7 1155.4V1179.8M566.7 1155.4V1179.8M575.7 1155.4V1179.8M584.8 1155.4V1179.8M593.8 1155.4V1179.8M602.8 1155.4V1179.8M611.8 1155.4V1179.8M620.8 1155.4V1179.8M628.4 1185.4H1052.3M628.4 1209.4H1052.3M628.4 1233.4H1052.3M628.4 1257.4H1052.3M628.4 1281.4H1052.3M628.4 1305.4H1052.3M628.4 1329.4H1052.3M628.4 1353.4H1052.3M628.4 1377.4H1052.3M628.4 1401.4H1052.3M628.4 1425.4H1052.3M628.4 1185.4V1425.4M637.4 1185.4V1425.4M646.4 1185.4V1425.4M655.5 1185.4V1425.4M664.5 1185.4V1425.4M673.5 1185.4V1425.4M682.5 1185.4V1425.4M691.5 1185.4V1425.4M700.6 1185.4V1425.4M709.6 1185.4V1425.4M718.6 1185.4V1425.4M727.6 1185.4V1425.4M736.6 1185.4V1425.4M745.7 1185.4V1425.4M754.7 1185.4V1425.4M763.7 1185.4V1425.4M772.7 1185.4V1425.4M781.7 1185.4V1425.4M790.8 1185.4V1425.4M799.8 1185.4V1425.4M808.8 1185.4V1425.4M817.8 1185.4V1425.4M826.8 1185.4V1425.4M835.9 1185.4V1425.4M844.9 1185.4V1425.4M853.9 1185.4V1425.4M862.9 1185.4V1425.4M871.9 1185.4V1425.4M881 1185.4V1425.4M890 1185.4V1425.4M899 1185.4V1425.4M908 1185.4V1425.4M917 1185.4V1425.4M926.1 1185.4V1425.4M935.1 1185.4V1425.4M944.1 1185.4V1425.4M953.1 1185.4V1425.4M962.1 1185.4V1425.4M971.2 1185.4V1425.4M980.2 1185.4V1425.4M989.2 1185.4V1425.4M998.2 1185.4V1425.4M1007.2 1185.4V1425.4M1016.3 1185.4V1425.4M1025.3 1185.4V1425.4M1034.3 1185.4V1425.4M1043.3 1185.4V1425.4M1052.3 1185.4V1425.4M628.4 1434H1052.3M628.4 1458H1052.3M628.4 1482H1052.3M628.4 1506H1052.3M628.4 1530H1052.3M628.4 1434V1530M637.4 1434V1530M646.4 1434V1530M655.5 1434V1530M664.5 1434V1530M673.5 1434V1530M682.5 1434V1530M691.5 1434V1530M700.6 1434V1530M709.6 1434V1530M718.6 1434V1530M727.6 1434V1530M736.6 1434V1530M745.7 1434V1530M754.7 1434V1530M763.7 1434V1530M772.7 1434V1530M781.7 1434V1530M790.8 1434V1530M799.8 1434V1530M808.8 1434V1530M817.8 1434V1530M826.8 1434V1530M835.9 1434V1530M844.9 1434V1530M853.9 1434V1530M862.9 1434V1530M871.9 1434V1530M881 1434V1530M890 1434V1530M899 1434V1530M908 1434V1530M917 1434V1530M926.1 1434V1530M935.1 1434V1530M944.1 1434V1530M953.1 1434V1530M962.1 1434V1530M971.2 1434V1530M980.2 1434V1530M989.2 1434V1530M998.2 1434V1530M1007.2 1434V1530M1016.3 1434V1530M1025.3 1434V1530M1034.3 1434V1530M1043.3 1434V1530M1052.3 1434V1530M628.4 1538.4H1052.3M628.4 1562.4H1052.3M628.4 1586.5H1052.3M628.4 1610.5H1052.3M628.4 1634.5H1052.3M628.4 1658.6H1052.3M628.4 1682.6H1052.3M628.4 1706.6H1052.3M628.4 1730.6H1052.3M628.4 1754.7H1052.3M628.4 1778.7H1052.3M628.4 1538.4V1778.7M637.4 1538.4V1778.7M646.4 1538.4V1778.7M655.5 1538.4V1778.7M664.5 1538.4V1778.7M673.5 1538.4V1778.7M682.5 1538.4V1778.7M691.5 1538.4V1778.7M700.6 1538.4V1778.7M709.6 1538.4V1778.7M718.6 1538.4V1778.7M727.6 1538.4V1778.7M736.6 1538.4V1778.7M745.7 1538.4V1778.7M754.7 1538.4V1778.7M763.7 1538.4V1778.7M772.7 1538.4V1778.7M781.7 1538.4V1778.7M790.8 1538.4V1778.7M799.8 1538.4V1778.7M808.8 1538.4V1778.7M817.8 1538.4V1778.7M826.8 1538.4V1778.7M835.9 1538.4V1778.7M844.9 1538.4V1778.7M853.9 1538.4V1778.7M862.9 1538.4V1778.7M871.9 1538.4V1778.7M881 1538.4V1778.7M890 1538.4V1778.7M899 1538.4V1778.7M908 1538.4V1778.7M917 1538.4V1778.7M926.1 1538.4V1778.7M935.1 1538.4V1778.7M944.1 1538.4V1778.7M953.1 1538.4V1778.7M962.1 1538.4V1778.7M971.2 1538.4V1778.7M980.2 1538.4V1778.7M989.2 1538.4V1778.7M998.2 1538.4V1778.7M1007.2 1538.4V1778.7M1016.3 1538.4V1778.7M1025.3 1538.4V1778.7M1034.3 1538.4V1778.7M1043.3 1538.4V1778.7M1052.3 1538.4V1778.7M628.4 1785.7H1052.3M628.4 1809.9H1052.3M628.4 1834H1052.3M628.4 1785.7V1834M637.4 1785.7V1834M646.4 1785.7V1834M655.5 1785.7V1834M664.5 1785.7V1834M673.5 1785.7V1834M682.5 1785.7V1834M691.5 1785.7V1834M700.6 1785.7V1834M709.6 1785.7V1834M718.6 1785.7V1834M727.6 1785.7V1834M736.6 1785.7V1834M745.7 1785.7V1834M754.7 1785.7V1834M763.7 1785.7V1834M772.7 1785.7V1834M781.7 1785.7V1834M790.8 1785.7V1834M799.8 1785.7V1834M808.8 1785.7V1834M817.8 1785.7V1834M826.8 1785.7V1834M835.9 1785.7V1834M844.9 1785.7V1834M853.9 1785.7V1834M862.9 1785.7V1834M871.9 1785.7V1834M881 1785.7V1834M890 1785.7V1834M899 1785.7V1834M908 1785.7V1834M917 1785.7V1834M926.1 1785.7V1834M935.1 1785.7V1834M944.1 1785.7V1834M953.1 1785.7V1834M962.1 1785.7V1834M971.2 1785.7V1834M980.2 1785.7V1834M989.2 1785.7V1834M998.2 1785.7V1834M1007.2 1785.7V1834M1016.3 1785.7V1834M1025.3 1785.7V1834M1034.3 1785.7V1834M1043.3 1785.7V1834M1052.3 1785.7V1834M628.4 1155.4H1052.3M628.4 1179.8H1052.3M628.4 1155.4V1179.8M637.4 1155.4V1179.8M646.4 1155.4V1179.8M655.5 1155.4V1179.8M664.5 1155.4V1179.8M673.5 1155.4V1179.8M682.5 1155.4V1179.8M691.5 1155.4V1179.8M700.6 1155.4V1179.8M709.6 1155.4V1179.8M718.6 1155.4V1179.8M727.6 1155.4V1179.8M736.6 1155.4V1179.8M745.7 1155.4V1179.8M754.7 1155.4V1179.8M763.7 1155.4V1179.8M772.7 1155.4V1179.8M781.7 1155.4V1179.8M790.8 1155.4V1179.8M799.8 1155.4V1179.8M808.8 1155.4V1179.8M817.8 1155.4V1179.8M826.8 1155.4V1179.8M835.9 1155.4V1179.8M844.9 1155.4V1179.8M853.9 1155.4V1179.8M862.9 1155.4V1179.8M871.9 1155.4V1179.8M881 1155.4V1179.8M890 1155.4V1179.8M899 1155.4V1179.8M908 1155.4V1179.8M917 1155.4V1179.8M926.1 1155.4V1179.8M935.1 1155.4V1179.8M944.1 1155.4V1179.8M953.1 1155.4V1179.8M962.1 1155.4V1179.8M971.2 1155.4V1179.8M980.2 1155.4V1179.8M989.2 1155.4V1179.8M998.2 1155.4V1179.8M1007.2 1155.4V1179.8M1016.3 1155.4V1179.8M1025.3 1155.4V1179.8M1034.3 1155.4V1179.8M1043.3 1155.4V1179.8M1052.3 1155.4V1179.8M1060.5 1185.4H1465M1060.5 1209.4H1465M1060.5 1233.4H1465M1060.5 1257.4H1465M1060.5 1281.4H1465M1060.5 1305.4H1465M1060.5 1329.4H1465M1060.5 1353.4H1465M1060.5 1377.4H1465M1060.5 1401.4H1465M1060.5 1425.4H1465M1060.5 1185.4V1425.4M1069.5 1185.4V1425.4M1078.5 1185.4V1425.4M1087.5 1185.4V1425.4M1096.5 1185.4V1425.4M1105.5 1185.4V1425.4M1114.4 1185.4V1425.4M1123.4 1185.4V1425.4M1132.4 1185.4V1425.4M1141.4 1185.4V1425.4M1150.4 1185.4V1425.4M1159.4 1185.4V1425.4M1168.4 1185.4V1425.4M1177.4 1185.4V1425.4M1186.4 1185.4V1425.4M1195.3 1185.4V1425.4M1204.3 1185.4V1425.4M1213.3 1185.4V1425.4M1222.3 1185.4V1425.4M1231.3 1185.4V1425.4M1240.3 1185.4V1425.4M1249.3 1185.4V1425.4M1258.3 1185.4V1425.4M1267.3 1185.4V1425.4M1276.3 1185.4V1425.4M1285.2 1185.4V1425.4M1294.2 1185.4V1425.4M1303.2 1185.4V1425.4M1312.2 1185.4V1425.4M1321.2 1185.4V1425.4M1330.2 1185.4V1425.4M1339.2 1185.4V1425.4M1348.2 1185.4V1425.4M1357.2 1185.4V1425.4M1366.2 1185.4V1425.4M1375.2 1185.4V1425.4M1384.1 1185.4V1425.4M1393.1 1185.4V1425.4M1402.1 1185.4V1425.4M1411.1 1185.4V1425.4M1420.1 1185.4V1425.4M1429.1 1185.4V1425.4M1438.1 1185.4V1425.4M1447.1 1185.4V1425.4M1456.1 1185.4V1425.4M1465 1185.4V1425.4M1060.5 1434H1465M1060.5 1458H1465M1060.5 1482H1465M1060.5 1506H1465M1060.5 1530H1465M1060.5 1434V1530M1069.5 1434V1530M1078.5 1434V1530M1087.5 1434V1530M1096.5 1434V1530M1105.5 1434V1530M1114.4 1434V1530M1123.4 1434V1530M1132.4 1434V1530M1141.4 1434V1530M1150.4 1434V1530M1159.4 1434V1530M1168.4 1434V1530M1177.4 1434V1530M1186.4 1434V1530M1195.3 1434V1530M1204.3 1434V1530M1213.3 1434V1530M1222.3 1434V1530M1231.3 1434V1530M1240.3 1434V1530M1249.3 1434V1530M1258.3 1434V1530M1267.3 1434V1530M1276.3 1434V1530M1285.2 1434V1530M1294.2 1434V1530M1303.2 1434V1530M1312.2 1434V1530M1321.2 1434V1530M1330.2 1434V1530M1339.2 1434V1530M1348.2 1434V1530M1357.2 1434V1530M1366.2 1434V1530M1375.2 1434V1530M1384.1 1434V1530M1393.1 1434V1530M1402.1 1434V1530M1411.1 1434V1530M1420.1 1434V1530M1429.1 1434V1530M1438.1 1434V1530M1447.1 1434V1530M1456.1 1434V1530M1465 1434V1530M1060.5 1538.4H1465M1060.5 1562.4H1465M1060.5 1586.5H1465M1060.5 1610.5H1465M1060.5 1634.5H1465M1060.5 1658.6H1465M1060.5 1682.6H1465M1060.5 1706.6H1465M1060.5 1730.6H1465M1060.5 1754.7H1465M1060.5 1778.7H1465M1060.5 1538.4V1778.7M1069.5 1538.4V1778.7M1078.5 1538.4V1778.7M1087.5 1538.4V1778.7M1096.5 1538.4V1778.7M1105.5 1538.4V1778.7M1114.4 1538.4V1778.7M1123.4 1538.4V1778.7M1132.4 1538.4V1778.7M1141.4 1538.4V1778.7M1150.4 1538.4V1778.7M1159.4 1538.4V1778.7M1168.4 1538.4V1778.7M1177.4 1538.4V1778.7M1186.4 1538.4V1778.7M1195.3 1538.4V1778.7M1204.3 1538.4V1778.7M1213.3 1538.4V1778.7M1222.3 1538.4V1778.7M1231.3 1538.4V1778.7M1240.3 1538.4V1778.7M1249.3 1538.4V1778.7M1258.3 1538.4V1778.7M1267.3 1538.4V1778.7M1276.3 1538.4V1778.7M1285.2 1538.4V1778.7M1294.2 1538.4V1778.7M1303.2 1538.4V1778.7M1312.2 1538.4V1778.7M1321.2 1538.4V1778.7M1330.2 1538.4V1778.7M1339.2 1538.4V1778.7M1348.2 1538.4V1778.7M1357.2 1538.4V1778.7M1366.2 1538.4V1778.7M1375.2 1538.4V1778.7M1384.1 1538.4V1778.7M1393.1 1538.4V1778.7M1402.1 1538.4V1778.7M1411.1 1538.4V1778.7M1420.1 1538.4V1778.7M1429.1 1538.4V1778.7M1438.1 1538.4V1778.7M1447.1 1538.4V1778.7M1456.1 1538.4V1778.7M1465 1538.4V1778.7M1060.5 1785.7H1465M1060.5 1809.9H1465M1060.5 1834H1465M1060.5 1785.7V1834M1069.5 1785.7V1834M1078.5 1785.7V1834M1087.5 1785.7V1834M1096.5 1785.7V1834M1105.5 1785.7V1834M1114.4 1785.7V1834M1123.4 1785.7V1834M1132.4 1785.7V1834M1141.4 1785.7V1834M1150.4 1785.7V1834M1159.4 1785.7V1834M1168.4 1785.7V1834M1177.4 1785.7V1834M1186.4 1785.7V1834M1195.3 1785.7V1834M1204.3 1785.7V1834M1213.3 1785.7V1834M1222.3 1785.7V1834M1231.3 1785.7V1834M1240.3 1785.7V1834M1249.3 1785.7V1834M1258.3 1785.7V1834M1267.3 1785.7V1834M1276.3 1785.7V1834M1285.2 1785.7V1834M1294.2 1785.7V1834M1303.2 1785.7V1834M1312.2 1785.7V1834M1321.2 1785.7V1834M1330.2 1785.7V1834M1339.2 1785.7V1834M1348.2 1785.7V1834M1357.2 1785.7V1834M1366.2 1785.7V1834M1375.2 1785.7V1834M1384.1 1785.7V1834M1393.1 1785.7V1834M1402.1 1785.7V1834M1411.1 1785.7V1834M1420.1 1785.7V1834M1429.1 1785.7V1834M1438.1 1785.7V1834M1447.1 1785.7V1834M1456.1 1785.7V1834M1465 1785.7V1834M1060.5 1155.4H1465M1060.5 1179.8H1465M1060.5 1155.4V1179.8M1069.5 1155.4V1179.8M1078.5 1155.4V1179.8M1087.5 1155.4V1179.8M1096.5 1155.4V1179.8M1105.5 1155.4V1179.8M1114.4 1155.4V1179.8M1123.4 1155.4V1179.8M1132.4 1155.4V1179.8M1141.4 1155.4V1179.8M1150.4 1155.4V1179.8M1159.4 1155.4V1179.8M1168.4 1155.4V1179.8M1177.4 1155.4V1179.8M1186.4 1155.4V1179.8M1195.3 1155.4V1179.8M1204.3 1155.4V1179.8M1213.3 1155.4V1179.8M1222.3 1155.4V1179.8M1231.3 1155.4V1179.8M1240.3 1155.4V1179.8M1249.3 1155.4V1179.8M1258.3 1155.4V1179.8M1267.3 1155.4V1179.8M1276.3 1155.4V1179.8M1285.2 1155.4V1179.8M1294.2 1155.4V1179.8M1303.2 1155.4V1179.8M1312.2 1155.4V1179.8M1321.2 1155.4V1179.8M1330.2 1155.4V1179.8M1339.2 1155.4V1179.8M1348.2 1155.4V1179.8M1357.2 1155.4V1179.8M1366.2 1155.4V1179.8M1375.2 1155.4V1179.8M1384.1 1155.4V1179.8M1393.1 1155.4V1179.8M1402.1 1155.4V1179.8M1411.1 1155.4V1179.8M1420.1 1155.4V1179.8M1429.1 1155.4V1179.8M1438.1 1155.4V1179.8M1447.1 1155.4V1179.8M1456.1 1155.4V1179.8M1465 1155.4V1179.8"/>
<rect x="77.1" y="1185.4" width="24" height="240" fill="#3DBEF0"/>
<path stroke="#9A9A9A" stroke-width="1" fill="none" d="M77.1 1185.4H101.1M77.1 1209.4H101.1M77.1 1233.4H101.1M77.1 1257.4H101.1M77.1 1281.4H101.1M77.1 1305.4H101.1M77.1 1329.4H101.1M77.1 1353.4H101.1M77.1 1377.4H101.1M77.1 1401.4H101.1M77.1 1425.4H101.1M77.1 1185.4V1425.4M101.1 1185.4V1425.4"/>
<rect x="77.1" y="1434" width="24" height="96" fill="#F08C88"/>
<path stroke="#9A9A9A" stroke-width="1" fill="none" d="M77.1 1434H101.1M77.1 1458H101.1M77.1 1482H101.1M77.1 1506H101.1M77.1 1530H101.1M77.1 1434V1530M101.1 1434V1530"/>
<rect x="77.1" y="1538.4" width="24" height="240.3" fill="#F6A90C"/>
<path stroke="#9A9A9A" stroke-width="1" fill="none" d="M77.1 1538.4H101.1M77.1 1562.4H101.1M77.1 1586.5H101.1M77.1 1610.5H101.1M77.1 1634.5H101.1M77.1 1658.6H101.1M77.1 1682.6H101.1M77.1 1706.6H101.1M77.1 1730.6H101.1M77.1 1754.7H101.1M77.1 1778.7H101.1M77.1 1538.4V1778.7M101.1 1538.4V1778.7"/>
<rect x="77.1" y="1785.7" width="24" height="48.3" fill="#5BAA3D"/>
<path stroke="#9A9A9A" stroke-width="1" fill="none" d="M77.1 1785.7H101.1M77.1 1809.9H101.1M77.1 1834H101.1M77.1 1785.7V1834M101.1 1785.7V1834"/>
<text x="63.5" y="1797.6" font-size="23" text-anchor="middle" font-weight="bold" stroke="#000" stroke-width="0.45" transform="rotate(-90 63.5 1797.6)">Class</text>
<text x="1472.6" y="1175" font-size="23.2" font-weight="bold" stroke="#000" stroke-width="0.45">RCB</text>
<text x="1472.6" y="1205.6" font-size="23.3" stroke="#000" stroke-width="0.45">TAP2</text>
<text x="1472.6" y="1229.6" font-size="23.3" stroke="#000" stroke-width="0.45">TAP1</text>
<text x="1472.6" y="1253.6" font-size="23.3" stroke="#000" stroke-width="0.45">HLA–F</text>
<text x="1472.6" y="1277.6" font-size="23.3" stroke="#000" stroke-width="0.45">B2M</text>
<text x="1472.6" y="1301.6" font-size="23.3" stroke="#000" stroke-width="0.45">HLA–B</text>
<text x="1472.6" y="1325.6" font-size="23.3" stroke="#000" stroke-width="0.45">HLA–A</text>
<text x="1472.6" y="1349.6" font-size="23.3" stroke="#000" stroke-width="0.45">HLA–C</text>
<text x="1472.6" y="1373.6" font-size="23.3" stroke="#000" stroke-width="0.45">HLA–E</text>
<text x="1472.6" y="1397.6" font-size="23.3" stroke="#000" stroke-width="0.45">HLA–DPA1</text>
<text x="1472.6" y="1421.6" font-size="23.3" stroke="#000" stroke-width="0.45">HLA–DPB1</text>
<text x="1472.6" y="1454.2" font-size="23.3" stroke="#000" stroke-width="0.45">Act CD8</text>
<text x="1472.6" y="1478.2" font-size="23.3" stroke="#000" stroke-width="0.45">Tem CD8</text>
<text x="1472.6" y="1502.2" font-size="23.3" stroke="#000" stroke-width="0.45">Act CD4</text>
<text x="1472.6" y="1526.2" font-size="23.3" stroke="#000" stroke-width="0.45">Tem CD4</text>
<text x="1472.6" y="1558.6" font-size="23.3" stroke="#000" stroke-width="0.45">IDO1</text>
<text x="1472.6" y="1582.6" font-size="23.3" stroke="#000" stroke-width="0.45">LAG3</text>
<text x="1472.6" y="1606.7" font-size="23.3" stroke="#000" stroke-width="0.45">PD–1</text>
<text x="1472.6" y="1630.7" font-size="23.3" stroke="#000" stroke-width="0.45">PD–L1</text>
<text x="1472.6" y="1654.7" font-size="23.3" stroke="#000" stroke-width="0.45">CTLA–4</text>
<text x="1472.6" y="1678.8" font-size="23.3" stroke="#000" stroke-width="0.45">TIGIT</text>
<text x="1472.6" y="1702.8" font-size="23.3" stroke="#000" stroke-width="0.45">ICOS</text>
<text x="1472.6" y="1726.8" font-size="23.3" stroke="#000" stroke-width="0.45">CD27</text>
<text x="1472.6" y="1750.9" font-size="23.3" stroke="#000" stroke-width="0.45">TIM3</text>
<text x="1472.6" y="1774.9" font-size="23.3" stroke="#000" stroke-width="0.45">PD–L2</text>
<text x="1472.6" y="1806" font-size="23.3" stroke="#000" stroke-width="0.45">MDSC</text>
<text x="1472.6" y="1830.1" font-size="23.3" stroke="#000" stroke-width="0.45">Treg</text>
<path stroke="#000" stroke-width="1.4" fill="none" d="M111.2 1153.5V1152.1H120.2V1153.5M129.2 1153.5V1153.5H138.3V1153.5M147.3 1153.5V1153.5H156.3V1153.5M174.3 1153.5V1153.5H183.4V1153.5M165.3 1153.5V1153.5H178.9V1153.5M172.1 1153.5V1153.5H192.4V1153.5M151.8 1153.5V1153.5H182.2V1153.5M133.8 1153.5V1152.9H167V1153.5M210.4 1153.5V1153.5H219.4V1153.5M228.5 1153.5V1153.5H237.5V1153.5M233 1153.5V1153.5H246.5V1153.5M214.9 1153.5V1153.5H239.7V1153.5M201.4 1153.5V1152.9H227.3V1153.5M150.4 1152.9V1151.8H214.4V1152.9M115.7 1152.1V1151.2H182.4V1151.8M264.6 1153.5V1153H273.6V1153.5M255.5 1153.5V1151.4H269.1V1153M149.1 1151.2V1150H262.3V1151.4M282.6 1153.5V1152.1H291.6V1153.5M300.6 1153.5V1152.8H309.6V1153.5M318.7 1153.5V1152H327.7V1153.5M305.1 1152.8V1151.5H323.2V1152M287.1 1152.1V1150.8H314.2V1151.5M205.7 1150V1149.4H300.6V1150.8M345.7 1153.5V1150.9H354.8V1153.5M336.7 1153.5V1150.1H350.2V1150.9M343.5 1150.1V1149.4H363.8V1153.5M253.2 1149.4V1148.4H353.6V1149.4M372.8 1153.5V1152.3H381.8V1153.5M390.8 1153.5V1153.5H399.8V1153.5M395.3 1153.5V1152.9H408.9V1153.5M377.3 1152.3V1151.5H402.1V1152.9M435.9 1153.5V1152.2H444.9V1153.5M426.9 1153.5V1151.4H440.4V1152.2M417.9 1153.5V1150.3H433.7V1151.4M389.7 1151.5V1149.9H425.8V1150.3M454 1153.5V1152.2H463V1153.5M481 1153.5V1153H490V1153.5M472 1153.5V1152.1H485.5V1153M458.5 1152.2V1151.4H478.8V1152.1M499.1 1153.5V1151.1H508.1V1153.5M517.1 1153.5V1153.5H526.1V1153.5M521.6 1153.5V1153.5H535.1V1153.5M528.4 1153.5V1153.3H544.2V1153.5M536.3 1153.3V1152.5H553.2V1153.5M562.2 1153.5V1153.5H571.2V1153.5M580.2 1153.5V1153.5H589.3V1153.5M598.3 1153.5V1153.5H607.3V1153.5M602.8 1153.5V1153.5H616.3V1153.5M584.8 1153.5V1153.5H609.6V1153.5M566.7 1153.5V1153.1H597.2V1153.5M544.7 1152.5V1151.6H581.9V1153.1M503.6 1151.1V1150.6H563.3V1151.6M468.6 1151.4V1150H533.5V1150.6M407.7 1149.9V1148.4H501V1150M303.4 1148.4V1147H454.4V1148.4M632.9 1153.5V1152.7H641.9V1153.5M637.4 1152.7V1151.9H650.9V1153.5M644.2 1151.9V1151.5H660V1153.5M669 1153.5V1151.4H678V1153.5M652.1 1151.5V1150.3H673.5V1151.4M705.1 1153.5V1153.5H714.1V1153.5M696 1153.5V1153H709.6V1153.5M687 1153.5V1151.8H702.8V1153M723.1 1153.5V1151H732.1V1153.5M694.9 1151.8V1150.5H727.6V1151M662.8 1150.3V1149.3H711.3V1150.5M741.1 1153.5V1150.8H750.2V1153.5M759.2 1153.5V1153.5H768.2V1153.5M777.2 1153.5V1153.5H786.2V1153.5M763.7 1153.5V1153.5H781.7V1153.5M795.3 1153.5V1153.5H804.3V1153.5M813.3 1153.5V1153.5H822.3V1153.5M817.8 1153.5V1153.5H831.3V1153.5M799.8 1153.5V1153.3H824.6V1153.5M772.7 1153.5V1152.1H812.2V1153.3M792.5 1152.1V1151.7H840.4V1153.5M867.4 1153.5V1153.5H876.4V1153.5M858.4 1153.5V1153.3H871.9V1153.5M885.5 1153.5V1153.4H894.5V1153.5M865.2 1153.3V1152.3H890V1153.4M849.4 1153.5V1151.9H877.6V1152.3M816.4 1151.7V1150.7H863.5V1151.9M745.7 1150.8V1149.7H839.9V1150.7M792.8 1149.7V1149.1H903.5V1153.5M687 1149.3V1148.7H848.2V1149.1M912.5 1153.5V1151.9H921.5V1153.5M939.6 1153.5V1152.4H948.6V1153.5M930.6 1153.5V1151.8H944.1V1152.4M966.6 1153.5V1153.5H975.7V1153.5M957.6 1153.5V1152.6H971.2V1153.5M937.3 1151.8V1151.2H964.4V1152.6M917 1151.9V1150.5H950.9V1151.2M993.7 1153.5V1152.7H1002.7V1153.5M984.7 1153.5V1151.6H998.2V1152.7M1011.8 1153.5V1152.4H1020.8V1153.5M991.5 1151.6V1150.9H1016.3V1152.4M1029.8 1153.5V1151.9H1038.8V1153.5M1034.3 1151.9V1150.9H1047.8V1153.5M1003.9 1150.9V1149.9H1041.1V1150.9M934 1150.5V1149H1022.5V1149.9M767.6 1148.7V1148H978.2V1149M1065 1153.5V1151.1H1074V1153.5M1083 1153.5V1151H1092V1153.5M1101 1153.5V1151.1H1109.9V1153.5M1087.5 1151V1150.6H1105.4V1151.1M1069.5 1151.1V1149.9H1096.5V1150.6M1118.9 1153.5V1152.7H1127.9V1153.5M1136.9 1153.5V1153.3H1145.9V1153.5M1141.4 1153.3V1152H1154.9V1153.5M1123.4 1152.7V1151.3H1148.2V1152M1181.9 1153.5V1153.5H1190.9V1153.5M1172.9 1153.5V1153.5H1186.4V1153.5M1163.9 1153.5V1153.5H1179.6V1153.5M1171.8 1153.5V1152.6H1199.8V1153.5M1185.8 1152.6V1151.2H1208.8V1153.5M1135.8 1151.3V1149.9H1197.3V1151.2M1083 1149.9V1148.7H1166.6V1149.9M1217.8 1153.5V1153.2H1226.8V1153.5M1244.8 1153.5V1153.5H1253.8V1153.5M1262.8 1153.5V1153.5H1271.8V1153.5M1249.3 1153.5V1153.5H1267.3V1153.5M1258.3 1153.5V1153.5H1280.8V1153.5M1235.8 1153.5V1153.5H1269.5V1153.5M1222.3 1153.2V1152.7H1252.7V1153.5M1298.7 1153.5V1153.5H1307.7V1153.5M1316.7 1153.5V1153.5H1325.7V1153.5M1334.7 1153.5V1153.5H1343.7V1153.5M1321.2 1153.5V1153.5H1339.2V1153.5M1303.2 1153.5V1153.5H1330.2V1153.5M1352.7 1153.5V1153.5H1361.7V1153.5M1357.2 1153.5V1153.5H1370.7V1153.5M1316.7 1153.5V1153.5H1363.9V1153.5M1289.7 1153.5V1153.1H1340.3V1153.5M1315 1153.1V1152.5H1379.6V1153.5M1237.5 1152.7V1151.2H1347.3V1152.5M1292.4 1151.2V1150.2H1388.6V1153.5M1406.6 1153.5V1153.5H1415.6V1153.5M1411.1 1153.5V1152.8H1424.6V1153.5M1397.6 1153.5V1152H1417.9V1152.8M1451.6 1153.5V1153.5H1460.6V1153.5M1442.6 1153.5V1153.5H1456.1V1153.5M1433.6 1153.5V1152.4H1449.3V1153.5M1407.7 1152V1151H1441.5V1152.4M1340.5 1150.2V1149.5H1424.6V1151M1124.8 1148.7V1148H1382.6V1149.5"/>
<path stroke="#000" stroke-width="1.6" fill="none" d="M214.7 1147V1143.4H470.9V1147M342.8 1143.4V1125.2H978.9V1139.3M738.8 1148V1146H893.5V1148M816.1 1146V1139.3H1150V1146.4M1091.8 1148V1146.4H1208.9V1148"/>
<rect x="1629.1" y="1164" width="19.7" height="27.4" fill="#67001F"/>
<rect x="1629.1" y="1191.2" width="19.7" height="27.4" fill="#B2182B"/>
<rect x="1629.1" y="1218.4" width="19.7" height="27.4" fill="#D6604D"/>
<rect x="1629.1" y="1245.6" width="19.7" height="27.4" fill="#F4A582"/>
<rect x="1629.1" y="1272.8" width="19.7" height="27.4" fill="#FDDBC7"/>
<rect x="1629.1" y="1300" width="19.7" height="27.4" fill="#FBFBFB"/>
<rect x="1629.1" y="1327.2" width="19.7" height="27.4" fill="#D1E5F0"/>
<rect x="1629.1" y="1354.4" width="19.7" height="27.4" fill="#92C5DE"/>
<rect x="1629.1" y="1381.6" width="19.7" height="27.4" fill="#4393C3"/>
<rect x="1629.1" y="1408.8" width="19.7" height="27.4" fill="#2166AC"/>
<rect x="1629.1" y="1436" width="19.7" height="27.4" fill="#053061"/>
<text x="1656.8" y="1198.3" font-size="22.5" stroke="#000" stroke-width="0.45">3</text>
<text x="1656.8" y="1239.5" font-size="22.5" stroke="#000" stroke-width="0.45">2</text>
<text x="1656.8" y="1280.7" font-size="22.5" stroke="#000" stroke-width="0.45">1</text>
<text x="1656.8" y="1322" font-size="22.5" stroke="#000" stroke-width="0.45">0</text>
<text x="1656.8" y="1363.8" font-size="22.5" stroke="#000" stroke-width="0.45">−1</text>
<text x="1656.8" y="1405.4" font-size="22.5" stroke="#000" stroke-width="0.45">−2</text>
<text x="1656.8" y="1446.6" font-size="22.5" stroke="#000" stroke-width="0.45">−3</text>
<text x="1750.4" y="1182.6" font-size="23.2" font-weight="bold" stroke="#000" stroke-width="0.45">RCB</text>
<rect x="1750.4" y="1192.3" width="33.6" height="34.5" fill="#1FA198"/>
<text x="1792" y="1217.3" font-size="23.8" stroke="#000" stroke-width="0.45">pCR</text>
<rect x="1750.4" y="1226.7" width="33.6" height="34.5" fill="#FCE269"/>
<text x="1792" y="1251.6" font-size="23.8" stroke="#000" stroke-width="0.45">RCB–I</text>
<rect x="1750.4" y="1261" width="33.6" height="34.5" fill="#F9B264"/>
<text x="1792" y="1285.9" font-size="23.8" stroke="#000" stroke-width="0.45">RCB–II</text>
<rect x="1750.4" y="1295.4" width="33.6" height="34.5" fill="#E8412C"/>
<text x="1792" y="1320.2" font-size="23.8" stroke="#000" stroke-width="0.45">RCB–III</text>
<text x="1750.4" y="1398.1" font-size="23.2" font-weight="bold" stroke="#000" stroke-width="0.45">Class</text>
<rect x="1750.4" y="1409" width="33.6" height="34.4" fill="#3DBEF0"/>
<text x="1792" y="1432.4" font-size="23.8" stroke="#000" stroke-width="0.45">MHC</text>
<rect x="1750.4" y="1443.3" width="33.6" height="34.4" fill="#F08C88"/>
<text x="1792" y="1466.7" font-size="23.8" stroke="#000" stroke-width="0.45">Effector cells</text>
<rect x="1750.4" y="1477.6" width="33.6" height="34.4" fill="#F6A90C"/>
<text x="1792" y="1501" font-size="23.8" stroke="#000" stroke-width="0.45">Checkpoints</text>
<rect x="1750.4" y="1511.9" width="33.6" height="34.4" fill="#5BAA3D"/>
<text x="1792" y="1535.3" font-size="23.8" stroke="#000" stroke-width="0.45">Suppressor cells</text>
<text x="0" y="1911" font-size="29" font-weight="bold" stroke="#000" stroke-width="0.45">e</text>
<clipPath id="ce0"><rect x="143.8" y="1964.6" width="198.3" height="208.5"/></clipPath>
<line x1="143.8" y1="1973.3" x2="342.1" y2="1973.3" stroke="#EBEBEB" stroke-width="1.3"/>
<line x1="143.8" y1="2026.2" x2="342.1" y2="2026.2" stroke="#EBEBEB" stroke-width="1.3"/>
<line x1="143.8" y1="2079.4" x2="342.1" y2="2079.4" stroke="#EBEBEB" stroke-width="1.3"/>
<line x1="143.8" y1="2132.3" x2="342.1" y2="2132.3" stroke="#EBEBEB" stroke-width="1.3"/>
<g fill="#000"><circle cx="194.9" cy="2093" r="3.3"/><circle cx="197.7" cy="2041.1" r="3.3"/><circle cx="208.9" cy="2088.7" r="3.3"/><circle cx="174" cy="2059.3" r="3.3"/><circle cx="161.4" cy="2112.7" r="3.3"/><circle cx="242.7" cy="2047.2" r="3.3"/><circle cx="215" cy="2071.5" r="3.3"/><circle cx="179.8" cy="2072" r="3.3"/><circle cx="205.3" cy="2046.2" r="3.3"/><circle cx="168" cy="2120.7" r="3.3"/><circle cx="212.5" cy="2083" r="3.3"/><circle cx="304.9" cy="2025" r="3.3"/><circle cx="225.3" cy="2047.9" r="3.3"/><circle cx="186.2" cy="2102.1" r="3.3"/><circle cx="167.2" cy="2060.7" r="3.3"/><circle cx="178.5" cy="2088.2" r="3.3"/><circle cx="184.7" cy="2116" r="3.3"/><circle cx="182.5" cy="2084.3" r="3.3"/><circle cx="175.1" cy="2078.7" r="3.3"/><circle cx="164.7" cy="2065.3" r="3.3"/><circle cx="208.5" cy="2057.7" r="3.3"/><circle cx="190.3" cy="2024.6" r="3.3"/><circle cx="228.2" cy="2050.5" r="3.3"/><circle cx="169.2" cy="2101.4" r="3.3"/><circle cx="178.9" cy="2083.3" r="3.3"/><circle cx="187.4" cy="2106.2" r="3.3"/><circle cx="288.5" cy="2033.1" r="3.3"/><circle cx="158.6" cy="2111.9" r="3.3"/><circle cx="172.2" cy="2087.4" r="3.3"/><circle cx="201.5" cy="2099.2" r="3.3"/><circle cx="181.5" cy="2103.6" r="3.3"/><circle cx="297.5" cy="1978.8" r="3.3"/><circle cx="232.8" cy="2037.5" r="3.3"/><circle cx="187.8" cy="2120" r="3.3"/><circle cx="325.6" cy="1999.5" r="3.3"/><circle cx="228.2" cy="2091.5" r="3.3"/><circle cx="195.9" cy="2047.5" r="3.3"/><circle cx="303.1" cy="2002.7" r="3.3"/><circle cx="245.9" cy="2074.2" r="3.3"/><circle cx="193" cy="2089.2" r="3.3"/><circle cx="157.3" cy="2166.2" r="3.3"/><circle cx="173.4" cy="2101.8" r="3.3"/><circle cx="175.5" cy="2068.1" r="3.3"/><circle cx="182" cy="2113.3" r="3.3"/><circle cx="199" cy="2081.5" r="3.3"/><circle cx="170.4" cy="2094.1" r="3.3"/><circle cx="208.7" cy="2046.7" r="3.3"/><circle cx="170.2" cy="2073.7" r="3.3"/><circle cx="217.9" cy="2040.9" r="3.3"/><circle cx="173.9" cy="2074.5" r="3.3"/><circle cx="169.1" cy="2056.2" r="3.3"/><circle cx="183.1" cy="2132.5" r="3.3"/><circle cx="189.5" cy="2084.5" r="3.3"/><circle cx="227.8" cy="2076.3" r="3.3"/><circle cx="272.7" cy="2055.9" r="3.3"/><circle cx="190.4" cy="2100.8" r="3.3"/><circle cx="235.4" cy="2052" r="3.3"/><circle cx="169.5" cy="2131.6" r="3.3"/><circle cx="176" cy="2079" r="3.3"/><circle cx="216.4" cy="2060.6" r="3.3"/><circle cx="221.6" cy="2071.2" r="3.3"/><circle cx="170.1" cy="2120" r="3.3"/><circle cx="182" cy="2053.7" r="3.3"/><circle cx="179.5" cy="2050.7" r="3.3"/><circle cx="195.6" cy="2031.1" r="3.3"/><circle cx="204.3" cy="2094.4" r="3.3"/><circle cx="170.1" cy="2095.1" r="3.3"/><circle cx="167.9" cy="2066.5" r="3.3"/><circle cx="164.4" cy="2130.8" r="3.3"/><circle cx="195.1" cy="2066.4" r="3.3"/><circle cx="271.4" cy="2007.9" r="3.3"/><circle cx="322.7" cy="2010.9" r="3.3"/><circle cx="160.2" cy="2139.1" r="3.3"/><circle cx="159.7" cy="2073.6" r="3.3"/><circle cx="193" cy="2095.9" r="3.3"/><circle cx="174.3" cy="2082.4" r="3.3"/><circle cx="253.6" cy="2094.7" r="3.3"/><circle cx="196.9" cy="2055.8" r="3.3"/><circle cx="198.5" cy="2061" r="3.3"/><circle cx="190.5" cy="2090.8" r="3.3"/><circle cx="182" cy="2125.5" r="3.3"/><circle cx="163.3" cy="2109.4" r="3.3"/><circle cx="213.5" cy="2065.7" r="3.3"/><circle cx="254.7" cy="2002.7" r="3.3"/><circle cx="207.2" cy="2051.9" r="3.3"/><circle cx="172.5" cy="2096.1" r="3.3"/><circle cx="154.2" cy="2093.7" r="3.3"/><circle cx="198.7" cy="2091.4" r="3.3"/><circle cx="207.3" cy="2107.5" r="3.3"/><circle cx="175.4" cy="2163.4" r="3.3"/><circle cx="191.1" cy="2115.6" r="3.3"/><circle cx="162.6" cy="2107.2" r="3.3"/><circle cx="199.1" cy="2100.9" r="3.3"/><circle cx="177.8" cy="2097.8" r="3.3"/><circle cx="202.6" cy="2036.9" r="3.3"/><circle cx="188.4" cy="2058.2" r="3.3"/><circle cx="182" cy="2008.6" r="3.3"/><circle cx="185.3" cy="2087.4" r="3.3"/><circle cx="161.4" cy="2077.6" r="3.3"/><circle cx="160.4" cy="2107.3" r="3.3"/><circle cx="186.1" cy="2078.4" r="3.3"/><circle cx="196.9" cy="2033.5" r="3.3"/><circle cx="306.5" cy="1997.8" r="3.3"/><circle cx="246" cy="2005" r="3.3"/><circle cx="319.1" cy="1977.7" r="3.3"/><circle cx="182" cy="2053.1" r="3.3"/><circle cx="162.4" cy="2080.7" r="3.3"/><circle cx="200.9" cy="2032.1" r="3.3"/><circle cx="185.8" cy="2117.8" r="3.3"/><circle cx="209.5" cy="2071.9" r="3.3"/><circle cx="189.4" cy="2104.6" r="3.3"/><circle cx="157.5" cy="2041.1" r="3.3"/><circle cx="178.1" cy="2106.1" r="3.3"/><circle cx="241.4" cy="2054.5" r="3.3"/><circle cx="171.9" cy="2087.7" r="3.3"/><circle cx="207.7" cy="2082.1" r="3.3"/><circle cx="215" cy="2098.6" r="3.3"/><circle cx="176.2" cy="2064.6" r="3.3"/><circle cx="165.3" cy="2089.6" r="3.3"/><circle cx="191.9" cy="2117.1" r="3.3"/><circle cx="164" cy="2120.9" r="3.3"/><circle cx="279.3" cy="2017.9" r="3.3"/><circle cx="159.8" cy="2087.2" r="3.3"/><circle cx="162" cy="2117.8" r="3.3"/><circle cx="217.9" cy="2048.6" r="3.3"/><circle cx="231" cy="2038.7" r="3.3"/><circle cx="157.2" cy="2065.3" r="3.3"/><circle cx="280.4" cy="2017.2" r="3.3"/><circle cx="188.7" cy="2094.2" r="3.3"/><circle cx="225.6" cy="2053.9" r="3.3"/><circle cx="224.7" cy="2052.1" r="3.3"/><circle cx="190.4" cy="2058.8" r="3.3"/><circle cx="171" cy="2107" r="3.3"/><circle cx="172.2" cy="2090.9" r="3.3"/><circle cx="251.5" cy="2054.9" r="3.3"/><circle cx="207.2" cy="2069" r="3.3"/><circle cx="173.7" cy="2073.6" r="3.3"/><circle cx="198.1" cy="2125.5" r="3.3"/><circle cx="158.1" cy="2121.6" r="3.3"/><circle cx="209.1" cy="2058.5" r="3.3"/><circle cx="246.7" cy="2017.4" r="3.3"/><circle cx="177.2" cy="2083.4" r="3.3"/><circle cx="191.2" cy="2101.3" r="3.3"/><circle cx="264.2" cy="2037.2" r="3.3"/><circle cx="184.1" cy="2067.1" r="3.3"/><circle cx="300" cy="2029.6" r="3.3"/><circle cx="240.4" cy="2047.5" r="3.3"/><circle cx="222.1" cy="2023.6" r="3.3"/><circle cx="184" cy="2094.6" r="3.3"/><circle cx="314.1" cy="1992.5" r="3.3"/><circle cx="178.5" cy="2063.3" r="3.3"/><circle cx="257.4" cy="2022.3" r="3.3"/><circle cx="262.1" cy="2038.5" r="3.3"/><circle cx="175.6" cy="2122.5" r="3.3"/><circle cx="195.3" cy="2067.8" r="3.3"/><circle cx="206.4" cy="2078.1" r="3.3"/><circle cx="224.9" cy="2059.7" r="3.3"/><circle cx="163.5" cy="2066.6" r="3.3"/></g>
<path d="M153.2 2096.6L160.7 2092.7L168.2 2088.7L175.7 2084.5L183.2 2080.3L190.7 2075.7L198.2 2071L205.7 2066L213.2 2060.9L220.8 2055.7L228.3 2050.4L235.8 2045.1L243.3 2039.7L250.8 2034.3L258.3 2028.9L265.8 2023.5L273.3 2018.1L280.9 2012.7L288.4 2007.3L295.9 2001.9L303.4 1996.4L310.9 1991L318.4 1985.6L325.9 1980.1L333.4 1974.7L333.4 2008.1L325.9 2011.8L318.4 2015.6L310.9 2019.4L303.4 2023.1L295.9 2026.9L288.4 2030.6L280.9 2034.4L273.3 2038.2L265.8 2042L258.3 2045.8L250.8 2049.6L243.3 2053.4L235.8 2057.2L228.3 2061.1L220.8 2065L213.2 2069L205.7 2073.1L198.2 2077.3L190.7 2081.7L183.2 2086.4L175.7 2091.3L168.2 2096.4L160.7 2101.6L153.2 2106.8Z" fill="#999" fill-opacity="0.4" clip-path="url(#ce0)"/>
<line x1="153.2" y1="2101.7" x2="333.4" y2="1991.4" stroke="#3366FF" stroke-width="3.2" stroke-linecap="butt"/>
<rect x="143.8" y="1964.6" width="198.3" height="208.5" fill="none" stroke="#000" stroke-width="1.6"/>
<line x1="138.3" y1="1973.3" x2="143.8" y2="1973.3" stroke="#333" stroke-width="1.5"/>
<text x="135.3" y="1981.3" font-size="22.5" text-anchor="end" fill="#1a1a1a" stroke="#1a1a1a" stroke-width="0.45">6</text>
<line x1="138.3" y1="2026.2" x2="143.8" y2="2026.2" stroke="#333" stroke-width="1.5"/>
<text x="135.3" y="2034.2" font-size="22.5" text-anchor="end" fill="#1a1a1a" stroke="#1a1a1a" stroke-width="0.45">3</text>
<line x1="138.3" y1="2079.4" x2="143.8" y2="2079.4" stroke="#333" stroke-width="1.5"/>
<text x="135.3" y="2087.4" font-size="22.5" text-anchor="end" fill="#1a1a1a" stroke="#1a1a1a" stroke-width="0.45">0</text>
<line x1="138.3" y1="2132.3" x2="143.8" y2="2132.3" stroke="#333" stroke-width="1.5"/>
<text x="135.3" y="2140.3" font-size="22.5" text-anchor="end" fill="#1a1a1a" stroke="#1a1a1a" stroke-width="0.45">-3</text>
<text x="243" y="1952" font-size="24.5" text-anchor="middle" stroke="#000" stroke-width="0.45">B cells</text>
<text x="337.6" y="2160.1" font-size="20.5" text-anchor="end" fill="#E41A1C" stroke="#E41A1C" stroke-width="0.45"><tspan font-style="italic">R</tspan> = 0.6</text>
<clipPath id="ce1"><rect x="385.3" y="1964.6" width="198.4" height="208.5"/></clipPath>
<line x1="385.3" y1="1999.4" x2="583.7" y2="1999.4" stroke="#EBEBEB" stroke-width="1.3"/>
<line x1="385.3" y1="2049.2" x2="583.7" y2="2049.2" stroke="#EBEBEB" stroke-width="1.3"/>
<line x1="385.3" y1="2098.6" x2="583.7" y2="2098.6" stroke="#EBEBEB" stroke-width="1.3"/>
<line x1="385.3" y1="2148" x2="583.7" y2="2148" stroke="#EBEBEB" stroke-width="1.3"/>
<g fill="#000"><circle cx="455.9" cy="2054.3" r="3.3"/><circle cx="395.3" cy="2057.7" r="3.3"/><circle cx="405.5" cy="2121.9" r="3.3"/><circle cx="422.5" cy="2119.6" r="3.3"/><circle cx="453" cy="2066.2" r="3.3"/><circle cx="493.7" cy="2023.1" r="3.3"/><circle cx="428.2" cy="2075.9" r="3.3"/><circle cx="429.9" cy="2126.6" r="3.3"/><circle cx="414" cy="2137.4" r="3.3"/><circle cx="418.8" cy="2089.6" r="3.3"/><circle cx="400.2" cy="2058" r="3.3"/><circle cx="521.9" cy="2038.6" r="3.3"/><circle cx="423.8" cy="2096.1" r="3.3"/><circle cx="434" cy="2126.5" r="3.3"/><circle cx="446" cy="2071.8" r="3.3"/><circle cx="402.1" cy="2133.9" r="3.3"/><circle cx="424.6" cy="2127.9" r="3.3"/><circle cx="421.1" cy="2076" r="3.3"/><circle cx="426.7" cy="2047" r="3.3"/><circle cx="412.1" cy="2077.2" r="3.3"/><circle cx="403.8" cy="2065.2" r="3.3"/><circle cx="467.8" cy="2064.4" r="3.3"/><circle cx="552.8" cy="1984.9" r="3.3"/><circle cx="414" cy="2099.4" r="3.3"/><circle cx="395.2" cy="2065.7" r="3.3"/><circle cx="500.6" cy="2007.9" r="3.3"/><circle cx="426.7" cy="2062.5" r="3.3"/><circle cx="572.3" cy="2003.3" r="3.3"/><circle cx="395.2" cy="2105.1" r="3.3"/><circle cx="420.2" cy="2079.6" r="3.3"/><circle cx="446.8" cy="2060.7" r="3.3"/><circle cx="436.5" cy="2055.7" r="3.3"/><circle cx="426.7" cy="2101.6" r="3.3"/><circle cx="414.5" cy="2119.5" r="3.3"/><circle cx="497.9" cy="2030" r="3.3"/><circle cx="452.3" cy="2056.5" r="3.3"/><circle cx="430.3" cy="2029" r="3.3"/><circle cx="429.9" cy="2103.7" r="3.3"/><circle cx="408.1" cy="2136.6" r="3.3"/><circle cx="399.4" cy="2046.9" r="3.3"/><circle cx="455.9" cy="2094.6" r="3.3"/><circle cx="416.5" cy="2048.2" r="3.3"/><circle cx="422.5" cy="2065.6" r="3.3"/><circle cx="445.7" cy="2079.3" r="3.3"/><circle cx="413.6" cy="2071.7" r="3.3"/><circle cx="445.8" cy="2074.8" r="3.3"/><circle cx="399.9" cy="2069.9" r="3.3"/><circle cx="535.3" cy="2025.2" r="3.3"/><circle cx="459.6" cy="2067.5" r="3.3"/><circle cx="422.5" cy="2104.7" r="3.3"/><circle cx="416.8" cy="2042.9" r="3.3"/><circle cx="438.8" cy="2057.3" r="3.3"/><circle cx="569.2" cy="1995.5" r="3.3"/><circle cx="414.1" cy="2076.1" r="3.3"/><circle cx="445.6" cy="2074.8" r="3.3"/><circle cx="403.8" cy="2082.3" r="3.3"/><circle cx="434.7" cy="2129.1" r="3.3"/><circle cx="406.9" cy="2111.9" r="3.3"/><circle cx="422.3" cy="2039.2" r="3.3"/><circle cx="456.8" cy="2073.8" r="3.3"/><circle cx="407.7" cy="2068.6" r="3.3"/><circle cx="404.9" cy="2051.9" r="3.3"/><circle cx="409.1" cy="2125.6" r="3.3"/><circle cx="414.5" cy="2101.3" r="3.3"/><circle cx="446.8" cy="2074" r="3.3"/><circle cx="420.7" cy="2067.1" r="3.3"/><circle cx="525.5" cy="2024.1" r="3.3"/><circle cx="397" cy="2114.9" r="3.3"/><circle cx="397.4" cy="2081.6" r="3.3"/><circle cx="531.8" cy="2035.4" r="3.3"/><circle cx="438.4" cy="2090.2" r="3.3"/><circle cx="459.1" cy="2035.3" r="3.3"/><circle cx="401.1" cy="2101.4" r="3.3"/><circle cx="446" cy="2070.3" r="3.3"/><circle cx="440.4" cy="2112" r="3.3"/><circle cx="462.3" cy="2051.9" r="3.3"/><circle cx="408.3" cy="2060" r="3.3"/><circle cx="411" cy="2102" r="3.3"/><circle cx="405.9" cy="2161.4" r="3.3"/><circle cx="447.4" cy="2072.7" r="3.3"/><circle cx="459.2" cy="2048.6" r="3.3"/><circle cx="426.4" cy="2066.5" r="3.3"/><circle cx="556.7" cy="2011.9" r="3.3"/><circle cx="417.8" cy="2076.9" r="3.3"/><circle cx="412.4" cy="2077.5" r="3.3"/><circle cx="428.2" cy="2112.4" r="3.3"/><circle cx="431.8" cy="2088.5" r="3.3"/><circle cx="451.7" cy="2045.2" r="3.3"/><circle cx="570.4" cy="1979.9" r="3.3"/><circle cx="444.4" cy="2042.9" r="3.3"/><circle cx="423.2" cy="2099.5" r="3.3"/><circle cx="480.8" cy="2063.1" r="3.3"/><circle cx="554.4" cy="2002.8" r="3.3"/><circle cx="445.8" cy="2097.5" r="3.3"/><circle cx="465.5" cy="2075.5" r="3.3"/><circle cx="445.7" cy="2077.5" r="3.3"/><circle cx="411" cy="2104.3" r="3.3"/><circle cx="490" cy="2025.6" r="3.3"/><circle cx="551.2" cy="2006.4" r="3.3"/><circle cx="425" cy="2023.2" r="3.3"/><circle cx="424.9" cy="2069.3" r="3.3"/><circle cx="404.8" cy="2090.2" r="3.3"/><circle cx="431.5" cy="2048.1" r="3.3"/><circle cx="437.8" cy="2065.1" r="3.3"/><circle cx="438.7" cy="2081.5" r="3.3"/><circle cx="509.1" cy="2015.6" r="3.3"/><circle cx="462.8" cy="2055.6" r="3.3"/><circle cx="470.9" cy="2045.8" r="3.3"/><circle cx="395.6" cy="2075.9" r="3.3"/><circle cx="410.7" cy="2075.5" r="3.3"/><circle cx="451.8" cy="2057.2" r="3.3"/><circle cx="567.3" cy="2008.8" r="3.3"/><circle cx="417.1" cy="2109.7" r="3.3"/><circle cx="433.6" cy="2069.4" r="3.3"/><circle cx="409.5" cy="2063.8" r="3.3"/><circle cx="463.9" cy="2064.3" r="3.3"/><circle cx="415.6" cy="2108.8" r="3.3"/><circle cx="457.2" cy="2057.2" r="3.3"/><circle cx="428.5" cy="2103.7" r="3.3"/><circle cx="520.3" cy="2019.2" r="3.3"/><circle cx="422" cy="2066" r="3.3"/><circle cx="397.7" cy="2142.4" r="3.3"/><circle cx="410.4" cy="2069.7" r="3.3"/><circle cx="397.5" cy="2082.2" r="3.3"/><circle cx="564.3" cy="1995.3" r="3.3"/><circle cx="437.2" cy="2087.9" r="3.3"/><circle cx="440.5" cy="2058.6" r="3.3"/><circle cx="408.4" cy="2125.3" r="3.3"/><circle cx="434.2" cy="2067.7" r="3.3"/><circle cx="435.3" cy="2095.5" r="3.3"/><circle cx="414.3" cy="2053.9" r="3.3"/><circle cx="427.4" cy="2104.3" r="3.3"/><circle cx="470.1" cy="2066.9" r="3.3"/><circle cx="431.6" cy="2028.8" r="3.3"/><circle cx="422.1" cy="2052.6" r="3.3"/><circle cx="423.2" cy="2074.8" r="3.3"/><circle cx="561" cy="2015.3" r="3.3"/><circle cx="408.2" cy="2078.1" r="3.3"/><circle cx="398.8" cy="2118.9" r="3.3"/><circle cx="409.1" cy="2076.6" r="3.3"/><circle cx="413.2" cy="2147.1" r="3.3"/><circle cx="494.9" cy="2040.8" r="3.3"/><circle cx="460.9" cy="2060.5" r="3.3"/><circle cx="437.8" cy="2133.2" r="3.3"/><circle cx="445.7" cy="2102.4" r="3.3"/><circle cx="443.7" cy="2056.7" r="3.3"/><circle cx="463.8" cy="2040.7" r="3.3"/><circle cx="564.1" cy="2006.7" r="3.3"/><circle cx="431.8" cy="2028.1" r="3.3"/><circle cx="434.4" cy="2105" r="3.3"/><circle cx="452" cy="2074.5" r="3.3"/><circle cx="398.5" cy="2132.2" r="3.3"/><circle cx="473.2" cy="2022.5" r="3.3"/><circle cx="419.6" cy="2096.8" r="3.3"/><circle cx="453.5" cy="2069.4" r="3.3"/><circle cx="415.5" cy="2059.8" r="3.3"/><circle cx="425.3" cy="2101" r="3.3"/><circle cx="457.4" cy="2061.7" r="3.3"/></g>
<path d="M394.4 2096.5L401.9 2092.6L409.4 2088.6L416.9 2084.5L424.5 2080.2L432 2075.7L439.5 2071L447.1 2066L454.6 2060.9L462.1 2055.6L469.6 2050.3L477.2 2045L484.7 2039.6L492.2 2034.2L499.7 2028.8L507.3 2023.4L514.8 2018L522.3 2012.5L529.8 2007.1L537.4 2001.6L544.9 1996.2L552.4 1990.7L560 1985.3L567.5 1979.8L575 1974.4L575 2008.4L567.5 2012.1L560 2015.9L552.4 2019.6L544.9 2023.3L537.4 2027.1L529.8 2030.8L522.3 2034.6L514.8 2038.4L507.3 2042.1L499.7 2045.9L492.2 2049.7L484.7 2053.5L477.2 2057.3L469.6 2061.2L462.1 2065.1L454.6 2069L447.1 2073.1L439.5 2077.3L432 2081.7L424.5 2086.4L416.9 2091.3L409.4 2096.4L401.9 2101.6L394.4 2106.9Z" fill="#999" fill-opacity="0.4" clip-path="url(#ce1)"/>
<line x1="394.4" y1="2101.7" x2="575" y2="1991.4" stroke="#3366FF" stroke-width="3.2" stroke-linecap="butt"/>
<rect x="385.3" y="1964.6" width="198.4" height="208.5" fill="none" stroke="#000" stroke-width="1.6"/>
<line x1="379.8" y1="1999.4" x2="385.3" y2="1999.4" stroke="#333" stroke-width="1.5"/>
<text x="376.8" y="2007.4" font-size="22.5" text-anchor="end" fill="#1a1a1a" stroke="#1a1a1a" stroke-width="0.45">6</text>
<line x1="379.8" y1="2049.2" x2="385.3" y2="2049.2" stroke="#333" stroke-width="1.5"/>
<text x="376.8" y="2057.2" font-size="22.5" text-anchor="end" fill="#1a1a1a" stroke="#1a1a1a" stroke-width="0.45">4</text>
<line x1="379.8" y1="2098.6" x2="385.3" y2="2098.6" stroke="#333" stroke-width="1.5"/>
<text x="376.8" y="2106.6" font-size="22.5" text-anchor="end" fill="#1a1a1a" stroke="#1a1a1a" stroke-width="0.45">2</text>
<line x1="379.8" y1="2148" x2="385.3" y2="2148" stroke="#333" stroke-width="1.5"/>
<text x="376.8" y="2156" font-size="22.5" text-anchor="end" fill="#1a1a1a" stroke="#1a1a1a" stroke-width="0.45">0</text>
<text x="484.5" y="1952" font-size="24.5" text-anchor="middle" stroke="#000" stroke-width="0.45">CD8 T cells</text>
<text x="579.2" y="2160.1" font-size="20.5" text-anchor="end" fill="#E41A1C" stroke="#E41A1C" stroke-width="0.45"><tspan font-style="italic">R</tspan> = 0.6</text>
<clipPath id="ce2"><rect x="646.1" y="1964.6" width="198.1" height="208.5"/></clipPath>
<line x1="646.1" y1="1966.3" x2="844.2" y2="1966.3" stroke="#EBEBEB" stroke-width="1.3"/>
<line x1="646.1" y1="2000.1" x2="844.2" y2="2000.1" stroke="#EBEBEB" stroke-width="1.3"/>
<line x1="646.1" y1="2034.2" x2="844.2" y2="2034.2" stroke="#EBEBEB" stroke-width="1.3"/>
<line x1="646.1" y1="2068" x2="844.2" y2="2068" stroke="#EBEBEB" stroke-width="1.3"/>
<line x1="646.1" y1="2101.7" x2="844.2" y2="2101.7" stroke="#EBEBEB" stroke-width="1.3"/>
<line x1="646.1" y1="2135.1" x2="844.2" y2="2135.1" stroke="#EBEBEB" stroke-width="1.3"/>
<line x1="646.1" y1="2169.2" x2="844.2" y2="2169.2" stroke="#EBEBEB" stroke-width="1.3"/>
<g fill="#000"><circle cx="687.1" cy="2145.6" r="3.3"/><circle cx="677.6" cy="2022.4" r="3.3"/><circle cx="720" cy="2054.1" r="3.3"/><circle cx="723.2" cy="2093" r="3.3"/><circle cx="658.8" cy="2100.5" r="3.3"/><circle cx="723.4" cy="2071" r="3.3"/><circle cx="716.7" cy="2079.3" r="3.3"/><circle cx="805.6" cy="2000.2" r="3.3"/><circle cx="669.2" cy="2092.5" r="3.3"/><circle cx="758.2" cy="2002.3" r="3.3"/><circle cx="671" cy="2108" r="3.3"/><circle cx="681.5" cy="2039.8" r="3.3"/><circle cx="705.3" cy="2089.4" r="3.3"/><circle cx="678.4" cy="2138.2" r="3.3"/><circle cx="656.4" cy="2071.8" r="3.3"/><circle cx="705.9" cy="2075.6" r="3.3"/><circle cx="682.5" cy="2062" r="3.3"/><circle cx="816" cy="1976.3" r="3.3"/><circle cx="715" cy="2057.9" r="3.3"/><circle cx="675.8" cy="2143" r="3.3"/><circle cx="692.8" cy="2107.3" r="3.3"/><circle cx="668.2" cy="2086.5" r="3.3"/><circle cx="671.8" cy="2113.3" r="3.3"/><circle cx="703" cy="2023.3" r="3.3"/><circle cx="686.1" cy="2040.6" r="3.3"/><circle cx="674.7" cy="2099.3" r="3.3"/><circle cx="720.2" cy="2071.6" r="3.3"/><circle cx="710.4" cy="2076.5" r="3.3"/><circle cx="708.1" cy="2138.6" r="3.3"/><circle cx="772" cy="2028.2" r="3.3"/><circle cx="696.4" cy="2090.7" r="3.3"/><circle cx="665.1" cy="2086.1" r="3.3"/><circle cx="716.8" cy="2080.6" r="3.3"/><circle cx="821.3" cy="1983.7" r="3.3"/><circle cx="668.8" cy="2092.9" r="3.3"/><circle cx="718.8" cy="2096.9" r="3.3"/><circle cx="676.9" cy="2093.5" r="3.3"/><circle cx="709.8" cy="2092.2" r="3.3"/><circle cx="678.7" cy="2087.4" r="3.3"/><circle cx="714" cy="2024.9" r="3.3"/><circle cx="672.8" cy="2082.6" r="3.3"/><circle cx="677.5" cy="2126.3" r="3.3"/><circle cx="669.8" cy="2073.5" r="3.3"/><circle cx="669.7" cy="2120.1" r="3.3"/><circle cx="786.8" cy="2020.6" r="3.3"/><circle cx="806.9" cy="2013.3" r="3.3"/><circle cx="762.2" cy="2052.3" r="3.3"/><circle cx="692.8" cy="2074.9" r="3.3"/><circle cx="699.9" cy="2122.9" r="3.3"/><circle cx="663.2" cy="2105.1" r="3.3"/><circle cx="658.2" cy="2085.6" r="3.3"/><circle cx="693.1" cy="2072.5" r="3.3"/><circle cx="701" cy="2122.3" r="3.3"/><circle cx="658.2" cy="2069" r="3.3"/><circle cx="835.4" cy="1990.2" r="3.3"/><circle cx="693.2" cy="2076.7" r="3.3"/><circle cx="680.1" cy="2083.3" r="3.3"/><circle cx="672.8" cy="2066.1" r="3.3"/><circle cx="755.7" cy="2067.3" r="3.3"/><circle cx="665.8" cy="2080" r="3.3"/><circle cx="679.4" cy="2086.2" r="3.3"/><circle cx="684.3" cy="2082.5" r="3.3"/><circle cx="805.5" cy="2019.3" r="3.3"/><circle cx="698.2" cy="2066.1" r="3.3"/><circle cx="684.6" cy="2109.8" r="3.3"/><circle cx="716.8" cy="2048.6" r="3.3"/><circle cx="668.6" cy="2112.8" r="3.3"/><circle cx="676.2" cy="2101.1" r="3.3"/><circle cx="723.7" cy="2049.6" r="3.3"/><circle cx="698" cy="2073.4" r="3.3"/><circle cx="700.5" cy="2094" r="3.3"/><circle cx="682.5" cy="2075.5" r="3.3"/><circle cx="709.8" cy="2068.3" r="3.3"/><circle cx="697" cy="2096.2" r="3.3"/><circle cx="712.6" cy="2112.1" r="3.3"/><circle cx="667.9" cy="2133.4" r="3.3"/><circle cx="791" cy="2015.6" r="3.3"/><circle cx="708.8" cy="2053.8" r="3.3"/><circle cx="656.5" cy="2064.2" r="3.3"/><circle cx="733" cy="2087.4" r="3.3"/><circle cx="684.4" cy="2102.2" r="3.3"/><circle cx="655.5" cy="2104.9" r="3.3"/><circle cx="799.7" cy="2036.1" r="3.3"/><circle cx="670.1" cy="2155.7" r="3.3"/><circle cx="701.2" cy="2055.9" r="3.3"/><circle cx="721.1" cy="2078.6" r="3.3"/><circle cx="686" cy="2083.6" r="3.3"/><circle cx="710.9" cy="2080.6" r="3.3"/><circle cx="696.9" cy="2065" r="3.3"/><circle cx="668.3" cy="2105.2" r="3.3"/><circle cx="663" cy="2099.4" r="3.3"/><circle cx="657.8" cy="2136.1" r="3.3"/><circle cx="717.8" cy="2064.9" r="3.3"/><circle cx="680.8" cy="2093.2" r="3.3"/><circle cx="707.5" cy="2053.8" r="3.3"/><circle cx="736.5" cy="2033.9" r="3.3"/><circle cx="689" cy="2087.4" r="3.3"/><circle cx="671.6" cy="2007.3" r="3.3"/><circle cx="797.6" cy="2028.3" r="3.3"/><circle cx="671" cy="2094.7" r="3.3"/><circle cx="666.8" cy="2045.2" r="3.3"/><circle cx="676.4" cy="2110.2" r="3.3"/><circle cx="698.4" cy="2109.9" r="3.3"/><circle cx="670.1" cy="2110" r="3.3"/><circle cx="819.9" cy="2015.1" r="3.3"/><circle cx="728.8" cy="2052" r="3.3"/><circle cx="713.1" cy="2082.2" r="3.3"/><circle cx="680.5" cy="2094.8" r="3.3"/><circle cx="680.6" cy="2029.7" r="3.3"/><circle cx="686.8" cy="2088.3" r="3.3"/><circle cx="669.8" cy="2128.3" r="3.3"/><circle cx="723.6" cy="2095.6" r="3.3"/><circle cx="698.4" cy="2107" r="3.3"/><circle cx="820.6" cy="2009.3" r="3.3"/><circle cx="686.1" cy="2097.3" r="3.3"/><circle cx="674.3" cy="2096.8" r="3.3"/><circle cx="697" cy="2082.1" r="3.3"/><circle cx="656.9" cy="2144.2" r="3.3"/><circle cx="743.7" cy="2018.3" r="3.3"/><circle cx="829.7" cy="2011.4" r="3.3"/><circle cx="692.2" cy="2131.3" r="3.3"/><circle cx="673.2" cy="2070.1" r="3.3"/><circle cx="671.7" cy="2102.8" r="3.3"/><circle cx="714.7" cy="2059.1" r="3.3"/><circle cx="754.9" cy="2014.7" r="3.3"/><circle cx="805.1" cy="2011.8" r="3.3"/><circle cx="669.9" cy="2019.8" r="3.3"/><circle cx="813.1" cy="2013.6" r="3.3"/><circle cx="680" cy="2063.2" r="3.3"/><circle cx="808.4" cy="2011.7" r="3.3"/><circle cx="684.3" cy="2089.5" r="3.3"/><circle cx="664" cy="2052.7" r="3.3"/><circle cx="684.5" cy="2046.6" r="3.3"/><circle cx="689.3" cy="2095.7" r="3.3"/><circle cx="719.5" cy="2091.1" r="3.3"/><circle cx="687.7" cy="2072.5" r="3.3"/><circle cx="709" cy="2066.9" r="3.3"/><circle cx="704" cy="2052.2" r="3.3"/><circle cx="692.6" cy="2108.3" r="3.3"/><circle cx="666.4" cy="2123.4" r="3.3"/><circle cx="695.6" cy="2043.6" r="3.3"/><circle cx="694.5" cy="2096.7" r="3.3"/><circle cx="708.3" cy="2061.1" r="3.3"/><circle cx="706" cy="2054.2" r="3.3"/><circle cx="714.5" cy="2109.5" r="3.3"/><circle cx="705.1" cy="2089.5" r="3.3"/><circle cx="743.6" cy="2011.9" r="3.3"/><circle cx="762" cy="2076.2" r="3.3"/><circle cx="673" cy="2142.6" r="3.3"/><circle cx="700.3" cy="2092.8" r="3.3"/><circle cx="667.9" cy="2140.4" r="3.3"/><circle cx="681.6" cy="2021.9" r="3.3"/><circle cx="672" cy="2104.8" r="3.3"/><circle cx="692.7" cy="2105.8" r="3.3"/><circle cx="710.4" cy="2100.5" r="3.3"/><circle cx="689.5" cy="2087" r="3.3"/><circle cx="667.5" cy="2115" r="3.3"/><circle cx="681" cy="2082.4" r="3.3"/></g>
<path d="M652.4 2102.6L660.1 2098.4L667.8 2094.2L675.5 2089.8L683.3 2085.3L691 2080.5L698.7 2075.6L706.4 2070.3L714.1 2064.9L721.8 2059.4L729.6 2053.8L737.3 2048.2L745 2042.5L752.7 2036.8L760.4 2031.1L768.1 2025.4L775.8 2019.7L783.6 2013.9L791.3 2008.2L799 2002.5L806.7 1996.7L814.4 1991L822.1 1985.2L829.9 1979.4L837.6 1973.7L837.6 2007.7L829.9 2011.7L822.1 2015.7L814.4 2019.7L806.7 2023.8L799 2027.8L791.3 2031.8L783.6 2035.9L775.8 2039.9L768.1 2043.9L760.4 2048L752.7 2052.1L745 2056.2L737.3 2060.3L729.6 2064.4L721.8 2068.6L714.1 2072.8L706.4 2077.2L698.7 2081.8L691 2086.5L683.3 2091.6L675.5 2096.8L667.8 2102.3L660.1 2107.8L652.4 2113.4Z" fill="#999" fill-opacity="0.4" clip-path="url(#ce2)"/>
<line x1="652.4" y1="2108" x2="837.6" y2="1990.7" stroke="#3366FF" stroke-width="3.2" stroke-linecap="butt"/>
<rect x="646.1" y="1964.6" width="198.1" height="208.5" fill="none" stroke="#000" stroke-width="1.6"/>
<line x1="640.6" y1="1966.3" x2="646.1" y2="1966.3" stroke="#333" stroke-width="1.5"/>
<text x="637.6" y="1974.3" font-size="22.5" text-anchor="end" fill="#1a1a1a" stroke="#1a1a1a" stroke-width="0.45">5</text>
<line x1="640.6" y1="2000.1" x2="646.1" y2="2000.1" stroke="#333" stroke-width="1.5"/>
<text x="637.6" y="2008.1" font-size="22.5" text-anchor="end" fill="#1a1a1a" stroke="#1a1a1a" stroke-width="0.45">4</text>
<line x1="640.6" y1="2034.2" x2="646.1" y2="2034.2" stroke="#333" stroke-width="1.5"/>
<text x="637.6" y="2042.2" font-size="22.5" text-anchor="end" fill="#1a1a1a" stroke="#1a1a1a" stroke-width="0.45">3</text>
<line x1="640.6" y1="2068" x2="646.1" y2="2068" stroke="#333" stroke-width="1.5"/>
<text x="637.6" y="2076" font-size="22.5" text-anchor="end" fill="#1a1a1a" stroke="#1a1a1a" stroke-width="0.45">2</text>
<line x1="640.6" y1="2101.7" x2="646.1" y2="2101.7" stroke="#333" stroke-width="1.5"/>
<text x="637.6" y="2109.7" font-size="22.5" text-anchor="end" fill="#1a1a1a" stroke="#1a1a1a" stroke-width="0.45">1</text>
<line x1="640.6" y1="2135.1" x2="646.1" y2="2135.1" stroke="#333" stroke-width="1.5"/>
<text x="637.6" y="2143.1" font-size="22.5" text-anchor="end" fill="#1a1a1a" stroke="#1a1a1a" stroke-width="0.45">0</text>
<line x1="640.6" y1="2169.2" x2="646.1" y2="2169.2" stroke="#333" stroke-width="1.5"/>
<text x="637.6" y="2177.2" font-size="22.5" text-anchor="end" fill="#1a1a1a" stroke="#1a1a1a" stroke-width="0.45">-1</text>
<text x="745.2" y="1952" font-size="24.5" text-anchor="middle" stroke="#000" stroke-width="0.45">Exhausted CD8</text>
<text x="839.7" y="2160.1" font-size="20.5" text-anchor="end" fill="#E41A1C" stroke="#E41A1C" stroke-width="0.45"><tspan font-style="italic">R</tspan> = 0.6</text>
<clipPath id="ce3"><rect x="887.7" y="1964.6" width="198" height="208.5"/></clipPath>
<line x1="887.7" y1="1992.1" x2="1085.7" y2="1992.1" stroke="#EBEBEB" stroke-width="1.3"/>
<line x1="887.7" y1="2026.2" x2="1085.7" y2="2026.2" stroke="#EBEBEB" stroke-width="1.3"/>
<line x1="887.7" y1="2060.6" x2="1085.7" y2="2060.6" stroke="#EBEBEB" stroke-width="1.3"/>
<line x1="887.7" y1="2094.8" x2="1085.7" y2="2094.8" stroke="#EBEBEB" stroke-width="1.3"/>
<line x1="887.7" y1="2129.2" x2="1085.7" y2="2129.2" stroke="#EBEBEB" stroke-width="1.3"/>
<line x1="887.7" y1="2163.7" x2="1085.7" y2="2163.7" stroke="#EBEBEB" stroke-width="1.3"/>
<g fill="#000"><circle cx="903" cy="2089.1" r="3.3"/><circle cx="905.1" cy="2085.4" r="3.3"/><circle cx="964" cy="2033.8" r="3.3"/><circle cx="934.4" cy="2070.3" r="3.3"/><circle cx="946.1" cy="2061.7" r="3.3"/><circle cx="906.7" cy="2068.1" r="3.3"/><circle cx="923.2" cy="2104.7" r="3.3"/><circle cx="1077.1" cy="1983.4" r="3.3"/><circle cx="987.1" cy="2054.4" r="3.3"/><circle cx="908.7" cy="2110.3" r="3.3"/><circle cx="917.2" cy="2076.7" r="3.3"/><circle cx="1005.2" cy="2055.1" r="3.3"/><circle cx="1020.5" cy="2034.3" r="3.3"/><circle cx="962.6" cy="2056.9" r="3.3"/><circle cx="919.3" cy="2058.7" r="3.3"/><circle cx="902.3" cy="2103.2" r="3.3"/><circle cx="1047.5" cy="2017.5" r="3.3"/><circle cx="992.7" cy="2076.3" r="3.3"/><circle cx="937.5" cy="2100.1" r="3.3"/><circle cx="950.7" cy="2092.8" r="3.3"/><circle cx="906.1" cy="2090.9" r="3.3"/><circle cx="932.2" cy="2035.6" r="3.3"/><circle cx="902.4" cy="2053.4" r="3.3"/><circle cx="929.2" cy="2022.6" r="3.3"/><circle cx="953.8" cy="2047" r="3.3"/><circle cx="946.9" cy="2000.8" r="3.3"/><circle cx="994.6" cy="2003.8" r="3.3"/><circle cx="916.3" cy="2100.4" r="3.3"/><circle cx="915.1" cy="2090.1" r="3.3"/><circle cx="902.5" cy="2059.2" r="3.3"/><circle cx="895.4" cy="2112.7" r="3.3"/><circle cx="933" cy="2038.3" r="3.3"/><circle cx="938.5" cy="2098.9" r="3.3"/><circle cx="920.1" cy="2046.4" r="3.3"/><circle cx="929.4" cy="2077.6" r="3.3"/><circle cx="921.3" cy="2063.2" r="3.3"/><circle cx="919.7" cy="2088.3" r="3.3"/><circle cx="940.7" cy="2014.4" r="3.3"/><circle cx="947.7" cy="2048.2" r="3.3"/><circle cx="933.8" cy="1992.4" r="3.3"/><circle cx="970" cy="2049.1" r="3.3"/><circle cx="1002.1" cy="2053.8" r="3.3"/><circle cx="910.7" cy="2076.6" r="3.3"/><circle cx="968" cy="2063.8" r="3.3"/><circle cx="1018" cy="2011.1" r="3.3"/><circle cx="923.3" cy="2065.3" r="3.3"/><circle cx="1018.9" cy="2030" r="3.3"/><circle cx="931.1" cy="2044.5" r="3.3"/><circle cx="927" cy="2114" r="3.3"/><circle cx="913" cy="1995.2" r="3.3"/><circle cx="932.4" cy="2043.6" r="3.3"/><circle cx="993.6" cy="2040.5" r="3.3"/><circle cx="913.8" cy="2109.1" r="3.3"/><circle cx="937.6" cy="2102.2" r="3.3"/><circle cx="1050" cy="2045.9" r="3.3"/><circle cx="939.1" cy="2084.5" r="3.3"/><circle cx="992.5" cy="2041.7" r="3.3"/><circle cx="925.1" cy="2073.2" r="3.3"/><circle cx="949.9" cy="2108.8" r="3.3"/><circle cx="911.4" cy="2056.3" r="3.3"/><circle cx="921.3" cy="2046.9" r="3.3"/><circle cx="938.1" cy="2050.4" r="3.3"/><circle cx="939.5" cy="2018.1" r="3.3"/><circle cx="1008" cy="1989.2" r="3.3"/><circle cx="919" cy="2099.2" r="3.3"/><circle cx="950.7" cy="2061.1" r="3.3"/><circle cx="920.9" cy="2011.2" r="3.3"/><circle cx="921.9" cy="2046.5" r="3.3"/><circle cx="921.7" cy="2031.4" r="3.3"/><circle cx="948.7" cy="1988.1" r="3.3"/><circle cx="1038" cy="2016.3" r="3.3"/><circle cx="999.2" cy="2028.5" r="3.3"/><circle cx="924.1" cy="2080.2" r="3.3"/><circle cx="942.5" cy="2048.6" r="3.3"/><circle cx="948" cy="2053" r="3.3"/><circle cx="954" cy="2095.3" r="3.3"/><circle cx="924.1" cy="2083" r="3.3"/><circle cx="984.8" cy="2057.8" r="3.3"/><circle cx="961.6" cy="2082.2" r="3.3"/><circle cx="976.4" cy="2042.1" r="3.3"/><circle cx="939.2" cy="2075.4" r="3.3"/><circle cx="1077.4" cy="1991.9" r="3.3"/><circle cx="942.5" cy="2020" r="3.3"/><circle cx="1037.5" cy="2012.2" r="3.3"/><circle cx="945.4" cy="2066.6" r="3.3"/><circle cx="927.2" cy="2017" r="3.3"/><circle cx="907.5" cy="2040.4" r="3.3"/><circle cx="908.3" cy="2103.5" r="3.3"/><circle cx="914" cy="2044.7" r="3.3"/><circle cx="900.2" cy="2120.7" r="3.3"/><circle cx="969.6" cy="2020.5" r="3.3"/><circle cx="918.6" cy="2106.1" r="3.3"/><circle cx="952.3" cy="2030.2" r="3.3"/><circle cx="919.3" cy="2132.4" r="3.3"/><circle cx="936.5" cy="2065.3" r="3.3"/><circle cx="1044.3" cy="2013.1" r="3.3"/><circle cx="919" cy="2101.7" r="3.3"/><circle cx="908.8" cy="2066.8" r="3.3"/><circle cx="1001.8" cy="2060" r="3.3"/><circle cx="947.5" cy="2050.8" r="3.3"/><circle cx="952.1" cy="2091.8" r="3.3"/><circle cx="935.9" cy="2063.8" r="3.3"/><circle cx="1019.1" cy="2016.5" r="3.3"/><circle cx="901" cy="2028.9" r="3.3"/><circle cx="970.8" cy="2042.5" r="3.3"/><circle cx="911.6" cy="2027.6" r="3.3"/><circle cx="922.3" cy="2059.3" r="3.3"/><circle cx="938.4" cy="2051.9" r="3.3"/><circle cx="940.4" cy="2058.9" r="3.3"/><circle cx="953.6" cy="2014.3" r="3.3"/><circle cx="905.3" cy="2072.8" r="3.3"/><circle cx="946.4" cy="2046.1" r="3.3"/><circle cx="1061.5" cy="2025.7" r="3.3"/><circle cx="970.2" cy="2054.2" r="3.3"/><circle cx="915.5" cy="2116.2" r="3.3"/><circle cx="954.2" cy="2113.7" r="3.3"/><circle cx="898" cy="2020.2" r="3.3"/><circle cx="930.4" cy="2008.7" r="3.3"/><circle cx="992.8" cy="2084.7" r="3.3"/><circle cx="936.5" cy="1983" r="3.3"/><circle cx="925.4" cy="2043.1" r="3.3"/><circle cx="911.5" cy="2042.7" r="3.3"/><circle cx="952.8" cy="2022.9" r="3.3"/><circle cx="960.2" cy="2066.9" r="3.3"/><circle cx="920.1" cy="2082.4" r="3.3"/><circle cx="1015.1" cy="2008.3" r="3.3"/><circle cx="1026.8" cy="1983.3" r="3.3"/><circle cx="916.4" cy="2067.3" r="3.3"/><circle cx="997.8" cy="2089" r="3.3"/><circle cx="940.9" cy="2091.8" r="3.3"/><circle cx="914.6" cy="2106.8" r="3.3"/><circle cx="904.9" cy="2066.8" r="3.3"/><circle cx="904.5" cy="2105.4" r="3.3"/><circle cx="938" cy="2094.2" r="3.3"/><circle cx="949.8" cy="2016.9" r="3.3"/><circle cx="979.8" cy="2053.4" r="3.3"/><circle cx="922.6" cy="1993.7" r="3.3"/><circle cx="1058.5" cy="1984.9" r="3.3"/><circle cx="1002.1" cy="2054.8" r="3.3"/><circle cx="916.5" cy="2066.5" r="3.3"/><circle cx="915.6" cy="2065.1" r="3.3"/><circle cx="912" cy="2074.9" r="3.3"/><circle cx="968.5" cy="2071.4" r="3.3"/><circle cx="953.8" cy="2064.3" r="3.3"/><circle cx="937.4" cy="2076.4" r="3.3"/><circle cx="921.9" cy="2079.2" r="3.3"/><circle cx="947.2" cy="2067.4" r="3.3"/><circle cx="1074.1" cy="2042.9" r="3.3"/><circle cx="945.2" cy="2062.5" r="3.3"/><circle cx="916" cy="2030.6" r="3.3"/><circle cx="1003.5" cy="2033.4" r="3.3"/><circle cx="904.7" cy="2101.9" r="3.3"/><circle cx="920.1" cy="2068.3" r="3.3"/><circle cx="902.6" cy="2046.5" r="3.3"/><circle cx="899.1" cy="2042.8" r="3.3"/><circle cx="902.1" cy="2049" r="3.3"/><circle cx="941.3" cy="2104" r="3.3"/><circle cx="921.4" cy="2091.1" r="3.3"/></g>
<path d="M896 2066.8L903.6 2064.9L911.1 2062.9L918.7 2060.8L926.2 2058.6L933.8 2056L941.3 2053.1L948.8 2050L956.4 2046.6L963.9 2043.2L971.5 2039.7L979 2036.1L986.5 2032.5L994.1 2028.9L1001.6 2025.3L1009.2 2021.7L1016.7 2018L1024.3 2014.4L1031.8 2010.7L1039.3 2007.1L1046.9 2003.4L1054.4 1999.7L1062 1996.1L1069.5 1992.4L1077 1988.7L1077 2026.7L1069.5 2028.5L1062 2030.2L1054.4 2031.9L1046.9 2033.7L1039.3 2035.4L1031.8 2037.1L1024.3 2038.9L1016.7 2040.6L1009.2 2042.4L1001.6 2044.1L994.1 2045.9L986.5 2047.7L979 2049.5L971.5 2051.3L963.9 2053.2L956.4 2055.2L948.8 2057.2L941.3 2059.5L933.8 2062L926.2 2064.8L918.7 2067.9L911.1 2071.2L903.6 2074.7L896 2078.2Z" fill="#999" fill-opacity="0.4" clip-path="url(#ce3)"/>
<line x1="896" y1="2072.5" x2="1077" y2="2007.7" stroke="#3366FF" stroke-width="3.2" stroke-linecap="butt"/>
<rect x="887.7" y="1964.6" width="198" height="208.5" fill="none" stroke="#000" stroke-width="1.6"/>
<line x1="882.2" y1="1992.1" x2="887.7" y2="1992.1" stroke="#333" stroke-width="1.5"/>
<text x="879.2" y="2000.1" font-size="22.5" text-anchor="end" fill="#1a1a1a" stroke="#1a1a1a" stroke-width="0.45">4</text>
<line x1="882.2" y1="2026.2" x2="887.7" y2="2026.2" stroke="#333" stroke-width="1.5"/>
<text x="879.2" y="2034.2" font-size="22.5" text-anchor="end" fill="#1a1a1a" stroke="#1a1a1a" stroke-width="0.45">3</text>
<line x1="882.2" y1="2060.6" x2="887.7" y2="2060.6" stroke="#333" stroke-width="1.5"/>
<text x="879.2" y="2068.6" font-size="22.5" text-anchor="end" fill="#1a1a1a" stroke="#1a1a1a" stroke-width="0.45">2</text>
<line x1="882.2" y1="2094.8" x2="887.7" y2="2094.8" stroke="#333" stroke-width="1.5"/>
<text x="879.2" y="2102.8" font-size="22.5" text-anchor="end" fill="#1a1a1a" stroke="#1a1a1a" stroke-width="0.45">1</text>
<line x1="882.2" y1="2129.2" x2="887.7" y2="2129.2" stroke="#333" stroke-width="1.5"/>
<text x="879.2" y="2137.2" font-size="22.5" text-anchor="end" fill="#1a1a1a" stroke="#1a1a1a" stroke-width="0.45">0</text>
<line x1="882.2" y1="2163.7" x2="887.7" y2="2163.7" stroke="#333" stroke-width="1.5"/>
<text x="879.2" y="2171.7" font-size="22.5" text-anchor="end" fill="#1a1a1a" stroke="#1a1a1a" stroke-width="0.45">-1</text>
<text x="986.7" y="1952" font-size="24.5" text-anchor="middle" stroke="#000" stroke-width="0.45">Macrophages</text>
<text x="1081.2" y="2160.1" font-size="20.5" text-anchor="end" fill="#E41A1C" stroke="#E41A1C" stroke-width="0.45"><tspan font-style="italic">R</tspan> = 0.4</text>
<clipPath id="ce4"><rect x="143.8" y="2227.7" width="198.3" height="208.5"/></clipPath>
<line x1="143.8" y1="2266.3" x2="342.1" y2="2266.3" stroke="#EBEBEB" stroke-width="1.3"/>
<line x1="143.8" y1="2317.8" x2="342.1" y2="2317.8" stroke="#EBEBEB" stroke-width="1.3"/>
<line x1="143.8" y1="2369.7" x2="342.1" y2="2369.7" stroke="#EBEBEB" stroke-width="1.3"/>
<line x1="143.8" y1="2421.2" x2="342.1" y2="2421.2" stroke="#EBEBEB" stroke-width="1.3"/>
<g fill="#000"><circle cx="208.7" cy="2276.4" r="3.3"/><circle cx="182.7" cy="2340.2" r="3.3"/><circle cx="168.3" cy="2299.5" r="3.3"/><circle cx="222.1" cy="2306.6" r="3.3"/><circle cx="221.9" cy="2302.4" r="3.3"/><circle cx="190.7" cy="2327.1" r="3.3"/><circle cx="174.1" cy="2306.2" r="3.3"/><circle cx="207.5" cy="2358.8" r="3.3"/><circle cx="232" cy="2326.2" r="3.3"/><circle cx="164.4" cy="2337.8" r="3.3"/><circle cx="159.1" cy="2303.5" r="3.3"/><circle cx="187.3" cy="2278.8" r="3.3"/><circle cx="210.4" cy="2307.5" r="3.3"/><circle cx="206.6" cy="2316.1" r="3.3"/><circle cx="167.4" cy="2320.3" r="3.3"/><circle cx="200" cy="2337.2" r="3.3"/><circle cx="208.4" cy="2284.6" r="3.3"/><circle cx="198.1" cy="2332.3" r="3.3"/><circle cx="163.1" cy="2333.8" r="3.3"/><circle cx="184.2" cy="2287.2" r="3.3"/><circle cx="172.8" cy="2310" r="3.3"/><circle cx="250.5" cy="2341.5" r="3.3"/><circle cx="312.7" cy="2270" r="3.3"/><circle cx="188.3" cy="2330.5" r="3.3"/><circle cx="182.5" cy="2348" r="3.3"/><circle cx="199.6" cy="2307.7" r="3.3"/><circle cx="169.9" cy="2326" r="3.3"/><circle cx="160.5" cy="2270.5" r="3.3"/><circle cx="201.5" cy="2244.9" r="3.3"/><circle cx="202.8" cy="2309.4" r="3.3"/><circle cx="155.1" cy="2264.8" r="3.3"/><circle cx="187.6" cy="2338.4" r="3.3"/><circle cx="225.8" cy="2302" r="3.3"/><circle cx="224.2" cy="2335.8" r="3.3"/><circle cx="241.1" cy="2330.3" r="3.3"/><circle cx="153.9" cy="2296.6" r="3.3"/><circle cx="165.1" cy="2387.5" r="3.3"/><circle cx="176.8" cy="2334.8" r="3.3"/><circle cx="189.9" cy="2349.5" r="3.3"/><circle cx="208.9" cy="2313.2" r="3.3"/><circle cx="313.1" cy="2322" r="3.3"/><circle cx="234.3" cy="2283.3" r="3.3"/><circle cx="262.4" cy="2320.5" r="3.3"/><circle cx="303.5" cy="2310.5" r="3.3"/><circle cx="227.7" cy="2314.8" r="3.3"/><circle cx="153.5" cy="2299.3" r="3.3"/><circle cx="197.1" cy="2254.1" r="3.3"/><circle cx="163.3" cy="2278" r="3.3"/><circle cx="193.6" cy="2295.5" r="3.3"/><circle cx="220" cy="2310.8" r="3.3"/><circle cx="183.5" cy="2276.4" r="3.3"/><circle cx="185.9" cy="2353.9" r="3.3"/><circle cx="214.3" cy="2282" r="3.3"/><circle cx="156.9" cy="2309.2" r="3.3"/><circle cx="318.7" cy="2291.1" r="3.3"/><circle cx="175.8" cy="2359.7" r="3.3"/><circle cx="165.1" cy="2317.7" r="3.3"/><circle cx="296.7" cy="2284.3" r="3.3"/><circle cx="255.7" cy="2315" r="3.3"/><circle cx="157.8" cy="2298.4" r="3.3"/><circle cx="184.2" cy="2240.6" r="3.3"/><circle cx="274.3" cy="2326" r="3.3"/><circle cx="255.6" cy="2279.8" r="3.3"/><circle cx="227.3" cy="2303.4" r="3.3"/><circle cx="206" cy="2306" r="3.3"/><circle cx="178.5" cy="2295.5" r="3.3"/><circle cx="202.2" cy="2341" r="3.3"/><circle cx="174.4" cy="2241.7" r="3.3"/><circle cx="286.5" cy="2310.4" r="3.3"/><circle cx="161.6" cy="2350.8" r="3.3"/><circle cx="176.3" cy="2268.5" r="3.3"/><circle cx="179.3" cy="2278" r="3.3"/><circle cx="168" cy="2263.6" r="3.3"/><circle cx="168.4" cy="2342.6" r="3.3"/><circle cx="205.5" cy="2246.1" r="3.3"/><circle cx="305.2" cy="2308.4" r="3.3"/><circle cx="222.3" cy="2370.3" r="3.3"/><circle cx="195.2" cy="2264.6" r="3.3"/><circle cx="213" cy="2285.5" r="3.3"/><circle cx="180.9" cy="2323.7" r="3.3"/><circle cx="184.2" cy="2317.7" r="3.3"/><circle cx="157.1" cy="2368" r="3.3"/><circle cx="184.1" cy="2275.8" r="3.3"/><circle cx="301.8" cy="2321" r="3.3"/><circle cx="332.2" cy="2316.8" r="3.3"/><circle cx="220.3" cy="2349.9" r="3.3"/><circle cx="259.6" cy="2287.4" r="3.3"/><circle cx="179.8" cy="2307.1" r="3.3"/><circle cx="205.8" cy="2289.4" r="3.3"/><circle cx="156.5" cy="2298.1" r="3.3"/><circle cx="220.5" cy="2319.3" r="3.3"/><circle cx="219" cy="2252.3" r="3.3"/><circle cx="182.7" cy="2275.2" r="3.3"/><circle cx="200.5" cy="2253.5" r="3.3"/><circle cx="271.4" cy="2325.9" r="3.3"/><circle cx="231" cy="2347.5" r="3.3"/><circle cx="317.6" cy="2302.1" r="3.3"/><circle cx="160.1" cy="2247.2" r="3.3"/><circle cx="178.9" cy="2326.1" r="3.3"/><circle cx="300.7" cy="2280.4" r="3.3"/><circle cx="170.4" cy="2290.5" r="3.3"/><circle cx="288.7" cy="2239.6" r="3.3"/><circle cx="155.5" cy="2330.2" r="3.3"/><circle cx="209" cy="2249" r="3.3"/><circle cx="181.8" cy="2287.1" r="3.3"/><circle cx="164.1" cy="2342.5" r="3.3"/><circle cx="212.6" cy="2266.5" r="3.3"/><circle cx="188.8" cy="2339.3" r="3.3"/><circle cx="164.5" cy="2266.3" r="3.3"/><circle cx="200.6" cy="2291.3" r="3.3"/><circle cx="177.8" cy="2292.4" r="3.3"/><circle cx="162.9" cy="2284.3" r="3.3"/><circle cx="158.3" cy="2357.2" r="3.3"/><circle cx="198.2" cy="2261.4" r="3.3"/><circle cx="184.8" cy="2345.9" r="3.3"/><circle cx="184.7" cy="2305.6" r="3.3"/><circle cx="227.9" cy="2329.8" r="3.3"/><circle cx="209.5" cy="2359.9" r="3.3"/><circle cx="169.9" cy="2375" r="3.3"/><circle cx="160.4" cy="2249.9" r="3.3"/><circle cx="320.2" cy="2338.1" r="3.3"/><circle cx="224.8" cy="2268.9" r="3.3"/><circle cx="179.5" cy="2237" r="3.3"/><circle cx="197" cy="2322.4" r="3.3"/><circle cx="202.1" cy="2313.4" r="3.3"/><circle cx="157.4" cy="2252.5" r="3.3"/><circle cx="205.6" cy="2356.8" r="3.3"/><circle cx="176.2" cy="2293.7" r="3.3"/><circle cx="243.2" cy="2307.9" r="3.3"/><circle cx="156.5" cy="2395.1" r="3.3"/><circle cx="168.4" cy="2348.7" r="3.3"/><circle cx="176.2" cy="2343.3" r="3.3"/><circle cx="295.8" cy="2330.4" r="3.3"/><circle cx="175.4" cy="2318" r="3.3"/><circle cx="238.2" cy="2303.6" r="3.3"/><circle cx="194.8" cy="2276" r="3.3"/><circle cx="196.8" cy="2263.1" r="3.3"/><circle cx="166.6" cy="2244.8" r="3.3"/><circle cx="170.9" cy="2368.7" r="3.3"/><circle cx="208.9" cy="2274.9" r="3.3"/><circle cx="177.4" cy="2324.6" r="3.3"/><circle cx="176.2" cy="2329.6" r="3.3"/><circle cx="281" cy="2319.7" r="3.3"/><circle cx="293.9" cy="2296.2" r="3.3"/><circle cx="217.4" cy="2290.8" r="3.3"/><circle cx="208.9" cy="2297.4" r="3.3"/><circle cx="196.2" cy="2266.4" r="3.3"/><circle cx="177" cy="2340.4" r="3.3"/><circle cx="178.4" cy="2321.8" r="3.3"/><circle cx="158.5" cy="2321.8" r="3.3"/><circle cx="265.6" cy="2303" r="3.3"/><circle cx="164.3" cy="2308.1" r="3.3"/><circle cx="196.9" cy="2309.9" r="3.3"/><circle cx="189.5" cy="2274.5" r="3.3"/><circle cx="306.6" cy="2322.2" r="3.3"/><circle cx="173" cy="2318.9" r="3.3"/><circle cx="153.1" cy="2340.7" r="3.3"/><circle cx="213" cy="2331.8" r="3.3"/></g>
<path d="M153.2 2298.6L160.7 2299.8L168.2 2300.9L175.7 2301.9L183.2 2302.7L190.7 2303.1L198.2 2303.2L205.7 2302.9L213.2 2302.5L220.8 2301.9L228.3 2301.3L235.8 2300.6L243.3 2299.9L250.8 2299.2L258.3 2298.5L265.8 2297.7L273.3 2297L280.9 2296.2L288.4 2295.5L295.9 2294.7L303.4 2294L310.9 2293.2L318.4 2292.5L325.9 2291.7L333.4 2290.9L333.4 2332.9L325.9 2331.5L318.4 2330.2L310.9 2328.8L303.4 2327.4L295.9 2326.1L288.4 2324.7L280.9 2323.3L273.3 2322L265.8 2320.6L258.3 2319.3L250.8 2317.9L243.3 2316.6L235.8 2315.3L228.3 2314L220.8 2312.8L213.2 2311.6L205.7 2310.6L198.2 2309.7L190.7 2309.1L183.2 2309L175.7 2309.1L168.2 2309.5L160.7 2310L153.2 2310.6Z" fill="#999" fill-opacity="0.4" clip-path="url(#ce4)"/>
<line x1="153.2" y1="2304.6" x2="333.4" y2="2311.9" stroke="#3366FF" stroke-width="3.2" stroke-linecap="butt"/>
<rect x="143.8" y="2227.7" width="198.3" height="208.5" fill="none" stroke="#000" stroke-width="1.6"/>
<line x1="138.3" y1="2266.3" x2="143.8" y2="2266.3" stroke="#333" stroke-width="1.5"/>
<text x="135.3" y="2274.3" font-size="22.5" text-anchor="end" fill="#1a1a1a" stroke="#1a1a1a" stroke-width="0.45">5.0</text>
<line x1="138.3" y1="2317.8" x2="143.8" y2="2317.8" stroke="#333" stroke-width="1.5"/>
<text x="135.3" y="2325.8" font-size="22.5" text-anchor="end" fill="#1a1a1a" stroke="#1a1a1a" stroke-width="0.45">2.5</text>
<line x1="138.3" y1="2369.7" x2="143.8" y2="2369.7" stroke="#333" stroke-width="1.5"/>
<text x="135.3" y="2377.7" font-size="22.5" text-anchor="end" fill="#1a1a1a" stroke="#1a1a1a" stroke-width="0.45">0.0</text>
<line x1="138.3" y1="2421.2" x2="143.8" y2="2421.2" stroke="#333" stroke-width="1.5"/>
<text x="135.3" y="2429.2" font-size="22.5" text-anchor="end" fill="#1a1a1a" stroke="#1a1a1a" stroke-width="0.45">-2.5</text>
<text x="243" y="2215.1" font-size="24.5" text-anchor="middle" stroke="#000" stroke-width="0.45">Mast cells</text>
<text x="337.6" y="2423.2" font-size="20.5" text-anchor="end" fill="#E41A1C" stroke="#E41A1C" stroke-width="0.45"><tspan font-style="italic">R</tspan> = 0.04</text>
<line x1="151.4" y1="2436.2" x2="151.4" y2="2441.7" stroke="#333" stroke-width="1.5"/>
<text x="151.4" y="2463.7" font-size="24.5" text-anchor="middle" fill="#1a1a1a" stroke="#1a1a1a" stroke-width="0.45">0</text>
<line x1="237.6" y1="2436.2" x2="237.6" y2="2441.7" stroke="#333" stroke-width="1.5"/>
<text x="237.6" y="2463.7" font-size="24.5" text-anchor="middle" fill="#1a1a1a" stroke="#1a1a1a" stroke-width="0.45">0.0005</text>
<line x1="323.7" y1="2436.2" x2="323.7" y2="2441.7" stroke="#333" stroke-width="1.5"/>
<text x="323.7" y="2463.7" font-size="24.5" text-anchor="middle" fill="#1a1a1a" stroke="#1a1a1a" stroke-width="0.45">0.001</text>
<clipPath id="ce5"><rect x="385.3" y="2227.7" width="198.4" height="208.5"/></clipPath>
<line x1="385.3" y1="2259" x2="583.7" y2="2259" stroke="#EBEBEB" stroke-width="1.3"/>
<line x1="385.3" y1="2294.9" x2="583.7" y2="2294.9" stroke="#EBEBEB" stroke-width="1.3"/>
<line x1="385.3" y1="2330.7" x2="583.7" y2="2330.7" stroke="#EBEBEB" stroke-width="1.3"/>
<line x1="385.3" y1="2366.9" x2="583.7" y2="2366.9" stroke="#EBEBEB" stroke-width="1.3"/>
<line x1="385.3" y1="2402.8" x2="583.7" y2="2402.8" stroke="#EBEBEB" stroke-width="1.3"/>
<g fill="#000"><circle cx="432.5" cy="2367.7" r="3.3"/><circle cx="449.7" cy="2331.3" r="3.3"/><circle cx="458.6" cy="2323" r="3.3"/><circle cx="454.8" cy="2313.7" r="3.3"/><circle cx="406.1" cy="2397.6" r="3.3"/><circle cx="443.7" cy="2288.4" r="3.3"/><circle cx="564" cy="2271.7" r="3.3"/><circle cx="435.5" cy="2378.2" r="3.3"/><circle cx="463.4" cy="2310.2" r="3.3"/><circle cx="396" cy="2355.3" r="3.3"/><circle cx="411" cy="2362.9" r="3.3"/><circle cx="441" cy="2326.6" r="3.3"/><circle cx="427.4" cy="2352.9" r="3.3"/><circle cx="457" cy="2279.5" r="3.3"/><circle cx="453.1" cy="2288" r="3.3"/><circle cx="445.6" cy="2332" r="3.3"/><circle cx="495.5" cy="2281" r="3.3"/><circle cx="494.6" cy="2289.4" r="3.3"/><circle cx="422.9" cy="2362.4" r="3.3"/><circle cx="419.6" cy="2380.7" r="3.3"/><circle cx="529.9" cy="2274.9" r="3.3"/><circle cx="404.8" cy="2404.9" r="3.3"/><circle cx="462.7" cy="2338.6" r="3.3"/><circle cx="505.2" cy="2335.4" r="3.3"/><circle cx="443.9" cy="2303.1" r="3.3"/><circle cx="404" cy="2282.8" r="3.3"/><circle cx="423.8" cy="2301" r="3.3"/><circle cx="436.2" cy="2316.9" r="3.3"/><circle cx="532.2" cy="2283" r="3.3"/><circle cx="410.2" cy="2381.8" r="3.3"/><circle cx="406.4" cy="2326.2" r="3.3"/><circle cx="444.6" cy="2360.2" r="3.3"/><circle cx="451.9" cy="2257.5" r="3.3"/><circle cx="408.9" cy="2417.6" r="3.3"/><circle cx="420.6" cy="2395.9" r="3.3"/><circle cx="463.1" cy="2400.4" r="3.3"/><circle cx="438.1" cy="2414" r="3.3"/><circle cx="526.3" cy="2306" r="3.3"/><circle cx="522.3" cy="2302.2" r="3.3"/><circle cx="432.8" cy="2317.9" r="3.3"/><circle cx="559.3" cy="2298.9" r="3.3"/><circle cx="395.6" cy="2424.5" r="3.3"/><circle cx="419.9" cy="2325.2" r="3.3"/><circle cx="406.1" cy="2377" r="3.3"/><circle cx="454.8" cy="2312.8" r="3.3"/><circle cx="503" cy="2273.9" r="3.3"/><circle cx="536.7" cy="2305.9" r="3.3"/><circle cx="463.4" cy="2338.1" r="3.3"/><circle cx="483.5" cy="2324.8" r="3.3"/><circle cx="460.3" cy="2350.4" r="3.3"/><circle cx="416.7" cy="2342.1" r="3.3"/><circle cx="396.1" cy="2264" r="3.3"/><circle cx="410.4" cy="2347.5" r="3.3"/><circle cx="403.8" cy="2333.5" r="3.3"/><circle cx="443.5" cy="2304.4" r="3.3"/><circle cx="448.2" cy="2336" r="3.3"/><circle cx="409.9" cy="2389.6" r="3.3"/><circle cx="564.4" cy="2294.6" r="3.3"/><circle cx="395.9" cy="2304" r="3.3"/><circle cx="543.1" cy="2297.4" r="3.3"/><circle cx="445.3" cy="2298.1" r="3.3"/><circle cx="409.7" cy="2270.1" r="3.3"/><circle cx="422" cy="2300.6" r="3.3"/><circle cx="421.9" cy="2378.7" r="3.3"/><circle cx="413.1" cy="2332.6" r="3.3"/><circle cx="476.4" cy="2279" r="3.3"/><circle cx="550" cy="2264.4" r="3.3"/><circle cx="412.2" cy="2425.7" r="3.3"/><circle cx="568.9" cy="2271.6" r="3.3"/><circle cx="499.1" cy="2249" r="3.3"/><circle cx="412.2" cy="2410.6" r="3.3"/><circle cx="543.1" cy="2302" r="3.3"/><circle cx="438.4" cy="2307.4" r="3.3"/><circle cx="424.8" cy="2361.4" r="3.3"/><circle cx="460.4" cy="2345.6" r="3.3"/><circle cx="427.5" cy="2352.6" r="3.3"/><circle cx="439.4" cy="2331.5" r="3.3"/><circle cx="432" cy="2357" r="3.3"/><circle cx="414.4" cy="2356.3" r="3.3"/><circle cx="420.1" cy="2292.3" r="3.3"/><circle cx="429.6" cy="2335.3" r="3.3"/><circle cx="427.6" cy="2365.2" r="3.3"/><circle cx="457.2" cy="2395.8" r="3.3"/><circle cx="434.2" cy="2384.1" r="3.3"/><circle cx="446.9" cy="2292.6" r="3.3"/><circle cx="420.4" cy="2396.7" r="3.3"/><circle cx="436" cy="2328.4" r="3.3"/><circle cx="441.9" cy="2368" r="3.3"/><circle cx="454.4" cy="2354.9" r="3.3"/><circle cx="516.9" cy="2335.9" r="3.3"/><circle cx="508.3" cy="2319.2" r="3.3"/><circle cx="406.1" cy="2298.6" r="3.3"/><circle cx="454.9" cy="2328.1" r="3.3"/><circle cx="433.4" cy="2344.4" r="3.3"/><circle cx="523.6" cy="2297.6" r="3.3"/><circle cx="405.4" cy="2362.9" r="3.3"/><circle cx="519.5" cy="2271.8" r="3.3"/><circle cx="425.4" cy="2348.6" r="3.3"/><circle cx="417.8" cy="2297.4" r="3.3"/><circle cx="559.7" cy="2280.6" r="3.3"/><circle cx="435.1" cy="2336.7" r="3.3"/><circle cx="446.7" cy="2293.4" r="3.3"/><circle cx="456.2" cy="2334.7" r="3.3"/><circle cx="538.2" cy="2314.1" r="3.3"/><circle cx="455.5" cy="2274.3" r="3.3"/><circle cx="470.4" cy="2330" r="3.3"/><circle cx="525.7" cy="2317.2" r="3.3"/><circle cx="520.4" cy="2319.1" r="3.3"/><circle cx="439.9" cy="2342.7" r="3.3"/><circle cx="473.5" cy="2321.3" r="3.3"/><circle cx="467.7" cy="2344" r="3.3"/><circle cx="558.4" cy="2291.1" r="3.3"/><circle cx="454.6" cy="2298.5" r="3.3"/><circle cx="568.3" cy="2289.8" r="3.3"/><circle cx="421.5" cy="2352.9" r="3.3"/><circle cx="450.3" cy="2331" r="3.3"/><circle cx="461.4" cy="2308.4" r="3.3"/><circle cx="446.7" cy="2356.6" r="3.3"/><circle cx="407.1" cy="2319.5" r="3.3"/><circle cx="408.7" cy="2376.6" r="3.3"/><circle cx="451.9" cy="2297.6" r="3.3"/><circle cx="400.8" cy="2388.4" r="3.3"/><circle cx="470.6" cy="2401.4" r="3.3"/><circle cx="436.3" cy="2340" r="3.3"/><circle cx="419" cy="2325.2" r="3.3"/><circle cx="539.6" cy="2309.2" r="3.3"/><circle cx="410.7" cy="2379.3" r="3.3"/><circle cx="410.9" cy="2338.1" r="3.3"/><circle cx="416.4" cy="2381.1" r="3.3"/><circle cx="416.2" cy="2331" r="3.3"/><circle cx="501.7" cy="2313.8" r="3.3"/><circle cx="450.1" cy="2294.8" r="3.3"/><circle cx="448.3" cy="2376.5" r="3.3"/><circle cx="565.7" cy="2267.4" r="3.3"/><circle cx="421.3" cy="2353.1" r="3.3"/><circle cx="412.2" cy="2382.6" r="3.3"/><circle cx="451.3" cy="2291" r="3.3"/><circle cx="440.9" cy="2321.2" r="3.3"/><circle cx="504.3" cy="2281.3" r="3.3"/><circle cx="434.8" cy="2358.5" r="3.3"/><circle cx="500.9" cy="2283.1" r="3.3"/><circle cx="419.4" cy="2344.3" r="3.3"/><circle cx="399.2" cy="2355.8" r="3.3"/><circle cx="419.5" cy="2352.3" r="3.3"/><circle cx="473.6" cy="2380.4" r="3.3"/><circle cx="436.2" cy="2316.1" r="3.3"/><circle cx="401.6" cy="2360.7" r="3.3"/><circle cx="421.7" cy="2284.2" r="3.3"/><circle cx="430.3" cy="2335" r="3.3"/><circle cx="465.7" cy="2320.2" r="3.3"/><circle cx="410.5" cy="2366.2" r="3.3"/><circle cx="417.4" cy="2318.9" r="3.3"/><circle cx="426.3" cy="2316.2" r="3.3"/><circle cx="487.3" cy="2311.1" r="3.3"/><circle cx="400.7" cy="2253.1" r="3.3"/><circle cx="429.4" cy="2353.3" r="3.3"/><circle cx="438.3" cy="2356" r="3.3"/><circle cx="414.7" cy="2365.3" r="3.3"/></g>
<path d="M394.4 2343.4L401.9 2341.7L409.4 2339.9L416.9 2338L424.5 2335.7L432 2333L439.5 2329.8L447.1 2326.1L454.6 2322.1L462.1 2318.1L469.6 2314L477.2 2309.8L484.7 2305.6L492.2 2301.4L499.7 2297.2L507.3 2293L514.8 2288.8L522.3 2284.6L529.8 2280.4L537.4 2276.1L544.9 2271.9L552.4 2267.7L560 2263.4L567.5 2259.2L575 2254.9L575 2306.9L567.5 2308.5L560 2310.1L552.4 2311.6L544.9 2313.2L537.4 2314.8L529.8 2316.3L522.3 2317.9L514.8 2319.5L507.3 2321.1L499.7 2322.7L492.2 2324.2L484.7 2325.9L477.2 2327.5L469.6 2329.1L462.1 2330.8L454.6 2332.6L447.1 2334.4L439.5 2336.5L432 2339.1L424.5 2342.2L416.9 2345.7L409.4 2349.6L401.9 2353.6L394.4 2357.7Z" fill="#999" fill-opacity="0.4" clip-path="url(#ce5)"/>
<line x1="394.4" y1="2350.6" x2="575" y2="2280.9" stroke="#3366FF" stroke-width="3.2" stroke-linecap="butt"/>
<rect x="385.3" y="2227.7" width="198.4" height="208.5" fill="none" stroke="#000" stroke-width="1.6"/>
<line x1="379.8" y1="2259" x2="385.3" y2="2259" stroke="#333" stroke-width="1.5"/>
<text x="376.8" y="2267" font-size="22.5" text-anchor="end" fill="#1a1a1a" stroke="#1a1a1a" stroke-width="0.45">1</text>
<line x1="379.8" y1="2294.9" x2="385.3" y2="2294.9" stroke="#333" stroke-width="1.5"/>
<text x="376.8" y="2302.9" font-size="22.5" text-anchor="end" fill="#1a1a1a" stroke="#1a1a1a" stroke-width="0.45">0</text>
<line x1="379.8" y1="2330.7" x2="385.3" y2="2330.7" stroke="#333" stroke-width="1.5"/>
<text x="376.8" y="2338.7" font-size="22.5" text-anchor="end" fill="#1a1a1a" stroke="#1a1a1a" stroke-width="0.45">-1</text>
<line x1="379.8" y1="2366.9" x2="385.3" y2="2366.9" stroke="#333" stroke-width="1.5"/>
<text x="376.8" y="2374.9" font-size="22.5" text-anchor="end" fill="#1a1a1a" stroke="#1a1a1a" stroke-width="0.45">-2</text>
<line x1="379.8" y1="2402.8" x2="385.3" y2="2402.8" stroke="#333" stroke-width="1.5"/>
<text x="376.8" y="2410.8" font-size="22.5" text-anchor="end" fill="#1a1a1a" stroke="#1a1a1a" stroke-width="0.45">-3</text>
<text x="484.5" y="2215.1" font-size="24.5" text-anchor="middle" stroke="#000" stroke-width="0.45">Neutrophils</text>
<text x="579.2" y="2423.2" font-size="20.5" text-anchor="end" fill="#E41A1C" stroke="#E41A1C" stroke-width="0.45"><tspan font-style="italic">R</tspan> = 0.3</text>
<line x1="392.9" y1="2436.2" x2="392.9" y2="2441.7" stroke="#333" stroke-width="1.5"/>
<text x="392.9" y="2463.7" font-size="24.5" text-anchor="middle" fill="#1a1a1a" stroke="#1a1a1a" stroke-width="0.45">0</text>
<line x1="479.1" y1="2436.2" x2="479.1" y2="2441.7" stroke="#333" stroke-width="1.5"/>
<text x="479.1" y="2463.7" font-size="24.5" text-anchor="middle" fill="#1a1a1a" stroke="#1a1a1a" stroke-width="0.45">0.0005</text>
<line x1="565.2" y1="2436.2" x2="565.2" y2="2441.7" stroke="#333" stroke-width="1.5"/>
<text x="565.2" y="2463.7" font-size="24.5" text-anchor="middle" fill="#1a1a1a" stroke="#1a1a1a" stroke-width="0.45">0.001</text>
<clipPath id="ce6"><rect x="646.1" y="2227.7" width="198.1" height="208.5"/></clipPath>
<line x1="646.1" y1="2236" x2="844.2" y2="2236" stroke="#EBEBEB" stroke-width="1.3"/>
<line x1="646.1" y1="2289.3" x2="844.2" y2="2289.3" stroke="#EBEBEB" stroke-width="1.3"/>
<line x1="646.1" y1="2342.2" x2="844.2" y2="2342.2" stroke="#EBEBEB" stroke-width="1.3"/>
<line x1="646.1" y1="2395.1" x2="844.2" y2="2395.1" stroke="#EBEBEB" stroke-width="1.3"/>
<g fill="#000"><circle cx="712.5" cy="2321.1" r="3.3"/><circle cx="758.7" cy="2278.4" r="3.3"/><circle cx="726.2" cy="2338.5" r="3.3"/><circle cx="713" cy="2324" r="3.3"/><circle cx="667.1" cy="2356.4" r="3.3"/><circle cx="823" cy="2250" r="3.3"/><circle cx="829.5" cy="2244" r="3.3"/><circle cx="776.6" cy="2277.1" r="3.3"/><circle cx="704.6" cy="2344" r="3.3"/><circle cx="791.4" cy="2298.5" r="3.3"/><circle cx="698.3" cy="2344" r="3.3"/><circle cx="690.4" cy="2348.8" r="3.3"/><circle cx="719.5" cy="2345" r="3.3"/><circle cx="662.5" cy="2313.1" r="3.3"/><circle cx="774.7" cy="2285.8" r="3.3"/><circle cx="666.4" cy="2342.3" r="3.3"/><circle cx="685.8" cy="2333.1" r="3.3"/><circle cx="706.7" cy="2330.2" r="3.3"/><circle cx="701.7" cy="2345.2" r="3.3"/><circle cx="694.7" cy="2321.1" r="3.3"/><circle cx="677.1" cy="2332.2" r="3.3"/><circle cx="683.1" cy="2312.4" r="3.3"/><circle cx="709.1" cy="2335.3" r="3.3"/><circle cx="664.7" cy="2350.8" r="3.3"/><circle cx="746.4" cy="2305.6" r="3.3"/><circle cx="663.4" cy="2367.4" r="3.3"/><circle cx="668.4" cy="2410.4" r="3.3"/><circle cx="721.8" cy="2319.4" r="3.3"/><circle cx="703.4" cy="2339.7" r="3.3"/><circle cx="667" cy="2304.1" r="3.3"/><circle cx="748.5" cy="2320.8" r="3.3"/><circle cx="719.9" cy="2331.1" r="3.3"/><circle cx="769.1" cy="2318.5" r="3.3"/><circle cx="790.6" cy="2260.2" r="3.3"/><circle cx="674.9" cy="2289.2" r="3.3"/><circle cx="790.1" cy="2272.1" r="3.3"/><circle cx="683" cy="2352.9" r="3.3"/><circle cx="688.3" cy="2301.1" r="3.3"/><circle cx="766.9" cy="2275.2" r="3.3"/><circle cx="659.8" cy="2349.5" r="3.3"/><circle cx="673.1" cy="2359.5" r="3.3"/><circle cx="687.9" cy="2340" r="3.3"/><circle cx="779.8" cy="2315.6" r="3.3"/><circle cx="782.2" cy="2281.7" r="3.3"/><circle cx="694.8" cy="2306.2" r="3.3"/><circle cx="798.3" cy="2287.2" r="3.3"/><circle cx="675.4" cy="2334.1" r="3.3"/><circle cx="711.8" cy="2346.8" r="3.3"/><circle cx="692.8" cy="2368.3" r="3.3"/><circle cx="666.9" cy="2353.9" r="3.3"/><circle cx="814.9" cy="2270" r="3.3"/><circle cx="712.1" cy="2326" r="3.3"/><circle cx="706.3" cy="2353.5" r="3.3"/><circle cx="699.9" cy="2339.5" r="3.3"/><circle cx="676.7" cy="2345.9" r="3.3"/><circle cx="710.3" cy="2325.7" r="3.3"/><circle cx="684.1" cy="2342.3" r="3.3"/><circle cx="800.6" cy="2287.5" r="3.3"/><circle cx="703.7" cy="2329.6" r="3.3"/><circle cx="699.7" cy="2363.5" r="3.3"/><circle cx="686.5" cy="2360.1" r="3.3"/><circle cx="716.5" cy="2336.9" r="3.3"/><circle cx="661.9" cy="2337.6" r="3.3"/><circle cx="671.5" cy="2348" r="3.3"/><circle cx="700.8" cy="2347.3" r="3.3"/><circle cx="664.8" cy="2327.3" r="3.3"/><circle cx="684.1" cy="2349.8" r="3.3"/><circle cx="695.5" cy="2364.2" r="3.3"/><circle cx="697.9" cy="2334.7" r="3.3"/><circle cx="686.6" cy="2302.4" r="3.3"/><circle cx="734.3" cy="2305.7" r="3.3"/><circle cx="688.6" cy="2373.3" r="3.3"/><circle cx="693.7" cy="2327.6" r="3.3"/><circle cx="668.5" cy="2276.6" r="3.3"/><circle cx="676.9" cy="2351.3" r="3.3"/><circle cx="826.6" cy="2260.8" r="3.3"/><circle cx="694.9" cy="2322.8" r="3.3"/><circle cx="698.7" cy="2342.9" r="3.3"/><circle cx="658.4" cy="2347.5" r="3.3"/><circle cx="659.6" cy="2377.4" r="3.3"/><circle cx="690.4" cy="2369.1" r="3.3"/><circle cx="679" cy="2303" r="3.3"/><circle cx="714" cy="2308.4" r="3.3"/><circle cx="671.6" cy="2335.7" r="3.3"/><circle cx="746.4" cy="2329" r="3.3"/><circle cx="665.4" cy="2340.4" r="3.3"/><circle cx="677.5" cy="2334.2" r="3.3"/><circle cx="827.5" cy="2260.7" r="3.3"/><circle cx="772.9" cy="2289.4" r="3.3"/><circle cx="690.3" cy="2375.1" r="3.3"/><circle cx="703.8" cy="2336.4" r="3.3"/><circle cx="670.4" cy="2329.4" r="3.3"/><circle cx="709.5" cy="2326.4" r="3.3"/><circle cx="674.2" cy="2325" r="3.3"/><circle cx="700.7" cy="2315.9" r="3.3"/><circle cx="661.4" cy="2340.9" r="3.3"/><circle cx="681.5" cy="2377.5" r="3.3"/><circle cx="702" cy="2357.3" r="3.3"/><circle cx="687.6" cy="2290.1" r="3.3"/><circle cx="728.3" cy="2312.1" r="3.3"/><circle cx="680.8" cy="2360.1" r="3.3"/><circle cx="671" cy="2370.3" r="3.3"/><circle cx="698.7" cy="2338.1" r="3.3"/><circle cx="741" cy="2306.2" r="3.3"/><circle cx="694" cy="2350" r="3.3"/><circle cx="680.3" cy="2365.2" r="3.3"/><circle cx="714.9" cy="2334.9" r="3.3"/><circle cx="688.1" cy="2361.7" r="3.3"/><circle cx="718.1" cy="2288.8" r="3.3"/><circle cx="697.2" cy="2310.1" r="3.3"/><circle cx="676.4" cy="2404.3" r="3.3"/><circle cx="703.3" cy="2341.2" r="3.3"/><circle cx="718.1" cy="2333.9" r="3.3"/><circle cx="741" cy="2279.3" r="3.3"/><circle cx="661.2" cy="2409.8" r="3.3"/><circle cx="693.3" cy="2310.8" r="3.3"/><circle cx="699.9" cy="2339.4" r="3.3"/><circle cx="685.1" cy="2316.4" r="3.3"/><circle cx="811.5" cy="2271.6" r="3.3"/><circle cx="691.6" cy="2377.4" r="3.3"/><circle cx="726.5" cy="2329.3" r="3.3"/><circle cx="800" cy="2242.5" r="3.3"/><circle cx="721.3" cy="2338.8" r="3.3"/><circle cx="705.7" cy="2377.7" r="3.3"/><circle cx="684.7" cy="2346.9" r="3.3"/><circle cx="688.6" cy="2341.8" r="3.3"/><circle cx="668.9" cy="2349.5" r="3.3"/><circle cx="769.5" cy="2286.9" r="3.3"/><circle cx="657.4" cy="2386.4" r="3.3"/><circle cx="694" cy="2388.9" r="3.3"/><circle cx="797.6" cy="2266" r="3.3"/><circle cx="696" cy="2330.4" r="3.3"/><circle cx="691" cy="2329.9" r="3.3"/><circle cx="683.5" cy="2339.7" r="3.3"/><circle cx="667.8" cy="2335.9" r="3.3"/><circle cx="685.6" cy="2356.6" r="3.3"/><circle cx="688.6" cy="2371.4" r="3.3"/><circle cx="724.6" cy="2313.8" r="3.3"/><circle cx="681.2" cy="2333.6" r="3.3"/><circle cx="659.1" cy="2402.4" r="3.3"/><circle cx="835.7" cy="2260.5" r="3.3"/><circle cx="686.2" cy="2356.7" r="3.3"/><circle cx="708.7" cy="2331" r="3.3"/><circle cx="735.5" cy="2322.2" r="3.3"/><circle cx="723.6" cy="2268.7" r="3.3"/><circle cx="716.6" cy="2357.5" r="3.3"/><circle cx="735.3" cy="2304.6" r="3.3"/><circle cx="670.5" cy="2366.5" r="3.3"/><circle cx="802.2" cy="2276.5" r="3.3"/><circle cx="710.5" cy="2326.9" r="3.3"/><circle cx="702.5" cy="2375.7" r="3.3"/><circle cx="708.9" cy="2353.6" r="3.3"/><circle cx="685.6" cy="2348.5" r="3.3"/><circle cx="684.2" cy="2352.6" r="3.3"/><circle cx="735.3" cy="2304.5" r="3.3"/><circle cx="709.1" cy="2320.3" r="3.3"/><circle cx="681.9" cy="2365.5" r="3.3"/><circle cx="731.9" cy="2343.2" r="3.3"/></g>
<path d="M653.8 2353.7L661.4 2350.1L669 2346.3L676.5 2342.5L684.1 2338.4L691.7 2334.1L699.3 2329.6L706.9 2324.8L714.5 2319.8L722.1 2314.6L729.6 2309.5L737.2 2304.2L744.8 2299L752.4 2293.7L760 2288.4L767.6 2283.1L775.2 2277.8L782.7 2272.4L790.3 2267.1L797.9 2261.8L805.5 2256.5L813.1 2251.1L820.7 2245.8L828.2 2240.4L835.8 2235.1L835.8 2271.1L828.2 2274.6L820.7 2278.1L813.1 2281.6L805.5 2285.1L797.9 2288.6L790.3 2292.1L782.7 2295.7L775.2 2299.2L767.6 2302.7L760 2306.3L752.4 2309.8L744.8 2313.4L737.2 2317L729.6 2320.6L722.1 2324.2L714.5 2328L706.9 2331.8L699.3 2335.9L691.7 2340.1L684.1 2344.7L676.5 2349.5L669 2354.5L661.4 2359.6L653.8 2364.8Z" fill="#999" fill-opacity="0.4" clip-path="url(#ce6)"/>
<line x1="653.8" y1="2359.3" x2="835.8" y2="2253.1" stroke="#3366FF" stroke-width="3.2" stroke-linecap="butt"/>
<rect x="646.1" y="2227.7" width="198.1" height="208.5" fill="none" stroke="#000" stroke-width="1.6"/>
<line x1="640.6" y1="2236" x2="646.1" y2="2236" stroke="#333" stroke-width="1.5"/>
<text x="637.6" y="2244" font-size="22.5" text-anchor="end" fill="#1a1a1a" stroke="#1a1a1a" stroke-width="0.45">5.0</text>
<line x1="640.6" y1="2289.3" x2="646.1" y2="2289.3" stroke="#333" stroke-width="1.5"/>
<text x="637.6" y="2297.3" font-size="22.5" text-anchor="end" fill="#1a1a1a" stroke="#1a1a1a" stroke-width="0.45">2.5</text>
<line x1="640.6" y1="2342.2" x2="646.1" y2="2342.2" stroke="#333" stroke-width="1.5"/>
<text x="637.6" y="2350.2" font-size="22.5" text-anchor="end" fill="#1a1a1a" stroke="#1a1a1a" stroke-width="0.45">0.0</text>
<line x1="640.6" y1="2395.1" x2="646.1" y2="2395.1" stroke="#333" stroke-width="1.5"/>
<text x="637.6" y="2403.1" font-size="22.5" text-anchor="end" fill="#1a1a1a" stroke="#1a1a1a" stroke-width="0.45">-2.5</text>
<text x="745.2" y="2215.1" font-size="24.5" text-anchor="middle" stroke="#000" stroke-width="0.45">NK cells</text>
<text x="839.7" y="2423.2" font-size="20.5" text-anchor="end" fill="#E41A1C" stroke="#E41A1C" stroke-width="0.45"><tspan font-style="italic">R</tspan> = 0.6</text>
<line x1="653.7" y1="2436.2" x2="653.7" y2="2441.7" stroke="#333" stroke-width="1.5"/>
<text x="653.7" y="2463.7" font-size="24.5" text-anchor="middle" fill="#1a1a1a" stroke="#1a1a1a" stroke-width="0.45">0</text>
<line x1="739.9" y1="2436.2" x2="739.9" y2="2441.7" stroke="#333" stroke-width="1.5"/>
<text x="739.9" y="2463.7" font-size="24.5" text-anchor="middle" fill="#1a1a1a" stroke="#1a1a1a" stroke-width="0.45">0.0005</text>
<line x1="826" y1="2436.2" x2="826" y2="2441.7" stroke="#333" stroke-width="1.5"/>
<text x="826" y="2463.7" font-size="24.5" text-anchor="middle" fill="#1a1a1a" stroke="#1a1a1a" stroke-width="0.45">0.001</text>
<clipPath id="ce7"><rect x="887.7" y="2227.7" width="198" height="208.5"/></clipPath>
<line x1="887.7" y1="2261.8" x2="1085.7" y2="2261.8" stroke="#EBEBEB" stroke-width="1.3"/>
<line x1="887.7" y1="2306" x2="1085.7" y2="2306" stroke="#EBEBEB" stroke-width="1.3"/>
<line x1="887.7" y1="2350.6" x2="1085.7" y2="2350.6" stroke="#EBEBEB" stroke-width="1.3"/>
<line x1="887.7" y1="2395.1" x2="1085.7" y2="2395.1" stroke="#EBEBEB" stroke-width="1.3"/>
<g fill="#000"><circle cx="897.6" cy="2411.3" r="3.3"/><circle cx="937.2" cy="2334.5" r="3.3"/><circle cx="917.5" cy="2375.1" r="3.3"/><circle cx="987" cy="2320.4" r="3.3"/><circle cx="965.7" cy="2333.7" r="3.3"/><circle cx="923.1" cy="2306" r="3.3"/><circle cx="929.8" cy="2316.8" r="3.3"/><circle cx="932.3" cy="2347.5" r="3.3"/><circle cx="907.3" cy="2312.4" r="3.3"/><circle cx="934.8" cy="2338.3" r="3.3"/><circle cx="900.6" cy="2381.3" r="3.3"/><circle cx="956.8" cy="2341.4" r="3.3"/><circle cx="907.8" cy="2380.7" r="3.3"/><circle cx="967.2" cy="2302.2" r="3.3"/><circle cx="925.4" cy="2346.3" r="3.3"/><circle cx="952.7" cy="2382.7" r="3.3"/><circle cx="930.9" cy="2318.5" r="3.3"/><circle cx="928.7" cy="2303" r="3.3"/><circle cx="960.1" cy="2315" r="3.3"/><circle cx="915.2" cy="2343.8" r="3.3"/><circle cx="924.7" cy="2365" r="3.3"/><circle cx="970.8" cy="2282.4" r="3.3"/><circle cx="914.7" cy="2374.7" r="3.3"/><circle cx="968.6" cy="2353.3" r="3.3"/><circle cx="910.4" cy="2347.1" r="3.3"/><circle cx="916" cy="2382" r="3.3"/><circle cx="967.6" cy="2327.2" r="3.3"/><circle cx="934.9" cy="2337.9" r="3.3"/><circle cx="931.3" cy="2386.4" r="3.3"/><circle cx="1041.2" cy="2259.2" r="3.3"/><circle cx="900.2" cy="2343.1" r="3.3"/><circle cx="923.1" cy="2315.6" r="3.3"/><circle cx="896" cy="2333.2" r="3.3"/><circle cx="968.4" cy="2290.4" r="3.3"/><circle cx="930.4" cy="2318.8" r="3.3"/><circle cx="951" cy="2364.3" r="3.3"/><circle cx="998.7" cy="2344.4" r="3.3"/><circle cx="946.8" cy="2300" r="3.3"/><circle cx="931.9" cy="2287.3" r="3.3"/><circle cx="1036.2" cy="2293.2" r="3.3"/><circle cx="959.8" cy="2307.9" r="3.3"/><circle cx="967.4" cy="2302.4" r="3.3"/><circle cx="971.9" cy="2302.8" r="3.3"/><circle cx="923.2" cy="2387.6" r="3.3"/><circle cx="932.7" cy="2316" r="3.3"/><circle cx="964.5" cy="2289.6" r="3.3"/><circle cx="980.6" cy="2313.6" r="3.3"/><circle cx="930.5" cy="2306.2" r="3.3"/><circle cx="928.4" cy="2300.5" r="3.3"/><circle cx="930.9" cy="2370.9" r="3.3"/><circle cx="952.2" cy="2331.8" r="3.3"/><circle cx="905.8" cy="2344.3" r="3.3"/><circle cx="905.3" cy="2241" r="3.3"/><circle cx="1075.4" cy="2269" r="3.3"/><circle cx="965.9" cy="2310.4" r="3.3"/><circle cx="961.2" cy="2335.7" r="3.3"/><circle cx="924.2" cy="2323" r="3.3"/><circle cx="1059.3" cy="2265.2" r="3.3"/><circle cx="904.4" cy="2362" r="3.3"/><circle cx="941.8" cy="2342.5" r="3.3"/><circle cx="1008.1" cy="2286.8" r="3.3"/><circle cx="898.9" cy="2337.4" r="3.3"/><circle cx="939.8" cy="2313.7" r="3.3"/><circle cx="907.7" cy="2350.4" r="3.3"/><circle cx="976.6" cy="2346.6" r="3.3"/><circle cx="933.8" cy="2327" r="3.3"/><circle cx="936.7" cy="2298" r="3.3"/><circle cx="953.6" cy="2336.6" r="3.3"/><circle cx="981.7" cy="2310.6" r="3.3"/><circle cx="945.5" cy="2299.4" r="3.3"/><circle cx="942.9" cy="2270.5" r="3.3"/><circle cx="989.1" cy="2298.5" r="3.3"/><circle cx="1024.1" cy="2303.1" r="3.3"/><circle cx="923.4" cy="2316.1" r="3.3"/><circle cx="1044.5" cy="2274" r="3.3"/><circle cx="933" cy="2295.4" r="3.3"/><circle cx="949.8" cy="2333" r="3.3"/><circle cx="914.9" cy="2333.7" r="3.3"/><circle cx="918.1" cy="2343.5" r="3.3"/><circle cx="936.3" cy="2316" r="3.3"/><circle cx="950.1" cy="2357.3" r="3.3"/><circle cx="927.7" cy="2353.7" r="3.3"/><circle cx="905.4" cy="2327.3" r="3.3"/><circle cx="932.3" cy="2320.5" r="3.3"/><circle cx="930.8" cy="2338.7" r="3.3"/><circle cx="1015.4" cy="2312.7" r="3.3"/><circle cx="943.3" cy="2341.4" r="3.3"/><circle cx="1014.4" cy="2288.4" r="3.3"/><circle cx="940.1" cy="2358.4" r="3.3"/><circle cx="1020.4" cy="2275" r="3.3"/><circle cx="974.6" cy="2332.1" r="3.3"/><circle cx="963.1" cy="2311.4" r="3.3"/><circle cx="960.1" cy="2296" r="3.3"/><circle cx="918.4" cy="2335.7" r="3.3"/><circle cx="938.6" cy="2312.8" r="3.3"/><circle cx="904.7" cy="2336.2" r="3.3"/><circle cx="923.6" cy="2310.9" r="3.3"/><circle cx="903.6" cy="2360.5" r="3.3"/><circle cx="914.1" cy="2365" r="3.3"/><circle cx="1067.3" cy="2255.2" r="3.3"/><circle cx="947.1" cy="2364.5" r="3.3"/><circle cx="933.6" cy="2336" r="3.3"/><circle cx="932.3" cy="2376" r="3.3"/><circle cx="915.4" cy="2417.5" r="3.3"/><circle cx="929.2" cy="2309.2" r="3.3"/><circle cx="1039.3" cy="2287.3" r="3.3"/><circle cx="933.8" cy="2349.3" r="3.3"/><circle cx="896" cy="2359.3" r="3.3"/><circle cx="919.7" cy="2318.9" r="3.3"/><circle cx="940.4" cy="2303.8" r="3.3"/><circle cx="911.5" cy="2303.2" r="3.3"/><circle cx="976.5" cy="2342.2" r="3.3"/><circle cx="1052.5" cy="2256.1" r="3.3"/><circle cx="993.7" cy="2324.6" r="3.3"/><circle cx="938.1" cy="2358.3" r="3.3"/><circle cx="904.1" cy="2321.6" r="3.3"/><circle cx="970" cy="2296.3" r="3.3"/><circle cx="1069.6" cy="2268.4" r="3.3"/><circle cx="918.8" cy="2338.4" r="3.3"/><circle cx="913.8" cy="2300.7" r="3.3"/><circle cx="915.3" cy="2317" r="3.3"/><circle cx="933" cy="2370.8" r="3.3"/><circle cx="1072.5" cy="2235.8" r="3.3"/><circle cx="909.1" cy="2370.4" r="3.3"/><circle cx="908.4" cy="2401.5" r="3.3"/><circle cx="924.8" cy="2353.3" r="3.3"/><circle cx="966.3" cy="2316.3" r="3.3"/><circle cx="917.1" cy="2376.5" r="3.3"/><circle cx="904.7" cy="2340.6" r="3.3"/><circle cx="1037.5" cy="2269.2" r="3.3"/><circle cx="998" cy="2300.4" r="3.3"/><circle cx="902.2" cy="2378.2" r="3.3"/><circle cx="1058.6" cy="2261.1" r="3.3"/><circle cx="938.3" cy="2301.2" r="3.3"/><circle cx="896.4" cy="2393.5" r="3.3"/><circle cx="943.2" cy="2303.9" r="3.3"/><circle cx="904.4" cy="2342.6" r="3.3"/><circle cx="921.1" cy="2331.5" r="3.3"/><circle cx="920.7" cy="2317.9" r="3.3"/><circle cx="921" cy="2355.9" r="3.3"/><circle cx="966.5" cy="2303.9" r="3.3"/><circle cx="924.5" cy="2317.6" r="3.3"/><circle cx="922" cy="2307.6" r="3.3"/><circle cx="914.1" cy="2320.9" r="3.3"/><circle cx="923.8" cy="2306.4" r="3.3"/><circle cx="950.3" cy="2329.4" r="3.3"/><circle cx="951.1" cy="2289.7" r="3.3"/><circle cx="897" cy="2276.7" r="3.3"/><circle cx="983.9" cy="2280" r="3.3"/><circle cx="905.3" cy="2356.5" r="3.3"/><circle cx="932.6" cy="2315.6" r="3.3"/><circle cx="903.2" cy="2424.2" r="3.3"/><circle cx="1028.5" cy="2282.8" r="3.3"/><circle cx="942.7" cy="2326.9" r="3.3"/><circle cx="951.5" cy="2335.2" r="3.3"/><circle cx="966.7" cy="2320.1" r="3.3"/><circle cx="933.8" cy="2342.5" r="3.3"/><circle cx="941.4" cy="2299.6" r="3.3"/></g>
<path d="M895 2349.7L902.6 2346.1L910.2 2342.5L917.8 2338.7L925.3 2334.8L932.9 2330.7L940.5 2326.3L948.1 2321.7L955.7 2316.9L963.3 2312L970.9 2307L978.4 2302L986 2296.9L993.6 2291.8L1001.2 2286.7L1008.8 2281.6L1016.4 2276.5L1023.9 2271.4L1031.5 2266.2L1039.1 2261.1L1046.7 2256L1054.3 2250.8L1061.9 2245.7L1069.5 2240.5L1077 2235.4L1077 2269.4L1069.5 2272.8L1061.9 2276.2L1054.3 2279.6L1046.7 2283.1L1039.1 2286.5L1031.5 2289.9L1023.9 2293.3L1016.4 2296.8L1008.8 2300.2L1001.2 2303.6L993.6 2307.1L986 2310.6L978.4 2314.1L970.9 2317.6L963.3 2321.2L955.7 2324.8L948.1 2328.6L940.5 2332.5L932.9 2336.7L925.3 2341.1L917.8 2345.7L910.2 2350.5L902.6 2355.5L895 2360.4Z" fill="#999" fill-opacity="0.4" clip-path="url(#ce7)"/>
<line x1="895" y1="2355.1" x2="1077" y2="2252.4" stroke="#3366FF" stroke-width="3.2" stroke-linecap="butt"/>
<rect x="887.7" y="2227.7" width="198" height="208.5" fill="none" stroke="#000" stroke-width="1.6"/>
<line x1="882.2" y1="2261.8" x2="887.7" y2="2261.8" stroke="#333" stroke-width="1.5"/>
<text x="879.2" y="2269.8" font-size="22.5" text-anchor="end" fill="#1a1a1a" stroke="#1a1a1a" stroke-width="0.45">4</text>
<line x1="882.2" y1="2306" x2="887.7" y2="2306" stroke="#333" stroke-width="1.5"/>
<text x="879.2" y="2314" font-size="22.5" text-anchor="end" fill="#1a1a1a" stroke="#1a1a1a" stroke-width="0.45">2</text>
<line x1="882.2" y1="2350.6" x2="887.7" y2="2350.6" stroke="#333" stroke-width="1.5"/>
<text x="879.2" y="2358.6" font-size="22.5" text-anchor="end" fill="#1a1a1a" stroke="#1a1a1a" stroke-width="0.45">0</text>
<line x1="882.2" y1="2395.1" x2="887.7" y2="2395.1" stroke="#333" stroke-width="1.5"/>
<text x="879.2" y="2403.1" font-size="22.5" text-anchor="end" fill="#1a1a1a" stroke="#1a1a1a" stroke-width="0.45">-2</text>
<text x="986.7" y="2215.1" font-size="24.5" text-anchor="middle" stroke="#000" stroke-width="0.45">Th1 cells</text>
<text x="1081.2" y="2423.2" font-size="20.5" text-anchor="end" fill="#E41A1C" stroke="#E41A1C" stroke-width="0.45"><tspan font-style="italic">R</tspan> = 0.6</text>
<line x1="895.3" y1="2436.2" x2="895.3" y2="2441.7" stroke="#333" stroke-width="1.5"/>
<text x="895.3" y="2463.7" font-size="24.5" text-anchor="middle" fill="#1a1a1a" stroke="#1a1a1a" stroke-width="0.45">0</text>
<line x1="981.5" y1="2436.2" x2="981.5" y2="2441.7" stroke="#333" stroke-width="1.5"/>
<text x="981.5" y="2463.7" font-size="24.5" text-anchor="middle" fill="#1a1a1a" stroke="#1a1a1a" stroke-width="0.45">0.0005</text>
<line x1="1067.6" y1="2436.2" x2="1067.6" y2="2441.7" stroke="#333" stroke-width="1.5"/>
<text x="1067.6" y="2463.7" font-size="24.5" text-anchor="middle" fill="#1a1a1a" stroke="#1a1a1a" stroke-width="0.45">0.001</text>
<text x="79" y="2206" font-size="27.3" text-anchor="middle" stroke="#000" stroke-width="0.45" transform="rotate(-90 79 2206)">Abundance (RNA-seq)</text>
<text x="615" y="2509" font-size="27.5" text-anchor="middle" stroke="#000" stroke-width="0.45">Lymphocyte density (digital pathology)</text>
<text x="1218" y="1909" font-size="29" font-weight="bold" stroke="#000" stroke-width="0.45">f</text>
<path fill="#5312F4" d="M1359.4 1933.2h112v4h-112zM1529.2 1933.2h53.9v4h-53.9zM1359.4 1936.9h112v4h-112zM1529.2 1936.9h53.9v4h-53.9zM1359.4 1940.6h107.5v4h-107.5zM1538.1 1940.6h45v4h-45zM1359.4 1944.3h36v4h-36zM1556 1944.3h27.1v4h-27.1zM1359.4 1948h36v4h-36zM1560.5 1948h22.6v4h-22.6zM1359.4 1951.6h31.6v4h-31.6zM1564.9 1951.6h18.2v4h-18.2zM1359.4 1955.3h27.1v4h-27.1zM1569.4 1955.3h13.7v4h-13.7zM1359.4 1959h22.6v4h-22.6zM1569.4 1959h13.7v4h-13.7zM1359.4 1962.7h22.6v4h-22.6zM1573.9 1962.7h9.2v4h-9.2zM1359.4 1966.4h18.2v4h-18.2zM1573.9 1966.4h9.2v4h-9.2zM1359.4 1970.1h13.7v4h-13.7zM1573.9 1970.1h9.2v4h-9.2zM1359.4 1973.8h13.7v4h-13.7zM1573.9 1973.8h9.2v4h-9.2zM1359.4 1977.5h13.7v4h-13.7zM1573.9 1977.5h9.2v4h-9.2zM1359.4 1981.1h13.7v4h-13.7zM1573.9 1981.1h9.2v4h-9.2zM1359.4 1984.8h9.2v4h-9.2zM1573.9 1984.8h9.2v4h-9.2zM1359.4 1988.5h9.2v4h-9.2zM1573.9 1988.5h9.2v4h-9.2zM1359.4 1992.2h9.2v4h-9.2zM1573.9 1992.2h9.2v4h-9.2zM1359.4 1995.9h9.2v4h-9.2zM1573.9 1995.9h9.2v4h-9.2zM1359.4 1999.6h9.2v4h-9.2zM1573.9 1999.6h9.2v4h-9.2zM1359.4 2003.3h9.2v4h-9.2zM1573.9 2003.3h9.2v4h-9.2zM1359.4 2007h9.2v4h-9.2zM1573.9 2007h9.2v4h-9.2zM1359.4 2010.6h9.2v4h-9.2zM1573.9 2010.6h9.2v4h-9.2zM1359.4 2014.3h9.2v4h-9.2zM1573.9 2014.3h9.2v4h-9.2zM1359.4 2018h9.2v4h-9.2zM1573.9 2018h9.2v4h-9.2zM1359.4 2021.7h9.2v4h-9.2zM1573.9 2021.7h9.2v4h-9.2zM1359.4 2025.4h9.2v4h-9.2zM1573.9 2025.4h9.2v4h-9.2zM1359.4 2029.1h9.2v4h-9.2zM1573.9 2029.1h9.2v4h-9.2zM1359.4 2032.8h13.7v4h-13.7zM1573.9 2032.8h9.2v4h-9.2zM1359.4 2036.5h13.7v4h-13.7zM1573.9 2036.5h9.2v4h-9.2zM1359.4 2040.2h13.7v4h-13.7zM1573.9 2040.2h9.2v4h-9.2zM1359.4 2043.8h13.7v4h-13.7zM1573.9 2043.8h9.2v4h-9.2zM1359.4 2047.5h18.2v4h-18.2zM1573.9 2047.5h9.2v4h-9.2zM1359.4 2051.2h22.6v4h-22.6zM1573.9 2051.2h9.2v4h-9.2zM1359.4 2054.9h22.6v4h-22.6zM1573.9 2054.9h9.2v4h-9.2zM1359.4 2058.6h22.6v4h-22.6zM1573.9 2058.6h9.2v4h-9.2zM1359.4 2062.3h22.6v4h-22.6zM1569.4 2062.3h13.7v4h-13.7zM1359.4 2066h22.6v4h-22.6zM1569.4 2066h13.7v4h-13.7zM1359.4 2069.7h27.1v4h-27.1zM1564.9 2069.7h18.2v4h-18.2zM1359.4 2073.3h31.6v4h-31.6zM1564.9 2073.3h18.2v4h-18.2zM1359.4 2077h31.6v4h-31.6zM1560.5 2077h22.6v4h-22.6zM1359.4 2080.7h31.6v4h-31.6zM1556 2080.7h27.1v4h-27.1zM1359.4 2084.4h36v4h-36zM1551.5 2084.4h31.6v4h-31.6zM1359.4 2088.1h36v4h-36zM1547.1 2088.1h36v4h-36zM1359.4 2091.8h40.5v4h-40.5zM1547.1 2091.8h36v4h-36zM1359.4 2095.5h120.9v4h-120.9zM1542.6 2095.5h40.5v4h-40.5zM1359.4 2099.2h125.4v4h-125.4zM1538.1 2099.2h45v4h-45zM1359.4 2102.8h125.4v4h-125.4zM1533.7 2102.8h49.4v4h-49.4zM1359.4 2106.5h223.7v4h-223.7zM1359.4 2110.2h223.7v4h-223.7zM1359.4 2113.9h223.7v4h-223.7z"/>
<path fill="#0A2AF8" d="M1471.1 1933.2h58.4v4h-58.4zM1471.1 1936.9h58.4v4h-58.4zM1466.6 1940.6h18.2v4h-18.2zM1520.2 1940.6h18.2v4h-18.2zM1395.1 1944.3h80.7v4h-80.7zM1529.2 1944.3h27.1v4h-27.1zM1395.1 1948h76.3v4h-76.3zM1538.1 1948h22.6v4h-22.6zM1390.7 1951.6h53.9v4h-53.9zM1551.5 1951.6h13.7v4h-13.7zM1386.2 1955.3h22.6v4h-22.6zM1560.5 1955.3h9.2v4h-9.2zM1381.7 1959h22.6v4h-22.6zM1560.5 1959h9.2v4h-9.2zM1381.7 1962.7h18.2v4h-18.2zM1564.9 1962.7h9.2v4h-9.2zM1377.3 1966.4h18.2v4h-18.2zM1564.9 1966.4h9.2v4h-9.2zM1372.8 1970.1h22.6v4h-22.6zM1569.4 1970.1h4.8v4h-4.8zM1372.8 1973.8h22.6v4h-22.6zM1569.4 1973.8h4.8v4h-4.8zM1372.8 1977.5h18.2v4h-18.2zM1569.4 1977.5h4.8v4h-4.8zM1372.8 1981.1h18.2v4h-18.2zM1569.4 1981.1h4.8v4h-4.8zM1368.3 1984.8h22.6v4h-22.6zM1569.4 1984.8h4.8v4h-4.8zM1368.3 1988.5h22.6v4h-22.6zM1569.4 1988.5h4.8v4h-4.8zM1368.3 1992.2h22.6v4h-22.6zM1569.4 1992.2h4.8v4h-4.8zM1368.3 1995.9h22.6v4h-22.6zM1569.4 1995.9h4.8v4h-4.8zM1368.3 1999.6h22.6v4h-22.6zM1569.4 1999.6h4.8v4h-4.8zM1368.3 2003.3h22.6v4h-22.6zM1569.4 2003.3h4.8v4h-4.8zM1368.3 2007h22.6v4h-22.6zM1569.4 2007h4.8v4h-4.8zM1368.3 2010.6h22.6v4h-22.6zM1569.4 2010.6h4.8v4h-4.8zM1368.3 2014.3h22.6v4h-22.6zM1569.4 2014.3h4.8v4h-4.8zM1368.3 2018h22.6v4h-22.6zM1569.4 2018h4.8v4h-4.8zM1368.3 2021.7h22.6v4h-22.6zM1569.4 2021.7h4.8v4h-4.8zM1368.3 2025.4h22.6v4h-22.6zM1569.4 2025.4h4.8v4h-4.8zM1368.3 2029.1h22.6v4h-22.6zM1569.4 2029.1h4.8v4h-4.8zM1372.8 2032.8h18.2v4h-18.2zM1564.9 2032.8h9.2v4h-9.2zM1372.8 2036.5h18.2v4h-18.2zM1564.9 2036.5h9.2v4h-9.2zM1372.8 2040.2h18.2v4h-18.2zM1564.9 2040.2h9.2v4h-9.2zM1372.8 2043.8h18.2v4h-18.2zM1564.9 2043.8h9.2v4h-9.2zM1377.3 2047.5h13.7v4h-13.7zM1564.9 2047.5h9.2v4h-9.2zM1381.7 2051.2h9.2v4h-9.2zM1564.9 2051.2h9.2v4h-9.2zM1381.7 2054.9h9.2v4h-9.2zM1564.9 2054.9h9.2v4h-9.2zM1381.7 2058.6h13.7v4h-13.7zM1560.5 2058.6h13.7v4h-13.7zM1381.7 2062.3h13.7v4h-13.7zM1560.5 2062.3h9.2v4h-9.2zM1381.7 2066h13.7v4h-13.7zM1560.5 2066h9.2v4h-9.2zM1386.2 2069.7h13.7v4h-13.7zM1556 2069.7h9.2v4h-9.2zM1390.7 2073.3h9.2v4h-9.2zM1426.4 2073.3h40.5v4h-40.5zM1551.5 2073.3h13.7v4h-13.7zM1390.7 2077h13.7v4h-13.7zM1426.4 2077h45v4h-45zM1547.1 2077h13.7v4h-13.7zM1390.7 2080.7h22.6v4h-22.6zM1417.5 2080.7h58.4v4h-58.4zM1542.6 2080.7h13.7v4h-13.7zM1395.1 2084.4h89.7v4h-89.7zM1533.7 2084.4h18.2v4h-18.2zM1395.1 2088.1h98.6v4h-98.6zM1529.2 2088.1h18.2v4h-18.2zM1399.6 2091.8h98.6v4h-98.6zM1520.2 2091.8h27.1v4h-27.1zM1480 2095.5h62.9v4h-62.9zM1484.5 2099.2h53.9v4h-53.9zM1484.5 2102.8h49.4v4h-49.4z"/>
<path fill="#1282FF" d="M1484.5 1940.6h36v4h-36zM1475.6 1944.3h53.9v4h-53.9zM1471.1 1948h13.7v4h-13.7zM1524.7 1948h13.7v4h-13.7zM1444.3 1951.6h31.6v4h-31.6zM1538.1 1951.6h13.7v4h-13.7zM1408.5 1955.3h53.9v4h-53.9zM1547.1 1955.3h13.7v4h-13.7zM1404.1 1959h36v4h-36zM1556 1959h4.8v4h-4.8zM1399.6 1962.7h31.6v4h-31.6zM1556 1962.7h9.2v4h-9.2zM1395.1 1966.4h18.2v4h-18.2zM1560.5 1966.4h4.8v4h-4.8zM1395.1 1970.1h13.7v4h-13.7zM1560.5 1970.1h9.2v4h-9.2zM1395.1 1973.8h9.2v4h-9.2zM1560.5 1973.8h9.2v4h-9.2zM1390.7 1977.5h13.7v4h-13.7zM1560.5 1977.5h9.2v4h-9.2zM1390.7 1981.1h13.7v4h-13.7zM1560.5 1981.1h9.2v4h-9.2zM1390.7 1984.8h13.7v4h-13.7zM1560.5 1984.8h9.2v4h-9.2zM1390.7 1988.5h13.7v4h-13.7zM1560.5 1988.5h9.2v4h-9.2zM1390.7 1992.2h13.7v4h-13.7zM1560.5 1992.2h9.2v4h-9.2zM1390.7 1995.9h13.7v4h-13.7zM1560.5 1995.9h9.2v4h-9.2zM1390.7 1999.6h18.2v4h-18.2zM1560.5 1999.6h9.2v4h-9.2zM1390.7 2003.3h22.6v4h-22.6zM1560.5 2003.3h9.2v4h-9.2zM1390.7 2007h22.6v4h-22.6zM1560.5 2007h9.2v4h-9.2zM1390.7 2010.6h22.6v4h-22.6zM1560.5 2010.6h9.2v4h-9.2zM1390.7 2014.3h22.6v4h-22.6zM1560.5 2014.3h9.2v4h-9.2zM1390.7 2018h27.1v4h-27.1zM1560.5 2018h9.2v4h-9.2zM1390.7 2021.7h22.6v4h-22.6zM1560.5 2021.7h9.2v4h-9.2zM1390.7 2025.4h22.6v4h-22.6zM1560.5 2025.4h9.2v4h-9.2zM1390.7 2029.1h22.6v4h-22.6zM1560.5 2029.1h9.2v4h-9.2zM1390.7 2032.8h22.6v4h-22.6zM1560.5 2032.8h4.8v4h-4.8zM1390.7 2036.5h18.2v4h-18.2zM1556 2036.5h9.2v4h-9.2zM1390.7 2040.2h13.7v4h-13.7zM1556 2040.2h9.2v4h-9.2zM1390.7 2043.8h13.7v4h-13.7zM1556 2043.8h9.2v4h-9.2zM1390.7 2047.5h13.7v4h-13.7zM1556 2047.5h9.2v4h-9.2zM1390.7 2051.2h13.7v4h-13.7zM1556 2051.2h9.2v4h-9.2zM1390.7 2054.9h13.7v4h-13.7zM1556 2054.9h9.2v4h-9.2zM1395.1 2058.6h9.2v4h-9.2zM1422 2058.6h31.6v4h-31.6zM1556 2058.6h4.8v4h-4.8zM1395.1 2062.3h9.2v4h-9.2zM1417.5 2062.3h40.5v4h-40.5zM1551.5 2062.3h9.2v4h-9.2zM1395.1 2066h13.7v4h-13.7zM1413 2066h53.9v4h-53.9zM1547.1 2066h13.7v4h-13.7zM1399.6 2069.7h76.3v4h-76.3zM1542.6 2069.7h13.7v4h-13.7zM1399.6 2073.3h27.1v4h-27.1zM1466.6 2073.3h13.7v4h-13.7zM1538.1 2073.3h13.7v4h-13.7zM1404.1 2077h22.6v4h-22.6zM1471.1 2077h13.7v4h-13.7zM1533.7 2077h13.7v4h-13.7zM1413 2080.7h4.8v4h-4.8zM1475.6 2080.7h22.6v4h-22.6zM1520.2 2080.7h22.6v4h-22.6zM1484.5 2084.4h49.4v4h-49.4zM1493.4 2088.1h36v4h-36zM1497.9 2091.8h22.6v4h-22.6z"/>
<path fill="#10E2FF" d="M1484.5 1948h40.5v4h-40.5zM1475.6 1951.6h13.7v4h-13.7zM1524.7 1951.6h13.7v4h-13.7zM1462.2 1955.3h18.2v4h-18.2zM1538.1 1955.3h9.2v4h-9.2zM1439.8 1959h27.1v4h-27.1zM1547.1 1959h9.2v4h-9.2zM1430.9 1962.7h27.1v4h-27.1zM1551.5 1962.7h4.8v4h-4.8zM1413 1966.4h31.6v4h-31.6zM1551.5 1966.4h9.2v4h-9.2zM1408.5 1970.1h22.6v4h-22.6zM1551.5 1970.1h9.2v4h-9.2zM1404.1 1973.8h22.6v4h-22.6zM1551.5 1973.8h9.2v4h-9.2zM1404.1 1977.5h22.6v4h-22.6zM1551.5 1977.5h9.2v4h-9.2zM1404.1 1981.1h22.6v4h-22.6zM1551.5 1981.1h9.2v4h-9.2zM1404.1 1984.8h22.6v4h-22.6zM1551.5 1984.8h9.2v4h-9.2zM1404.1 1988.5h22.6v4h-22.6zM1551.5 1988.5h9.2v4h-9.2zM1404.1 1992.2h22.6v4h-22.6zM1551.5 1992.2h9.2v4h-9.2zM1404.1 1995.9h22.6v4h-22.6zM1551.5 1995.9h9.2v4h-9.2zM1408.5 1999.6h22.6v4h-22.6zM1551.5 1999.6h9.2v4h-9.2zM1413 2003.3h45v4h-45zM1551.5 2003.3h9.2v4h-9.2zM1413 2007h45v4h-45zM1551.5 2007h9.2v4h-9.2zM1413 2010.6h45v4h-45zM1551.5 2010.6h9.2v4h-9.2zM1413 2014.3h49.4v4h-49.4zM1551.5 2014.3h9.2v4h-9.2zM1417.5 2018h45v4h-45zM1551.5 2018h9.2v4h-9.2zM1413 2021.7h49.4v4h-49.4zM1551.5 2021.7h9.2v4h-9.2zM1413 2025.4h53.9v4h-53.9zM1551.5 2025.4h9.2v4h-9.2zM1413 2029.1h58.4v4h-58.4zM1551.5 2029.1h9.2v4h-9.2zM1413 2032.8h58.4v4h-58.4zM1551.5 2032.8h9.2v4h-9.2zM1408.5 2036.5h62.9v4h-62.9zM1547.1 2036.5h9.2v4h-9.2zM1404.1 2040.2h67.3v4h-67.3zM1547.1 2040.2h9.2v4h-9.2zM1404.1 2043.8h67.3v4h-67.3zM1547.1 2043.8h9.2v4h-9.2zM1404.1 2047.5h67.3v4h-67.3zM1547.1 2047.5h9.2v4h-9.2zM1404.1 2051.2h67.3v4h-67.3zM1547.1 2051.2h9.2v4h-9.2zM1404.1 2054.9h67.3v4h-67.3zM1547.1 2054.9h9.2v4h-9.2zM1404.1 2058.6h18.2v4h-18.2zM1453.2 2058.6h31.6v4h-31.6zM1542.6 2058.6h13.7v4h-13.7zM1404.1 2062.3h13.7v4h-13.7zM1457.7 2062.3h36v4h-36zM1538.1 2062.3h13.7v4h-13.7zM1408.5 2066h4.8v4h-4.8zM1466.6 2066h27.1v4h-27.1zM1533.7 2066h13.7v4h-13.7zM1475.6 2069.7h31.6v4h-31.6zM1524.7 2069.7h18.2v4h-18.2zM1480 2073.3h58.4v4h-58.4zM1484.5 2077h49.4v4h-49.4zM1497.9 2080.7h22.6v4h-22.6z"/>
<path fill="#16F854" d="M1489 1951.6h36v4h-36zM1480 1955.3h13.7v4h-13.7zM1529.2 1955.3h9.2v4h-9.2zM1466.6 1959h18.2v4h-18.2zM1538.1 1959h9.2v4h-9.2zM1457.7 1962.7h18.2v4h-18.2zM1542.6 1962.7h9.2v4h-9.2zM1444.3 1966.4h27.1v4h-27.1zM1542.6 1966.4h9.2v4h-9.2zM1430.9 1970.1h36v4h-36zM1547.1 1970.1h4.8v4h-4.8zM1426.4 1973.8h40.5v4h-40.5zM1547.1 1973.8h4.8v4h-4.8zM1426.4 1977.5h40.5v4h-40.5zM1547.1 1977.5h4.8v4h-4.8zM1426.4 1981.1h40.5v4h-40.5zM1547.1 1981.1h4.8v4h-4.8zM1426.4 1984.8h40.5v4h-40.5zM1547.1 1984.8h4.8v4h-4.8zM1426.4 1988.5h40.5v4h-40.5zM1547.1 1988.5h4.8v4h-4.8zM1426.4 1992.2h45v4h-45zM1547.1 1992.2h4.8v4h-4.8zM1426.4 1995.9h45v4h-45zM1547.1 1995.9h4.8v4h-4.8zM1430.9 1999.6h45v4h-45zM1542.6 1999.6h9.2v4h-9.2zM1457.7 2003.3h22.6v4h-22.6zM1542.6 2003.3h9.2v4h-9.2zM1457.7 2007h22.6v4h-22.6zM1542.6 2007h9.2v4h-9.2zM1457.7 2010.6h27.1v4h-27.1zM1542.6 2010.6h9.2v4h-9.2zM1462.2 2014.3h27.1v4h-27.1zM1542.6 2014.3h9.2v4h-9.2zM1462.2 2018h27.1v4h-27.1zM1542.6 2018h9.2v4h-9.2zM1462.2 2021.7h27.1v4h-27.1zM1542.6 2021.7h9.2v4h-9.2zM1466.6 2025.4h27.1v4h-27.1zM1542.6 2025.4h9.2v4h-9.2zM1471.1 2029.1h22.6v4h-22.6zM1542.6 2029.1h9.2v4h-9.2zM1471.1 2032.8h22.6v4h-22.6zM1538.1 2032.8h13.7v4h-13.7zM1471.1 2036.5h22.6v4h-22.6zM1538.1 2036.5h9.2v4h-9.2zM1471.1 2040.2h22.6v4h-22.6zM1533.7 2040.2h13.7v4h-13.7zM1471.1 2043.8h22.6v4h-22.6zM1529.2 2043.8h18.2v4h-18.2zM1471.1 2047.5h22.6v4h-22.6zM1529.2 2047.5h18.2v4h-18.2zM1471.1 2051.2h22.6v4h-22.6zM1529.2 2051.2h18.2v4h-18.2zM1471.1 2054.9h27.1v4h-27.1zM1529.2 2054.9h18.2v4h-18.2zM1484.5 2058.6h18.2v4h-18.2zM1524.7 2058.6h18.2v4h-18.2zM1493.4 2062.3h45v4h-45zM1493.4 2066h40.5v4h-40.5zM1506.8 2069.7h18.2v4h-18.2z"/>
<path fill="#E2FA12" d="M1493.4 1955.3h36v4h-36zM1484.5 1959h18.2v4h-18.2zM1524.7 1959h13.7v4h-13.7zM1475.6 1962.7h18.2v4h-18.2zM1533.7 1962.7h9.2v4h-9.2zM1471.1 1966.4h18.2v4h-18.2zM1538.1 1966.4h4.8v4h-4.8zM1466.6 1970.1h9.2v4h-9.2zM1538.1 1970.1h9.2v4h-9.2zM1466.6 1973.8h9.2v4h-9.2zM1538.1 1973.8h9.2v4h-9.2zM1466.6 1977.5h9.2v4h-9.2zM1538.1 1977.5h9.2v4h-9.2zM1466.6 1981.1h9.2v4h-9.2zM1538.1 1981.1h9.2v4h-9.2zM1466.6 1984.8h9.2v4h-9.2zM1538.1 1984.8h9.2v4h-9.2zM1466.6 1988.5h9.2v4h-9.2zM1538.1 1988.5h9.2v4h-9.2zM1471.1 1992.2h9.2v4h-9.2zM1538.1 1992.2h9.2v4h-9.2zM1471.1 1995.9h13.7v4h-13.7zM1538.1 1995.9h9.2v4h-9.2zM1475.6 1999.6h13.7v4h-13.7zM1538.1 1999.6h4.8v4h-4.8zM1480 2003.3h9.2v4h-9.2zM1533.7 2003.3h9.2v4h-9.2zM1480 2007h13.7v4h-13.7zM1533.7 2007h9.2v4h-9.2zM1484.5 2010.6h9.2v4h-9.2zM1533.7 2010.6h9.2v4h-9.2zM1489 2014.3h9.2v4h-9.2zM1533.7 2014.3h9.2v4h-9.2zM1489 2018h9.2v4h-9.2zM1533.7 2018h9.2v4h-9.2zM1489 2021.7h9.2v4h-9.2zM1533.7 2021.7h9.2v4h-9.2zM1493.4 2025.4h9.2v4h-9.2zM1533.7 2025.4h9.2v4h-9.2zM1493.4 2029.1h9.2v4h-9.2zM1533.7 2029.1h9.2v4h-9.2zM1493.4 2032.8h9.2v4h-9.2zM1529.2 2032.8h9.2v4h-9.2zM1493.4 2036.5h13.7v4h-13.7zM1524.7 2036.5h13.7v4h-13.7zM1493.4 2040.2h13.7v4h-13.7zM1524.7 2040.2h9.2v4h-9.2zM1493.4 2043.8h13.7v4h-13.7zM1524.7 2043.8h4.8v4h-4.8zM1493.4 2047.5h13.7v4h-13.7zM1524.7 2047.5h4.8v4h-4.8zM1493.4 2051.2h13.7v4h-13.7zM1524.7 2051.2h4.8v4h-4.8zM1497.9 2054.9h31.6v4h-31.6zM1502.4 2058.6h22.6v4h-22.6z"/>
<path fill="#FCFA14" d="M1502.4 1959h22.6v4h-22.6zM1493.4 1962.7h40.5v4h-40.5zM1489 1966.4h22.6v4h-22.6zM1520.2 1966.4h18.2v4h-18.2zM1475.6 1970.1h31.6v4h-31.6zM1524.7 1970.1h13.7v4h-13.7zM1475.6 1973.8h27.1v4h-27.1zM1524.7 1973.8h13.7v4h-13.7zM1475.6 1977.5h22.6v4h-22.6zM1524.7 1977.5h13.7v4h-13.7zM1475.6 1981.1h18.2v4h-18.2zM1524.7 1981.1h13.7v4h-13.7zM1475.6 1984.8h18.2v4h-18.2zM1524.7 1984.8h13.7v4h-13.7zM1475.6 1988.5h18.2v4h-18.2zM1524.7 1988.5h13.7v4h-13.7zM1480 1992.2h13.7v4h-13.7zM1524.7 1992.2h13.7v4h-13.7zM1484.5 1995.9h9.2v4h-9.2zM1524.7 1995.9h13.7v4h-13.7zM1489 1999.6h9.2v4h-9.2zM1524.7 1999.6h13.7v4h-13.7zM1489 2003.3h13.7v4h-13.7zM1524.7 2003.3h9.2v4h-9.2zM1493.4 2007h13.7v4h-13.7zM1524.7 2007h9.2v4h-9.2zM1493.4 2010.6h13.7v4h-13.7zM1524.7 2010.6h9.2v4h-9.2zM1497.9 2014.3h36v4h-36zM1497.9 2018h36v4h-36zM1497.9 2021.7h36v4h-36zM1502.4 2025.4h31.6v4h-31.6zM1502.4 2029.1h31.6v4h-31.6zM1502.4 2032.8h27.1v4h-27.1zM1506.8 2036.5h18.2v4h-18.2zM1506.8 2040.2h18.2v4h-18.2zM1506.8 2043.8h18.2v4h-18.2zM1506.8 2047.5h18.2v4h-18.2zM1506.8 2051.2h18.2v4h-18.2z"/>
<path fill="#FBDFBC" d="M1511.3 1966.4h9.2v4h-9.2zM1506.8 1970.1h18.2v4h-18.2zM1502.4 1973.8h22.6v4h-22.6zM1497.9 1977.5h27.1v4h-27.1zM1493.4 1981.1h31.6v4h-31.6zM1493.4 1984.8h31.6v4h-31.6zM1493.4 1988.5h31.6v4h-31.6zM1493.4 1992.2h31.6v4h-31.6zM1493.4 1995.9h31.6v4h-31.6zM1497.9 1999.6h27.1v4h-27.1zM1502.4 2003.3h22.6v4h-22.6zM1506.8 2007h18.2v4h-18.2zM1506.8 2010.6h18.2v4h-18.2z"/>
<path d="M1471.1 1933.2V2117.6M1359.4 2025.4H1582.8" stroke="#000" stroke-width="1.5" stroke-dasharray="5 4" fill="none"/>
<path d="M1359.4 1933.2V2117.6M1359.4 2117.6H1582.8" stroke="#000" stroke-width="1.3" fill="none"/>
<line x1="1347.4" y1="1933.2" x2="1359.4" y2="1933.2" stroke="#000" stroke-width="1.5"/>
<line x1="1359.4" y1="2117.6" x2="1359.4" y2="2130.1" stroke="#000" stroke-width="1.5"/>
<line x1="1347.4" y1="1979.3" x2="1359.4" y2="1979.3" stroke="#000" stroke-width="1.5"/>
<line x1="1415.2" y1="2117.6" x2="1415.2" y2="2130.1" stroke="#000" stroke-width="1.5"/>
<line x1="1347.4" y1="2025.4" x2="1359.4" y2="2025.4" stroke="#000" stroke-width="1.5"/>
<line x1="1471.1" y1="2117.6" x2="1471.1" y2="2130.1" stroke="#000" stroke-width="1.5"/>
<line x1="1347.4" y1="2071.5" x2="1359.4" y2="2071.5" stroke="#000" stroke-width="1.5"/>
<line x1="1527" y1="2117.6" x2="1527" y2="2130.1" stroke="#000" stroke-width="1.5"/>
<line x1="1347.4" y1="2117.6" x2="1359.4" y2="2117.6" stroke="#000" stroke-width="1.5"/>
<line x1="1582.8" y1="2117.6" x2="1582.8" y2="2130.1" stroke="#000" stroke-width="1.5"/>
<text x="1332.4" y="1933.2" font-size="23.8" text-anchor="middle" stroke="#000" stroke-width="0.45" transform="rotate(-90 1332.4 1933.2)">1.0</text>
<text x="1332.4" y="2025.4" font-size="23.8" text-anchor="middle" stroke="#000" stroke-width="0.45" transform="rotate(-90 1332.4 2025.4)">0.0</text>
<text x="1332.4" y="2117.6" font-size="23.8" text-anchor="middle" stroke="#000" stroke-width="0.45" transform="rotate(-90 1332.4 2117.6)">-1.0</text>
<text x="1359.4" y="2162.1" font-size="23.8" text-anchor="middle" stroke="#000" stroke-width="0.45">-1.0</text>
<text x="1471.1" y="2162.1" font-size="23.8" text-anchor="middle" stroke="#000" stroke-width="0.45">0.0</text>
<text x="1582.8" y="2162.1" font-size="23.8" text-anchor="middle" stroke="#000" stroke-width="0.45">1.0</text>
<text x="1471.1" y="1918.7" font-size="23.7" text-anchor="middle" stroke="#000" stroke-width="0.45">pCR</text>
<path fill="#5312F4" d="M1642.4 1933.2h67.3v4h-67.3zM1843.4 1933.2h22.6v4h-22.6zM1642.4 1936.9h67.3v4h-67.3zM1843.4 1936.9h22.6v4h-22.6zM1642.4 1940.6h58.4v4h-58.4zM1843.4 1940.6h22.6v4h-22.6zM1642.4 1944.3h36v4h-36zM1843.4 1944.3h22.6v4h-22.6zM1642.4 1948h31.6v4h-31.6zM1843.4 1948h22.6v4h-22.6zM1642.4 1951.6h31.6v4h-31.6zM1852.3 1951.6h13.7v4h-13.7zM1642.4 1955.3h27.1v4h-27.1zM1856.8 1955.3h9.2v4h-9.2zM1642.4 1959h22.6v4h-22.6zM1856.8 1959h9.2v4h-9.2zM1642.4 1962.7h22.6v4h-22.6zM1856.8 1962.7h9.2v4h-9.2zM1642.4 1966.4h22.6v4h-22.6zM1856.8 1966.4h9.2v4h-9.2zM1642.4 1970.1h22.6v4h-22.6zM1856.8 1970.1h9.2v4h-9.2zM1642.4 1973.8h22.6v4h-22.6zM1856.8 1973.8h9.2v4h-9.2zM1642.4 1977.5h18.2v4h-18.2zM1856.8 1977.5h9.2v4h-9.2zM1642.4 1981.1h13.7v4h-13.7zM1856.8 1981.1h9.2v4h-9.2zM1642.4 1984.8h13.7v4h-13.7zM1856.8 1984.8h9.2v4h-9.2zM1642.4 1988.5h9.2v4h-9.2zM1856.8 1988.5h9.2v4h-9.2zM1642.4 1992.2h9.2v4h-9.2zM1856.8 1992.2h9.2v4h-9.2zM1642.4 1995.9h9.2v4h-9.2zM1856.8 1995.9h9.2v4h-9.2zM1642.4 1999.6h9.2v4h-9.2zM1856.8 1999.6h9.2v4h-9.2zM1642.4 2003.3h9.2v4h-9.2zM1852.3 2003.3h13.7v4h-13.7zM1642.4 2007h9.2v4h-9.2zM1847.8 2007h18.2v4h-18.2zM1642.4 2010.6h9.2v4h-9.2zM1847.8 2010.6h18.2v4h-18.2zM1642.4 2014.3h9.2v4h-9.2zM1852.3 2014.3h13.7v4h-13.7zM1642.4 2018h9.2v4h-9.2zM1852.3 2018h13.7v4h-13.7zM1642.4 2021.7h4.8v4h-4.8zM1852.3 2021.7h13.7v4h-13.7zM1852.3 2025.4h13.7v4h-13.7zM1856.8 2029.1h9.2v4h-9.2zM1852.3 2032.8h13.7v4h-13.7zM1852.3 2036.5h13.7v4h-13.7zM1852.3 2040.2h13.7v4h-13.7zM1852.3 2043.8h13.7v4h-13.7zM1847.8 2047.5h18.2v4h-18.2zM1843.4 2051.2h22.6v4h-22.6zM1843.4 2054.9h22.6v4h-22.6zM1642.4 2058.6h4.8v4h-4.8zM1838.9 2058.6h27.1v4h-27.1zM1642.4 2062.3h9.2v4h-9.2zM1834.4 2062.3h31.6v4h-31.6zM1642.4 2066h9.2v4h-9.2zM1834.4 2066h31.6v4h-31.6zM1642.4 2069.7h9.2v4h-9.2zM1834.4 2069.7h31.6v4h-31.6zM1642.4 2073.3h13.7v4h-13.7zM1830 2073.3h36v4h-36zM1642.4 2077h13.7v4h-13.7zM1830 2077h36v4h-36zM1642.4 2080.7h18.2v4h-18.2zM1825.5 2080.7h40.5v4h-40.5zM1642.4 2084.4h22.6v4h-22.6zM1821 2084.4h45v4h-45zM1642.4 2088.1h22.6v4h-22.6zM1821 2088.1h45v4h-45zM1642.4 2091.8h27.1v4h-27.1zM1816.6 2091.8h49.4v4h-49.4zM1642.4 2095.5h31.6v4h-31.6zM1812.1 2095.5h53.9v4h-53.9zM1642.4 2099.2h36v4h-36zM1807.6 2099.2h58.4v4h-58.4zM1642.4 2102.8h36v4h-36zM1807.6 2102.8h58.4v4h-58.4zM1642.4 2106.5h223.6v4h-223.6zM1642.4 2110.2h223.6v4h-223.6zM1642.4 2113.9h223.6v4h-223.6z"/>
<path fill="#0A2AF8" d="M1709.4 1933.2h53.9v4h-53.9zM1821 1933.2h22.6v4h-22.6zM1709.4 1936.9h53.9v4h-53.9zM1821 1936.9h22.6v4h-22.6zM1700.5 1940.6h22.6v4h-22.6zM1825.5 1940.6h18.2v4h-18.2zM1678.1 1944.3h31.6v4h-31.6zM1830 1944.3h13.7v4h-13.7zM1673.7 1948h27.1v4h-27.1zM1834.4 1948h9.2v4h-9.2zM1673.7 1951.6h18.2v4h-18.2zM1838.9 1951.6h13.7v4h-13.7zM1669.2 1955.3h13.7v4h-13.7zM1843.4 1955.3h13.7v4h-13.7zM1664.7 1959h13.7v4h-13.7zM1847.8 1959h9.2v4h-9.2zM1664.7 1962.7h13.7v4h-13.7zM1852.3 1962.7h4.8v4h-4.8zM1664.7 1966.4h13.7v4h-13.7zM1852.3 1966.4h4.8v4h-4.8zM1664.7 1970.1h9.2v4h-9.2zM1852.3 1970.1h4.8v4h-4.8zM1664.7 1973.8h9.2v4h-9.2zM1852.3 1973.8h4.8v4h-4.8zM1660.3 1977.5h13.7v4h-13.7zM1852.3 1977.5h4.8v4h-4.8zM1655.8 1981.1h18.2v4h-18.2zM1852.3 1981.1h4.8v4h-4.8zM1655.8 1984.8h18.2v4h-18.2zM1852.3 1984.8h4.8v4h-4.8zM1651.3 1988.5h18.2v4h-18.2zM1852.3 1988.5h4.8v4h-4.8zM1651.3 1992.2h13.7v4h-13.7zM1852.3 1992.2h4.8v4h-4.8zM1651.3 1995.9h13.7v4h-13.7zM1847.8 1995.9h9.2v4h-9.2zM1651.3 1999.6h13.7v4h-13.7zM1843.4 1999.6h13.7v4h-13.7zM1651.3 2003.3h13.7v4h-13.7zM1838.9 2003.3h13.7v4h-13.7zM1651.3 2007h13.7v4h-13.7zM1812.1 2007h36v4h-36zM1651.3 2010.6h13.7v4h-13.7zM1807.6 2010.6h40.5v4h-40.5zM1651.3 2014.3h13.7v4h-13.7zM1803.2 2014.3h49.4v4h-49.4zM1651.3 2018h13.7v4h-13.7zM1798.7 2018h53.9v4h-53.9zM1646.9 2021.7h13.7v4h-13.7zM1798.7 2021.7h53.9v4h-53.9zM1642.4 2025.4h13.7v4h-13.7zM1803.2 2025.4h49.4v4h-49.4zM1642.4 2029.1h13.7v4h-13.7zM1803.2 2029.1h53.9v4h-53.9zM1642.4 2032.8h13.7v4h-13.7zM1803.2 2032.8h49.4v4h-49.4zM1642.4 2036.5h9.2v4h-9.2zM1807.6 2036.5h45v4h-45zM1642.4 2040.2h9.2v4h-9.2zM1807.6 2040.2h45v4h-45zM1642.4 2043.8h9.2v4h-9.2zM1807.6 2043.8h45v4h-45zM1642.4 2047.5h9.2v4h-9.2zM1812.1 2047.5h36v4h-36zM1642.4 2051.2h13.7v4h-13.7zM1812.1 2051.2h31.6v4h-31.6zM1642.4 2054.9h13.7v4h-13.7zM1812.1 2054.9h31.6v4h-31.6zM1646.9 2058.6h13.7v4h-13.7zM1812.1 2058.6h27.1v4h-27.1zM1651.3 2062.3h13.7v4h-13.7zM1812.1 2062.3h22.6v4h-22.6zM1651.3 2066h13.7v4h-13.7zM1812.1 2066h22.6v4h-22.6zM1651.3 2069.7h18.2v4h-18.2zM1812.1 2069.7h22.6v4h-22.6zM1655.8 2073.3h18.2v4h-18.2zM1807.6 2073.3h22.6v4h-22.6zM1655.8 2077h22.6v4h-22.6zM1807.6 2077h22.6v4h-22.6zM1660.3 2080.7h18.2v4h-18.2zM1807.6 2080.7h18.2v4h-18.2zM1664.7 2084.4h18.2v4h-18.2zM1803.2 2084.4h18.2v4h-18.2zM1664.7 2088.1h22.6v4h-22.6zM1798.7 2088.1h22.6v4h-22.6zM1669.2 2091.8h22.6v4h-22.6zM1794.2 2091.8h22.6v4h-22.6zM1673.7 2095.5h31.6v4h-31.6zM1749.6 2095.5h62.8v4h-62.8zM1678.1 2099.2h129.8v4h-129.8zM1678.1 2102.8h129.8v4h-129.8z"/>
<path fill="#1282FF" d="M1763 1933.2h13.7v4h-13.7zM1807.6 1933.2h13.7v4h-13.7zM1763 1936.9h13.7v4h-13.7zM1812.1 1936.9h9.2v4h-9.2zM1722.8 1940.6h45v4h-45zM1812.1 1940.6h13.7v4h-13.7zM1709.4 1944.3h22.6v4h-22.6zM1816.6 1944.3h13.7v4h-13.7zM1700.5 1948h22.6v4h-22.6zM1821 1948h13.7v4h-13.7zM1691.5 1951.6h18.2v4h-18.2zM1825.5 1951.6h13.7v4h-13.7zM1682.6 1955.3h13.7v4h-13.7zM1834.4 1955.3h9.2v4h-9.2zM1678.1 1959h13.7v4h-13.7zM1838.9 1959h9.2v4h-9.2zM1678.1 1962.7h9.2v4h-9.2zM1843.4 1962.7h9.2v4h-9.2zM1678.1 1966.4h9.2v4h-9.2zM1843.4 1966.4h9.2v4h-9.2zM1673.7 1970.1h13.7v4h-13.7zM1847.8 1970.1h4.8v4h-4.8zM1673.7 1973.8h13.7v4h-13.7zM1847.8 1973.8h4.8v4h-4.8zM1673.7 1977.5h13.7v4h-13.7zM1847.8 1977.5h4.8v4h-4.8zM1673.7 1981.1h13.7v4h-13.7zM1847.8 1981.1h4.8v4h-4.8zM1673.7 1984.8h13.7v4h-13.7zM1847.8 1984.8h4.8v4h-4.8zM1669.2 1988.5h13.7v4h-13.7zM1843.4 1988.5h9.2v4h-9.2zM1664.7 1992.2h13.7v4h-13.7zM1843.4 1992.2h9.2v4h-9.2zM1664.7 1995.9h13.7v4h-13.7zM1838.9 1995.9h9.2v4h-9.2zM1664.7 1999.6h13.7v4h-13.7zM1830 1999.6h13.7v4h-13.7zM1664.7 2003.3h13.7v4h-13.7zM1812.1 2003.3h27.1v4h-27.1zM1664.7 2007h13.7v4h-13.7zM1798.7 2007h13.7v4h-13.7zM1664.7 2010.6h9.2v4h-9.2zM1794.2 2010.6h13.7v4h-13.7zM1664.7 2014.3h9.2v4h-9.2zM1789.8 2014.3h13.7v4h-13.7zM1664.7 2018h9.2v4h-9.2zM1789.8 2018h9.2v4h-9.2zM1660.3 2021.7h13.7v4h-13.7zM1789.8 2021.7h9.2v4h-9.2zM1655.8 2025.4h13.7v4h-13.7zM1794.2 2025.4h9.2v4h-9.2zM1655.8 2029.1h9.2v4h-9.2zM1794.2 2029.1h9.2v4h-9.2zM1655.8 2032.8h9.2v4h-9.2zM1794.2 2032.8h9.2v4h-9.2zM1651.3 2036.5h13.7v4h-13.7zM1798.7 2036.5h9.2v4h-9.2zM1651.3 2040.2h13.7v4h-13.7zM1798.7 2040.2h9.2v4h-9.2zM1651.3 2043.8h13.7v4h-13.7zM1798.7 2043.8h9.2v4h-9.2zM1651.3 2047.5h13.7v4h-13.7zM1798.7 2047.5h13.7v4h-13.7zM1655.8 2051.2h9.2v4h-9.2zM1798.7 2051.2h13.7v4h-13.7zM1655.8 2054.9h13.7v4h-13.7zM1798.7 2054.9h13.7v4h-13.7zM1660.3 2058.6h9.2v4h-9.2zM1798.7 2058.6h13.7v4h-13.7zM1664.7 2062.3h9.2v4h-9.2zM1798.7 2062.3h13.7v4h-13.7zM1664.7 2066h13.7v4h-13.7zM1798.7 2066h13.7v4h-13.7zM1669.2 2069.7h13.7v4h-13.7zM1798.7 2069.7h13.7v4h-13.7zM1673.7 2073.3h13.7v4h-13.7zM1798.7 2073.3h9.2v4h-9.2zM1678.1 2077h9.2v4h-9.2zM1798.7 2077h9.2v4h-9.2zM1678.1 2080.7h13.7v4h-13.7zM1794.2 2080.7h13.7v4h-13.7zM1682.6 2084.4h13.7v4h-13.7zM1763 2084.4h40.5v4h-40.5zM1687.1 2088.1h13.7v4h-13.7zM1749.6 2088.1h49.4v4h-49.4zM1691.5 2091.8h103v4h-103zM1704.9 2095.5h45v4h-45z"/>
<path fill="#10E2FF" d="M1776.4 1933.2h31.6v4h-31.6zM1776.4 1936.9h36v4h-36zM1767.4 1940.6h45v4h-45zM1731.7 1944.3h49.4v4h-49.4zM1803.2 1944.3h13.7v4h-13.7zM1722.8 1948h13.7v4h-13.7zM1812.1 1948h9.2v4h-9.2zM1709.4 1951.6h18.2v4h-18.2zM1816.6 1951.6h9.2v4h-9.2zM1696 1955.3h22.6v4h-22.6zM1825.5 1955.3h9.2v4h-9.2zM1691.5 1959h9.2v4h-9.2zM1830 1959h9.2v4h-9.2zM1687.1 1962.7h13.7v4h-13.7zM1834.4 1962.7h9.2v4h-9.2zM1687.1 1966.4h13.7v4h-13.7zM1838.9 1966.4h4.8v4h-4.8zM1687.1 1970.1h13.7v4h-13.7zM1838.9 1970.1h9.2v4h-9.2zM1687.1 1973.8h9.2v4h-9.2zM1838.9 1973.8h9.2v4h-9.2zM1687.1 1977.5h9.2v4h-9.2zM1838.9 1977.5h9.2v4h-9.2zM1687.1 1981.1h9.2v4h-9.2zM1838.9 1981.1h9.2v4h-9.2zM1687.1 1984.8h9.2v4h-9.2zM1838.9 1984.8h9.2v4h-9.2zM1682.6 1988.5h13.7v4h-13.7zM1838.9 1988.5h4.8v4h-4.8zM1678.1 1992.2h18.2v4h-18.2zM1834.4 1992.2h9.2v4h-9.2zM1678.1 1995.9h18.2v4h-18.2zM1830 1995.9h9.2v4h-9.2zM1678.1 1999.6h18.2v4h-18.2zM1812.1 1999.6h18.2v4h-18.2zM1678.1 2003.3h13.7v4h-13.7zM1798.7 2003.3h13.7v4h-13.7zM1678.1 2007h9.2v4h-9.2zM1789.8 2007h9.2v4h-9.2zM1673.7 2010.6h13.7v4h-13.7zM1780.8 2010.6h13.7v4h-13.7zM1673.7 2014.3h13.7v4h-13.7zM1780.8 2014.3h9.2v4h-9.2zM1673.7 2018h13.7v4h-13.7zM1776.4 2018h13.7v4h-13.7zM1673.7 2021.7h9.2v4h-9.2zM1780.8 2021.7h9.2v4h-9.2zM1669.2 2025.4h9.2v4h-9.2zM1785.3 2025.4h9.2v4h-9.2zM1664.7 2029.1h13.7v4h-13.7zM1785.3 2029.1h9.2v4h-9.2zM1664.7 2032.8h13.7v4h-13.7zM1785.3 2032.8h9.2v4h-9.2zM1664.7 2036.5h9.2v4h-9.2zM1789.8 2036.5h9.2v4h-9.2zM1664.7 2040.2h9.2v4h-9.2zM1789.8 2040.2h9.2v4h-9.2zM1664.7 2043.8h9.2v4h-9.2zM1789.8 2043.8h9.2v4h-9.2zM1664.7 2047.5h9.2v4h-9.2zM1785.3 2047.5h13.7v4h-13.7zM1664.7 2051.2h13.7v4h-13.7zM1785.3 2051.2h13.7v4h-13.7zM1669.2 2054.9h9.2v4h-9.2zM1785.3 2054.9h13.7v4h-13.7zM1669.2 2058.6h13.7v4h-13.7zM1785.3 2058.6h13.7v4h-13.7zM1673.7 2062.3h13.7v4h-13.7zM1785.3 2062.3h13.7v4h-13.7zM1678.1 2066h9.2v4h-9.2zM1785.3 2066h13.7v4h-13.7zM1682.6 2069.7h9.2v4h-9.2zM1785.3 2069.7h13.7v4h-13.7zM1687.1 2073.3h9.2v4h-9.2zM1785.3 2073.3h13.7v4h-13.7zM1687.1 2077h13.7v4h-13.7zM1780.8 2077h18.2v4h-18.2zM1691.5 2080.7h13.7v4h-13.7zM1749.6 2080.7h45v4h-45zM1696 2084.4h67.3v4h-67.3zM1700.5 2088.1h49.4v4h-49.4z"/>
<path fill="#16F854" d="M1780.8 1944.3h22.6v4h-22.6zM1736.2 1948h76.2v4h-76.2zM1727.3 1951.6h18.2v4h-18.2zM1803.2 1951.6h13.7v4h-13.7zM1718.3 1955.3h13.7v4h-13.7zM1816.6 1955.3h9.2v4h-9.2zM1700.5 1959h22.6v4h-22.6zM1821 1959h9.2v4h-9.2zM1700.5 1962.7h18.2v4h-18.2zM1825.5 1962.7h9.2v4h-9.2zM1700.5 1966.4h13.7v4h-13.7zM1830 1966.4h9.2v4h-9.2zM1700.5 1970.1h9.2v4h-9.2zM1834.4 1970.1h4.8v4h-4.8zM1696 1973.8h13.7v4h-13.7zM1834.4 1973.8h4.8v4h-4.8zM1696 1977.5h13.7v4h-13.7zM1834.4 1977.5h4.8v4h-4.8zM1696 1981.1h9.2v4h-9.2zM1834.4 1981.1h4.8v4h-4.8zM1696 1984.8h9.2v4h-9.2zM1834.4 1984.8h4.8v4h-4.8zM1696 1988.5h9.2v4h-9.2zM1830 1988.5h9.2v4h-9.2zM1696 1992.2h9.2v4h-9.2zM1825.5 1992.2h9.2v4h-9.2zM1696 1995.9h9.2v4h-9.2zM1816.6 1995.9h13.7v4h-13.7zM1696 1999.6h9.2v4h-9.2zM1798.7 1999.6h13.7v4h-13.7zM1691.5 2003.3h13.7v4h-13.7zM1780.8 2003.3h18.2v4h-18.2zM1687.1 2007h18.2v4h-18.2zM1767.4 2007h22.6v4h-22.6zM1687.1 2010.6h13.7v4h-13.7zM1763 2010.6h18.2v4h-18.2zM1687.1 2014.3h9.2v4h-9.2zM1758.5 2014.3h22.6v4h-22.6zM1687.1 2018h9.2v4h-9.2zM1758.5 2018h18.2v4h-18.2zM1682.6 2021.7h9.2v4h-9.2zM1771.9 2021.7h9.2v4h-9.2zM1678.1 2025.4h9.2v4h-9.2zM1776.4 2025.4h9.2v4h-9.2zM1678.1 2029.1h4.8v4h-4.8zM1776.4 2029.1h9.2v4h-9.2zM1678.1 2032.8h4.8v4h-4.8zM1780.8 2032.8h4.8v4h-4.8zM1673.7 2036.5h9.2v4h-9.2zM1780.8 2036.5h9.2v4h-9.2zM1673.7 2040.2h9.2v4h-9.2zM1780.8 2040.2h9.2v4h-9.2zM1673.7 2043.8h9.2v4h-9.2zM1776.4 2043.8h13.7v4h-13.7zM1673.7 2047.5h9.2v4h-9.2zM1776.4 2047.5h9.2v4h-9.2zM1678.1 2051.2h4.8v4h-4.8zM1771.9 2051.2h13.7v4h-13.7zM1678.1 2054.9h9.2v4h-9.2zM1767.4 2054.9h18.2v4h-18.2zM1682.6 2058.6h9.2v4h-9.2zM1763 2058.6h22.6v4h-22.6zM1687.1 2062.3h18.2v4h-18.2zM1758.5 2062.3h27.1v4h-27.1zM1687.1 2066h18.2v4h-18.2zM1758.5 2066h27.1v4h-27.1zM1691.5 2069.7h18.2v4h-18.2zM1754.1 2069.7h31.6v4h-31.6zM1696 2073.3h89.6v4h-89.6zM1700.5 2077h80.7v4h-80.7zM1704.9 2080.7h45v4h-45z"/>
<path fill="#E2FA12" d="M1745.1 1951.6h58.4v4h-58.4zM1731.7 1955.3h85.2v4h-85.2zM1722.8 1959h13.7v4h-13.7zM1812.1 1959h9.2v4h-9.2zM1718.3 1962.7h13.7v4h-13.7zM1816.6 1962.7h9.2v4h-9.2zM1713.9 1966.4h13.7v4h-13.7zM1821 1966.4h9.2v4h-9.2zM1709.4 1970.1h13.7v4h-13.7zM1825.5 1970.1h9.2v4h-9.2zM1709.4 1973.8h9.2v4h-9.2zM1830 1973.8h4.8v4h-4.8zM1709.4 1977.5h9.2v4h-9.2zM1830 1977.5h4.8v4h-4.8zM1704.9 1981.1h9.2v4h-9.2zM1830 1981.1h4.8v4h-4.8zM1704.9 1984.8h9.2v4h-9.2zM1825.5 1984.8h9.2v4h-9.2zM1704.9 1988.5h9.2v4h-9.2zM1816.6 1988.5h13.7v4h-13.7zM1704.9 1992.2h9.2v4h-9.2zM1812.1 1992.2h13.7v4h-13.7zM1704.9 1995.9h9.2v4h-9.2zM1798.7 1995.9h18.2v4h-18.2zM1704.9 1999.6h9.2v4h-9.2zM1763 1999.6h36v4h-36zM1704.9 2003.3h9.2v4h-9.2zM1754.1 2003.3h27.1v4h-27.1zM1704.9 2007h9.2v4h-9.2zM1754.1 2007h13.7v4h-13.7zM1700.5 2010.6h9.2v4h-9.2zM1754.1 2010.6h9.2v4h-9.2zM1696 2014.3h9.2v4h-9.2zM1749.6 2014.3h9.2v4h-9.2zM1696 2018h4.8v4h-4.8zM1749.6 2018h9.2v4h-9.2zM1691.5 2021.7h9.2v4h-9.2zM1754.1 2021.7h18.2v4h-18.2zM1687.1 2025.4h9.2v4h-9.2zM1758.5 2025.4h18.2v4h-18.2zM1682.6 2029.1h9.2v4h-9.2zM1771.9 2029.1h4.8v4h-4.8zM1682.6 2032.8h9.2v4h-9.2zM1771.9 2032.8h9.2v4h-9.2zM1682.6 2036.5h9.2v4h-9.2zM1771.9 2036.5h9.2v4h-9.2zM1682.6 2040.2h9.2v4h-9.2zM1771.9 2040.2h9.2v4h-9.2zM1682.6 2043.8h9.2v4h-9.2zM1767.4 2043.8h9.2v4h-9.2zM1682.6 2047.5h9.2v4h-9.2zM1763 2047.5h13.7v4h-13.7zM1682.6 2051.2h9.2v4h-9.2zM1763 2051.2h9.2v4h-9.2zM1687.1 2054.9h13.7v4h-13.7zM1758.5 2054.9h9.2v4h-9.2zM1691.5 2058.6h18.2v4h-18.2zM1754.1 2058.6h9.2v4h-9.2zM1704.9 2062.3h9.2v4h-9.2zM1749.6 2062.3h9.2v4h-9.2zM1704.9 2066h13.7v4h-13.7zM1745.1 2066h13.7v4h-13.7zM1709.4 2069.7h45v4h-45z"/>
<path fill="#FCFA14" d="M1736.2 1959h76.2v4h-76.2zM1731.7 1962.7h85.2v4h-85.2zM1727.3 1966.4h67.3v4h-67.3zM1803.2 1966.4h18.2v4h-18.2zM1722.8 1970.1h67.3v4h-67.3zM1807.6 1970.1h18.2v4h-18.2zM1718.3 1973.8h71.8v4h-71.8zM1807.6 1973.8h22.6v4h-22.6zM1718.3 1977.5h71.8v4h-71.8zM1807.6 1977.5h22.6v4h-22.6zM1713.9 1981.1h76.2v4h-76.2zM1807.6 1981.1h22.6v4h-22.6zM1713.9 1984.8h76.2v4h-76.2zM1807.6 1984.8h18.2v4h-18.2zM1713.9 1988.5h80.7v4h-80.7zM1803.2 1988.5h13.7v4h-13.7zM1713.9 1992.2h98.6v4h-98.6zM1713.9 1995.9h85.2v4h-85.2zM1713.9 1999.6h49.4v4h-49.4zM1713.9 2003.3h40.5v4h-40.5zM1713.9 2007h40.5v4h-40.5zM1709.4 2010.6h45v4h-45zM1704.9 2014.3h45v4h-45zM1700.5 2018h49.4v4h-49.4zM1700.5 2021.7h53.9v4h-53.9zM1696 2025.4h18.2v4h-18.2zM1749.6 2025.4h9.2v4h-9.2zM1691.5 2029.1h18.2v4h-18.2zM1754.1 2029.1h18.2v4h-18.2zM1691.5 2032.8h18.2v4h-18.2zM1754.1 2032.8h18.2v4h-18.2zM1691.5 2036.5h18.2v4h-18.2zM1754.1 2036.5h18.2v4h-18.2zM1691.5 2040.2h18.2v4h-18.2zM1754.1 2040.2h18.2v4h-18.2zM1691.5 2043.8h22.6v4h-22.6zM1749.6 2043.8h18.2v4h-18.2zM1691.5 2047.5h71.8v4h-71.8zM1691.5 2051.2h71.8v4h-71.8zM1700.5 2054.9h58.4v4h-58.4zM1709.4 2058.6h45v4h-45zM1713.9 2062.3h36v4h-36zM1718.3 2066h27.1v4h-27.1z"/>
<path fill="#FBDFBC" d="M1794.2 1966.4h9.2v4h-9.2zM1789.8 1970.1h18.2v4h-18.2zM1789.8 1973.8h18.2v4h-18.2zM1789.8 1977.5h18.2v4h-18.2zM1789.8 1981.1h18.2v4h-18.2zM1789.8 1984.8h18.2v4h-18.2zM1794.2 1988.5h9.2v4h-9.2zM1713.9 2025.4h36v4h-36zM1709.4 2029.1h45v4h-45zM1709.4 2032.8h45v4h-45zM1709.4 2036.5h45v4h-45zM1709.4 2040.2h45v4h-45zM1713.9 2043.8h36v4h-36z"/>
<path d="M1754.1 1933.2V2117.6M1642.4 2025.4H1865.7" stroke="#000" stroke-width="1.5" stroke-dasharray="5 4" fill="none"/>
<path d="M1642.4 1933.2V2117.6M1642.4 2117.6H1865.7" stroke="#000" stroke-width="1.3" fill="none"/>
<line x1="1630.4" y1="1933.2" x2="1642.4" y2="1933.2" stroke="#000" stroke-width="1.5"/>
<line x1="1642.4" y1="2117.6" x2="1642.4" y2="2130.1" stroke="#000" stroke-width="1.5"/>
<line x1="1630.4" y1="1979.3" x2="1642.4" y2="1979.3" stroke="#000" stroke-width="1.5"/>
<line x1="1698.2" y1="2117.6" x2="1698.2" y2="2130.1" stroke="#000" stroke-width="1.5"/>
<line x1="1630.4" y1="2025.4" x2="1642.4" y2="2025.4" stroke="#000" stroke-width="1.5"/>
<line x1="1754.1" y1="2117.6" x2="1754.1" y2="2130.1" stroke="#000" stroke-width="1.5"/>
<line x1="1630.4" y1="2071.5" x2="1642.4" y2="2071.5" stroke="#000" stroke-width="1.5"/>
<line x1="1809.9" y1="2117.6" x2="1809.9" y2="2130.1" stroke="#000" stroke-width="1.5"/>
<line x1="1630.4" y1="2117.6" x2="1642.4" y2="2117.6" stroke="#000" stroke-width="1.5"/>
<line x1="1865.7" y1="2117.6" x2="1865.7" y2="2130.1" stroke="#000" stroke-width="1.5"/>
<text x="1642.4" y="2162.1" font-size="23.8" text-anchor="middle" stroke="#000" stroke-width="0.45">-1.0</text>
<text x="1754.1" y="2162.1" font-size="23.8" text-anchor="middle" stroke="#000" stroke-width="0.45">0.0</text>
<text x="1865.7" y="2162.1" font-size="23.8" text-anchor="middle" stroke="#000" stroke-width="0.45">1.0</text>
<text x="1754.1" y="1918.7" font-size="23.7" text-anchor="middle" stroke="#000" stroke-width="0.45">RCB–I</text>
<path fill="#5312F4" d="M1358.6 2238.8h223.2v4h-223.2zM1358.6 2242.5h223.2v4h-223.2zM1358.6 2246.2h102.8v4h-102.8zM1479 2246.2h102.8v4h-102.8zM1358.6 2249.9h80.5v4h-80.5zM1510.2 2249.9h71.6v4h-71.6zM1358.6 2253.5h76.1v4h-76.1zM1514.6 2253.5h67.2v4h-67.2zM1358.6 2257.2h76.1v4h-76.1zM1519.1 2257.2h62.7v4h-62.7zM1358.6 2260.9h71.6v4h-71.6zM1523.5 2260.9h58.3v4h-58.3zM1358.6 2264.6h67.2v4h-67.2zM1528 2264.6h53.8v4h-53.8zM1358.6 2268.3h58.3v4h-58.3zM1532.5 2268.3h49.3v4h-49.3zM1358.6 2272h49.3v4h-49.3zM1541.4 2272h40.4v4h-40.4zM1358.6 2275.6h44.9v4h-44.9zM1545.8 2275.6h36v4h-36zM1358.6 2279.3h40.4v4h-40.4zM1550.3 2279.3h31.5v4h-31.5zM1358.6 2283h40.4v4h-40.4zM1554.8 2283h27v4h-27zM1358.6 2286.7h36v4h-36zM1559.2 2286.7h22.6v4h-22.6zM1358.6 2290.4h36v4h-36zM1559.2 2290.4h22.6v4h-22.6zM1358.6 2294.1h31.5v4h-31.5zM1559.2 2294.1h22.6v4h-22.6zM1358.6 2297.7h31.5v4h-31.5zM1559.2 2297.7h22.6v4h-22.6zM1358.6 2301.4h31.5v4h-31.5zM1559.2 2301.4h22.6v4h-22.6zM1358.6 2305.1h31.5v4h-31.5zM1559.2 2305.1h22.6v4h-22.6zM1358.6 2308.8h31.5v4h-31.5zM1559.2 2308.8h22.6v4h-22.6zM1358.6 2312.5h31.5v4h-31.5zM1559.2 2312.5h22.6v4h-22.6zM1358.6 2316.2h27v4h-27zM1559.2 2316.2h22.6v4h-22.6zM1358.6 2319.8h27v4h-27zM1559.2 2319.8h22.6v4h-22.6zM1358.6 2323.5h22.6v4h-22.6zM1559.2 2323.5h22.6v4h-22.6zM1358.6 2327.2h22.6v4h-22.6zM1559.2 2327.2h22.6v4h-22.6zM1358.6 2330.9h22.6v4h-22.6zM1559.2 2330.9h22.6v4h-22.6zM1358.6 2334.6h22.6v4h-22.6zM1559.2 2334.6h22.6v4h-22.6zM1358.6 2338.3h22.6v4h-22.6zM1559.2 2338.3h22.6v4h-22.6zM1358.6 2342h18.1v4h-18.1zM1559.2 2342h22.6v4h-22.6zM1358.6 2345.6h18.1v4h-18.1zM1559.2 2345.6h22.6v4h-22.6zM1358.6 2349.3h18.1v4h-18.1zM1559.2 2349.3h22.6v4h-22.6zM1358.6 2353h18.1v4h-18.1zM1559.2 2353h22.6v4h-22.6zM1358.6 2356.7h18.1v4h-18.1zM1559.2 2356.7h22.6v4h-22.6zM1358.6 2360.4h18.1v4h-18.1zM1559.2 2360.4h22.6v4h-22.6zM1358.6 2364.1h22.6v4h-22.6zM1559.2 2364.1h22.6v4h-22.6zM1358.6 2367.7h22.6v4h-22.6zM1559.2 2367.7h22.6v4h-22.6zM1358.6 2371.4h22.6v4h-22.6zM1559.2 2371.4h22.6v4h-22.6zM1358.6 2375.1h22.6v4h-22.6zM1554.8 2375.1h27v4h-27zM1358.6 2378.8h22.6v4h-22.6zM1550.3 2378.8h31.5v4h-31.5zM1358.6 2382.5h22.6v4h-22.6zM1545.8 2382.5h36v4h-36zM1358.6 2386.2h27v4h-27zM1541.4 2386.2h40.4v4h-40.4zM1358.6 2389.8h31.5v4h-31.5zM1532.5 2389.8h49.3v4h-49.3zM1358.6 2393.5h36v4h-36zM1528 2393.5h53.8v4h-53.8zM1358.6 2397.2h40.4v4h-40.4zM1519.1 2397.2h62.7v4h-62.7zM1358.6 2400.9h58.3v4h-58.3zM1501.3 2400.9h80.5v4h-80.5zM1358.6 2404.6h67.2v4h-67.2zM1470 2404.6h111.8v4h-111.8zM1358.6 2408.3h71.6v4h-71.6zM1465.6 2408.3h116.2v4h-116.2zM1358.6 2411.9h223.2v4h-223.2zM1358.6 2415.6h223.2v4h-223.2zM1358.6 2419.3h223.2v4h-223.2z"/>
<path fill="#0A2AF8" d="M1461.1 2246.2h18.1v4h-18.1zM1438.8 2249.9h71.6v4h-71.6zM1434.4 2253.5h27v4h-27zM1479 2253.5h36v4h-36zM1434.4 2257.2h18.1v4h-18.1zM1501.3 2257.2h18.1v4h-18.1zM1429.9 2260.9h13.7v4h-13.7zM1510.2 2260.9h13.7v4h-13.7zM1425.5 2264.6h13.7v4h-13.7zM1514.6 2264.6h13.7v4h-13.7zM1416.6 2268.3h13.7v4h-13.7zM1519.1 2268.3h13.7v4h-13.7zM1407.6 2272h18.1v4h-18.1zM1528 2272h13.7v4h-13.7zM1403.2 2275.6h13.7v4h-13.7zM1532.5 2275.6h13.7v4h-13.7zM1398.7 2279.3h13.7v4h-13.7zM1541.4 2279.3h9.2v4h-9.2zM1398.7 2283h9.2v4h-9.2zM1541.4 2283h13.7v4h-13.7zM1394.3 2286.7h9.2v4h-9.2zM1545.8 2286.7h13.7v4h-13.7zM1394.3 2290.4h9.2v4h-9.2zM1545.8 2290.4h13.7v4h-13.7zM1389.8 2294.1h13.7v4h-13.7zM1550.3 2294.1h9.2v4h-9.2zM1389.8 2297.7h9.2v4h-9.2zM1550.3 2297.7h9.2v4h-9.2zM1389.8 2301.4h9.2v4h-9.2zM1550.3 2301.4h9.2v4h-9.2zM1389.8 2305.1h9.2v4h-9.2zM1550.3 2305.1h9.2v4h-9.2zM1389.8 2308.8h9.2v4h-9.2zM1550.3 2308.8h9.2v4h-9.2zM1389.8 2312.5h9.2v4h-9.2zM1550.3 2312.5h9.2v4h-9.2zM1385.3 2316.2h13.7v4h-13.7zM1550.3 2316.2h9.2v4h-9.2zM1385.3 2319.8h9.2v4h-9.2zM1550.3 2319.8h9.2v4h-9.2zM1380.9 2323.5h9.2v4h-9.2zM1550.3 2323.5h9.2v4h-9.2zM1380.9 2327.2h9.2v4h-9.2zM1550.3 2327.2h9.2v4h-9.2zM1380.9 2330.9h9.2v4h-9.2zM1550.3 2330.9h9.2v4h-9.2zM1380.9 2334.6h9.2v4h-9.2zM1550.3 2334.6h9.2v4h-9.2zM1380.9 2338.3h4.8v4h-4.8zM1550.3 2338.3h9.2v4h-9.2zM1376.4 2342h9.2v4h-9.2zM1550.3 2342h9.2v4h-9.2zM1376.4 2345.6h9.2v4h-9.2zM1550.3 2345.6h9.2v4h-9.2zM1376.4 2349.3h9.2v4h-9.2zM1550.3 2349.3h9.2v4h-9.2zM1376.4 2353h9.2v4h-9.2zM1545.8 2353h13.7v4h-13.7zM1376.4 2356.7h9.2v4h-9.2zM1545.8 2356.7h13.7v4h-13.7zM1376.4 2360.4h9.2v4h-9.2zM1545.8 2360.4h13.7v4h-13.7zM1380.9 2364.1h4.8v4h-4.8zM1541.4 2364.1h18.1v4h-18.1zM1380.9 2367.7h9.2v4h-9.2zM1541.4 2367.7h18.1v4h-18.1zM1380.9 2371.4h9.2v4h-9.2zM1541.4 2371.4h18.1v4h-18.1zM1380.9 2375.1h9.2v4h-9.2zM1536.9 2375.1h18.1v4h-18.1zM1380.9 2378.8h9.2v4h-9.2zM1536.9 2378.8h13.7v4h-13.7zM1380.9 2382.5h13.7v4h-13.7zM1532.5 2382.5h13.7v4h-13.7zM1385.3 2386.2h13.7v4h-13.7zM1528 2386.2h13.7v4h-13.7zM1389.8 2389.8h18.1v4h-18.1zM1510.2 2389.8h22.6v4h-22.6zM1394.3 2393.5h22.6v4h-22.6zM1501.3 2393.5h27v4h-27zM1398.7 2397.2h27v4h-27zM1470 2397.2h49.3v4h-49.3zM1416.6 2400.9h18.1v4h-18.1zM1461.1 2400.9h40.4v4h-40.4zM1425.5 2404.6h44.9v4h-44.9zM1429.9 2408.3h36v4h-36z"/>
<path fill="#1282FF" d="M1461.1 2253.5h18.1v4h-18.1zM1452.2 2257.2h49.3v4h-49.3zM1443.3 2260.9h13.7v4h-13.7zM1492.3 2260.9h18.1v4h-18.1zM1438.8 2264.6h9.2v4h-9.2zM1501.3 2264.6h13.7v4h-13.7zM1429.9 2268.3h13.7v4h-13.7zM1510.2 2268.3h9.2v4h-9.2zM1425.5 2272h9.2v4h-9.2zM1514.6 2272h13.7v4h-13.7zM1416.6 2275.6h13.7v4h-13.7zM1523.5 2275.6h9.2v4h-9.2zM1412.1 2279.3h9.2v4h-9.2zM1528 2279.3h13.7v4h-13.7zM1407.6 2283h9.2v4h-9.2zM1536.9 2283h4.8v4h-4.8zM1403.2 2286.7h9.2v4h-9.2zM1536.9 2286.7h9.2v4h-9.2zM1403.2 2290.4h9.2v4h-9.2zM1541.4 2290.4h4.8v4h-4.8zM1403.2 2294.1h4.8v4h-4.8zM1541.4 2294.1h9.2v4h-9.2zM1398.7 2297.7h9.2v4h-9.2zM1541.4 2297.7h9.2v4h-9.2zM1398.7 2301.4h9.2v4h-9.2zM1541.4 2301.4h9.2v4h-9.2zM1398.7 2305.1h9.2v4h-9.2zM1541.4 2305.1h9.2v4h-9.2zM1398.7 2308.8h9.2v4h-9.2zM1541.4 2308.8h9.2v4h-9.2zM1398.7 2312.5h4.8v4h-4.8zM1541.4 2312.5h9.2v4h-9.2zM1398.7 2316.2h4.8v4h-4.8zM1541.4 2316.2h9.2v4h-9.2zM1394.3 2319.8h9.2v4h-9.2zM1541.4 2319.8h9.2v4h-9.2zM1389.8 2323.5h9.2v4h-9.2zM1545.8 2323.5h4.8v4h-4.8zM1389.8 2327.2h4.8v4h-4.8zM1541.4 2327.2h9.2v4h-9.2zM1389.8 2330.9h4.8v4h-4.8zM1541.4 2330.9h9.2v4h-9.2zM1389.8 2334.6h4.8v4h-4.8zM1541.4 2334.6h9.2v4h-9.2zM1385.3 2338.3h4.8v4h-4.8zM1541.4 2338.3h9.2v4h-9.2zM1385.3 2342h4.8v4h-4.8zM1536.9 2342h13.7v4h-13.7zM1385.3 2345.6h4.8v4h-4.8zM1536.9 2345.6h13.7v4h-13.7zM1385.3 2349.3h4.8v4h-4.8zM1536.9 2349.3h13.7v4h-13.7zM1385.3 2353h4.8v4h-4.8zM1536.9 2353h9.2v4h-9.2zM1385.3 2356.7h4.8v4h-4.8zM1536.9 2356.7h9.2v4h-9.2zM1385.3 2360.4h4.8v4h-4.8zM1536.9 2360.4h9.2v4h-9.2zM1385.3 2364.1h9.2v4h-9.2zM1536.9 2364.1h4.8v4h-4.8zM1389.8 2367.7h4.8v4h-4.8zM1532.5 2367.7h9.2v4h-9.2zM1389.8 2371.4h4.8v4h-4.8zM1532.5 2371.4h9.2v4h-9.2zM1389.8 2375.1h9.2v4h-9.2zM1532.5 2375.1h4.8v4h-4.8zM1389.8 2378.8h13.7v4h-13.7zM1528 2378.8h9.2v4h-9.2zM1394.3 2382.5h13.7v4h-13.7zM1519.1 2382.5h13.7v4h-13.7zM1398.7 2386.2h13.7v4h-13.7zM1501.3 2386.2h27v4h-27zM1407.6 2389.8h13.7v4h-13.7zM1474.5 2389.8h36v4h-36zM1416.6 2393.5h13.7v4h-13.7zM1465.6 2393.5h36v4h-36zM1425.5 2397.2h44.9v4h-44.9zM1434.4 2400.9h27v4h-27z"/>
<path fill="#10E2FF" d="M1456.7 2260.9h36v4h-36zM1447.8 2264.6h13.7v4h-13.7zM1487.9 2264.6h13.7v4h-13.7zM1443.3 2268.3h13.7v4h-13.7zM1501.3 2268.3h9.2v4h-9.2zM1434.4 2272h18.1v4h-18.1zM1505.7 2272h9.2v4h-9.2zM1429.9 2275.6h9.2v4h-9.2zM1510.2 2275.6h13.7v4h-13.7zM1421 2279.3h13.7v4h-13.7zM1519.1 2279.3h9.2v4h-9.2zM1416.6 2283h13.7v4h-13.7zM1528 2283h9.2v4h-9.2zM1412.1 2286.7h9.2v4h-9.2zM1532.5 2286.7h4.8v4h-4.8zM1412.1 2290.4h4.8v4h-4.8zM1532.5 2290.4h9.2v4h-9.2zM1407.6 2294.1h9.2v4h-9.2zM1532.5 2294.1h9.2v4h-9.2zM1407.6 2297.7h4.8v4h-4.8zM1532.5 2297.7h9.2v4h-9.2zM1407.6 2301.4h4.8v4h-4.8zM1532.5 2301.4h9.2v4h-9.2zM1407.6 2305.1h4.8v4h-4.8zM1532.5 2305.1h9.2v4h-9.2zM1407.6 2308.8h4.8v4h-4.8zM1532.5 2308.8h9.2v4h-9.2zM1403.2 2312.5h9.2v4h-9.2zM1532.5 2312.5h9.2v4h-9.2zM1403.2 2316.2h4.8v4h-4.8zM1536.9 2316.2h4.8v4h-4.8zM1403.2 2319.8h4.8v4h-4.8zM1536.9 2319.8h4.8v4h-4.8zM1398.7 2323.5h9.2v4h-9.2zM1536.9 2323.5h9.2v4h-9.2zM1394.3 2327.2h9.2v4h-9.2zM1536.9 2327.2h4.8v4h-4.8zM1394.3 2330.9h4.8v4h-4.8zM1532.5 2330.9h9.2v4h-9.2zM1394.3 2334.6h4.8v4h-4.8zM1532.5 2334.6h9.2v4h-9.2zM1389.8 2338.3h4.8v4h-4.8zM1532.5 2338.3h9.2v4h-9.2zM1389.8 2342h4.8v4h-4.8zM1528 2342h9.2v4h-9.2zM1389.8 2345.6h4.8v4h-4.8zM1528 2345.6h9.2v4h-9.2zM1389.8 2349.3h4.8v4h-4.8zM1528 2349.3h9.2v4h-9.2zM1389.8 2353h4.8v4h-4.8zM1528 2353h9.2v4h-9.2zM1389.8 2356.7h4.8v4h-4.8zM1528 2356.7h9.2v4h-9.2zM1389.8 2360.4h4.8v4h-4.8zM1528 2360.4h9.2v4h-9.2zM1394.3 2364.1h4.8v4h-4.8zM1523.5 2364.1h13.7v4h-13.7zM1394.3 2367.7h9.2v4h-9.2zM1523.5 2367.7h9.2v4h-9.2zM1394.3 2371.4h9.2v4h-9.2zM1523.5 2371.4h9.2v4h-9.2zM1398.7 2375.1h9.2v4h-9.2zM1514.6 2375.1h18.1v4h-18.1zM1403.2 2378.8h9.2v4h-9.2zM1501.3 2378.8h27v4h-27zM1407.6 2382.5h9.2v4h-9.2zM1487.9 2382.5h31.5v4h-31.5zM1412.1 2386.2h18.1v4h-18.1zM1465.6 2386.2h36v4h-36zM1421 2389.8h53.8v4h-53.8zM1429.9 2393.5h36v4h-36z"/>
<path fill="#16F854" d="M1461.1 2264.6h27v4h-27zM1456.7 2268.3h44.9v4h-44.9zM1452.2 2272h9.2v4h-9.2zM1496.8 2272h9.2v4h-9.2zM1438.8 2275.6h18.1v4h-18.1zM1505.7 2275.6h4.8v4h-4.8zM1434.4 2279.3h18.1v4h-18.1zM1510.2 2279.3h9.2v4h-9.2zM1429.9 2283h9.2v4h-9.2zM1519.1 2283h9.2v4h-9.2zM1421 2286.7h13.7v4h-13.7zM1523.5 2286.7h9.2v4h-9.2zM1416.6 2290.4h13.7v4h-13.7zM1528 2290.4h4.8v4h-4.8zM1416.6 2294.1h4.8v4h-4.8zM1528 2294.1h4.8v4h-4.8zM1412.1 2297.7h9.2v4h-9.2zM1528 2297.7h4.8v4h-4.8zM1412.1 2301.4h4.8v4h-4.8zM1528 2301.4h4.8v4h-4.8zM1412.1 2305.1h4.8v4h-4.8zM1528 2305.1h4.8v4h-4.8zM1412.1 2308.8h4.8v4h-4.8zM1528 2308.8h4.8v4h-4.8zM1412.1 2312.5h4.8v4h-4.8zM1528 2312.5h4.8v4h-4.8zM1407.6 2316.2h9.2v4h-9.2zM1528 2316.2h9.2v4h-9.2zM1407.6 2319.8h4.8v4h-4.8zM1528 2319.8h9.2v4h-9.2zM1407.6 2323.5h4.8v4h-4.8zM1528 2323.5h9.2v4h-9.2zM1403.2 2327.2h4.8v4h-4.8zM1528 2327.2h9.2v4h-9.2zM1398.7 2330.9h9.2v4h-9.2zM1523.5 2330.9h9.2v4h-9.2zM1398.7 2334.6h4.8v4h-4.8zM1519.1 2334.6h13.7v4h-13.7zM1394.3 2338.3h9.2v4h-9.2zM1519.1 2338.3h13.7v4h-13.7zM1394.3 2342h9.2v4h-9.2zM1519.1 2342h9.2v4h-9.2zM1394.3 2345.6h4.8v4h-4.8zM1519.1 2345.6h9.2v4h-9.2zM1394.3 2349.3h4.8v4h-4.8zM1519.1 2349.3h9.2v4h-9.2zM1394.3 2353h4.8v4h-4.8zM1519.1 2353h9.2v4h-9.2zM1394.3 2356.7h4.8v4h-4.8zM1519.1 2356.7h9.2v4h-9.2zM1394.3 2360.4h9.2v4h-9.2zM1514.6 2360.4h13.7v4h-13.7zM1398.7 2364.1h9.2v4h-9.2zM1514.6 2364.1h9.2v4h-9.2zM1403.2 2367.7h4.8v4h-4.8zM1510.2 2367.7h13.7v4h-13.7zM1403.2 2371.4h9.2v4h-9.2zM1505.7 2371.4h18.1v4h-18.1zM1407.6 2375.1h9.2v4h-9.2zM1496.8 2375.1h18.1v4h-18.1zM1412.1 2378.8h89.5v4h-89.5zM1416.6 2382.5h71.6v4h-71.6zM1429.9 2386.2h36v4h-36z"/>
<path fill="#E2FA12" d="M1461.1 2272h36v4h-36zM1456.7 2275.6h9.2v4h-9.2zM1492.3 2275.6h13.7v4h-13.7zM1452.2 2279.3h9.2v4h-9.2zM1501.3 2279.3h9.2v4h-9.2zM1438.8 2283h22.6v4h-22.6zM1505.7 2283h13.7v4h-13.7zM1434.4 2286.7h9.2v4h-9.2zM1514.6 2286.7h9.2v4h-9.2zM1429.9 2290.4h9.2v4h-9.2zM1523.5 2290.4h4.8v4h-4.8zM1421 2294.1h18.1v4h-18.1zM1523.5 2294.1h4.8v4h-4.8zM1421 2297.7h9.2v4h-9.2zM1523.5 2297.7h4.8v4h-4.8zM1416.6 2301.4h9.2v4h-9.2zM1523.5 2301.4h4.8v4h-4.8zM1416.6 2305.1h9.2v4h-9.2zM1523.5 2305.1h4.8v4h-4.8zM1416.6 2308.8h9.2v4h-9.2zM1523.5 2308.8h4.8v4h-4.8zM1416.6 2312.5h9.2v4h-9.2zM1523.5 2312.5h4.8v4h-4.8zM1416.6 2316.2h4.8v4h-4.8zM1523.5 2316.2h4.8v4h-4.8zM1412.1 2319.8h9.2v4h-9.2zM1523.5 2319.8h4.8v4h-4.8zM1412.1 2323.5h4.8v4h-4.8zM1523.5 2323.5h4.8v4h-4.8zM1407.6 2327.2h9.2v4h-9.2zM1519.1 2327.2h9.2v4h-9.2zM1407.6 2330.9h9.2v4h-9.2zM1514.6 2330.9h9.2v4h-9.2zM1403.2 2334.6h13.7v4h-13.7zM1510.2 2334.6h9.2v4h-9.2zM1403.2 2338.3h9.2v4h-9.2zM1510.2 2338.3h9.2v4h-9.2zM1403.2 2342h4.8v4h-4.8zM1510.2 2342h9.2v4h-9.2zM1398.7 2345.6h9.2v4h-9.2zM1510.2 2345.6h9.2v4h-9.2zM1398.7 2349.3h9.2v4h-9.2zM1510.2 2349.3h9.2v4h-9.2zM1398.7 2353h9.2v4h-9.2zM1510.2 2353h9.2v4h-9.2zM1398.7 2356.7h9.2v4h-9.2zM1510.2 2356.7h9.2v4h-9.2zM1403.2 2360.4h9.2v4h-9.2zM1505.7 2360.4h9.2v4h-9.2zM1407.6 2364.1h9.2v4h-9.2zM1501.3 2364.1h13.7v4h-13.7zM1407.6 2367.7h9.2v4h-9.2zM1501.3 2367.7h9.2v4h-9.2zM1412.1 2371.4h9.2v4h-9.2zM1487.9 2371.4h18.1v4h-18.1zM1416.6 2375.1h80.5v4h-80.5z"/>
<path fill="#FCFA14" d="M1465.6 2275.6h27v4h-27zM1461.1 2279.3h40.4v4h-40.4zM1461.1 2283h44.9v4h-44.9zM1443.3 2286.7h40.4v4h-40.4zM1501.3 2286.7h13.7v4h-13.7zM1438.8 2290.4h40.4v4h-40.4zM1505.7 2290.4h18.1v4h-18.1zM1438.8 2294.1h36v4h-36zM1510.2 2294.1h13.7v4h-13.7zM1429.9 2297.7h40.4v4h-40.4zM1514.6 2297.7h9.2v4h-9.2zM1425.5 2301.4h44.9v4h-44.9zM1514.6 2301.4h9.2v4h-9.2zM1425.5 2305.1h44.9v4h-44.9zM1514.6 2305.1h9.2v4h-9.2zM1425.5 2308.8h44.9v4h-44.9zM1514.6 2308.8h9.2v4h-9.2zM1425.5 2312.5h44.9v4h-44.9zM1514.6 2312.5h9.2v4h-9.2zM1421 2316.2h44.9v4h-44.9zM1510.2 2316.2h13.7v4h-13.7zM1421 2319.8h18.1v4h-18.1zM1505.7 2319.8h18.1v4h-18.1zM1416.6 2323.5h22.6v4h-22.6zM1501.3 2323.5h22.6v4h-22.6zM1416.6 2327.2h22.6v4h-22.6zM1501.3 2327.2h18.1v4h-18.1zM1416.6 2330.9h18.1v4h-18.1zM1474.5 2330.9h40.4v4h-40.4zM1416.6 2334.6h18.1v4h-18.1zM1470 2334.6h40.4v4h-40.4zM1412.1 2338.3h22.6v4h-22.6zM1470 2338.3h40.4v4h-40.4zM1407.6 2342h22.6v4h-22.6zM1470 2342h40.4v4h-40.4zM1407.6 2345.6h18.1v4h-18.1zM1470 2345.6h40.4v4h-40.4zM1407.6 2349.3h18.1v4h-18.1zM1465.6 2349.3h44.9v4h-44.9zM1407.6 2353h18.1v4h-18.1zM1461.1 2353h49.3v4h-49.3zM1407.6 2356.7h18.1v4h-18.1zM1461.1 2356.7h49.3v4h-49.3zM1412.1 2360.4h13.7v4h-13.7zM1456.7 2360.4h49.3v4h-49.3zM1416.6 2364.1h85v4h-85zM1416.6 2367.7h85v4h-85zM1421 2371.4h67.2v4h-67.2z"/>
<path fill="#FBDFBC" d="M1483.4 2286.7h18.1v4h-18.1zM1479 2290.4h27v4h-27zM1474.5 2294.1h36v4h-36zM1470 2297.7h44.9v4h-44.9zM1470 2301.4h44.9v4h-44.9zM1470 2305.1h44.9v4h-44.9zM1470 2308.8h44.9v4h-44.9zM1470 2312.5h44.9v4h-44.9zM1465.6 2316.2h44.9v4h-44.9zM1438.8 2319.8h67.2v4h-67.2zM1438.8 2323.5h62.7v4h-62.7zM1438.8 2327.2h62.7v4h-62.7zM1434.4 2330.9h40.4v4h-40.4zM1434.4 2334.6h36v4h-36zM1434.4 2338.3h36v4h-36zM1429.9 2342h40.4v4h-40.4zM1425.5 2345.6h44.9v4h-44.9zM1425.5 2349.3h40.4v4h-40.4zM1425.5 2353h36v4h-36zM1425.5 2356.7h36v4h-36zM1425.5 2360.4h31.5v4h-31.5z"/>
<path d="M1470 2238.8V2423M1358.6 2330.9H1581.5" stroke="#000" stroke-width="1.5" stroke-dasharray="5 4" fill="none"/>
<path d="M1358.6 2238.8V2423M1358.6 2423H1581.5" stroke="#000" stroke-width="1.3" fill="none"/>
<line x1="1346.6" y1="2238.8" x2="1358.6" y2="2238.8" stroke="#000" stroke-width="1.5"/>
<line x1="1358.6" y1="2423" x2="1358.6" y2="2435.5" stroke="#000" stroke-width="1.5"/>
<line x1="1346.6" y1="2284.9" x2="1358.6" y2="2284.9" stroke="#000" stroke-width="1.5"/>
<line x1="1414.3" y1="2423" x2="1414.3" y2="2435.5" stroke="#000" stroke-width="1.5"/>
<line x1="1346.6" y1="2330.9" x2="1358.6" y2="2330.9" stroke="#000" stroke-width="1.5"/>
<line x1="1470" y1="2423" x2="1470" y2="2435.5" stroke="#000" stroke-width="1.5"/>
<line x1="1346.6" y1="2376.9" x2="1358.6" y2="2376.9" stroke="#000" stroke-width="1.5"/>
<line x1="1525.8" y1="2423" x2="1525.8" y2="2435.5" stroke="#000" stroke-width="1.5"/>
<line x1="1346.6" y1="2423" x2="1358.6" y2="2423" stroke="#000" stroke-width="1.5"/>
<line x1="1581.5" y1="2423" x2="1581.5" y2="2435.5" stroke="#000" stroke-width="1.5"/>
<text x="1331.6" y="2238.8" font-size="23.8" text-anchor="middle" stroke="#000" stroke-width="0.45" transform="rotate(-90 1331.6 2238.8)">1.0</text>
<text x="1331.6" y="2330.9" font-size="23.8" text-anchor="middle" stroke="#000" stroke-width="0.45" transform="rotate(-90 1331.6 2330.9)">0.0</text>
<text x="1331.6" y="2423" font-size="23.8" text-anchor="middle" stroke="#000" stroke-width="0.45" transform="rotate(-90 1331.6 2423)">-1.0</text>
<text x="1358.6" y="2467.5" font-size="23.8" text-anchor="middle" stroke="#000" stroke-width="0.45">-1.0</text>
<text x="1470" y="2467.5" font-size="23.8" text-anchor="middle" stroke="#000" stroke-width="0.45">0.0</text>
<text x="1581.5" y="2467.5" font-size="23.8" text-anchor="middle" stroke="#000" stroke-width="0.45">1.0</text>
<text x="1470" y="2224.3" font-size="23.7" text-anchor="middle" stroke="#000" stroke-width="0.45">RCB–II</text>
<path fill="#5312F4" d="M1641.5 2238.8h223.1v4h-223.1zM1641.5 2242.5h223.1v4h-223.1zM1641.5 2246.2h223.1v4h-223.1zM1641.5 2249.9h116.2v4h-116.2zM1806.4 2249.9h58.2v4h-58.2zM1641.5 2253.5h111.7v4h-111.7zM1810.8 2253.5h53.8v4h-53.8zM1641.5 2257.2h80.5v4h-80.5zM1810.8 2257.2h53.8v4h-53.8zM1641.5 2260.9h62.7v4h-62.7zM1824.2 2260.9h40.4v4h-40.4zM1641.5 2264.6h58.2v4h-58.2zM1828.7 2264.6h35.9v4h-35.9zM1641.5 2268.3h53.8v4h-53.8zM1833.1 2268.3h31.5v4h-31.5zM1641.5 2272h49.3v4h-49.3zM1837.6 2272h27v4h-27zM1641.5 2275.6h44.9v4h-44.9zM1842 2275.6h22.6v4h-22.6zM1641.5 2279.3h40.4v4h-40.4zM1842 2279.3h22.6v4h-22.6zM1641.5 2283h40.4v4h-40.4zM1842 2283h22.6v4h-22.6zM1641.5 2286.7h35.9v4h-35.9zM1842 2286.7h22.6v4h-22.6zM1641.5 2290.4h35.9v4h-35.9zM1842 2290.4h22.6v4h-22.6zM1641.5 2294.1h31.5v4h-31.5zM1842 2294.1h22.6v4h-22.6zM1641.5 2297.7h31.5v4h-31.5zM1842 2297.7h22.6v4h-22.6zM1641.5 2301.4h31.5v4h-31.5zM1842 2301.4h22.6v4h-22.6zM1641.5 2305.1h31.5v4h-31.5zM1842 2305.1h22.6v4h-22.6zM1641.5 2308.8h31.5v4h-31.5zM1842 2308.8h22.6v4h-22.6zM1641.5 2312.5h31.5v4h-31.5zM1842 2312.5h22.6v4h-22.6zM1641.5 2316.2h31.5v4h-31.5zM1846.5 2316.2h18.1v4h-18.1zM1641.5 2319.8h31.5v4h-31.5zM1850.9 2319.8h13.7v4h-13.7zM1641.5 2323.5h31.5v4h-31.5zM1850.9 2323.5h13.7v4h-13.7zM1641.5 2327.2h27v4h-27zM1855.4 2327.2h9.2v4h-9.2zM1641.5 2330.9h27v4h-27zM1855.4 2330.9h9.2v4h-9.2zM1641.5 2334.6h22.6v4h-22.6zM1850.9 2334.6h13.7v4h-13.7zM1641.5 2338.3h22.6v4h-22.6zM1850.9 2338.3h13.7v4h-13.7zM1641.5 2342h18.1v4h-18.1zM1846.5 2342h18.1v4h-18.1zM1641.5 2345.6h18.1v4h-18.1zM1846.5 2345.6h18.1v4h-18.1zM1641.5 2349.3h18.1v4h-18.1zM1846.5 2349.3h18.1v4h-18.1zM1641.5 2353h13.7v4h-13.7zM1842 2353h22.6v4h-22.6zM1641.5 2356.7h13.7v4h-13.7zM1842 2356.7h22.6v4h-22.6zM1641.5 2360.4h13.7v4h-13.7zM1842 2360.4h22.6v4h-22.6zM1641.5 2364.1h9.2v4h-9.2zM1837.6 2364.1h27v4h-27zM1641.5 2367.7h13.7v4h-13.7zM1833.1 2367.7h31.5v4h-31.5zM1641.5 2371.4h13.7v4h-13.7zM1828.7 2371.4h35.9v4h-35.9zM1641.5 2375.1h18.1v4h-18.1zM1828.7 2375.1h35.9v4h-35.9zM1641.5 2378.8h18.1v4h-18.1zM1824.2 2378.8h40.4v4h-40.4zM1641.5 2382.5h22.6v4h-22.6zM1819.7 2382.5h44.9v4h-44.9zM1641.5 2386.2h22.6v4h-22.6zM1815.3 2386.2h49.3v4h-49.3zM1641.5 2389.8h22.6v4h-22.6zM1806.4 2389.8h58.2v4h-58.2zM1641.5 2393.5h22.6v4h-22.6zM1797.5 2393.5h67.1v4h-67.1zM1641.5 2397.2h27v4h-27zM1793 2397.2h71.6v4h-71.6zM1641.5 2400.9h31.5v4h-31.5zM1761.8 2400.9h102.8v4h-102.8zM1641.5 2404.6h35.9v4h-35.9zM1752.9 2404.6h111.7v4h-111.7zM1641.5 2408.3h35.9v4h-35.9zM1748.4 2408.3h116.2v4h-116.2zM1641.5 2411.9h40.4v4h-40.4zM1735.1 2411.9h129.5v4h-129.5zM1641.5 2415.6h44.9v4h-44.9zM1730.6 2415.6h134v4h-134zM1641.5 2419.3h44.9v4h-44.9zM1730.6 2419.3h134v4h-134z"/>
<path fill="#0A2AF8" d="M1757.4 2249.9h49.3v4h-49.3zM1752.9 2253.5h58.2v4h-58.2zM1721.7 2257.2h58.2v4h-58.2zM1793 2257.2h18.1v4h-18.1zM1703.9 2260.9h53.8v4h-53.8zM1801.9 2260.9h22.6v4h-22.6zM1699.4 2264.6h22.6v4h-22.6zM1806.4 2264.6h22.6v4h-22.6zM1695 2268.3h18.1v4h-18.1zM1815.3 2268.3h18.1v4h-18.1zM1690.5 2272h13.7v4h-13.7zM1824.2 2272h13.7v4h-13.7zM1686.1 2275.6h13.7v4h-13.7zM1828.7 2275.6h13.7v4h-13.7zM1681.6 2279.3h13.7v4h-13.7zM1828.7 2279.3h13.7v4h-13.7zM1681.6 2283h9.2v4h-9.2zM1833.1 2283h9.2v4h-9.2zM1677.1 2286.7h9.2v4h-9.2zM1833.1 2286.7h9.2v4h-9.2zM1677.1 2290.4h9.2v4h-9.2zM1833.1 2290.4h9.2v4h-9.2zM1672.7 2294.1h13.7v4h-13.7zM1833.1 2294.1h9.2v4h-9.2zM1672.7 2297.7h9.2v4h-9.2zM1833.1 2297.7h9.2v4h-9.2zM1672.7 2301.4h9.2v4h-9.2zM1833.1 2301.4h9.2v4h-9.2zM1672.7 2305.1h9.2v4h-9.2zM1833.1 2305.1h9.2v4h-9.2zM1672.7 2308.8h9.2v4h-9.2zM1833.1 2308.8h9.2v4h-9.2zM1672.7 2312.5h9.2v4h-9.2zM1833.1 2312.5h9.2v4h-9.2zM1672.7 2316.2h9.2v4h-9.2zM1837.6 2316.2h9.2v4h-9.2zM1672.7 2319.8h9.2v4h-9.2zM1837.6 2319.8h13.7v4h-13.7zM1672.7 2323.5h9.2v4h-9.2zM1842 2323.5h9.2v4h-9.2zM1668.2 2327.2h9.2v4h-9.2zM1842 2327.2h13.7v4h-13.7zM1668.2 2330.9h9.2v4h-9.2zM1842 2330.9h13.7v4h-13.7zM1663.8 2334.6h9.2v4h-9.2zM1842 2334.6h9.2v4h-9.2zM1663.8 2338.3h4.8v4h-4.8zM1842 2338.3h9.2v4h-9.2zM1659.3 2342h9.2v4h-9.2zM1842 2342h4.8v4h-4.8zM1659.3 2345.6h9.2v4h-9.2zM1837.6 2345.6h9.2v4h-9.2zM1659.3 2349.3h9.2v4h-9.2zM1837.6 2349.3h9.2v4h-9.2zM1654.9 2353h9.2v4h-9.2zM1837.6 2353h4.8v4h-4.8zM1654.9 2356.7h9.2v4h-9.2zM1833.1 2356.7h9.2v4h-9.2zM1654.9 2360.4h9.2v4h-9.2zM1833.1 2360.4h9.2v4h-9.2zM1650.4 2364.1h13.7v4h-13.7zM1828.7 2364.1h9.2v4h-9.2zM1654.9 2367.7h9.2v4h-9.2zM1824.2 2367.7h9.2v4h-9.2zM1654.9 2371.4h9.2v4h-9.2zM1819.7 2371.4h9.2v4h-9.2zM1659.3 2375.1h9.2v4h-9.2zM1819.7 2375.1h9.2v4h-9.2zM1659.3 2378.8h13.7v4h-13.7zM1810.8 2378.8h13.7v4h-13.7zM1663.8 2382.5h9.2v4h-9.2zM1806.4 2382.5h13.7v4h-13.7zM1663.8 2386.2h9.2v4h-9.2zM1797.5 2386.2h18.1v4h-18.1zM1663.8 2389.8h13.7v4h-13.7zM1770.7 2389.8h35.9v4h-35.9zM1663.8 2393.5h18.1v4h-18.1zM1761.8 2393.5h35.9v4h-35.9zM1668.2 2397.2h13.7v4h-13.7zM1752.9 2397.2h40.4v4h-40.4zM1672.7 2400.9h13.7v4h-13.7zM1748.4 2400.9h13.7v4h-13.7zM1677.1 2404.6h9.2v4h-9.2zM1730.6 2404.6h22.6v4h-22.6zM1677.1 2408.3h13.7v4h-13.7zM1726.2 2408.3h22.6v4h-22.6zM1681.6 2411.9h18.1v4h-18.1zM1717.3 2411.9h18.1v4h-18.1zM1686.1 2415.6h44.9v4h-44.9zM1686.1 2419.3h44.9v4h-44.9z"/>
<path fill="#1282FF" d="M1779.6 2257.2h13.7v4h-13.7zM1757.4 2260.9h44.9v4h-44.9zM1721.7 2264.6h58.2v4h-58.2zM1793 2264.6h13.7v4h-13.7zM1712.8 2268.3h53.8v4h-53.8zM1801.9 2268.3h13.7v4h-13.7zM1703.9 2272h13.7v4h-13.7zM1810.8 2272h13.7v4h-13.7zM1699.4 2275.6h13.7v4h-13.7zM1815.3 2275.6h13.7v4h-13.7zM1695 2279.3h9.2v4h-9.2zM1819.7 2279.3h9.2v4h-9.2zM1690.5 2283h9.2v4h-9.2zM1819.7 2283h13.7v4h-13.7zM1686.1 2286.7h9.2v4h-9.2zM1824.2 2286.7h9.2v4h-9.2zM1686.1 2290.4h9.2v4h-9.2zM1824.2 2290.4h9.2v4h-9.2zM1686.1 2294.1h4.8v4h-4.8zM1824.2 2294.1h9.2v4h-9.2zM1681.6 2297.7h9.2v4h-9.2zM1828.7 2297.7h4.8v4h-4.8zM1681.6 2301.4h9.2v4h-9.2zM1828.7 2301.4h4.8v4h-4.8zM1681.6 2305.1h9.2v4h-9.2zM1828.7 2305.1h4.8v4h-4.8zM1681.6 2308.8h9.2v4h-9.2zM1828.7 2308.8h4.8v4h-4.8zM1681.6 2312.5h9.2v4h-9.2zM1828.7 2312.5h4.8v4h-4.8zM1681.6 2316.2h9.2v4h-9.2zM1828.7 2316.2h9.2v4h-9.2zM1681.6 2319.8h9.2v4h-9.2zM1833.1 2319.8h4.8v4h-4.8zM1681.6 2323.5h4.8v4h-4.8zM1833.1 2323.5h9.2v4h-9.2zM1677.1 2327.2h9.2v4h-9.2zM1833.1 2327.2h9.2v4h-9.2zM1677.1 2330.9h4.8v4h-4.8zM1833.1 2330.9h9.2v4h-9.2zM1672.7 2334.6h4.8v4h-4.8zM1833.1 2334.6h9.2v4h-9.2zM1668.2 2338.3h9.2v4h-9.2zM1833.1 2338.3h9.2v4h-9.2zM1668.2 2342h4.8v4h-4.8zM1833.1 2342h9.2v4h-9.2zM1668.2 2345.6h4.8v4h-4.8zM1833.1 2345.6h4.8v4h-4.8zM1668.2 2349.3h4.8v4h-4.8zM1833.1 2349.3h4.8v4h-4.8zM1663.8 2353h9.2v4h-9.2zM1828.7 2353h9.2v4h-9.2zM1663.8 2356.7h9.2v4h-9.2zM1828.7 2356.7h4.8v4h-4.8zM1663.8 2360.4h9.2v4h-9.2zM1824.2 2360.4h9.2v4h-9.2zM1663.8 2364.1h9.2v4h-9.2zM1819.7 2364.1h9.2v4h-9.2zM1663.8 2367.7h9.2v4h-9.2zM1819.7 2367.7h4.8v4h-4.8zM1663.8 2371.4h9.2v4h-9.2zM1815.3 2371.4h4.8v4h-4.8zM1668.2 2375.1h4.8v4h-4.8zM1806.4 2375.1h13.7v4h-13.7zM1672.7 2378.8h4.8v4h-4.8zM1801.9 2378.8h9.2v4h-9.2zM1672.7 2382.5h9.2v4h-9.2zM1793 2382.5h13.7v4h-13.7zM1672.7 2386.2h9.2v4h-9.2zM1766.3 2386.2h31.5v4h-31.5zM1677.1 2389.8h9.2v4h-9.2zM1757.4 2389.8h13.7v4h-13.7zM1681.6 2393.5h9.2v4h-9.2zM1748.4 2393.5h13.7v4h-13.7zM1681.6 2397.2h9.2v4h-9.2zM1739.5 2397.2h13.7v4h-13.7zM1686.1 2400.9h9.2v4h-9.2zM1726.2 2400.9h22.6v4h-22.6zM1686.1 2404.6h13.7v4h-13.7zM1717.3 2404.6h13.7v4h-13.7zM1690.5 2408.3h35.9v4h-35.9zM1699.4 2411.9h18.1v4h-18.1z"/>
<path fill="#10E2FF" d="M1779.6 2264.6h13.7v4h-13.7zM1766.3 2268.3h35.9v4h-35.9zM1717.3 2272h62.7v4h-62.7zM1793 2272h18.1v4h-18.1zM1712.8 2275.6h9.2v4h-9.2zM1801.9 2275.6h13.7v4h-13.7zM1703.9 2279.3h13.7v4h-13.7zM1810.8 2279.3h9.2v4h-9.2zM1699.4 2283h9.2v4h-9.2zM1810.8 2283h9.2v4h-9.2zM1695 2286.7h9.2v4h-9.2zM1815.3 2286.7h9.2v4h-9.2zM1695 2290.4h4.8v4h-4.8zM1815.3 2290.4h9.2v4h-9.2zM1690.5 2294.1h9.2v4h-9.2zM1815.3 2294.1h9.2v4h-9.2zM1690.5 2297.7h9.2v4h-9.2zM1819.7 2297.7h9.2v4h-9.2zM1690.5 2301.4h9.2v4h-9.2zM1819.7 2301.4h9.2v4h-9.2zM1690.5 2305.1h9.2v4h-9.2zM1819.7 2305.1h9.2v4h-9.2zM1690.5 2308.8h9.2v4h-9.2zM1819.7 2308.8h9.2v4h-9.2zM1690.5 2312.5h4.8v4h-4.8zM1819.7 2312.5h9.2v4h-9.2zM1690.5 2316.2h4.8v4h-4.8zM1824.2 2316.2h4.8v4h-4.8zM1690.5 2319.8h4.8v4h-4.8zM1824.2 2319.8h9.2v4h-9.2zM1686.1 2323.5h9.2v4h-9.2zM1828.7 2323.5h4.8v4h-4.8zM1686.1 2327.2h9.2v4h-9.2zM1828.7 2327.2h4.8v4h-4.8zM1681.6 2330.9h9.2v4h-9.2zM1828.7 2330.9h4.8v4h-4.8zM1677.1 2334.6h9.2v4h-9.2zM1828.7 2334.6h4.8v4h-4.8zM1677.1 2338.3h9.2v4h-9.2zM1828.7 2338.3h4.8v4h-4.8zM1672.7 2342h9.2v4h-9.2zM1828.7 2342h4.8v4h-4.8zM1672.7 2345.6h4.8v4h-4.8zM1828.7 2345.6h4.8v4h-4.8zM1672.7 2349.3h4.8v4h-4.8zM1824.2 2349.3h9.2v4h-9.2zM1672.7 2353h4.8v4h-4.8zM1824.2 2353h4.8v4h-4.8zM1672.7 2356.7h4.8v4h-4.8zM1819.7 2356.7h9.2v4h-9.2zM1672.7 2360.4h4.8v4h-4.8zM1815.3 2360.4h9.2v4h-9.2zM1672.7 2364.1h4.8v4h-4.8zM1815.3 2364.1h4.8v4h-4.8zM1672.7 2367.7h4.8v4h-4.8zM1810.8 2367.7h9.2v4h-9.2zM1672.7 2371.4h4.8v4h-4.8zM1801.9 2371.4h13.7v4h-13.7zM1672.7 2375.1h9.2v4h-9.2zM1779.6 2375.1h27v4h-27zM1677.1 2378.8h9.2v4h-9.2zM1766.3 2378.8h35.9v4h-35.9zM1681.6 2382.5h4.8v4h-4.8zM1757.4 2382.5h35.9v4h-35.9zM1681.6 2386.2h9.2v4h-9.2zM1748.4 2386.2h18.1v4h-18.1zM1686.1 2389.8h9.2v4h-9.2zM1744 2389.8h13.7v4h-13.7zM1690.5 2393.5h9.2v4h-9.2zM1735.1 2393.5h13.7v4h-13.7zM1690.5 2397.2h13.7v4h-13.7zM1717.3 2397.2h22.6v4h-22.6zM1695 2400.9h31.5v4h-31.5zM1699.4 2404.6h18.1v4h-18.1z"/>
<path fill="#16F854" d="M1779.6 2272h13.7v4h-13.7zM1721.7 2275.6h80.5v4h-80.5zM1717.3 2279.3h93.9v4h-93.9zM1708.3 2283h13.7v4h-13.7zM1770.7 2283h40.4v4h-40.4zM1703.9 2286.7h9.2v4h-9.2zM1775.2 2286.7h40.4v4h-40.4zM1699.4 2290.4h9.2v4h-9.2zM1775.2 2290.4h40.4v4h-40.4zM1699.4 2294.1h9.2v4h-9.2zM1770.7 2294.1h44.9v4h-44.9zM1699.4 2297.7h4.8v4h-4.8zM1770.7 2297.7h49.3v4h-49.3zM1699.4 2301.4h4.8v4h-4.8zM1766.3 2301.4h53.8v4h-53.8zM1699.4 2305.1h4.8v4h-4.8zM1766.3 2305.1h53.8v4h-53.8zM1699.4 2308.8h4.8v4h-4.8zM1766.3 2308.8h53.8v4h-53.8zM1695 2312.5h9.2v4h-9.2zM1761.8 2312.5h58.2v4h-58.2zM1695 2316.2h9.2v4h-9.2zM1761.8 2316.2h13.7v4h-13.7zM1806.4 2316.2h18.1v4h-18.1zM1695 2319.8h9.2v4h-9.2zM1752.9 2319.8h22.6v4h-22.6zM1810.8 2319.8h13.7v4h-13.7zM1695 2323.5h9.2v4h-9.2zM1748.4 2323.5h22.6v4h-22.6zM1810.8 2323.5h18.1v4h-18.1zM1695 2327.2h4.8v4h-4.8zM1752.9 2327.2h13.7v4h-13.7zM1815.3 2327.2h13.7v4h-13.7zM1690.5 2330.9h9.2v4h-9.2zM1752.9 2330.9h9.2v4h-9.2zM1819.7 2330.9h9.2v4h-9.2zM1686.1 2334.6h9.2v4h-9.2zM1824.2 2334.6h4.8v4h-4.8zM1686.1 2338.3h9.2v4h-9.2zM1824.2 2338.3h4.8v4h-4.8zM1681.6 2342h13.7v4h-13.7zM1824.2 2342h4.8v4h-4.8zM1677.1 2345.6h18.1v4h-18.1zM1824.2 2345.6h4.8v4h-4.8zM1677.1 2349.3h13.7v4h-13.7zM1819.7 2349.3h4.8v4h-4.8zM1677.1 2353h9.2v4h-9.2zM1815.3 2353h9.2v4h-9.2zM1677.1 2356.7h9.2v4h-9.2zM1810.8 2356.7h9.2v4h-9.2zM1677.1 2360.4h4.8v4h-4.8zM1810.8 2360.4h4.8v4h-4.8zM1677.1 2364.1h4.8v4h-4.8zM1806.4 2364.1h9.2v4h-9.2zM1677.1 2367.7h4.8v4h-4.8zM1748.4 2367.7h62.7v4h-62.7zM1677.1 2371.4h9.2v4h-9.2zM1744 2371.4h58.2v4h-58.2zM1681.6 2375.1h4.8v4h-4.8zM1744 2375.1h35.9v4h-35.9zM1686.1 2378.8h4.8v4h-4.8zM1744 2378.8h22.6v4h-22.6zM1686.1 2382.5h9.2v4h-9.2zM1744 2382.5h13.7v4h-13.7zM1690.5 2386.2h9.2v4h-9.2zM1739.5 2386.2h9.2v4h-9.2zM1695 2389.8h49.3v4h-49.3zM1699.4 2393.5h35.9v4h-35.9zM1703.9 2397.2h13.7v4h-13.7z"/>
<path fill="#E2FA12" d="M1721.7 2283h49.3v4h-49.3zM1712.8 2286.7h13.7v4h-13.7zM1757.4 2286.7h18.1v4h-18.1zM1708.3 2290.4h13.7v4h-13.7zM1761.8 2290.4h13.7v4h-13.7zM1708.3 2294.1h9.2v4h-9.2zM1761.8 2294.1h9.2v4h-9.2zM1703.9 2297.7h9.2v4h-9.2zM1761.8 2297.7h9.2v4h-9.2zM1703.9 2301.4h9.2v4h-9.2zM1761.8 2301.4h4.8v4h-4.8zM1703.9 2305.1h9.2v4h-9.2zM1757.4 2305.1h9.2v4h-9.2zM1703.9 2308.8h9.2v4h-9.2zM1752.9 2308.8h13.7v4h-13.7zM1703.9 2312.5h9.2v4h-9.2zM1748.4 2312.5h13.7v4h-13.7zM1703.9 2316.2h9.2v4h-9.2zM1744 2316.2h18.1v4h-18.1zM1775.2 2316.2h31.5v4h-31.5zM1703.9 2319.8h9.2v4h-9.2zM1739.5 2319.8h13.7v4h-13.7zM1775.2 2319.8h35.9v4h-35.9zM1703.9 2323.5h9.2v4h-9.2zM1739.5 2323.5h9.2v4h-9.2zM1770.7 2323.5h9.2v4h-9.2zM1806.4 2323.5h4.8v4h-4.8zM1699.4 2327.2h9.2v4h-9.2zM1739.5 2327.2h13.7v4h-13.7zM1766.3 2327.2h9.2v4h-9.2zM1806.4 2327.2h9.2v4h-9.2zM1699.4 2330.9h9.2v4h-9.2zM1744 2330.9h9.2v4h-9.2zM1761.8 2330.9h9.2v4h-9.2zM1810.8 2330.9h9.2v4h-9.2zM1695 2334.6h9.2v4h-9.2zM1748.4 2334.6h18.1v4h-18.1zM1815.3 2334.6h9.2v4h-9.2zM1695 2338.3h4.8v4h-4.8zM1752.9 2338.3h13.7v4h-13.7zM1815.3 2338.3h9.2v4h-9.2zM1695 2342h4.8v4h-4.8zM1757.4 2342h4.8v4h-4.8zM1815.3 2342h9.2v4h-9.2zM1695 2345.6h4.8v4h-4.8zM1815.3 2345.6h9.2v4h-9.2zM1690.5 2349.3h9.2v4h-9.2zM1810.8 2349.3h9.2v4h-9.2zM1686.1 2353h9.2v4h-9.2zM1806.4 2353h9.2v4h-9.2zM1686.1 2356.7h4.8v4h-4.8zM1806.4 2356.7h4.8v4h-4.8zM1681.6 2360.4h9.2v4h-9.2zM1797.5 2360.4h13.7v4h-13.7zM1681.6 2364.1h9.2v4h-9.2zM1739.5 2364.1h67.1v4h-67.1zM1681.6 2367.7h9.2v4h-9.2zM1739.5 2367.7h9.2v4h-9.2zM1686.1 2371.4h4.8v4h-4.8zM1739.5 2371.4h4.8v4h-4.8zM1686.1 2375.1h9.2v4h-9.2zM1739.5 2375.1h4.8v4h-4.8zM1690.5 2378.8h9.2v4h-9.2zM1739.5 2378.8h4.8v4h-4.8zM1695 2382.5h9.2v4h-9.2zM1735.1 2382.5h9.2v4h-9.2zM1699.4 2386.2h40.4v4h-40.4z"/>
<path fill="#FCFA14" d="M1726.2 2286.7h31.5v4h-31.5zM1721.7 2290.4h40.4v4h-40.4zM1717.3 2294.1h44.9v4h-44.9zM1712.8 2297.7h49.3v4h-49.3zM1712.8 2301.4h49.3v4h-49.3zM1712.8 2305.1h44.9v4h-44.9zM1712.8 2308.8h40.4v4h-40.4zM1712.8 2312.5h35.9v4h-35.9zM1712.8 2316.2h31.5v4h-31.5zM1712.8 2319.8h27v4h-27zM1712.8 2323.5h27v4h-27zM1779.6 2323.5h27v4h-27zM1708.3 2327.2h31.5v4h-31.5zM1775.2 2327.2h31.5v4h-31.5zM1708.3 2330.9h35.9v4h-35.9zM1770.7 2330.9h40.4v4h-40.4zM1703.9 2334.6h44.9v4h-44.9zM1766.3 2334.6h22.6v4h-22.6zM1797.5 2334.6h18.1v4h-18.1zM1699.4 2338.3h53.8v4h-53.8zM1766.3 2338.3h18.1v4h-18.1zM1797.5 2338.3h18.1v4h-18.1zM1699.4 2342h13.7v4h-13.7zM1726.2 2342h31.5v4h-31.5zM1761.8 2342h18.1v4h-18.1zM1797.5 2342h18.1v4h-18.1zM1699.4 2345.6h9.2v4h-9.2zM1730.6 2345.6h44.9v4h-44.9zM1797.5 2345.6h18.1v4h-18.1zM1699.4 2349.3h9.2v4h-9.2zM1730.6 2349.3h49.3v4h-49.3zM1793 2349.3h18.1v4h-18.1zM1695 2353h9.2v4h-9.2zM1730.6 2353h76.1v4h-76.1zM1690.5 2356.7h9.2v4h-9.2zM1730.6 2356.7h76.1v4h-76.1zM1690.5 2360.4h9.2v4h-9.2zM1730.6 2360.4h67.1v4h-67.1zM1690.5 2364.1h9.2v4h-9.2zM1726.2 2364.1h13.7v4h-13.7zM1690.5 2367.7h9.2v4h-9.2zM1721.7 2367.7h18.1v4h-18.1zM1690.5 2371.4h9.2v4h-9.2zM1717.3 2371.4h22.6v4h-22.6zM1695 2375.1h44.9v4h-44.9zM1699.4 2378.8h40.4v4h-40.4zM1703.9 2382.5h31.5v4h-31.5z"/>
<path fill="#FBDFBC" d="M1788.5 2334.6h9.2v4h-9.2zM1784.1 2338.3h13.7v4h-13.7zM1712.8 2342h13.7v4h-13.7zM1779.6 2342h18.1v4h-18.1zM1708.3 2345.6h22.6v4h-22.6zM1775.2 2345.6h22.6v4h-22.6zM1708.3 2349.3h22.6v4h-22.6zM1779.6 2349.3h13.7v4h-13.7zM1703.9 2353h27v4h-27zM1699.4 2356.7h31.5v4h-31.5zM1699.4 2360.4h31.5v4h-31.5zM1699.4 2364.1h27v4h-27zM1699.4 2367.7h22.6v4h-22.6zM1699.4 2371.4h18.1v4h-18.1z"/>
<path d="M1752.9 2238.8V2423M1641.5 2330.9H1864.3" stroke="#000" stroke-width="1.5" stroke-dasharray="5 4" fill="none"/>
<path d="M1641.5 2238.8V2423M1641.5 2423H1864.3" stroke="#000" stroke-width="1.3" fill="none"/>
<line x1="1629.5" y1="2238.8" x2="1641.5" y2="2238.8" stroke="#000" stroke-width="1.5"/>
<line x1="1641.5" y1="2423" x2="1641.5" y2="2435.5" stroke="#000" stroke-width="1.5"/>
<line x1="1629.5" y1="2284.9" x2="1641.5" y2="2284.9" stroke="#000" stroke-width="1.5"/>
<line x1="1697.2" y1="2423" x2="1697.2" y2="2435.5" stroke="#000" stroke-width="1.5"/>
<line x1="1629.5" y1="2330.9" x2="1641.5" y2="2330.9" stroke="#000" stroke-width="1.5"/>
<line x1="1752.9" y1="2423" x2="1752.9" y2="2435.5" stroke="#000" stroke-width="1.5"/>
<line x1="1629.5" y1="2376.9" x2="1641.5" y2="2376.9" stroke="#000" stroke-width="1.5"/>
<line x1="1808.6" y1="2423" x2="1808.6" y2="2435.5" stroke="#000" stroke-width="1.5"/>
<line x1="1629.5" y1="2423" x2="1641.5" y2="2423" stroke="#000" stroke-width="1.5"/>
<line x1="1864.3" y1="2423" x2="1864.3" y2="2435.5" stroke="#000" stroke-width="1.5"/>
<text x="1641.5" y="2467.5" font-size="23.8" text-anchor="middle" stroke="#000" stroke-width="0.45">-1.0</text>
<text x="1752.9" y="2467.5" font-size="23.8" text-anchor="middle" stroke="#000" stroke-width="0.45">0.0</text>
<text x="1864.3" y="2467.5" font-size="23.8" text-anchor="middle" stroke="#000" stroke-width="0.45">1.0</text>
<text x="1752.9" y="2224.3" font-size="23.7" text-anchor="middle" stroke="#000" stroke-width="0.45">RCB–III</text>
<text x="1293" y="2194" font-size="27.3" text-anchor="middle" stroke="#000" stroke-width="0.45" transform="rotate(-90 1293 2194)">Immune score (STAT1)</text>
<text x="1609" y="2510" font-size="27.3" text-anchor="middle" stroke="#000" stroke-width="0.45">Proliferation score (GGI)</text>
</svg></body></html>
